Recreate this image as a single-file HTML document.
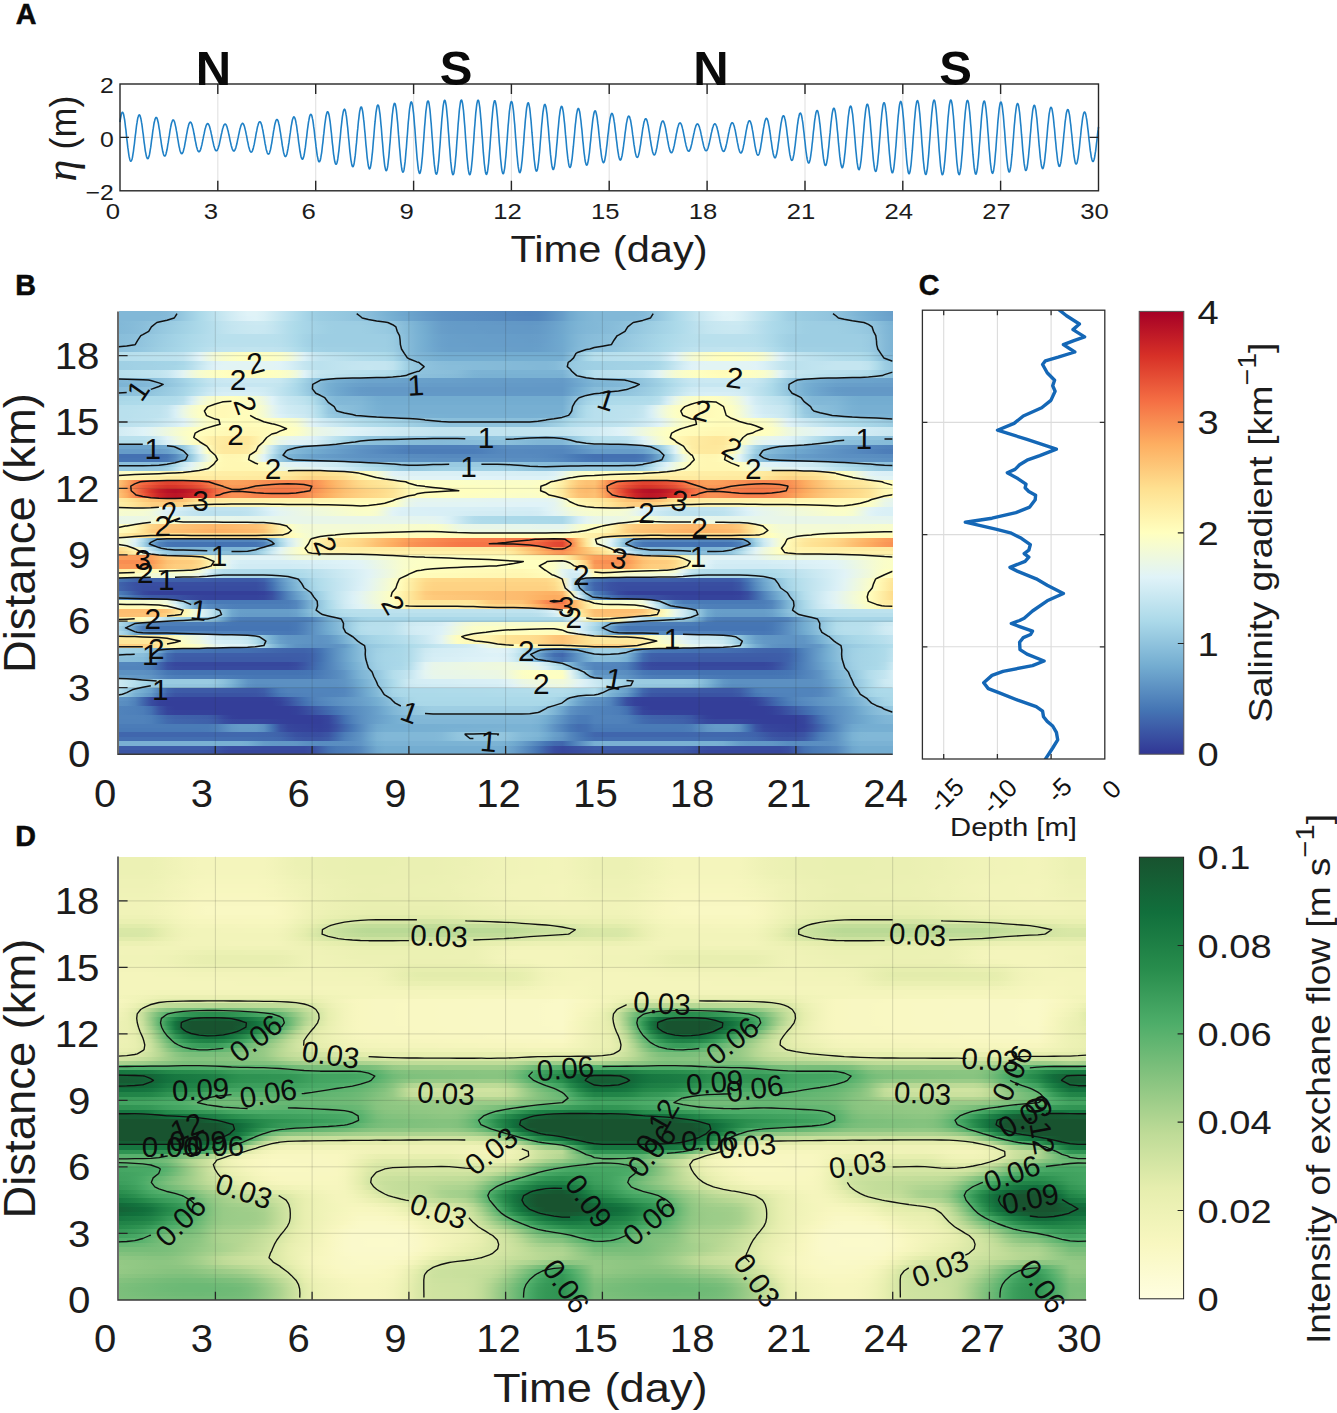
<!DOCTYPE html>
<html><head><meta charset="utf-8"><title>figure</title>
<style>
html,body{margin:0;padding:0;background:#fff}
#fig{position:relative;width:1337px;height:1413px;overflow:hidden;background:#fff;font-family:"Liberation Sans",sans-serif}
.hm{position:absolute;top:0;height:1413px;overflow:hidden}
.hm i{position:absolute;left:0;width:100%;display:block}
#ov{position:absolute;left:0;top:0}
svg text{font-family:"Liberation Sans",sans-serif}
svg .eta{font-family:"Liberation Serif",serif;font-style:italic;font-size:44px}
</style></head><body>
<div id="fig">
<div class="hm" style="left:118.6px;width:774px"><i style="top:749.57px;height:5.03px;background:linear-gradient(90deg,#3b56a5,#3b56a5,#3b56a5,#3b56a5,#3b56a5,#3b56a5,#3b56a5,#3b56a5,#3b56a5,#3b56a5,#3b56a5,#3b55a4,#3a52a3,#374a9f,#36469d,#36469d,#36469d,#36469d,#36469d,#36469d,#36469d,#36469d,#36469d,#36469d,#384ca0,#3e5ea8,#4370b1,#4878b6,#4b7cb8,#4e80ba,#5588be,#6298c6,#6fa7ce,#74add1,#74add1,#74add1,#74add1,#74add1,#74add1,#74add1,#74add1,#74add1,#74add1,#74add1,#74add1,#74add1,#74add1,#74add1,#71a9cf,#689fca,#5d91c3,#5183bb,#4473b3,#3e5ea9,#384ca0,#36469d,#37499f,#384da1,#3a51a2,#3b55a4,#3b56a5,#3b56a5,#3b56a5,#3b56a5,#3b56a5,#3b56a5,#3b56a5,#3b56a5,#3b56a5,#3b56a5,#3b55a4,#3a52a3,#374a9f,#36479d,#36469d,#36469d,#36469d,#36469d,#36469d,#36469d,#36469d,#36469d,#36469d,#384ca0,#3d5ca8,#436eb1,#4778b5,#4b7cb7,#4e80b9,#5487bd,#6197c5,#6ea6cd,#73acd1,#74add1,#74add1,#74add1,#74add1)"></i><i style="top:745.15px;height:5.03px;background:linear-gradient(90deg,#3d5da8,#3d5da8,#3d5da8,#3d5da8,#3d5da8,#3d5da8,#3d5da8,#3d5da8,#3d5da8,#3d5da8,#3d5da8,#3d5ca8,#3c59a6,#3a52a3,#394ea1,#394ea1,#394ea1,#384da0,#384ca0,#384ca0,#384ca0,#384ca0,#384ca0,#384ca0,#3a51a2,#3f61aa,#4472b3,#497ab6,#4c7db8,#4f81ba,#5689be,#6399c6,#70a8ce,#74add1,#74add1,#74add1,#74add1,#74add1,#74add1,#74add1,#74add1,#74add1,#74add1,#74add1,#74add1,#74add1,#74add1,#74add1,#71aacf,#699fca,#5d92c3,#5184bc,#4574b4,#3e5fa9,#394ea1,#37489e,#384da0,#3a52a3,#3c57a5,#3d5ca8,#3d5da8,#3d5da8,#3d5da8,#3d5da8,#3d5da8,#3d5da8,#3d5da8,#3d5da8,#3d5da8,#3d5da8,#3d5ca8,#3c59a6,#3a52a3,#394fa1,#394ea1,#394ea1,#384da0,#384ca0,#384ca0,#384ca0,#384ca0,#384ca0,#384ca0,#3951a2,#3e60aa,#4471b2,#4879b6,#4c7db8,#4f81ba,#5588be,#6297c6,#6fa7ce,#74add1,#74add1,#74add1,#74add1,#74add1)"></i><i style="top:740.72px;height:5.03px;background:linear-gradient(90deg,#7ab1d3,#7ab1d3,#7ab1d3,#7ab1d3,#7ab1d3,#7ab1d3,#7ab1d3,#7ab1d3,#7ab1d3,#7ab1d3,#7ab1d3,#7ab1d3,#79b1d3,#79b1d3,#79b1d3,#79b1d3,#75aed2,#6da5cd,#669cc8,#6399c7,#6398c6,#6298c6,#6196c5,#5d91c3,#598dc0,#588cc0,#598dc1,#5a8ec1,#5b8fc2,#5c90c2,#6095c5,#6ba2cb,#76afd2,#7ab2d4,#7bb2d4,#7bb2d4,#7bb2d4,#7bb2d4,#7bb2d4,#7bb2d4,#7bb3d4,#7bb3d4,#7bb3d4,#7cb3d4,#7cb3d4,#7cb3d4,#7cb3d4,#7bb3d4,#79b1d3,#71aacf,#689fca,#5d92c3,#5284bc,#4676b5,#426aaf,#4066ad,#4879b6,#588bc0,#689ec9,#78b0d3,#7ab1d3,#7ab1d3,#7ab1d3,#7ab1d3,#7ab1d3,#7ab1d3,#7ab1d3,#7ab1d3,#7ab1d3,#7ab1d3,#7ab1d3,#79b1d3,#79b1d3,#79b1d3,#79b1d3,#76aed2,#6ea6cd,#669dc9,#6399c7,#6398c6,#6298c6,#6196c5,#5d92c3,#598dc1,#598cc0,#598dc0,#5a8ec1,#5b8fc2,#5c90c2,#6095c4,#6aa1cb,#75aed1,#7ab2d4,#7bb2d4,#7bb2d4,#7bb2d4,#7bb2d4)"></i><i style="top:736.3px;height:5.03px;background:linear-gradient(90deg,#436eb1,#436eb1,#436eb1,#436eb1,#436eb1,#436eb1,#436eb1,#436eb1,#436eb1,#436eb1,#436eb1,#436eb1,#436eb1,#436eb1,#436eb1,#436eb1,#436eb0,#426db0,#426baf,#426baf,#4168ae,#3e60aa,#3c58a6,#3b55a4,#3b54a4,#3b55a4,#3d5ba7,#436db0,#4e80ba,#578bbf,#6095c5,#6ea6cd,#7cb3d4,#81b7d7,#81b7d7,#81b7d7,#81b7d7,#81b7d7,#81b7d7,#81b8d7,#84bad8,#8abfdb,#91c4de,#94c6df,#94c6df,#94c6df,#94c6df,#94c6df,#91c4de,#89beda,#82b8d7,#7eb5d5,#79b1d3,#70a8ce,#669cc8,#5f94c4,#5487bd,#4c7db8,#4575b4,#436eb1,#436eb1,#436eb1,#436eb1,#436eb1,#436eb1,#436eb1,#436eb1,#436eb1,#436eb1,#436eb1,#436eb1,#436eb1,#436eb1,#436eb1,#436eb1,#436eb0,#426db0,#426caf,#426baf,#4168ae,#3f61aa,#3c59a6,#3b55a4,#3b54a4,#3b55a4,#3d5ba7,#426cb0,#4d7fb9,#568abf,#5f94c4,#6da4cc,#7ab2d4,#80b7d6,#81b7d7,#81b7d7,#81b7d7,#81b7d7)"></i><i style="top:731.87px;height:5.03px;background:linear-gradient(90deg,#4066ad,#4066ad,#4066ad,#4066ad,#4066ad,#4066ad,#4066ad,#4066ad,#4066ad,#4066ad,#4066ad,#4066ad,#4067ad,#4167ad,#4168ad,#4168ae,#4168ae,#4168ae,#4167ad,#4066ac,#3f62aa,#3c59a6,#3951a2,#384ea1,#384da0,#394ea1,#3b55a4,#4169ae,#4c7db8,#5689be,#5f94c4,#6ea5cd,#7cb3d4,#81b7d7,#81b8d7,#81b8d7,#81b8d7,#81b8d7,#81b8d7,#82b8d7,#84bad8,#8bc0db,#92c5de,#95c7df,#95c8df,#95c8df,#95c8df,#95c7df,#92c5de,#8bc0db,#84bad8,#81b8d7,#7eb5d5,#73acd1,#69a0ca,#6297c6,#5487bd,#4a7bb7,#4370b2,#4167ad,#4066ad,#4066ad,#4066ad,#4066ad,#4066ad,#4066ad,#4066ad,#4066ad,#4066ad,#4066ad,#4066ad,#4067ad,#4167ad,#4168ad,#4168ae,#4168ae,#4168ae,#4167ad,#4066ad,#3f62ab,#3c5aa6,#3a51a2,#394ea1,#384da0,#394ea1,#3b54a4,#4167ad,#4b7cb8,#5588be,#5f94c4,#6ca4cc,#7ab2d4,#80b7d6,#81b8d7,#81b8d7,#81b8d7,#81b8d7)"></i><i style="top:727.44px;height:5.03px;background:linear-gradient(90deg,#497ab7,#497ab7,#497ab7,#497ab7,#497ab7,#497ab7,#497ab7,#497ab7,#497ab7,#497ab7,#497ab7,#4a7bb7,#4d7fb9,#578abf,#6196c5,#649ac7,#649ac7,#6399c7,#5b90c2,#4574b3,#3a54a4,#36479d,#36449c,#35439b,#35429b,#34419a,#36459c,#3b54a4,#4168ad,#497ab7,#578bbf,#669cc8,#71a9cf,#75aed1,#76aed2,#76afd2,#76afd2,#77afd2,#77afd2,#77b0d2,#78b0d3,#79b1d3,#7ab2d4,#7ab2d4,#7bb2d4,#7bb3d4,#7bb3d4,#7cb3d4,#7cb3d4,#7bb3d4,#7bb3d4,#7bb2d4,#77afd2,#6ca3cc,#5e93c4,#5285bc,#4677b5,#436eb1,#4370b1,#4979b6,#497ab7,#497ab7,#497ab7,#497ab7,#497ab7,#497ab7,#497ab7,#497ab7,#497ab7,#497ab7,#4a7bb7,#4d7eb9,#5689be,#6095c5,#6499c7,#649ac7,#6499c7,#5c90c2,#4676b5,#3b56a5,#37489e,#36459c,#35439b,#35429b,#34419a,#36459c,#3a53a3,#4066ad,#4879b6,#568abf,#659bc8,#70a8cf,#75aed1,#76aed2,#76afd2,#76afd2,#77afd2)"></i><i style="top:723.02px;height:5.03px;background:linear-gradient(90deg,#4b7cb8,#4b7cb8,#4b7cb8,#4b7cb8,#4b7cb8,#4b7cb7,#4a7bb7,#4a7bb7,#4a7bb7,#4a7bb7,#4a7bb7,#4a7bb7,#4e7fb9,#578bbf,#6197c6,#659bc8,#659bc8,#649ac7,#5c90c2,#4473b3,#3a52a3,#36459c,#35439b,#35429b,#34409a,#34409a,#35449c,#3a52a3,#4066ad,#4879b6,#578abf,#659bc8,#70a8ce,#74add1,#75aed1,#75aed2,#76aed2,#76afd2,#77afd2,#77afd2,#77b0d2,#78b0d3,#78b0d3,#78b0d3,#79b1d3,#79b1d3,#79b1d3,#7ab1d3,#7ab2d4,#7ab2d4,#7ab2d4,#7ab2d4,#76afd2,#6ba3cc,#5e92c3,#5184bc,#4676b4,#436db0,#4370b2,#4a7bb7,#4b7cb8,#4b7cb8,#4b7cb8,#4b7cb8,#4b7cb7,#4a7bb7,#4a7bb7,#4a7bb7,#4a7bb7,#4a7bb7,#4a7bb7,#4d7fb9,#578abf,#6196c5,#659bc8,#659bc8,#659bc7,#5d91c3,#4575b4,#3b54a4,#36469d,#35439b,#35429b,#34419a,#34409a,#35439c,#3a51a2,#4064ac,#4778b5,#5689be,#649ac7,#6fa7ce,#73acd1,#75add1,#75aed2,#76aed2,#76afd2)"></i><i style="top:718.59px;height:5.03px;background:linear-gradient(90deg,#5082bb,#5082bb,#5082bb,#5082bb,#4d7fb9,#4576b4,#426baf,#4066ad,#4065ac,#4064ab,#3f62ab,#3f61aa,#3d5ba7,#394fa1,#37489e,#36479d,#36479d,#36479d,#36469d,#35439b,#34409a,#343f99,#343e99,#343e99,#343e99,#343f99,#36459d,#3c59a6,#4471b2,#5082bb,#5b8fc1,#6298c6,#69a0ca,#6fa7ce,#74add1,#7ab2d4,#7fb6d6,#81b7d6,#81b7d7,#81b7d7,#81b7d7,#81b7d7,#81b7d7,#81b7d7,#81b7d7,#81b7d7,#81b7d7,#81b7d7,#81b7d7,#81b7d7,#81b7d7,#81b7d7,#7db4d5,#73acd0,#679ec9,#5b90c2,#5082bb,#4a7bb7,#4a7bb7,#5082bb,#5082bb,#5082bb,#5082bb,#4e7fb9,#4676b5,#426caf,#4067ad,#4065ac,#4064ac,#3f63ab,#3f61aa,#3d5ba7,#3950a2,#37499e,#36479d,#36479d,#36479d,#36469d,#35439b,#34409a,#343f99,#343e99,#343e99,#343e99,#343f99,#36459c,#3c58a6,#436fb1,#4f80ba,#5a8ec1,#6297c6,#689fca,#6ea6cd,#74add1,#7ab2d4,#7fb5d6,#80b7d6)"></i><i style="top:714.17px;height:5.03px;background:linear-gradient(90deg,#5183bb,#5183bb,#5183bb,#5082bb,#4d7fb9,#4574b3,#4168ad,#3f63ab,#3f61aa,#3e60aa,#3e5fa9,#3d5da8,#3b56a5,#37489e,#34409a,#343e99,#343e99,#343e99,#343e99,#343e99,#343e99,#343e99,#343e99,#343e99,#343f99,#34409a,#36479d,#3d5ba7,#4472b3,#5183bb,#5b8fc2,#6298c6,#689fca,#6ea6ce,#74add1,#7bb3d4,#80b7d6,#82b8d7,#83b9d7,#83b9d7,#83b9d7,#83b9d7,#83b9d7,#83b9d7,#83b9d7,#83b9d7,#83b9d7,#83b9d7,#83b9d7,#83b9d7,#83b9d7,#82b9d7,#7fb6d6,#75aed1,#69a0ca,#5d92c3,#5184bc,#4b7cb8,#4b7cb8,#5082bb,#5183bb,#5183bb,#5082bb,#4d7fb9,#4575b4,#4169ae,#3f63ab,#3f61aa,#3e60aa,#3e5fa9,#3d5da8,#3b57a5,#37499e,#34419a,#343e99,#343e99,#343e99,#343e99,#343e99,#343e99,#343e99,#343e99,#343e99,#343f99,#34409a,#36469d,#3c59a6,#4471b2,#5082bb,#5a8ec1,#6297c6,#689fc9,#6ea6cd,#74add1,#7bb2d4,#80b7d6,#82b8d7)"></i><i style="top:709.74px;height:5.03px;background:linear-gradient(90deg,#5083bb,#4f81ba,#4e80ba,#4c7db8,#4471b2,#3b56a5,#36459c,#35419b,#35419a,#34419a,#34419a,#34419a,#34409a,#343f99,#343e99,#343e99,#343e99,#343e99,#343e99,#343e99,#343e99,#343e99,#34419a,#37499e,#3a53a3,#3e5ea9,#416aae,#4676b5,#4f81ba,#5689bf,#5c91c2,#6298c6,#6aa1cb,#73acd1,#7fb6d6,#87bcd9,#8ec2dc,#94c7df,#99cbe1,#9bcce2,#9bcce2,#9bcce2,#9bcce2,#9bcce2,#9bcce2,#9bcce2,#9bcce2,#9bcce2,#9bcce2,#9bcce2,#9bcce2,#9bcce2,#97c9e0,#8dc1dc,#7eb5d5,#6da4cd,#5c90c2,#5588be,#5285bc,#5083bb,#4f81ba,#4e80ba,#4c7db8,#4472b3,#3c58a6,#36469d,#35429b,#35419a,#34419a,#34419a,#34419a,#34409a,#343f99,#343e99,#343e99,#343e99,#343e99,#343e99,#343e99,#343e99,#343e99,#34419a,#37489e,#3a53a3,#3e5da8,#4169ae,#4575b4,#4e80ba,#5589be,#5c90c2,#6298c6,#69a0ca,#73abd0,#7eb5d5,#87bcd9,#8ec1dc,#94c7df)"></i><i style="top:705.31px;height:5.03px;background:linear-gradient(90deg,#5183bb,#5082bb,#4e80b9,#4b7cb8,#436fb1,#3a52a3,#35429b,#343e99,#343e99,#343e99,#343e99,#343e99,#343e99,#343e99,#343e99,#343e99,#343e99,#343e99,#343e99,#343e99,#343e99,#343f99,#35429b,#384ca0,#3c57a5,#3f63ab,#436eb1,#4979b6,#5183bb,#578bbf,#5d92c3,#6399c6,#6aa1cb,#75add1,#80b7d6,#89beda,#90c4dd,#97c9e0,#9ccde2,#9ecee3,#9ecee3,#9ecee3,#9ecee3,#9ecee3,#9ecee3,#9ecee3,#9ecee3,#9ecee3,#9ecee3,#9ecee3,#9ecee3,#9dcee3,#9acbe2,#90c3dd,#81b8d7,#70a8ce,#5e93c4,#578abf,#5386bd,#5183bb,#5082bb,#4e80ba,#4b7cb8,#4370b1,#3b55a4,#35439b,#343e99,#343e99,#343e99,#343e99,#343e99,#343e99,#343e99,#343e99,#343e99,#343e99,#343e99,#343e99,#343e99,#343e99,#343f99,#35429b,#384b9f,#3b56a5,#3f62ab,#436db0,#4878b6,#5082bb,#578abf,#5c91c2,#6298c6,#6aa1cb,#74add1,#7fb6d6,#89bdda,#90c3dd,#96c9e0)"></i><i style="top:700.89px;height:5.03px;background:linear-gradient(90deg,#5b8fc1,#588cc0,#4f81ba,#4167ad,#384ca0,#34419a,#343e99,#343e99,#343e99,#343e99,#343e99,#343e99,#343e99,#343e99,#343e99,#343e99,#343e99,#343e99,#343e99,#343e99,#35439b,#3950a2,#3f61aa,#4471b2,#4c7db8,#5284bc,#568abf,#5b8fc1,#5f94c4,#6399c7,#689ec9,#6da5cd,#75aed1,#81b7d7,#8ec2dc,#9bcce2,#a5d4e6,#a9d7e8,#aad8e8,#aad8e8,#aad8e8,#aad8e8,#aad8e8,#aad8e8,#aad8e8,#aad8e8,#aad8e8,#aad8e8,#aad8e8,#aad8e8,#aad8e8,#aad8e8,#a9d8e8,#a8d7e8,#a4d3e6,#99cae1,#7fb6d6,#6ca4cc,#6196c5,#5b8fc2,#588cc0,#5082bb,#416aae,#394ea1,#35419b,#343e99,#343e99,#343e99,#343e99,#343e99,#343e99,#343e99,#343e99,#343e99,#343e99,#343e99,#343e99,#343e99,#343e99,#35429b,#394fa1,#3e60aa,#4370b1,#4b7cb8,#5184bc,#5689bf,#5a8ec1,#5f94c4,#6399c6,#679ec9,#6da4cd,#74add1,#80b6d6,#8dc1dc,#9acce2,#a4d4e6,#a9d7e8)"></i><i style="top:696.46px;height:5.03px;background:linear-gradient(90deg,#5f93c4,#5b8fc2,#5183bb,#4168ae,#384ca0,#35419b,#343f9a,#343f99,#343f99,#343f99,#343f99,#343f99,#343f99,#343f99,#343f99,#343f99,#343f99,#343f99,#343f99,#34409a,#36469d,#3a54a4,#4065ac,#4575b4,#4f80ba,#5487bd,#588cc0,#5c90c2,#6095c5,#649ac7,#69a0ca,#6fa6ce,#76afd2,#83b9d7,#90c4dd,#9dcee3,#a7d6e7,#abd9e9,#abd9e9,#abd9e9,#abd9e9,#abd9e9,#abd9e9,#abd9e9,#abd9e9,#abd9e9,#abd9e9,#abd9e9,#abd9e9,#abd9e9,#abd9e9,#abd9e9,#abd9e9,#abd9e9,#a8d6e7,#9ecee3,#84bad8,#70a9cf,#659bc8,#5f94c4,#5b90c2,#5284bc,#426baf,#394ea1,#35429b,#343f9a,#343f99,#343f99,#343f99,#343f99,#343f99,#343f99,#343f99,#343f99,#343f99,#343f99,#343f99,#343f99,#34409a,#36459c,#3a53a3,#4064ac,#4574b3,#4e80b9,#5487bd,#588cc0,#5c90c2,#6095c4,#649ac7,#689fca,#6ea6cd,#76aed2,#82b8d7,#8fc3dd,#9ccde3,#a7d5e7,#aad9e9)"></i><i style="top:692.04px;height:5.03px;background:linear-gradient(90deg,#a8d6e8,#91c4dd,#78b0d3,#6ca4cc,#6096c5,#4a7bb7,#3e5ea9,#3b54a4,#3a53a4,#3a53a3,#3a53a3,#3a53a3,#3a53a3,#3a53a3,#3a53a3,#3a53a3,#3a53a4,#3b54a4,#3c59a6,#4169ae,#4879b6,#4d7fb9,#4f80ba,#5082bb,#5183bb,#5183bb,#5184bc,#5285bc,#5588be,#5d92c3,#689fca,#74add1,#82b9d7,#94c7df,#a4d3e6,#aad8e8,#abd9e9,#acd9e9,#acdae9,#acdae9,#addae9,#addaea,#addaea,#addaea,#aedaea,#aedaea,#aedbea,#afdbea,#afdbea,#afdbea,#afdbea,#b0dbea,#b0dbea,#b0dcea,#b0dcea,#afdbea,#aad8e9,#a3d2e5,#a2d2e5,#a7d6e7,#92c5de,#7ab2d4,#6da5cd,#6197c5,#4b7db8,#3f61aa,#3b55a4,#3a54a4,#3a53a3,#3a53a3,#3a53a3,#3a53a3,#3a53a3,#3a53a3,#3a53a3,#3a53a4,#3a54a4,#3c59a6,#4168ae,#4778b5,#4d7eb9,#4f80ba,#5082bb,#5083bb,#5183bb,#5184bc,#5284bc,#5588be,#5d91c3,#679ec9,#73abd0,#81b8d7,#93c6de,#a2d2e5,#a9d8e8,#abd9e9,#acd9e9)"></i><i style="top:687.61px;height:5.03px;background:linear-gradient(90deg,#b0dcea,#98cae1,#7fb6d6,#73acd0,#689fca,#5183bb,#4066ad,#3d5ca8,#3d5ba7,#3d5ba7,#3d5ba7,#3d5ba7,#3d5ba7,#3d5aa7,#3c5aa7,#3c59a6,#3c58a6,#3c58a6,#3e5ea9,#436fb1,#4c7eb9,#5183bb,#5183bb,#5184bc,#5184bc,#5184bc,#5184bc,#5184bc,#5487be,#5d92c3,#69a0ca,#75aed1,#84bad8,#96c8e0,#a6d5e7,#acd9e9,#addaea,#addaea,#aedaea,#aedaea,#aedbea,#afdbea,#afdbea,#afdbea,#b0dbea,#b0dbea,#b0dcea,#b1dceb,#b1dceb,#b2dceb,#b2ddeb,#b3ddeb,#b3ddeb,#b3ddeb,#b4ddeb,#b4ddeb,#b0dbea,#aad8e9,#aad8e9,#b0dbea,#9acbe2,#81b7d7,#74add1,#69a0ca,#5285bc,#4169ae,#3d5da8,#3d5ba7,#3d5ba7,#3d5ba7,#3d5ba7,#3d5ba7,#3d5aa7,#3c5aa7,#3c59a6,#3c58a6,#3c58a6,#3e5ea8,#436db0,#4c7db8,#5083bb,#5183bb,#5184bc,#5184bc,#5184bc,#5184bc,#5184bc,#5487bd,#5d91c3,#689ec9,#74add1,#83b9d7,#95c7df,#a4d4e6,#abd9e9,#addaea,#addaea)"></i><i style="top:683.18px;height:5.03px;background:linear-gradient(90deg,#cce9f2,#c1e4ef,#b3ddeb,#a6d5e7,#9ccde2,#96c8e0,#93c6df,#93c6de,#93c5de,#93c5de,#93c5de,#92c5de,#8fc3dd,#86bbd9,#78b0d3,#69a0ca,#5d91c3,#598dc0,#598dc0,#5a8ec1,#5b8fc2,#5b90c2,#5b90c2,#5b90c2,#5b90c2,#5b90c2,#5b90c2,#5c90c2,#5f94c4,#689ec9,#73acd0,#81b7d6,#8ec2dd,#9dcee3,#acdae9,#bde2ee,#cbe8f2,#cfebf3,#d0ebf4,#d1ecf4,#d1ecf4,#d2ecf4,#d3ecf4,#d3edf4,#d4edf4,#d4edf5,#d5edf5,#d5eef5,#d9f0f6,#e1f3f6,#e6f5ec,#e9f6e8,#eaf7e6,#eaf7e5,#ebf7e4,#ecf8e2,#e7f6eb,#e1f3f6,#d7eff6,#cdeaf3,#c2e4f0,#b4deec,#a7d6e7,#9dcde3,#97c9e0,#94c6df,#93c6de,#93c5de,#93c5de,#93c5de,#92c5de,#8fc3dd,#86bcd9,#79b1d3,#6aa1cb,#5e93c3,#598dc0,#598dc0,#5a8ec1,#5b8fc2,#5b90c2,#5b90c2,#5b90c2,#5b90c2,#5b90c2,#5b90c2,#5c90c2,#5e93c4,#679dc9,#72abd0,#7fb6d6,#8dc1dc,#9ccde2,#abd9e9,#bce1ee,#c9e8f2,#cfebf3)"></i><i style="top:678.76px;height:5.03px;background:linear-gradient(90deg,#cbe9f2,#c1e4ef,#b5deec,#a8d7e8,#9ecfe3,#9acce2,#99cbe1,#99cbe1,#99cbe1,#99cbe1,#99cbe1,#99cbe1,#96c8e0,#8cc0db,#7db4d5,#6da4cc,#6095c5,#5c90c2,#5c90c2,#5c90c2,#5c90c2,#5c90c2,#5c90c2,#5c90c2,#5c90c2,#5c90c2,#5c90c2,#5d91c3,#6095c4,#69a0ca,#74add1,#82b8d7,#90c3dd,#9ecee3,#addaea,#bee3ee,#cdeaf3,#d3edf4,#d5edf5,#d5eef5,#d6eef5,#d6eef5,#d7eff5,#d8eff6,#d8eff6,#d9eff6,#d9f0f6,#daf0f6,#def2f7,#e4f5f0,#eaf7e5,#edf8e0,#eef8df,#eff9dd,#eff9dc,#f0f9db,#eaf7e6,#e3f4f2,#d9eff6,#cce9f2,#c2e4ef,#b6deec,#a9d7e8,#9fcfe4,#9bcce2,#9acbe1,#99cbe1,#99cbe1,#99cbe1,#99cbe1,#99cbe1,#96c8e0,#8cc1dc,#7eb5d5,#6ea6cd,#6197c5,#5c91c2,#5c90c2,#5c90c2,#5c90c2,#5c90c2,#5c90c2,#5c90c2,#5c90c2,#5c90c2,#5c90c2,#5c91c2,#5f94c4,#689fca,#73acd1,#81b7d7,#8fc2dd,#9dcde3,#acd9e9,#bde2ee,#cce9f2,#d2ecf4)"></i><i style="top:674.33px;height:5.03px;background:linear-gradient(90deg,#659cc8,#659bc7,#6499c7,#6298c6,#5f94c4,#578abf,#4f81ba,#4c7eb9,#4c7db8,#4c7db8,#4c7db8,#4c7db8,#4c7db8,#4b7cb8,#4a7bb7,#4979b6,#4778b6,#4777b5,#4777b5,#4777b5,#4777b5,#4777b5,#4777b5,#4778b5,#4879b6,#4d7eb9,#5284bc,#578bbf,#6095c4,#6ea5cd,#7db4d5,#88bdda,#93c6de,#a3d3e6,#b3ddeb,#bce1ee,#c5e6f0,#d6eef5,#e3f4f2,#e7f6ec,#e7f6eb,#e8f6ea,#e8f6e9,#e8f6e9,#e9f6e8,#e9f7e7,#eaf7e6,#eaf7e5,#edf8e0,#f4fbd4,#fbfdc7,#fdfec2,#fdfec2,#fefec2,#fefec2,#fefec1,#e6f5ec,#c0e3ef,#93c6df,#689fca,#659bc8,#649ac7,#6298c6,#5f94c4,#588bbf,#5082bb,#4d7eb9,#4c7db8,#4c7db8,#4c7db8,#4c7db8,#4c7db8,#4b7cb8,#4a7bb7,#4979b6,#4878b6,#4777b5,#4777b5,#4777b5,#4777b5,#4777b5,#4777b5,#4778b5,#4879b6,#4c7eb8,#5184bc,#578abf,#5f94c4,#6da4cc,#7cb3d4,#87bcd9,#92c5de,#a2d2e5,#b2dceb,#bbe1ee,#c4e5f0,#d4edf5)"></i><i style="top:669.91px;height:5.03px;background:linear-gradient(90deg,#5c91c2,#5c91c2,#5c91c2,#5c90c2,#598dc0,#5082bb,#4778b5,#4574b3,#4473b3,#4473b3,#4473b3,#4473b3,#4473b3,#4473b3,#4473b3,#4473b3,#4473b3,#4473b3,#4473b3,#4473b3,#4473b3,#4473b3,#4473b3,#4574b4,#4676b5,#4b7cb8,#5183bb,#578bbf,#6095c5,#6ea6ce,#7eb5d5,#89beda,#94c6df,#a4d3e6,#b3ddeb,#bbe1ee,#c4e5f0,#d6eef5,#e4f5f1,#e8f6ea,#e9f6e8,#e9f6e8,#e9f7e7,#eaf7e6,#eaf7e5,#ebf7e5,#ebf7e4,#ecf7e3,#eef8de,#f5fbd1,#fcfec5,#feffc1,#feffc1,#fdfec2,#fdfec3,#fcfec4,#e4f4f1,#b9e0ed,#8abfdb,#5f94c4,#5c91c2,#5c91c2,#5c90c2,#598dc0,#5183bb,#4878b6,#4574b4,#4573b3,#4473b3,#4473b3,#4473b3,#4473b3,#4473b3,#4473b3,#4473b3,#4473b3,#4473b3,#4473b3,#4473b3,#4473b3,#4473b3,#4473b3,#4574b4,#4676b5,#4a7bb7,#5082bb,#578abf,#5f94c4,#6da5cd,#7db4d5,#88bdda,#93c6de,#a3d2e5,#b2dceb,#bae1ed,#c3e5f0,#d4edf5)"></i><i style="top:665.48px;height:5.03px;background:linear-gradient(90deg,#5284bc,#5284bc,#5284bc,#5184bc,#4c7db8,#4168ae,#3a52a3,#384b9f,#374a9f,#374a9f,#374a9f,#374a9f,#374a9f,#374a9f,#374a9f,#374a9f,#374a9f,#374a9f,#374a9f,#374a9f,#374a9f,#374a9f,#394ea1,#3c59a6,#4067ad,#4676b4,#5183bb,#5c90c2,#689ec9,#74acd1,#82b8d7,#92c5de,#9fcfe4,#a5d4e7,#a9d7e8,#acd9e9,#b5deec,#cdeaf3,#e3f4f3,#e8f6e9,#e9f7e7,#eaf7e6,#ebf7e4,#ebf7e3,#ecf8e2,#edf8e0,#eef8df,#eef9de,#eff9dd,#eef8de,#edf8e0,#ebf7e3,#e6f5ec,#d8eff6,#c2e4ef,#aedbea,#89beda,#6da4cd,#5c91c2,#5285bc,#5284bc,#5284bc,#5184bc,#4c7db8,#416aae,#3a54a4,#384b9f,#374a9f,#374a9f,#374a9f,#374a9f,#374a9f,#374a9f,#374a9f,#374a9f,#374a9f,#374a9f,#374a9f,#374a9f,#374a9f,#374a9f,#384da1,#3c58a6,#4066ac,#4575b4,#5082bb,#5b8fc2,#679dc9,#73abd0,#81b7d7,#91c4dd,#9ecee3,#a5d4e6,#a8d7e8,#abd9e9,#b4deec,#cbe9f2)"></i><i style="top:661.05px;height:5.03px;background:linear-gradient(90deg,#5386bd,#5386bd,#5386bd,#5285bc,#4c7eb8,#4167ad,#3950a2,#37479e,#36479d,#36479d,#36479d,#36479d,#36479d,#36479d,#36479d,#36479d,#36479d,#36479d,#36479d,#36479d,#36479d,#36479d,#384b9f,#3b56a5,#4065ac,#4575b4,#5183bb,#5d91c3,#689fca,#74add1,#83b9d7,#93c6de,#a0d0e4,#a5d5e7,#a8d6e8,#aad8e9,#b3ddeb,#cce9f2,#e2f4f4,#e8f6ea,#e9f6e8,#e9f7e7,#eaf7e5,#ebf7e4,#ecf8e2,#edf8e1,#edf8df,#eef8de,#eef8de,#edf8e1,#eaf7e5,#e7f6eb,#e1f4f6,#cdeaf3,#b5deec,#a0d0e4,#7eb5d5,#669dc9,#598dc1,#5386bd,#5386bd,#5386bd,#5285bc,#4d7eb9,#4169ae,#3a51a3,#37489e,#36479d,#36479d,#36479d,#36479d,#36479d,#36479d,#36479d,#36479d,#36479d,#36479d,#36479d,#36479d,#36479d,#36479d,#384b9f,#3b55a4,#4064ac,#4574b3,#5082bb,#5c90c2,#679ec9,#73acd1,#82b8d7,#92c5de,#9fcfe4,#a5d4e6,#a7d6e7,#aad8e8,#b3ddeb,#cae8f2)"></i><i style="top:656.63px;height:5.03px;background:linear-gradient(90deg,#89beda,#88bdda,#86bcd9,#84bad8,#77afd2,#598dc1,#416aaf,#3d5da8,#3d5ba7,#3d5ba7,#3d5ba7,#3d5ba7,#3d5ba7,#3d5ba7,#3d5ba7,#3d5ba7,#3d5ba7,#3d5ba7,#3d5ba7,#3d5ba7,#3d5ba7,#3d5ba7,#3d5ca8,#3d5da8,#3f63ab,#4472b2,#5083bb,#5e93c3,#6ba2cb,#79b1d3,#88bdda,#96c8e0,#a1d1e5,#a6d5e7,#a8d6e8,#aad8e8,#b0dcea,#c0e3ef,#d0ebf3,#d6eef5,#d8eff6,#d9f0f6,#daf0f6,#dcf1f7,#ddf2f7,#def2f8,#e0f3f8,#e0f3f7,#ddf1f7,#cfebf3,#b8e0ed,#98cae1,#75aed1,#5c90c2,#497ab7,#4471b2,#5083bb,#6196c5,#73abd0,#87bdd9,#88bdda,#87bcd9,#84bad8,#78b0d3,#5c90c2,#426db0,#3e5ea8,#3d5ba7,#3d5ba7,#3d5ba7,#3d5ba7,#3d5ba7,#3d5ba7,#3d5ba7,#3d5ba7,#3d5ba7,#3d5ba7,#3d5ba7,#3d5ba7,#3d5ba7,#3d5ba7,#3d5ca8,#3d5da8,#3f63ab,#4471b2,#4f81ba,#5d91c3,#6aa1cb,#77b0d3,#86bcd9,#95c7df,#a0d0e4,#a5d4e6,#a7d6e7,#aad8e8,#b0dbea,#bfe3ef)"></i><i style="top:652.2px;height:5.03px;background:linear-gradient(90deg,#8fc3dd,#8ec2dc,#8cc0dc,#8abeda,#7cb4d5,#5d91c3,#426db0,#3e5fa9,#3e5ea9,#3e5ea9,#3e5ea9,#3e5ea9,#3e5ea9,#3e5ea9,#3e5ea9,#3e5ea9,#3e5ea9,#3e5ea9,#3e5ea9,#3e5ea8,#3e5ea8,#3e5da8,#3e5da8,#3e5ea9,#3f63ab,#4472b2,#5083bb,#5e93c3,#6ba2cc,#79b1d3,#88bdda,#96c8e0,#a1d1e5,#a6d5e7,#a8d6e7,#aad8e8,#b0dbea,#bfe3ef,#ceeaf3,#d4edf5,#d5eef5,#d7eef5,#d8eff6,#d9f0f6,#dbf0f7,#dcf1f7,#ddf2f7,#def2f8,#daf0f6,#cbe9f2,#b3ddeb,#90c3dd,#6ca4cc,#5285bc,#436fb1,#4167ad,#4d7eb9,#6196c5,#76aed2,#8dc1dc,#8ec2dc,#8cc1dc,#8abedb,#7db4d5,#5f94c4,#4370b2,#3e60aa,#3e5ea9,#3e5ea9,#3e5ea9,#3e5ea9,#3e5ea9,#3e5ea9,#3e5ea9,#3e5ea9,#3e5ea9,#3e5ea9,#3e5ea9,#3e5ea8,#3e5ea8,#3e5da8,#3e5da8,#3e5ea9,#3f62ab,#4470b2,#4f81ba,#5d91c3,#6aa1cb,#78b0d3,#87bcd9,#95c7df,#a0d0e4,#a5d4e6,#a7d6e7,#aad8e8,#afdbea,#bee2ee)"></i><i style="top:647.78px;height:5.03px;background:linear-gradient(90deg,#a2d2e5,#a1d1e5,#9fd0e4,#9dcee3,#90c3dd,#6fa6ce,#5184bc,#4778b5,#4676b5,#4676b5,#4575b4,#4573b3,#4472b2,#4471b2,#4471b2,#4471b2,#4370b1,#436db0,#426aaf,#4168ad,#4065ac,#3f64ab,#3f63ab,#3f63ab,#4167ad,#4574b4,#5184bc,#5e93c3,#6aa2cb,#79b1d3,#88bdda,#96c8e0,#a0d0e4,#a5d4e6,#a7d6e7,#a9d8e8,#b0dbea,#bee2ee,#cce9f2,#d2ecf4,#d4edf5,#d5eef5,#d7eef5,#d8eff6,#daf0f6,#ddf1f7,#e0f3f8,#e1f3f6,#dff2f8,#d2ecf4,#bce2ee,#9dcee3,#7bb3d4,#6398c6,#5285bc,#4d7fb9,#5f94c4,#72abd0,#89beda,#a0d0e4,#a1d1e5,#9fd0e4,#9dcee3,#91c4de,#71a9cf,#5487bd,#4879b6,#4676b5,#4676b5,#4575b4,#4574b3,#4472b2,#4471b2,#4471b2,#4471b2,#4370b1,#436db0,#426baf,#4168ae,#4065ac,#4064ab,#3f63ab,#3f63ab,#4067ad,#4473b3,#5083bb,#5d91c3,#69a0ca,#77b0d2,#87bcd9,#95c7df,#9fd0e4,#a4d4e6,#a7d6e7,#a9d8e8,#afdbea,#bde2ee)"></i><i style="top:643.35px;height:5.03px;background:linear-gradient(90deg,#fed081,#fed081,#fed081,#fed182,#fed888,#fee79b,#fff5af,#fffbb8,#fffdbc,#feffc0,#fafdc9,#f0f9db,#e6f5ed,#e2f4f4,#e1f3f6,#dff3f8,#d7eff5,#c1e4ef,#a6d5e7,#8bbfdb,#74add1,#669dc9,#5e93c3,#5b90c2,#5b8fc2,#5c90c2,#5c91c2,#5e92c3,#649ac7,#75aed2,#8abedb,#94c7df,#99cbe1,#9ecfe3,#a3d2e5,#a7d6e7,#acdae9,#b3ddeb,#bae0ed,#c0e4ef,#c6e6f1,#cae8f2,#cde9f2,#cfebf3,#d6eef5,#e3f4f2,#eef8de,#f5fbd1,#fbfec6,#fffebd,#fff9b6,#fff6b1,#fff4ae,#fff4ae,#fff4ae,#fff4ae,#feeda4,#fee698,#fedd8d,#fed182,#fed081,#fed081,#fed182,#fed788,#fee69a,#fff4ae,#fffab8,#fffdbc,#ffffc0,#fafdc8,#f1f9d9,#e7f6eb,#e3f4f3,#e1f3f6,#e0f3f8,#d8eff6,#c3e5f0,#a8d7e8,#8dc1dc,#76aed2,#689ec9,#5f94c4,#5c90c2,#5b8fc2,#5c90c2,#5c91c2,#5e92c3,#6499c7,#74add1,#88bdda,#93c6df,#99cbe1,#9ecee3,#a2d2e5,#a7d6e7,#acd9e9,#b2ddeb)"></i><i style="top:638.92px;height:5.03px;background:linear-gradient(90deg,#fee699,#fee699,#fee699,#fee699,#fee699,#fee89b,#feeca3,#fff7b3,#fbfec5,#f5fbd2,#eff9dc,#e5f5ee,#daf0f6,#d4edf5,#d2ecf4,#cfebf3,#c7e7f1,#b0dcea,#94c6df,#7ab2d4,#69a0ca,#6298c6,#6096c5,#5f94c4,#5e93c4,#5e92c3,#6096c5,#6aa1cb,#79b1d3,#8abeda,#98cae1,#a0d0e4,#a5d4e6,#aad8e8,#aedbea,#b3ddeb,#b9e0ed,#c1e4ef,#cae8f2,#d5edf5,#e2f4f4,#f0f9da,#fefec2,#fffbb9,#fffab7,#fff8b4,#fff4ae,#feeca3,#fee598,#fee293,#fee090,#fede8e,#feda8a,#fed182,#fec87a,#fdc577,#fecc7e,#fed586,#fedf8f,#fee598,#fee699,#fee699,#fee699,#fee699,#fee79b,#feeca2,#fff6b2,#fcfec4,#f5fbd1,#eff9dc,#e6f5ed,#dbf1f7,#d4edf5,#d2ecf4,#d0ebf3,#c7e7f1,#b2dceb,#96c8e0,#7cb4d5,#6aa2cb,#6399c6,#6196c5,#5f94c4,#5e93c4,#5e93c3,#6095c5,#6aa0cb,#77b0d2,#88bdda,#97c9e0,#a0d0e4,#a5d4e6,#a9d8e8,#aedaea,#b2ddeb,#b8dfed,#c0e3ef)"></i><i style="top:634.5px;height:5.03px;background:linear-gradient(90deg,#feeba1,#feeca2,#feeda3,#feeda4,#feeda4,#feeea5,#fff1aa,#fffcbb,#f6fbd0,#eff9dc,#e9f7e7,#e0f3f8,#d2ecf4,#cce9f2,#cae8f2,#c8e7f1,#bfe3ef,#aad8e8,#8ec2dc,#76afd2,#669dc9,#6196c5,#5f95c4,#5f94c4,#5e93c4,#5e93c4,#6297c6,#6ca4cc,#7cb3d4,#8dc1dc,#9bcce2,#a2d2e5,#a7d6e7,#abd9e9,#b0dbea,#b5deec,#bbe1ed,#c3e5f0,#cce9f2,#d7eef5,#e3f4f2,#f3fad6,#fffdbc,#fff8b4,#fff6b1,#fff5b0,#fff2ab,#feeba0,#fee496,#fee191,#fedf8f,#fedd8e,#fed98a,#fed081,#fec779,#fdc375,#fecd7e,#fed989,#fee394,#feeaa0,#feeca2,#feeda3,#feeda4,#feeda4,#feeea5,#fff1aa,#fffcba,#f7fcce,#f0f9db,#eaf7e6,#e1f3f6,#d3edf4,#cce9f2,#cae8f2,#c8e7f1,#c0e3ef,#abd9e9,#90c4dd,#78b0d3,#689ec9,#6197c5,#6095c4,#5f94c4,#5e93c4,#5e93c4,#6197c5,#6ba3cc,#7ab2d4,#8bc0db,#9acbe1,#a2d2e5,#a7d6e7,#abd9e9,#b0dbea,#b4deec,#bae0ed,#c2e4f0)"></i><i style="top:630.07px;height:5.03px;background:linear-gradient(90deg,#b1dceb,#9acce2,#75add1,#5f94c4,#598dc0,#588cc0,#588bc0,#568abf,#5588be,#5487bd,#5386bd,#5284bc,#5183bb,#5082bb,#5082bb,#5082bb,#4f81ba,#4d7fb9,#4b7cb8,#497ab7,#4879b6,#4878b6,#4a7bb7,#5285bc,#5d91c3,#679ec9,#72abd0,#80b6d6,#8fc3dd,#a2d2e5,#b1dceb,#b6deec,#b7dfec,#b7dfed,#bbe1ed,#c4e5f0,#ceeaf3,#d3ecf4,#d5eef5,#d8eff6,#def2f7,#e7f6eb,#f0f9da,#f7fcce,#fbfdc7,#fdfec4,#fdfec2,#feffc1,#ffffbf,#ffffbf,#fffebe,#fffebe,#fffebd,#fffdbc,#fffcbb,#fffcba,#f4fbd3,#e5f5ef,#ceeaf3,#b3ddeb,#9ccde2,#78b0d3,#6096c5,#598dc0,#588cc0,#588bc0,#568abf,#5588be,#5487bd,#5386bd,#5284bc,#5183bb,#5082bb,#5082bb,#5082bb,#4f81ba,#4d7fb9,#4b7db8,#4a7ab7,#4879b6,#4878b6,#4a7bb7,#5284bc,#5c90c2,#669dc9,#71aacf,#7fb6d6,#8ec2dc,#a0d0e4,#b0dbea,#b5deec,#b7dfec,#b7dfec,#bbe1ed,#c3e5f0,#cdeaf3,#d2ecf4)"></i><i style="top:625.65px;height:5.03px;background:linear-gradient(90deg,#a5d4e6,#8bbfdb,#659bc7,#4d7eb9,#4677b5,#4676b4,#4676b4,#4676b4,#4676b4,#4676b4,#4576b4,#4576b4,#4575b4,#4575b4,#4575b4,#4575b4,#4575b4,#4575b4,#4575b4,#4575b4,#4575b4,#4575b4,#4879b6,#5183bb,#5c91c2,#689fca,#74add1,#82b8d7,#91c4de,#a4d3e6,#b3ddeb,#b8dfed,#b8dfed,#b8e0ed,#bce1ee,#c5e6f0,#cfebf3,#d4edf5,#d6eef5,#d8eff6,#ddf2f7,#e6f5ed,#eef9de,#f5fbd1,#fafdc9,#fbfec6,#fcfec5,#fcfec5,#fcfec4,#fcfec4,#fdfec4,#fdfec3,#fdfec3,#fdfec2,#fefec2,#feffc1,#eff9dc,#def2f8,#c3e5f0,#a7d6e7,#8dc1dc,#679ec9,#4f81ba,#4777b5,#4676b4,#4676b4,#4676b4,#4676b4,#4676b4,#4576b4,#4576b4,#4575b4,#4575b4,#4575b4,#4575b4,#4575b4,#4575b4,#4575b4,#4575b4,#4575b4,#4575b4,#4879b6,#5083bb,#5c90c2,#679ec9,#73acd0,#81b7d7,#90c3dd,#a2d2e5,#b2dceb,#b7dfec,#b8dfed,#b8e0ed,#bce1ee,#c5e6f0,#cfeaf3,#d4edf5)"></i><i style="top:621.22px;height:5.03px;background:linear-gradient(90deg,#b0dcea,#99cae1,#73abd0,#5c90c2,#5486bd,#5082bb,#4e80b9,#4d7eb9,#4c7eb9,#4c7db8,#4c7db8,#4b7db8,#4a7bb7,#4879b6,#4677b5,#4676b4,#4676b4,#4676b4,#4676b4,#4676b4,#4676b4,#4676b4,#4879b6,#5183bb,#5b90c2,#689ec9,#74add1,#82b8d7,#91c4de,#a3d2e5,#b1dceb,#b6deec,#b7dfec,#b7dfec,#bae0ed,#c3e5f0,#cce9f2,#d0ebf3,#d2ecf4,#d4edf4,#d9eff6,#e2f4f4,#eaf7e5,#f0f9da,#f4fbd3,#f6fbd0,#f6fccf,#f6fccf,#f7fcce,#f7fcce,#f7fcce,#f7fccd,#f8fccd,#f8fccc,#f8fccc,#f8fccb,#ecf8e1,#dff2f8,#c9e7f1,#b2dceb,#9acce2,#76aed2,#5e93c3,#5487bd,#5183bb,#4e80ba,#4d7eb9,#4c7eb9,#4c7db8,#4c7db8,#4b7db8,#4a7cb7,#4879b6,#4677b5,#4676b4,#4676b4,#4676b4,#4676b4,#4676b4,#4676b4,#4676b4,#4879b6,#5082bb,#5b8fc1,#679dc9,#73acd0,#81b7d6,#90c3dd,#a1d1e5,#b0dcea,#b6deec,#b6dfec,#b7dfec,#bae0ed,#c2e4f0,#cbe9f2,#d0ebf3)"></i><i style="top:616.79px;height:5.03px;background:linear-gradient(90deg,#fff2ab,#fff4ae,#fff8b4,#ffffbf,#eef8df,#d4edf5,#b7dfec,#aad8e9,#a4d3e6,#9ecfe3,#99cae1,#92c5de,#85bbd9,#6ba2cb,#5487bd,#4c7eb9,#4c7db8,#4c7db8,#4c7db8,#4c7db8,#4c7db8,#4c7db8,#4c7db8,#4d7fb9,#5386bd,#6298c6,#73acd0,#82b8d7,#8ec2dc,#9acbe1,#a2d2e5,#a5d5e7,#a6d5e7,#a6d5e7,#a6d5e7,#a6d5e7,#a7d6e7,#a7d6e7,#a7d6e7,#a7d6e7,#a7d6e7,#a8d6e8,#a8d7e8,#a9d7e8,#a9d7e8,#a9d8e8,#a9d8e8,#a9d8e8,#a9d8e8,#a9d8e8,#a9d8e8,#a9d8e8,#a9d8e8,#aad8e8,#abd9e9,#abd9e9,#c9e8f2,#e6f5ee,#f8fccc,#fff3ad,#fff4ae,#fff7b3,#ffffbe,#eff9dc,#d7eef5,#b9e0ed,#abd9e9,#a4d3e6,#9ecfe4,#99cbe1,#93c6df,#86bcd9,#6da5cd,#5689bf,#4d7fb9,#4c7db8,#4c7db8,#4c7db8,#4c7db8,#4c7db8,#4c7db8,#4c7db8,#4d7fb9,#5385bc,#6196c5,#72aad0,#80b7d6,#8dc1dc,#99cae1,#a2d2e5,#a5d4e6,#a6d5e7,#a6d5e7,#a6d5e7,#a6d5e7,#a7d5e7,#a7d6e7)"></i><i style="top:612.37px;height:5.03px;background:linear-gradient(90deg,#fdc072,#fdc072,#fdc173,#fdc274,#fdc476,#fec879,#fed283,#fee598,#fff7b2,#f6fbd0,#e4f5f0,#cdeaf3,#b1dceb,#8dc1dc,#6fa7ce,#679dc9,#669cc8,#669cc8,#669cc8,#669cc8,#669cc8,#669cc8,#6aa1cb,#76afd2,#87bcd9,#94c7df,#a0d0e4,#aad8e9,#b2dceb,#b5deec,#b6dfec,#b7dfec,#b7dfec,#b7dfec,#b7dfec,#b7dfec,#b7dfec,#b7dfec,#b7dfec,#b7dfec,#b7dfec,#b7dfec,#b7dfec,#b7dfec,#b7dfec,#b7dfec,#b7dfec,#b7dfec,#b7dfec,#b7dfec,#b7dfec,#b7dfec,#bae0ed,#c3e5f0,#d2ecf4,#e4f5f1,#feffc1,#feeda4,#fedc8c,#fdc274,#fdc072,#fdc172,#fdc273,#fdc476,#fec879,#fed182,#fee496,#fff5b0,#f7fcce,#e6f5ed,#cfebf3,#b3ddeb,#90c3dd,#71aacf,#679ec9,#669cc8,#669cc8,#669cc8,#669cc8,#669cc8,#669cc8,#6aa1cb,#75aed2,#86bbd9,#93c6df,#9fcfe4,#a9d8e8,#b1dceb,#b5deec,#b6deec,#b6dfec,#b7dfec,#b7dfec,#b7dfec,#b7dfec,#b7dfec,#b7dfec)"></i><i style="top:607.94px;height:5.03px;background:linear-gradient(90deg,#fdbe70,#fdbe70,#fdbe70,#fdbe70,#fdbe70,#fdbf71,#fec779,#fedf8f,#fff3ac,#f8fccc,#e5f5ee,#cdeaf3,#b0dceb,#8dc1dc,#70a9cf,#689fc9,#679ec9,#679ec9,#679ec9,#679ec9,#679ec9,#679ec9,#6ca3cc,#7ab2d4,#8cc0db,#99cbe1,#a4d4e6,#afdbea,#b6dfec,#b9e0ed,#bae0ed,#bae1ed,#bbe1ed,#bbe1ee,#bce1ee,#bde2ee,#bde2ee,#bde2ee,#bde2ee,#bde2ee,#bde2ee,#bde2ee,#bde2ee,#bde2ee,#bee2ee,#bee2ee,#bfe3ef,#bfe3ef,#bfe3ef,#bfe3ef,#bfe3ef,#c0e3ef,#c4e5f0,#ceeaf3,#dff2f8,#ecf8e2,#fff9b6,#fee89d,#fed687,#fdc072,#fdbe70,#fdbe70,#fdbe70,#fdbe70,#fdbf71,#fdc678,#fedd8d,#fff1aa,#f9fdc9,#e7f6ec,#cfebf3,#b3ddeb,#90c3dd,#72abd0,#699fca,#679ec9,#679ec9,#679ec9,#679ec9,#679ec9,#679ec9,#6ca3cc,#79b1d3,#8bbfdb,#98cae1,#a3d3e6,#aedaea,#b6deec,#b9e0ed,#bae0ed,#bae1ed,#bbe1ed,#bbe1ee,#bce1ee,#bce2ee,#bde2ee,#bde2ee)"></i><i style="top:603.52px;height:5.03px;background:linear-gradient(90deg,#fffab8,#fffbb9,#fffbba,#fffcbb,#fffdbb,#fffebd,#f9fdcb,#e3f4f2,#b6dfec,#86bbd9,#6398c6,#568abf,#5386bd,#5183bb,#4e80ba,#4d7fb9,#4d7fb9,#4d7fb9,#4d7fb9,#4d7fb9,#4d7fb9,#4e80ba,#5487be,#679ec9,#80b7d6,#96c9e0,#aad9e9,#bde2ee,#ceeaf3,#d9f0f6,#e2f4f5,#e8f6ea,#eef8de,#f4fbd3,#fcfec5,#fff9b6,#fff1aa,#feefa6,#feeea6,#feeea6,#feeea6,#feeea6,#feeea6,#feeea6,#feeca1,#fee496,#feda8a,#fed586,#fed586,#fed585,#fed081,#fdc375,#fdb265,#fb9d59,#f88b51,#f7834d,#fca65d,#fec879,#fee598,#fff9b6,#fffbb9,#fffbba,#fffcbb,#fffdbb,#fffebd,#f9fdca,#e5f5ef,#bae0ed,#8abedb,#659bc8,#578bbf,#5386bd,#5183bb,#4e80ba,#4e7fb9,#4d7fb9,#4d7fb9,#4d7fb9,#4d7fb9,#4d7fb9,#4e80ba,#5487bd,#669cc8,#7eb5d5,#95c7df,#a9d7e8,#bce1ee,#cce9f2,#d8eff6,#e1f4f6,#e7f6eb,#edf8df,#f4fbd4,#fbfdc6,#fffab7,#fff2ab,#feefa7)"></i><i style="top:599.09px;height:5.03px;background:linear-gradient(90deg,#fafdc8,#fafdc9,#f9fdcb,#f8fccd,#f7fcce,#f6fbd0,#eef8de,#d4edf5,#a5d4e6,#75aed1,#5588be,#4a7bb7,#497ab7,#497ab7,#497ab7,#497ab7,#497ab7,#497ab7,#497ab7,#4a7ab7,#4a7bb7,#4c7db8,#5386bd,#679dc9,#80b6d6,#97c9e0,#abd9e9,#bfe3ef,#d0ebf3,#dcf1f7,#e4f5f1,#ebf7e4,#f1fad8,#f8fccb,#fffebd,#fff4ae,#feeba1,#fee89c,#fee79b,#fee79b,#fee79b,#fee79b,#fee79a,#fee79a,#fee496,#fed989,#fecc7d,#fec779,#fdc778,#fdc678,#fdc274,#fdb467,#fb9f5a,#f88850,#f57747,#f57145,#fb9f5a,#feca7b,#feeba0,#fcfec4,#fafdc9,#f9fdcb,#f8fccc,#f7fcce,#f6fbd0,#eff9dd,#d7eff5,#a9d7e8,#79b1d3,#578bbf,#4b7cb8,#497ab7,#497ab7,#497ab7,#497ab7,#497ab7,#497ab7,#497ab7,#4a7ab7,#4a7bb7,#4c7db8,#5285bc,#659bc8,#7db5d5,#95c7df,#aad8e8,#bde2ee,#cfeaf3,#dbf1f7,#e4f4f1,#eaf7e5,#f1fad9,#f8fccc,#fffebe,#fff4af,#feeca2,#fee89c)"></i><i style="top:594.66px;height:5.03px;background:linear-gradient(90deg,#5c90c2,#5082bb,#4471b2,#3f61aa,#3c5aa7,#3c58a6,#3b56a5,#3a53a3,#384ea1,#37499e,#36459c,#35439c,#35439c,#35439c,#35439c,#35439c,#35439c,#35439c,#36469d,#3a51a2,#426aaf,#5285bc,#659bc8,#78b0d3,#8ec2dc,#a3d2e5,#b5deec,#c3e5f0,#cfebf3,#dbf1f7,#e4f5f1,#ebf7e4,#f1fad8,#f8fccb,#fffebd,#fff3ad,#fee89c,#fedc8c,#fecf80,#feca7b,#fec87a,#fec779,#fdc678,#fdc577,#fdc476,#fdc274,#fdc072,#fdbe70,#fdbd70,#fdbc6f,#fdbb6d,#fdb769,#fdb365,#fdae61,#fdac60,#fdb063,#feefa6,#dff2f8,#97c9e0,#5f94c4,#5184bc,#4472b3,#3f63ab,#3d5aa7,#3c58a6,#3b56a5,#3a53a3,#394ea1,#37499e,#36459c,#35449c,#35439c,#35439c,#35439c,#35439c,#35439c,#35439c,#36459d,#3950a2,#4168ae,#5082bb,#6399c7,#76afd2,#8cc0dc,#a1d1e5,#b4ddeb,#c2e4f0,#cfeaf3,#daf0f6,#e3f4f2,#eaf7e5,#f1fad9,#f8fccc,#fffebe,#fff4af,#fee99e,#fedd8d)"></i><i style="top:590.24px;height:5.03px;background:linear-gradient(90deg,#4c7db8,#436eb0,#3c59a6,#37499e,#35419a,#343f9a,#343f99,#343f99,#343f99,#343f99,#343f99,#343f99,#343f99,#343f99,#343f99,#343f99,#343f99,#343f99,#35419b,#394ea1,#416aaf,#5486bd,#689ec9,#7bb3d4,#90c4dd,#a4d4e6,#b6deec,#c4e5f0,#cfebf3,#dbf0f6,#e4f4f1,#eaf7e5,#f1fad8,#f8fccc,#fffebd,#fff4ae,#fee89c,#fedb8b,#fecc7e,#fdc778,#fdc677,#fdc576,#fdc475,#fdc374,#fdc273,#fdc172,#fdbf71,#fdbe70,#fdbd70,#fdbc6f,#fdbb6d,#fdb86b,#fdb568,#fdb365,#fdb265,#fdb76a,#fff6b1,#cfebf3,#84bad8,#4f81ba,#436fb1,#3d5ba7,#374a9f,#35429b,#343f9a,#343f99,#343f99,#343f99,#343f99,#343f99,#343f99,#343f99,#343f99,#343f99,#343f99,#343f99,#343f99,#35419b,#384da0,#4168ad,#5284bc,#669cc8,#79b1d3,#8ec2dd,#a3d2e5,#b5deec,#c3e5f0,#ceeaf3,#daf0f6,#e3f4f2,#eaf7e6,#f1f9d9,#f7fccd,#ffffbe,#fff4af,#fee99e,#fedc8c)"></i><i style="top:585.81px;height:5.03px;background:linear-gradient(90deg,#4065ac,#3d5ba7,#3a52a3,#384da0,#384ca0,#384ca0,#384ca0,#384ca0,#384ca0,#384ca0,#384ca0,#384ca0,#384ca0,#384ca0,#384ca0,#384ca0,#384ca0,#384da0,#3b55a4,#436eb1,#578bbf,#6ba3cc,#7fb6d6,#94c6df,#a5d4e7,#b1dceb,#bae0ed,#c2e4f0,#cae8f2,#d3ecf4,#dcf1f7,#e4f4f1,#eaf7e5,#f1fad8,#f9fdca,#fffab8,#feefa6,#fee395,#fed788,#fed383,#fed283,#fed283,#fed283,#fed283,#fed283,#fed283,#fed282,#fed182,#fed182,#fed182,#fed182,#fed182,#fed182,#fed182,#fed889,#fee99e,#e0f3f8,#88bdda,#5284bc,#4066ad,#3d5ca8,#3a52a3,#394ea1,#384ca0,#384ca0,#384ca0,#384ca0,#384ca0,#384ca0,#384ca0,#384ca0,#384ca0,#384ca0,#384ca0,#384ca0,#384ca0,#384da0,#3b55a4,#426cb0,#5589be,#6aa1cb,#7db4d5,#92c5de,#a4d3e6,#b0dcea,#b9e0ed,#c2e4ef,#cae8f2,#d2ecf4,#dbf0f7,#e3f4f2,#eaf7e6,#f1f9d9,#f9fdcb,#fffbb9,#fff0a8,#fee497)"></i><i style="top:581.39px;height:5.03px;background:linear-gradient(90deg,#3f63ab,#3c5aa7,#3a51a2,#394ea1,#394ea1,#394ea1,#394ea1,#394ea1,#394ea1,#394ea1,#394ea1,#394ea1,#394ea1,#394ea1,#394ea1,#394ea1,#394ea1,#394ea1,#3c57a5,#4471b2,#5a8ec1,#6ea5cd,#81b8d7,#96c8e0,#a7d6e7,#b2ddeb,#bae1ed,#c2e4f0,#cae8f2,#d2ecf4,#dbf0f6,#e3f4f2,#eaf7e6,#f1f9d9,#f9fdcb,#fffbb9,#feefa7,#fee496,#fed989,#fed485,#fed384,#fed384,#fed384,#fed384,#fed384,#fed384,#fed384,#fed384,#fed384,#fed384,#fed384,#fed384,#fed384,#fed485,#fedc8c,#feeca2,#d9f0f6,#81b8d7,#4e7fb9,#4064ac,#3d5ba7,#3a52a3,#394ea1,#394ea1,#394ea1,#394ea1,#394ea1,#394ea1,#394ea1,#394ea1,#394ea1,#394ea1,#394ea1,#394ea1,#394ea1,#394ea1,#394ea1,#3b57a5,#436fb1,#588cc0,#6ca4cc,#80b6d6,#94c7df,#a6d5e7,#b1dceb,#bae0ed,#c2e4ef,#c9e8f2,#d1ecf4,#daf0f6,#e3f4f3,#e9f7e7,#f0f9da,#f8fccc,#fffcba,#fff0a9,#fee598)"></i><i style="top:576.96px;height:5.03px;background:linear-gradient(90deg,#4777b5,#436fb1,#4066ad,#3f63ab,#3f62ab,#3f61aa,#3f61aa,#3f61aa,#3f61aa,#3f61aa,#3e60aa,#3d5da8,#3d5ba7,#3c5aa7,#3c5aa7,#3c5aa7,#3c5aa6,#3d5aa7,#3f62ab,#497ab7,#5f94c4,#72aad0,#85bad8,#98cae1,#a9d7e8,#b3ddeb,#bbe1ee,#c3e5f0,#cae8f2,#d2ecf4,#daf0f6,#e3f4f3,#e9f7e7,#f0f9da,#f8fccc,#fffcba,#fff1a9,#fee699,#fedd8d,#fed889,#fed888,#fed888,#fed888,#fed788,#fed788,#fed788,#fed788,#fed788,#fed788,#fed788,#fed788,#fed788,#fed788,#fed889,#fee091,#fff0a8,#d8eff6,#86bcd9,#578bbf,#4777b5,#436fb1,#4067ad,#3f63ab,#3f62ab,#3f61aa,#3f61aa,#3f61aa,#3f61aa,#3f61aa,#3e60aa,#3e5ea8,#3d5ba7,#3c5aa7,#3c5aa7,#3c5aa7,#3c5aa7,#3c5aa7,#3f62ab,#4878b6,#5e92c3,#70a8cf,#83b9d8,#96c9e0,#a7d6e7,#b2ddeb,#bae1ed,#c2e4f0,#cae8f2,#d1ecf4,#daf0f6,#e2f4f4,#e9f6e8,#f0f9db,#f7fccd,#fffdbb,#fff2ab,#fee79a)"></i><i style="top:572.53px;height:5.03px;background:linear-gradient(90deg,#fff9b6,#fffcbb,#fdfec2,#f8fccb,#f4fbd3,#f2fad6,#f2fad8,#f1fad9,#f0f9da,#eff9dc,#e9f6e8,#d2ecf4,#b4ddec,#a9d8e8,#a8d6e8,#a7d6e7,#a6d5e7,#a6d5e7,#a6d5e7,#a6d5e7,#a7d6e7,#a8d7e8,#aad8e9,#afdbea,#b6deec,#bce1ee,#c2e4ef,#c8e7f1,#ceeaf3,#d4edf4,#daf0f6,#e1f3f6,#e6f5ed,#ebf7e4,#f1f9d9,#f8fccc,#feffc1,#fffdbc,#fffcba,#fffbb9,#fffbb8,#fffab8,#fffab7,#fff9b6,#fff9b5,#fff8b4,#fff7b4,#fff7b3,#fff6b2,#fff6b1,#fff6b1,#fff7b3,#fff9b6,#fffbba,#fbfdc7,#e6f5ed,#d2ecf4,#d0ebf4,#e6f5ed,#fffcba,#fffcbb,#feffc1,#f9fdca,#f5fbd2,#f3fad6,#f2fad7,#f1fad9,#f0f9da,#eff9dc,#e9f7e7,#d4edf5,#b6dfec,#aad8e9,#a8d6e8,#a7d6e7,#a6d5e7,#a6d5e7,#a6d5e7,#a6d5e7,#a7d6e7,#a8d7e8,#aad8e9,#afdbea,#b5deec,#bbe1ee,#c1e4ef,#c7e7f1,#cdeaf3,#d3edf4,#daf0f6,#e1f3f7,#e6f5ee,#ebf7e4,#f0f9da,#f7fccd,#fefec2,#fffdbc)"></i><i style="top:568.11px;height:5.03px;background:linear-gradient(90deg,#feeda3,#fff0a8,#fff4ae,#fff8b5,#fffdbc,#ffffc0,#fdfec2,#fcfec4,#fcfec5,#fafdc7,#f4fbd4,#e1f4f6,#c3e5f0,#b6deec,#b3ddeb,#b2dceb,#b1dceb,#b0dceb,#b0dbea,#afdbea,#afdbea,#aedbea,#afdbea,#b3ddeb,#b9e0ed,#bee2ee,#c4e5f0,#c9e8f2,#cfebf3,#d4edf5,#dbf0f6,#e1f3f6,#e6f5ed,#ebf7e4,#f0f9da,#f7fccd,#fdfec3,#ffffbf,#fffebe,#fffebd,#fffdbc,#fffdbb,#fffcba,#fffbba,#fffbb9,#fffab8,#fffab7,#fff9b6,#fff9b6,#fff8b5,#fff8b5,#fffab7,#fffbba,#fffebd,#f8fccb,#e4f5f1,#d5eef5,#dbf0f7,#eff9dc,#fff0a8,#feefa7,#fff3ad,#fff8b4,#fffdbb,#ffffbf,#fdfec2,#fcfec4,#fcfec5,#fafdc7,#f4fbd3,#e3f4f3,#c5e6f0,#b7dfec,#b3ddeb,#b2dceb,#b1dceb,#b1dceb,#b0dbea,#afdbea,#afdbea,#aedbea,#afdbea,#b3ddeb,#b8dfed,#bee2ee,#c3e5f0,#c9e8f1,#ceeaf3,#d4edf5,#daf0f6,#e1f3f6,#e6f5ee,#ebf7e5,#f0f9db,#f7fcce,#fcfec4,#ffffbf)"></i><i style="top:563.68px;height:5.03px;background:linear-gradient(90deg,#fa9656,#fa9656,#fa9756,#fa9857,#fba05b,#fdb567,#fdc678,#fecd7e,#fecf80,#fed282,#fedb8c,#feeda4,#fcfec4,#eaf7e6,#d9f0f6,#d1ecf4,#d1ebf4,#d1ebf4,#d0ebf4,#d0ebf4,#d0ebf4,#d0ebf4,#d1ecf4,#d2ecf4,#d4edf5,#d6eef5,#d8eff6,#daf0f6,#dcf1f7,#def2f7,#e1f3f7,#e4f5f0,#e9f6e8,#edf8df,#f2fad7,#f7fccf,#fafdc8,#fcfec5,#fcfec5,#fcfec4,#fcfec4,#fdfec4,#fdfec3,#fdfec3,#fdfec2,#fdfec2,#feffc1,#feffc1,#feffc0,#feffc0,#ffffc0,#ffffbf,#ffffbf,#ffffc0,#fbfdc7,#eff9dd,#f8fccc,#fff3ad,#fed585,#fa9c59,#fa9656,#fa9756,#fa9857,#fba05a,#fdb366,#fdc576,#fecd7e,#fecf80,#fed182,#fedb8b,#feeca2,#feffc1,#ebf7e3,#dbf1f7,#d2ecf4,#d1ebf4,#d1ebf4,#d0ebf4,#d0ebf4,#d0ebf4,#d0ebf4,#d1ecf4,#d2ecf4,#d4edf5,#d6eef5,#d8eff6,#daf0f6,#dcf1f7,#def2f7,#e1f3f7,#e4f5f0,#e8f6e8,#edf8e0,#f2fad8,#f6fccf,#fafdc8,#fbfec6)"></i><i style="top:559.26px;height:5.03px;background:linear-gradient(90deg,#f98f53,#f98e52,#f98e52,#f98f53,#fa9756,#fdae61,#fdc173,#fec87a,#fecb7c,#fecd7e,#fed788,#feeba1,#feffc0,#ecf8e2,#ddf1f7,#d5eef5,#d4edf5,#d4edf5,#d4edf5,#d4edf5,#d4edf5,#d5edf5,#d6eef5,#d7eff5,#d9eff6,#daf0f6,#dbf1f7,#ddf2f7,#def2f8,#e0f3f8,#e2f4f5,#e5f5ee,#eaf7e6,#eef8de,#f2fad6,#f7fcce,#fafdc8,#fbfec6,#fcfec5,#fcfec5,#fcfec4,#fcfec4,#fcfec4,#fdfec3,#fdfec3,#fdfec2,#fdfec2,#fefec2,#feffc1,#feffc1,#feffc0,#ffffc0,#ffffbf,#ffffbf,#fcfec5,#f1fad9,#fcfec5,#feeea5,#fecc7e,#f99455,#f98f52,#f98e52,#f98f53,#fa9656,#fdac60,#fdbf71,#fec879,#feca7c,#fecd7e,#fed787,#feea9f,#fffebe,#edf8e0,#dff2f8,#d6eef5,#d4edf5,#d4edf5,#d4edf5,#d4edf5,#d4edf5,#d5edf5,#d6eef5,#d7eff5,#d8eff6,#daf0f6,#dbf1f7,#ddf1f7,#def2f8,#e0f3f8,#e2f4f5,#e5f5ef,#e9f7e7,#eef8df,#f2fad7,#f6fccf,#fafdc9,#fbfec6)"></i><i style="top:554.83px;height:5.03px;background:linear-gradient(90deg,#fb9f5a,#fb9d59,#fa9b58,#fa9a58,#fba15b,#fdb669,#feca7b,#fed384,#fed889,#fedd8e,#fee79b,#fffcbb,#edf8df,#e5f5ee,#e3f4f2,#e2f4f4,#e1f3f6,#e1f3f7,#e0f3f7,#e0f3f7,#e2f4f4,#e7f6ea,#edf8e0,#eff9dd,#eff9dd,#eef9dd,#eef8de,#eef8df,#edf8e0,#edf8e0,#edf8df,#eff9dc,#f2fad8,#f4fbd3,#f7fcce,#f9fdca,#fbfec6,#fcfec4,#fcfec4,#fdfec3,#fdfec3,#fdfec2,#fdfec2,#feffc1,#feffc1,#feffc0,#ffffc0,#ffffbf,#ffffbf,#fffebe,#fffdbc,#fffbb9,#fff9b6,#fff7b3,#fff5b0,#fff3ad,#fee496,#feca7c,#fdb366,#fba05b,#fb9d59,#fa9b58,#fa9a58,#fba15b,#fdb568,#fec87a,#fed283,#fed888,#fedd8d,#fee79a,#fffab8,#eff9dc,#e6f5ed,#e3f4f2,#e2f4f4,#e1f3f6,#e1f3f7,#e0f3f7,#e0f3f7,#e2f4f4,#e7f6eb,#ecf8e1,#eff9dd,#eff9dd,#eef9dd,#eef8de,#eef8df,#edf8df,#edf8e0,#edf8e0,#eff9dc,#f1fad8,#f4fbd3,#f7fccf,#f9fdca,#fbfdc6,#fcfec4)"></i><i style="top:550.4px;height:5.03px;background:linear-gradient(90deg,#fed585,#fee192,#fff1aa,#f2fad7,#d0ebf3,#afdbea,#9acbe1,#93c5de,#92c5de,#91c4de,#90c3dd,#8dc1dc,#8abfdb,#89beda,#89beda,#89beda,#8bc0db,#96c8e0,#afdbea,#cdeaf3,#e4f5f0,#eff9dd,#f7fcce,#ffffbe,#fff8b4,#fff5b0,#fff4af,#fff4ae,#fff3ad,#fff3ac,#fff2ab,#fff2ab,#fff2ab,#fff1aa,#fff1aa,#fff1aa,#fff1aa,#fff1a9,#fff1a9,#fff1a9,#fff1a9,#fff1a9,#fff1a9,#fff1a9,#fff1a9,#fff1a9,#fff1a9,#fff0a9,#feeea5,#fee698,#fed989,#fec97b,#fdba6d,#fdab60,#fa9c59,#f99455,#fba25b,#fdb265,#fdc173,#fed384,#fee191,#fff0a8,#f4fbd3,#d4edf5,#b2dceb,#9bcde2,#93c6df,#92c5de,#91c4de,#90c3dd,#8dc1dc,#8bbfdb,#8abeda,#89beda,#89beda,#8bc0db,#95c8e0,#aedaea,#cbe9f2,#e3f4f2,#eef8de,#f6fccf,#ffffbf,#fff8b5,#fff5b0,#fff4af,#fff4ae,#fff3ad,#fff3ac,#fff2ab,#fff2ab,#fff2ab,#fff1aa,#fff1aa,#fff1aa,#fff1aa,#fff1a9)"></i><i style="top:545.98px;height:5.03px;background:linear-gradient(90deg,#fedd8e,#fee89c,#fff9b6,#e9f6e8,#bce1ee,#99cbe1,#84bad8,#7eb5d5,#7db4d5,#7db4d5,#7db4d5,#7db4d5,#7db4d5,#7db4d5,#7db4d5,#7db4d5,#7fb6d6,#8bbfdb,#a5d4e6,#c5e6f0,#e2f4f5,#eef8df,#f7fcce,#fffebd,#fff6b1,#fff3ac,#fff1aa,#fff0a9,#fff0a8,#feefa7,#feeea5,#feeea5,#feeda4,#feeda3,#feeca3,#feeca2,#feeca2,#feeba1,#feeba1,#feeba1,#feeba1,#feeba0,#feeba0,#feeba0,#feeba0,#feeaa0,#feeaa0,#feea9f,#fee79b,#fedf8f,#fece7f,#fdbf71,#fdb063,#fb9d59,#f88d52,#f7854e,#fa9958,#fdb164,#fdc576,#fedb8c,#fee79a,#fff7b3,#ebf7e4,#c0e3ef,#9ccde3,#86bcd9,#7eb5d6,#7db4d5,#7db4d5,#7db4d5,#7db4d5,#7db4d5,#7db4d5,#7db4d5,#7db4d5,#7fb6d6,#8abedb,#a3d2e5,#c3e5f0,#e1f3f7,#edf8e1,#f6fbd0,#ffffbe,#fff7b2,#fff3ad,#fff1aa,#fff1a9,#fff0a8,#feefa7,#feeea6,#feeea5,#feeda4,#feeda3,#feeca3,#feeca2,#feeca2,#feeba1)"></i><i style="top:541.55px;height:5.03px;background:linear-gradient(90deg,#f7fcce,#eef8df,#daf0f6,#a9d7e8,#72abd0,#5385bc,#4676b5,#4473b3,#4473b3,#4473b3,#4473b3,#4473b3,#4473b3,#4473b3,#4473b3,#4473b3,#4473b3,#4575b4,#4f81ba,#6fa7ce,#a5d4e6,#ceeaf3,#e8f6ea,#f8fccd,#fff9b5,#feeea6,#fee79a,#fee293,#fedf8f,#feda8a,#fed485,#feca7b,#fdbf71,#fdb668,#fdac60,#fba15b,#fa9756,#f99053,#f88b51,#f7864f,#f7814c,#f67c4a,#f67848,#f57647,#f57547,#f57446,#f57446,#f57346,#f57245,#f47044,#f46e43,#f36c42,#f06540,#ea5739,#e34933,#e14430,#f67c4a,#fdb96b,#fee79a,#f9fdca,#eef9de,#dcf1f7,#addaea,#77afd2,#5588be,#4777b5,#4473b3,#4473b3,#4473b3,#4473b3,#4473b3,#4473b3,#4473b3,#4473b3,#4473b3,#4473b3,#4575b4,#4e80ba,#6da4cc,#a0d1e4,#cbe9f2,#e6f5ed,#f6fccf,#fffab7,#feefa7,#fee79b,#fee294,#fedf8f,#feda8b,#fed485,#fecb7c,#fdc072,#fdb669,#fdad61,#fba25b,#fa9857,#f99154)"></i><i style="top:537.13px;height:5.03px;background:linear-gradient(90deg,#f6fccf,#eef9dd,#dff2f8,#b2dceb,#7fb6d6,#6096c5,#5588be,#5386bd,#5385bd,#5385bd,#5385bd,#5386bd,#5386bd,#5386bd,#5386bd,#5386bd,#5386bd,#5487bd,#5c90c2,#7ab2d4,#acdae9,#d2ecf4,#e9f6e8,#f7fcce,#fffab8,#fff0a8,#fee89d,#fee496,#fee191,#fedd8d,#fed687,#fecd7e,#fdc274,#fdb96b,#fdb063,#fca65d,#fb9c59,#fa9656,#f99053,#f88b51,#f8864f,#f7824c,#f67e4b,#f67c4a,#f67b49,#f67a49,#f67949,#f67948,#f67848,#f57748,#f57647,#f57547,#f47044,#ef633e,#e95638,#e75236,#f8874f,#fdbf71,#fee99e,#f9fdcb,#eff9dc,#e0f3f7,#b5deec,#84b9d8,#6399c6,#5689be,#5386bd,#5385bd,#5385bd,#5385bd,#5386bd,#5386bd,#5386bd,#5386bd,#5386bd,#5386bd,#5487bd,#5b90c2,#77b0d2,#a8d7e8,#cfebf3,#e7f6eb,#f6fbd0,#fffbb9,#fff1aa,#fee99e,#fee496,#fee192,#fedd8d,#fed788,#fece7f,#fdc375,#fdba6c,#fdb164,#fca75e,#fb9d59,#fa9656)"></i><i style="top:532.7px;height:5.03px;background:linear-gradient(90deg,#feefa6,#fee99d,#fee294,#fee091,#fee091,#fee191,#fee191,#fee191,#fee090,#fee090,#fedf8f,#fedf8f,#fede8e,#fede8e,#fede8e,#fede8e,#fedd8d,#fedd8e,#fee191,#fee99d,#fff2ab,#fff9b6,#fefec1,#f7fccd,#f3fbd4,#f5fbd2,#f8fccb,#fcfec5,#ffffbf,#fffebe,#fffebd,#fffebd,#fffdbd,#fffdbc,#fffdbc,#fffdbb,#fffcbb,#fffcbb,#fffcbb,#fffcba,#fffcba,#fffcbb,#fffcbb,#fffcbb,#fffcbb,#fffcbb,#fffcbb,#fffcbb,#fffcbb,#fffcbb,#fffcbb,#fffcbb,#fffcbb,#fffcba,#fffcba,#fffcba,#fff9b5,#fff5b0,#fff2ab,#feefa7,#fee99e,#fee394,#fee191,#fee091,#fee191,#fee191,#fee191,#fee090,#fee090,#fedf8f,#fedf8f,#fede8f,#fede8e,#fede8e,#fede8e,#fedd8d,#fedd8e,#fee191,#fee89c,#fff1aa,#fff9b6,#feffc0,#f8fccc,#f4fbd4,#f5fbd2,#f8fccc,#fcfec5,#ffffc0,#fffebe,#fffebd,#fffebd,#fffdbd,#fffdbc,#fffdbc,#fffdbb,#fffcbb,#fffcbb)"></i><i style="top:528.27px;height:5.03px;background:linear-gradient(90deg,#fffdbc,#fff9b6,#fff2ab,#fee395,#fecf80,#fdc678,#fdc274,#fdc071,#fdbd6f,#fdba6c,#fdb769,#fdb467,#fdb265,#fdb366,#fdb567,#fdb769,#fdb96b,#fdbb6d,#fdc476,#fedb8b,#feeea5,#fffcbb,#f8fccd,#f4fbd3,#f3fad4,#f3fbd4,#f4fbd4,#f4fbd3,#f4fbd3,#f4fbd3,#f4fbd3,#f5fbd2,#f6fbd0,#f6fccf,#f7fcce,#f8fccc,#f8fccb,#f9fdca,#fafdc8,#fafdc7,#f9fdca,#f4fbd3,#eff9dd,#edf8e0,#ecf8e1,#ecf8e2,#ecf8e2,#ecf7e3,#ebf7e3,#ebf7e4,#ebf7e4,#ebf7e5,#eaf7e5,#eaf7e5,#eaf7e6,#eaf7e6,#f0f9db,#f8fccc,#fefec1,#fffdbc,#fffab7,#fff2ac,#fee597,#fed182,#fdc778,#fdc374,#fdc072,#fdbd6f,#fdba6c,#fdb769,#fdb467,#fdb265,#fdb366,#fdb567,#fdb669,#fdb86b,#fdbb6d,#fdc375,#fed98a,#feeda3,#fffbb9,#f8fccb,#f4fbd3,#f3fad4,#f3fbd4,#f4fbd4,#f4fbd3,#f4fbd3,#f4fbd3,#f4fbd3,#f5fbd2,#f6fbd0,#f6fccf,#f7fcce,#f8fccc,#f8fccb,#f9fdca)"></i><i style="top:523.85px;height:5.03px;background:linear-gradient(90deg,#ffffc0,#fffcbb,#fff5b0,#fee79a,#fed585,#feca7c,#fdc678,#fdc476,#fdc274,#fdbf71,#fdbc6e,#fdb96c,#fdb86a,#fdb96b,#fdba6d,#fdbc6f,#fdbe70,#fdc173,#feca7b,#fee090,#fff0a9,#fffebe,#f6fccf,#f3fad5,#f3fad6,#f3fad6,#f3fad6,#f3fad6,#f3fad6,#f3fad6,#f3fad5,#f3fbd4,#f4fbd3,#f5fbd2,#f5fbd1,#f6fccf,#f7fcce,#f8fccd,#f8fccb,#f9fdca,#f7fccd,#f2fad7,#ecf8e2,#eaf7e7,#e9f6e8,#e8f6e9,#e8f6e9,#e8f6ea,#e7f6ea,#e7f6eb,#e7f6ec,#e7f6ec,#e6f5ed,#e6f5ed,#e6f5ee,#e6f5ee,#ecf8e1,#f5fbd2,#fbfdc6,#feffc0,#fffdbb,#fff6b1,#fee89c,#fed687,#fecb7c,#fdc778,#fdc476,#fdc274,#fdbf71,#fdbc6f,#fdba6c,#fdb86a,#fdb86b,#fdba6d,#fdbc6e,#fdbe70,#fdc173,#fec97a,#fede8e,#feefa7,#fffdbc,#f7fcce,#f3fad5,#f3fad6,#f3fad6,#f3fad6,#f3fad6,#f3fad6,#f3fad6,#f3fad5,#f3fad4,#f4fbd3,#f5fbd2,#f5fbd1,#f6fccf,#f7fcce,#f8fccd)"></i><i style="top:519.42px;height:5.03px;background:linear-gradient(90deg,#eaf7e6,#eaf7e5,#ecf8e2,#eef8df,#f2fad8,#f9fdcb,#fdfec2,#f9fdca,#f3fad6,#f0f9da,#f0f9db,#eff9dc,#eff9dd,#eef9de,#eef8df,#edf8e0,#edf8e0,#edf8e1,#ecf8e1,#ebf7e3,#eaf7e5,#e9f7e7,#e9f6e8,#e8f6e8,#e8f6e8,#e8f6e8,#e8f6e8,#e8f6e8,#e8f6e8,#e8f6e8,#e8f6e9,#e8f6e9,#e8f6ea,#e8f6ea,#e7f6eb,#e7f6eb,#e7f6ec,#e6f5ec,#e6f5ed,#e5f5ee,#e3f4f2,#dcf1f7,#ceeaf3,#bfe3ef,#b4ddeb,#afdbea,#aedbea,#aedaea,#addaea,#addaea,#acdae9,#acd9e9,#abd9e9,#abd9e9,#aad8e9,#aad8e9,#bde2ee,#d4edf5,#e4f4f1,#e9f7e7,#eaf7e5,#ecf8e3,#eef8df,#f1fad8,#f8fccc,#fdfec3,#f9fdca,#f3fad5,#f0f9da,#f0f9db,#eff9dc,#eff9dd,#eef9de,#eef8df,#edf8e0,#edf8e0,#edf8e1,#ecf8e1,#ebf7e3,#eaf7e5,#e9f7e7,#e9f6e8,#e9f6e8,#e8f6e8,#e8f6e8,#e8f6e8,#e8f6e8,#e8f6e8,#e8f6e8,#e8f6e9,#e8f6e9,#e8f6ea,#e8f6ea,#e7f6eb,#e7f6eb,#e7f6ec,#e6f5ec)"></i><i style="top:515px;height:5.03px;background:linear-gradient(90deg,#e9f6e8,#eaf7e6,#eaf7e5,#ebf7e3,#eef8de,#f4fbd3,#f8fccc,#f3fad5,#ecf8e1,#eaf7e7,#e9f6e8,#e8f6e9,#e8f6ea,#e7f6eb,#e7f6eb,#e6f5ec,#e6f5ed,#e6f5ec,#e7f6ec,#e7f6eb,#e7f6ea,#e8f6ea,#e8f6ea,#e8f6e9,#e8f6e9,#e8f6e9,#e8f6e9,#e9f6e8,#e9f6e8,#e9f6e8,#e9f6e8,#e9f6e8,#e8f6e9,#e7f6eb,#e6f5ed,#e5f5ee,#e5f5ef,#e4f5f0,#e4f5f0,#e4f4f1,#e1f4f5,#d9f0f6,#cce9f2,#bee2ee,#b2dceb,#aedaea,#addae9,#acdae9,#acd9e9,#abd9e9,#aad9e9,#aad8e9,#aad8e8,#a9d8e8,#aad8e8,#aad8e9,#bde2ee,#d4edf5,#e3f4f2,#e9f6e8,#eaf7e6,#eaf7e5,#ebf7e3,#eef8de,#f4fbd4,#f8fccd,#f3fbd4,#edf8e0,#eaf7e6,#e9f6e8,#e8f6e9,#e8f6ea,#e7f6eb,#e7f6eb,#e6f5ec,#e6f5ed,#e6f5ec,#e7f6ec,#e7f6eb,#e7f6ea,#e8f6ea,#e8f6ea,#e8f6e9,#e8f6e9,#e8f6e9,#e8f6e9,#e9f6e8,#e9f6e8,#e9f6e8,#e9f6e8,#e9f6e8,#e8f6e9,#e7f6eb,#e6f5ed,#e5f5ee,#e5f5ef,#e4f5f0)"></i><i style="top:510.57px;height:5.03px;background:linear-gradient(90deg,#f6fccf,#f5fbd1,#f5fbd2,#f4fbd4,#f0f9db,#e7f6ec,#dbf0f6,#d0ebf4,#c9e8f1,#c2e4f0,#bee2ee,#bce1ee,#bce1ee,#bce1ee,#bce1ee,#bce1ee,#bfe3ef,#c7e7f1,#d1ecf4,#dcf1f7,#e3f4f2,#e6f5ed,#e9f6e8,#ebf7e4,#edf8e0,#eff9dc,#f1fad8,#f3fbd4,#f6fbd0,#f8fccc,#f9fdc9,#fafdc9,#f6fbd0,#ebf7e3,#e1f3f7,#dbf0f6,#daf0f6,#d9f0f6,#d9f0f6,#d9eff6,#d8eff6,#d7eff5,#d6eef5,#d4edf5,#d3edf4,#d3ecf4,#d2ecf4,#d2ecf4,#d2ecf4,#d1ecf4,#d1ecf4,#d1ebf4,#d3ecf4,#daf0f6,#e2f4f5,#e7f6eb,#eef8de,#f3fad6,#f5fbd1,#f6fccf,#f5fbd0,#f5fbd2,#f4fbd4,#f0f9da,#e8f6ea,#dcf1f7,#d1ecf4,#c9e8f2,#c3e5f0,#bee2ee,#bce1ee,#bce1ee,#bce1ee,#bce1ee,#bce1ee,#bee3ef,#c6e6f1,#d1ebf4,#dbf1f7,#e3f4f3,#e6f5ed,#e8f6e9,#ebf7e5,#edf8e1,#eff9dd,#f1fad9,#f3fad5,#f5fbd1,#f8fccd,#f9fdca,#fafdc9,#f6fccf,#ecf8e2,#e2f4f5,#dbf1f7,#daf0f6,#d9f0f6)"></i><i style="top:506.14px;height:5.03px;background:linear-gradient(90deg,#f9fdcb,#f8fccb,#f8fccc,#f7fccd,#f4fbd4,#eaf7e5,#e0f3f8,#d6eef5,#cfebf3,#c8e7f1,#c2e4f0,#c0e3ef,#c0e3ef,#c0e3ef,#c0e3ef,#c0e3ef,#c2e4f0,#cae8f2,#d5eef5,#dff3f8,#e5f5ef,#e8f6e9,#eaf7e5,#edf8e1,#eff9dd,#f1fad9,#f3fad5,#f5fbd1,#f7fccd,#f9fdc9,#fbfdc6,#fbfec6,#f8fccd,#edf8e0,#e2f4f4,#dcf1f7,#daf0f6,#d9f0f6,#d9eff6,#d8eff6,#d8eff6,#d8eff6,#d7eff6,#d7eff5,#d7eef5,#d6eef5,#d6eef5,#d5eef5,#d5eef5,#d5edf5,#d4edf5,#d4edf5,#d6eef5,#ddf2f7,#e4f4f1,#eaf7e6,#f1fad8,#f6fbd0,#f8fccc,#f9fdcb,#f8fccb,#f8fccc,#f7fccd,#f4fbd3,#ebf7e4,#e1f3f6,#d7eef5,#d0ebf3,#c9e7f1,#c3e5f0,#c0e3ef,#c0e3ef,#c0e3ef,#c0e3ef,#c0e3ef,#c2e4f0,#cae8f2,#d4edf5,#dff2f8,#e5f5f0,#e8f6ea,#eaf7e5,#ecf8e1,#eef9dd,#f1f9d9,#f3fad5,#f5fbd1,#f7fcce,#f9fdca,#fbfdc7,#fbfec6,#f8fccc,#eef8de,#e3f4f2,#ddf1f7,#daf0f6,#d9f0f6)"></i><i style="top:501.72px;height:5.03px;background:linear-gradient(90deg,#feefa7,#feea9e,#fee294,#fed989,#fed081,#fece7f,#fecf80,#fed081,#fed686,#fee395,#feeda4,#fff1aa,#fff2ac,#fff3ad,#fff5af,#fff6b1,#fff7b2,#fff7b3,#fff8b4,#fff9b5,#fff9b6,#fffab7,#fffab7,#fffab7,#fffab8,#fffab8,#fffbb8,#fffbb9,#fffbb9,#fffbb9,#fffcba,#fffcba,#fffcba,#fffdbc,#fdfec3,#f2fad7,#e7f6eb,#e4f4f2,#e3f4f3,#e3f4f3,#e3f4f3,#e2f4f4,#e2f4f4,#e2f4f5,#e2f4f5,#e1f4f5,#e1f3f6,#e1f3f6,#e1f3f7,#e1f3f7,#e0f3f7,#e0f3f8,#e0f3f8,#e0f3f7,#e4f4f1,#edf8df,#fdfec3,#fff8b5,#fff3ad,#feefa7,#feea9f,#fee395,#feda8a,#fed182,#fece80,#fecf80,#fed081,#fed586,#fee294,#feeca2,#fff1a9,#fff2ac,#fff3ad,#fff4af,#fff6b1,#fff6b2,#fff7b3,#fff8b4,#fff9b5,#fff9b6,#fffab7,#fffab7,#fffab7,#fffab8,#fffab8,#fffbb8,#fffbb9,#fffbb9,#fffbb9,#fffbba,#fffcba,#fffcba,#fffdbc,#fdfec2,#f3fad5,#e8f6e9,#e4f4f1)"></i><i style="top:497.29px;height:5.03px;background:linear-gradient(90deg,#feeba1,#fee597,#fedb8b,#fecd7e,#fdc374,#fdbe70,#fdbd6f,#fdbd70,#fdc375,#fed283,#fee293,#fee79a,#fee99e,#feeba0,#feeca3,#feeda4,#feeea6,#feefa7,#fff0a8,#fff1aa,#fff2ab,#fff3ac,#fff3ad,#fff4ae,#fff4af,#fff5b0,#fff6b1,#fff7b2,#fff7b4,#fff8b5,#fff9b5,#fff9b6,#fff9b6,#fffab7,#fffebd,#f5fbd1,#eaf7e6,#e6f5ed,#e5f5ee,#e5f5ef,#e5f5ef,#e5f5ef,#e4f5f0,#e4f5f0,#e4f5f1,#e4f4f1,#e3f4f2,#e3f4f2,#e3f4f2,#e3f4f3,#e3f4f3,#e2f4f4,#e2f4f4,#e3f4f3,#e6f5ed,#f0f9da,#fffebd,#fff4af,#feefa7,#feeba1,#fee598,#fedc8c,#fece7f,#fdc375,#fdbf71,#fdbd6f,#fdbd70,#fdc274,#fed182,#fee191,#fee69a,#fee99d,#feeba0,#feeca2,#feeda4,#feeea5,#feefa7,#fff0a8,#fff1aa,#fff2ab,#fff3ac,#fff3ad,#fff4ae,#fff4af,#fff5b0,#fff6b1,#fff7b2,#fff7b3,#fff8b4,#fff9b5,#fff9b6,#fff9b6,#fffab7,#fffdbc,#f6fccf,#ebf7e4,#e6f5ed)"></i><i style="top:492.87px;height:5.03px;background:linear-gradient(90deg,#fdc274,#fdab5f,#f7844e,#ed5e3c,#dd3c2c,#cb2427,#bf1927,#bb1526,#c01a27,#cb2427,#d93429,#e75237,#f57145,#f7854e,#f99053,#f99053,#f88b51,#f7854e,#f7814c,#f7804c,#f7804c,#f7804c,#f7834d,#f88c51,#fa9857,#fca45c,#fdb063,#fdbb6d,#fdc476,#fecb7c,#fed182,#fed686,#feda8a,#fedf8f,#fee597,#feefa7,#fff9b7,#fffdbc,#fffebd,#fffebe,#ffffbf,#ffffc0,#feffc1,#fefec1,#fdfec2,#fdfec3,#fcfec4,#fcfec5,#fbfec6,#fbfdc7,#fafdc7,#fafdc8,#fbfdc6,#ffffbf,#fff7b3,#feea9f,#fed485,#fdc375,#fdbe70,#fdc173,#fdad60,#f8874f,#ee613e,#de3f2e,#cd2627,#c01a27,#bc1626,#c01927,#ca2327,#d83328,#e65036,#f46e44,#f7844d,#f98f53,#f99053,#f88b51,#f7864e,#f7814c,#f7804c,#f7804c,#f7804c,#f7834d,#f88b51,#fa9756,#fba35c,#fdb063,#fdba6c,#fdc375,#fecb7c,#fed081,#fed586,#feda8a,#fede8e,#fee496,#feeea6,#fff9b5,#fffdbc)"></i><i style="top:488.44px;height:5.03px;background:linear-gradient(90deg,#fdbe70,#fca55d,#f67d4a,#e95739,#d93429,#c41e27,#b81226,#b40e26,#b91326,#c31d27,#d22c27,#e34933,#f26941,#f67e4b,#f88950,#f88850,#f7834d,#f67d4a,#f67848,#f57647,#f57647,#f57647,#f67949,#f7824d,#f98e52,#fa9b58,#fcaa5f,#fdb668,#fdc072,#fec779,#fece7f,#fed384,#fed788,#fedd8d,#fee395,#feeea5,#fff8b4,#fffcba,#fffcbb,#fffdbc,#fffdbc,#fffebd,#fffebe,#ffffbf,#ffffbf,#feffc0,#feffc1,#fdfec2,#fdfec3,#fdfec4,#fcfec4,#fcfec5,#fdfec3,#fffdbc,#fff5af,#fee89c,#fed081,#fdbf71,#fdba6c,#fdbe70,#fca75e,#f7804c,#eb5a3a,#da372a,#c61f27,#b91326,#b40f26,#b81226,#c21c27,#d12a27,#e24731,#f16640,#f67c4a,#f8884f,#f88850,#f7834d,#f67d4a,#f67848,#f57647,#f57647,#f57647,#f67949,#f7824d,#f88d52,#fa9a58,#fca85e,#fdb567,#fdbf71,#fdc778,#fecd7e,#fed283,#fed788,#fedc8c,#fee394,#feeda4,#fff7b3,#fffbb9)"></i><i style="top:484.01px;height:5.03px;background:linear-gradient(90deg,#fdbd6f,#fb9e5a,#f57747,#ed5e3c,#e54d34,#dd3d2d,#d93429,#d93529,#dd3c2c,#e14430,#e75136,#f26841,#f7834d,#f99555,#fa9957,#fa9756,#f99455,#f98e52,#f88850,#f7834d,#f67f4b,#f67f4b,#f7814c,#f7844d,#f88a50,#fa9857,#fca95f,#fdb76a,#fdc375,#fece7f,#fed788,#fede8e,#fee192,#fee597,#feea9f,#fff3ad,#fffcba,#ffffbf,#ffffc0,#feffc0,#feffc1,#feffc1,#fefec1,#fdfec2,#fdfec2,#fdfec3,#fdfec3,#fcfec4,#fcfec4,#fcfec5,#fcfec5,#fbfec5,#fdfec3,#fffdbc,#fff6b1,#feeba0,#fed687,#fdc576,#fdbd6f,#fdbd6f,#fba15b,#f67a49,#ee603d,#e54e35,#de3f2e,#d93429,#d93529,#dc3b2c,#e04430,#e65036,#f16640,#f7804c,#f99355,#fa9957,#fa9757,#f99455,#f98f53,#f88950,#f7834d,#f77f4b,#f67f4b,#f7814c,#f7834d,#f88a50,#fa9756,#fca85e,#fdb669,#fdc274,#fecd7e,#fed787,#fedd8d,#fee192,#fee497,#fee99e,#fff2ac,#fffbb9,#ffffbe)"></i><i style="top:479.59px;height:5.03px;background:linear-gradient(90deg,#fdc274,#fca65d,#f7814c,#f36a42,#eb5b3b,#e54d34,#e04430,#e14531,#e44c34,#e85337,#ed5f3c,#f57446,#f88d52,#fb9e59,#fba15b,#fb9f5a,#fb9c59,#fa9756,#f99154,#f88c51,#f8884f,#f8874f,#f88850,#f88a50,#f98f53,#fb9c59,#fdad60,#fdba6c,#fdc577,#fed182,#fedb8b,#fee191,#fee496,#fee89c,#feeda4,#fff6b1,#fffebe,#fdfec3,#fdfec3,#fcfec4,#fcfec4,#fcfec5,#fcfec5,#fbfec6,#fbfec6,#fbfdc7,#fbfdc7,#fafdc7,#fafdc8,#fafdc8,#fafdc9,#fafdc9,#fbfdc7,#ffffbf,#fff8b4,#feeea5,#fedb8c,#feca7b,#fdc274,#fdc274,#fca95f,#f7844e,#f36c42,#ec5c3b,#e54e35,#e14430,#e14531,#e44b33,#e75237,#ed5e3c,#f57245,#f88b51,#fb9c59,#fba15b,#fb9f5a,#fb9c59,#fa9757,#f99254,#f88c51,#f88850,#f8874f,#f88850,#f88a50,#f98f53,#fa9b58,#fdab60,#fdb96b,#fdc476,#fed081,#feda8a,#fee091,#fee496,#fee79b,#feeda3,#fff5b0,#fffdbd,#fdfec2)"></i><i style="top:475.16px;height:5.03px;background:linear-gradient(90deg,#fffbb9,#fff9b6,#fff6b1,#fff3ad,#fff1aa,#feefa6,#feeda3,#feeba1,#feea9f,#fee99e,#fee99e,#feea9f,#feea9f,#feeaa0,#feea9f,#feea9f,#fee99e,#fee99e,#fee89d,#fee89c,#fee69a,#fee395,#fede8e,#fed787,#fed283,#fed384,#fed787,#fedb8b,#fee192,#feeaa0,#fff4ae,#fffbb9,#fbfec6,#f0f9da,#e7f6ec,#e3f4f3,#e2f4f5,#e1f4f6,#e1f3f6,#e1f3f6,#e1f3f7,#e1f3f7,#e0f3f7,#e0f3f8,#e0f3f8,#e0f3f8,#dff3f8,#dff2f8,#dff2f8,#def2f8,#def2f7,#def2f7,#ddf2f7,#def2f7,#e2f4f4,#ecf8e1,#f9fdc9,#ffffbf,#fffcbb,#fffbb9,#fff9b6,#fff6b2,#fff4ae,#fff1aa,#feefa7,#feeda3,#feeba1,#feea9f,#fee99e,#fee99e,#feea9f,#feea9f,#feeaa0,#feea9f,#feea9f,#fee99e,#fee99e,#fee99d,#fee89c,#fee79a,#fee395,#fede8e,#fed788,#fed383,#fed384,#fed787,#fedb8b,#fee192,#feea9f,#fff3ad,#fffbb8,#fcfec5,#f1fad8,#e7f6ea,#e3f4f2,#e2f4f5,#e1f4f5)"></i><i style="top:470.74px;height:5.03px;background:linear-gradient(90deg,#fbfdc7,#fcfec4,#feffc1,#fffebe,#fffcbb,#fffbb8,#fff8b5,#fff6b1,#fff3ad,#fff2ab,#fff1a9,#fff0a8,#feefa7,#feeea6,#feeea5,#feeea5,#feeea4,#feeda4,#feeda4,#feeda4,#feeda3,#feea9f,#fee598,#fee192,#fedd8d,#fede8e,#fee191,#fee394,#fee79b,#fff0a8,#fffab7,#fdfec2,#f6fbd0,#ebf7e4,#e1f3f6,#dcf1f7,#dbf0f6,#daf0f6,#daf0f6,#daf0f6,#daf0f6,#daf0f6,#d9f0f6,#d9f0f6,#d9eff6,#d9eff6,#d8eff6,#d8eff6,#d7eff6,#d7eff5,#d6eef5,#d6eef5,#d5eef5,#d5eef5,#dbf0f6,#e6f5ed,#f2fad6,#f7fccd,#fafdc9,#fbfdc7,#fcfec5,#feffc1,#fffebe,#fffdbb,#fffbb9,#fff9b5,#fff6b1,#fff4ae,#fff2ab,#fff1aa,#fff0a8,#feefa7,#feeea6,#feeea5,#feeea5,#feeea5,#feeda4,#feeda4,#feeda4,#feeda4,#feea9f,#fee699,#fee192,#fede8e,#fede8e,#fee091,#fee394,#fee79a,#feefa7,#fff9b6,#feffc1,#f6fccf,#ecf7e3,#e2f4f5,#dcf1f7,#dbf0f7,#daf0f6)"></i><i style="top:466.31px;height:5.03px;background:linear-gradient(90deg,#98cae1,#98cae1,#98cae1,#99cae1,#99cae1,#9acbe1,#a2d2e5,#bae0ed,#d5eef5,#e6f5ec,#f1fad8,#fcfec4,#fffab7,#fff7b3,#fff7b2,#fff7b2,#fff7b2,#fff7b3,#fffbb8,#f9fdca,#eef8de,#e9f7e7,#e7f6eb,#e6f5ed,#e4f5f1,#e1f4f5,#def2f7,#d9eff6,#d2ecf4,#c9e8f2,#c0e3ef,#b8dfed,#b1dceb,#a9d8e8,#a2d2e5,#9bcce2,#97c9e0,#98cae1,#9bcce2,#9ecfe3,#a0d1e4,#a1d1e5,#a1d1e5,#a1d1e5,#a1d1e5,#a1d1e5,#a1d1e5,#a1d1e5,#a0d0e4,#9ccde3,#97c9e0,#93c6de,#8fc3dd,#8fc2dd,#90c3dd,#92c5de,#95c7df,#96c9e0,#97c9e0,#98cae1,#98cae1,#98cae1,#99cae1,#99cae1,#9acbe1,#a1d1e5,#b8dfed,#d3edf4,#e5f5ee,#f1f9da,#fbfec6,#fffab8,#fff7b3,#fff7b2,#fff7b2,#fff7b2,#fff7b3,#fffab8,#fafdc9,#eff9dd,#eaf7e7,#e7f6ea,#e6f5ed,#e4f5f1,#e2f4f5,#def2f7,#d9f0f6,#d3edf4,#cae8f2,#c1e4ef,#b9e0ed,#b1dceb,#aad8e9,#a2d2e5,#9ccde2,#98c9e0,#98cae1)"></i><i style="top:461.88px;height:5.03px;background:linear-gradient(90deg,#8abfdb,#8abfdb,#8abfdb,#8abfdb,#8abfdb,#8bbfdb,#93c6df,#acdae9,#c9e8f2,#e1f3f6,#eef8df,#fafdc8,#fffbb8,#fff8b4,#fff7b3,#fff7b3,#fff8b4,#fff9b6,#fffebd,#f4fbd3,#e8f6ea,#e2f4f4,#e0f3f8,#dcf1f7,#d8eff6,#d4edf5,#cfebf3,#cae8f2,#c4e5f0,#bce1ee,#b3ddeb,#acdae9,#a6d5e7,#9fd0e4,#99cae1,#93c5de,#8fc2dd,#8fc3dd,#92c5de,#95c8e0,#98cae1,#99cae1,#99cae1,#99cae1,#99cae1,#99cae1,#99cae1,#98cae1,#97c9e0,#94c6df,#8fc3dd,#8abfdb,#87bcd9,#86bbd9,#87bcd9,#87bcd9,#88bdda,#89beda,#8abedb,#8abfdb,#8abfdb,#8abfdb,#8abfdb,#8abfdb,#8bbfdb,#93c5de,#aad8e9,#c7e7f1,#e0f3f8,#edf8e1,#f9fdca,#fffbba,#fff8b4,#fff7b3,#fff7b3,#fff8b4,#fff9b5,#fffdbd,#f5fbd1,#e9f6e8,#e3f4f3,#e0f3f8,#dcf1f7,#d9eff6,#d4edf5,#cfebf3,#cbe8f2,#c5e6f0,#bde2ee,#b4ddec,#addaea,#a6d5e7,#a0d0e4,#99cbe1,#93c6df,#8fc2dd,#8fc3dd)"></i><i style="top:457.46px;height:5.03px;background:linear-gradient(90deg,#4574b3,#4574b3,#4574b3,#4574b3,#4574b3,#4574b4,#4a7bb7,#5a8ec1,#73acd1,#9ccde2,#c9e8f1,#ecf8e2,#fffebe,#fff8b4,#fff7b3,#fff8b4,#fffcbb,#f4fbd3,#e0f3f8,#b8dfed,#94c6df,#83b9d7,#7bb3d4,#75aed1,#70a8ce,#6da4cd,#6ba2cb,#699fca,#669dc9,#649ac7,#6298c6,#6196c5,#6095c5,#5f94c4,#5e93c3,#5d92c3,#5c91c2,#5c90c2,#5b90c2,#5b8fc2,#5b8fc1,#5b8fc1,#5b8fc1,#5b8fc1,#5b8fc1,#5b8fc1,#5b8fc1,#5b8fc1,#5b8fc1,#5a8ec1,#5a8ec1,#5a8ec1,#598dc0,#578bbf,#5689be,#5386bd,#4e80ba,#4a7bb7,#4677b5,#4574b3,#4574b3,#4574b3,#4574b3,#4574b3,#4574b4,#497ab7,#598cc0,#71aacf,#99cae1,#c5e6f0,#eaf7e6,#feffc1,#fff8b5,#fff7b3,#fff8b4,#fffcba,#f5fbd1,#e2f4f5,#bbe1ed,#97c9e0,#84bad8,#7cb3d4,#75aed2,#70a8cf,#6da5cd,#6ba2cb,#69a0ca,#679dc9,#649ac7,#6298c6,#6196c5,#6095c5,#5f94c4,#5e93c3,#5d92c3,#5c91c2,#5c90c2)"></i><i style="top:453.03px;height:5.03px;background:linear-gradient(90deg,#4471b2,#4471b2,#4471b2,#4471b2,#4471b2,#4471b2,#4778b5,#578abf,#70a8ce,#99cbe1,#c8e7f1,#ecf8e1,#fffebd,#fff7b3,#fff6b2,#fff7b2,#fffbba,#f4fbd3,#def2f7,#b3ddeb,#8ec2dc,#7db4d5,#75aed1,#6fa7ce,#6aa1cb,#679ec9,#659bc8,#6399c6,#6196c5,#5f94c4,#5d92c3,#5c90c2,#5b8fc2,#5a8ec1,#5a8ec1,#598dc0,#588cc0,#588bbf,#578bbf,#578abf,#5689bf,#5689be,#5689be,#5689be,#5689be,#5689bf,#568abf,#578abf,#578abf,#578abf,#578abf,#578abf,#5689be,#5487be,#5285bc,#5082bb,#4b7db8,#4778b5,#4574b3,#4471b2,#4471b2,#4471b2,#4471b2,#4471b2,#4471b2,#4777b5,#5689be,#6ea6cd,#96c8e0,#c4e5f0,#eaf7e5,#ffffbf,#fff7b4,#fff6b2,#fff7b2,#fffbb9,#f5fbd1,#e1f3f7,#b7dfec,#91c4de,#7eb5d5,#76aed2,#70a8ce,#6ba2cb,#679ec9,#659bc8,#6399c7,#6196c5,#5f94c4,#5d92c3,#5c90c2,#5b8fc2,#5a8fc1,#5a8ec1,#598dc0,#588cc0,#588bc0)"></i><i style="top:448.61px;height:5.03px;background:linear-gradient(90deg,#669cc8,#669cc8,#669cc8,#669cc8,#669cc8,#669cc8,#6aa1cb,#76afd2,#8ec1dc,#b4deec,#e3f4f2,#ffffc0,#feeea6,#fee99e,#fee99d,#fee99d,#feeba1,#fff7b3,#edf8e0,#c3e5f0,#9bcce2,#89beda,#81b7d7,#7ab2d4,#74add1,#70a8ce,#6ca3cc,#689fca,#649ac7,#6096c5,#5d91c3,#5a8ec1,#578abf,#5487bd,#5184bc,#4f81ba,#4d7eb9,#4c7db8,#4c7db8,#4c7db8,#4c7db8,#4c7db8,#4c7db8,#4c7db8,#4c7eb9,#4e80ba,#5184bc,#5487bd,#5689be,#5689bf,#5689be,#5588be,#5588be,#5487bd,#5486bd,#5386bd,#578abf,#5b90c2,#6095c5,#659cc8,#669cc8,#669cc8,#669cc8,#669cc8,#669cc8,#6aa1cb,#75aed1,#8cc0db,#b1dceb,#e1f3f6,#fcfec4,#fff0a8,#feea9e,#fee99d,#fee99d,#feeba1,#fff6b2,#eff9dd,#c7e7f1,#9ecfe3,#8abfdb,#82b8d7,#7bb2d4,#74add1,#70a8cf,#6ca4cc,#689fca,#649ac7,#6196c5,#5d92c3,#5a8ec1,#578bbf,#5487be,#5284bc,#4f81ba,#4d7eb9,#4c7db8)"></i><i style="top:444.18px;height:5.03px;background:linear-gradient(90deg,#6da4cc,#6da4cc,#6da4cc,#6da4cc,#6da5cd,#6ea6cd,#73abd0,#80b7d6,#97c9e0,#bce1ee,#e6f5ec,#fffdbd,#feeda4,#fee89d,#fee89c,#fee89c,#feea9f,#fff6b1,#eff9dc,#c8e7f1,#a1d1e5,#90c3dd,#88bdda,#82b8d7,#7bb3d4,#76aed2,#71a9cf,#6da4cc,#689fca,#649ac7,#6095c5,#5d91c3,#5a8ec1,#578bbf,#5487bd,#5284bc,#4f81ba,#4f81ba,#4f80ba,#4f80ba,#4f80ba,#4f80ba,#4f80ba,#4f81ba,#4f81ba,#5284bc,#5487bd,#578bbf,#598dc0,#598dc0,#598cc0,#588cc0,#578bbf,#578abf,#578abf,#5689bf,#5b8fc2,#6096c5,#669dc8,#6ca4cc,#6da4cc,#6da4cc,#6da4cc,#6da5cd,#6ea6cd,#72abd0,#7fb6d6,#95c8e0,#b9e0ed,#e4f5f0,#feffc0,#feeea6,#fee99d,#fee89c,#fee89c,#feea9f,#fff5af,#f1fad9,#cce9f2,#a5d4e6,#91c4de,#89beda,#82b8d7,#7cb3d4,#76afd2,#71aacf,#6da5cd,#699fca,#649ac7,#6095c5,#5d92c3,#5a8ec1,#578bbf,#5587be,#5284bc,#5082bb,#4f81ba)"></i><i style="top:439.75px;height:5.03px;background:linear-gradient(90deg,#b3ddeb,#b3ddeb,#b3ddeb,#b4ddeb,#b8e0ed,#c6e6f1,#d9f0f6,#e7f6eb,#f2fad8,#fbfdc7,#fffbb9,#fff3ad,#feeda4,#feea9f,#fee89c,#fee699,#fee89c,#fff0a8,#fffcbb,#f4fbd4,#e8f6e9,#e3f4f3,#e0f3f7,#ddf1f7,#d7eff5,#cde9f2,#c0e3ef,#b3ddeb,#a6d5e7,#9acbe1,#90c3dd,#8cc0db,#8abfdb,#8abeda,#89beda,#88bdda,#87bcd9,#86bcd9,#86bbd9,#85bbd8,#85bad8,#85bbd9,#86bbd9,#87bcd9,#88bdda,#89beda,#8abeda,#8bbfdb,#8bbfdb,#88bdda,#85bbd8,#82b8d7,#80b6d6,#80b6d6,#80b7d6,#81b7d7,#8dc1dc,#9acbe2,#a7d5e7,#b2ddeb,#b3ddeb,#b3ddeb,#b4ddeb,#b8dfed,#c5e6f0,#d7eff6,#e6f5ed,#f1fad9,#fafdc9,#fffcba,#fff4ae,#feeda4,#feea9f,#fee89c,#fee69a,#fee89b,#feefa7,#fffbb9,#f5fbd2,#e9f6e8,#e3f4f2,#e0f3f7,#ddf2f7,#d7eff6,#cdeaf3,#c1e4ef,#b4deec,#a8d6e7,#9bcce2,#90c4dd,#8cc0db,#8bbfdb,#8abeda,#89beda,#88bdda,#87bcd9,#86bcd9)"></i><i style="top:435.33px;height:5.03px;background:linear-gradient(90deg,#bae0ed,#bae0ed,#bae1ed,#bbe1ee,#c0e3ef,#cfebf3,#e1f3f6,#ecf8e2,#f6fccf,#feffc1,#fffab7,#fff3ad,#feeea5,#feeba0,#fee99d,#fee79b,#fee99d,#fff0a8,#fffbb9,#f7fcce,#edf8e1,#e8f6ea,#e5f5ee,#e3f4f2,#dff2f8,#d4edf5,#c8e7f1,#bbe1ee,#afdbea,#a2d2e5,#98cae1,#94c7df,#93c6de,#92c5de,#91c4de,#90c4dd,#90c3dd,#8fc2dd,#8ec2dc,#8dc1dc,#8dc1dc,#8dc1dc,#8ec2dc,#8fc2dd,#90c3dd,#90c4dd,#91c4de,#92c5de,#92c5de,#90c3dd,#8cc1dc,#89beda,#87bcd9,#87bcd9,#88bdda,#88bdda,#95c7df,#a1d1e5,#aedaea,#b9e0ed,#bae0ed,#bae1ed,#bbe1ee,#c0e3ef,#ceeaf3,#e0f3f8,#ebf7e4,#f5fbd1,#fdfec2,#fffab7,#fff4ae,#feeea6,#feeba1,#fee99e,#fee79b,#fee89d,#feefa7,#fffab8,#f8fccc,#edf8df,#e8f6e9,#e6f5ee,#e3f4f2,#dff3f8,#d5eef5,#c9e8f1,#bce1ee,#b0dbea,#a3d3e6,#99cae1,#94c7df,#93c6df,#92c5de,#91c4de,#90c4dd,#90c3dd,#8fc2dd)"></i><i style="top:430.9px;height:5.03px;background:linear-gradient(90deg,#d2ecf4,#d6eef5,#daf0f6,#dff3f8,#e3f4f2,#e8f6e9,#eef8de,#f4fbd3,#fafdc8,#feffc1,#fffebd,#fffcba,#fffbb8,#fff9b7,#fff8b5,#fff7b3,#fff7b3,#fff8b4,#fffab7,#fffcba,#fffebd,#ffffbf,#fcfec5,#f5fbd1,#edf8e0,#e9f6e8,#e6f5ec,#e4f5f1,#e2f4f5,#dff2f8,#dbf1f7,#d8eff6,#d5edf5,#d2ecf4,#cfebf3,#cce9f2,#cae8f2,#c8e7f1,#c6e6f1,#c4e5f0,#c2e4f0,#c2e4ef,#c2e4ef,#c2e4ef,#c2e4ef,#c2e4f0,#c2e4f0,#c2e4f0,#c2e4f0,#c2e4ef,#c2e4ef,#c2e4ef,#c1e4ef,#c1e4ef,#c1e4ef,#c2e4ef,#c6e6f1,#cbe9f2,#d0ebf3,#d2ecf4,#d6eef5,#daf0f6,#dff2f8,#e3f4f3,#e8f6ea,#eef8df,#f4fbd4,#f9fdc9,#feffc1,#fffebd,#fffcbb,#fffbb9,#fffab7,#fff8b5,#fff7b3,#fff7b3,#fff8b4,#fffab7,#fffcba,#fffdbd,#ffffbf,#fcfec4,#f6fbd0,#eef8de,#e9f7e7,#e6f6ec,#e4f5f0,#e2f4f5,#dff3f8,#dcf1f7,#d8eff6,#d5eef5,#d2ecf4,#cfebf3,#cde9f2,#cae8f2,#c8e7f1)"></i><i style="top:426.48px;height:5.03px;background:linear-gradient(90deg,#d2ecf4,#d6eef5,#dbf0f6,#dff3f8,#e3f4f2,#e8f6e9,#edf8df,#f3fad5,#f8fccb,#fdfec3,#ffffbe,#fffdbc,#fffcba,#fffbb9,#fffab7,#fff9b5,#fff8b5,#fff9b6,#fffab7,#fffbb9,#fffcbb,#fffebd,#fdfec2,#f6fbd0,#edf8df,#e9f6e8,#e7f6ec,#e4f5f0,#e2f4f4,#e0f3f7,#ddf2f7,#daf0f6,#d6eef5,#d3edf4,#d0ebf3,#ceeaf3,#cbe9f2,#c9e8f1,#c7e7f1,#c4e5f0,#c3e5f0,#c2e4ef,#c2e4ef,#c2e4ef,#c2e4ef,#c2e4ef,#c2e4ef,#c2e4ef,#c2e4ef,#c2e4ef,#c2e4ef,#c2e4ef,#c2e4f0,#c2e4f0,#c3e5f0,#c3e5f0,#c8e7f1,#cce9f2,#d0ebf4,#d2ecf4,#d6eef5,#daf0f6,#dff3f8,#e3f4f3,#e8f6ea,#edf8e0,#f3fad6,#f8fccc,#fdfec4,#ffffbf,#fffdbc,#fffcba,#fffbb9,#fffab7,#fff9b5,#fff8b5,#fff9b5,#fffab7,#fffbb9,#fffcbb,#fffebd,#fdfec2,#f6fccf,#eef8de,#e9f7e7,#e7f6ec,#e5f5f0,#e3f4f3,#e0f3f7,#ddf2f7,#daf0f6,#d7eef5,#d3edf4,#d0ebf4,#ceeaf3,#cbe9f2,#c9e8f2)"></i><i style="top:422.05px;height:5.03px;background:linear-gradient(90deg,#bae1ed,#bce1ee,#bee2ee,#c0e3ef,#c3e5f0,#c8e7f1,#cfebf3,#d6eef5,#e0f3f7,#eaf7e5,#f5fbd2,#fbfdc6,#fefec2,#ffffbf,#fffebd,#fffcbb,#fffcba,#fffcbb,#fffdbd,#ffffbf,#feffc1,#fcfec4,#f8fccd,#ecf8e2,#e0f3f8,#d5eef5,#ceeaf3,#c8e7f1,#c1e4ef,#bbe1ee,#b5deec,#b1dceb,#aedaea,#abd9e9,#a7d6e7,#a4d3e6,#a0d0e4,#9ccde2,#98cae1,#93c6df,#90c4dd,#8fc3dd,#8fc3dd,#8fc3dd,#8fc3dd,#8fc3dd,#8fc3dd,#8fc3dd,#8fc3dd,#8fc3dd,#8fc3dd,#8fc3dd,#91c4de,#97c9e0,#9ecee3,#a5d4e6,#afdbea,#b4ddec,#b8dfed,#bae0ed,#bce1ee,#bde2ee,#bfe3ef,#c2e5f0,#c8e7f1,#ceeaf3,#d6eef5,#e0f3f8,#eaf7e6,#f4fbd3,#fafdc7,#fdfec2,#ffffbf,#fffebd,#fffcbb,#fffcba,#fffcbb,#fffdbd,#ffffbe,#feffc1,#fcfec4,#f8fccc,#edf8e0,#e1f3f6,#d6eef5,#cfebf3,#c8e7f1,#c2e4ef,#bbe1ee,#b6deec,#b2dceb,#aedbea,#abd9e9,#a7d6e7,#a4d3e6,#a0d1e4,#9ccde3)"></i><i style="top:417.62px;height:5.03px;background:linear-gradient(90deg,#b9e0ed,#bae0ed,#bce1ee,#bde2ee,#c0e3ef,#c5e6f0,#cce9f2,#d4edf4,#dff2f8,#eaf7e6,#f4fbd2,#fbfdc6,#fefec1,#ffffbf,#fffebd,#fffdbb,#fffcba,#fffdbc,#fffebe,#fefec2,#fcfec5,#fafdc8,#f5fbd1,#eaf7e5,#ddf2f7,#d1ecf4,#c9e8f2,#c2e4f0,#bce1ee,#b6deec,#b0dbea,#acd9e9,#a8d7e8,#a5d4e6,#a2d1e5,#9ecfe3,#9bcce2,#97c9e0,#93c6de,#8fc2dd,#8bc0db,#8abfdb,#8abfdb,#8abfdb,#8abfdb,#8abfdb,#8abfdb,#8abfdb,#8abfdb,#8abfdb,#8abfdb,#8abfdb,#8cc0dc,#92c5de,#99cbe1,#a0d1e4,#abd9e9,#b1dceb,#b6deec,#b9e0ed,#bae0ed,#bbe1ee,#bde2ee,#c0e3ef,#c5e6f0,#cbe9f2,#d3edf4,#def2f7,#e9f6e7,#f4fbd4,#fafdc7,#fdfec2,#ffffbf,#fffebd,#fffdbb,#fffcba,#fffdbc,#fffebe,#feffc1,#fcfec5,#fafdc8,#f6fbd0,#ebf7e4,#dff2f8,#d2ecf4,#cae8f2,#c3e5f0,#bce2ee,#b6deec,#b0dceb,#acdae9,#a8d7e8,#a5d4e6,#a2d2e5,#9fcfe4,#9bcce2,#97c9e0)"></i><i style="top:413.2px;height:5.03px;background:linear-gradient(90deg,#b9e0ed,#b9e0ed,#bbe1ed,#bce1ee,#bde2ee,#bfe3ef,#c6e6f1,#d9f0f6,#e9f7e7,#f5fbd2,#fcfec4,#fffdbc,#fffab7,#fff9b6,#fffbb8,#fffcba,#fffdbc,#fdfec3,#f4fbd3,#e8f6e9,#ddf1f7,#d5eef5,#d1ebf4,#cce9f2,#c2e4ef,#aedbea,#9acce2,#92c5de,#8ec2dc,#8bbfdb,#87bcd9,#81b8d7,#7cb4d5,#7bb2d4,#7ab2d4,#7ab2d4,#7ab2d3,#79b1d3,#79b1d3,#79b1d3,#78b1d3,#78b0d3,#78b0d3,#78b0d3,#78b0d3,#78b0d3,#78b0d3,#78b0d3,#78b0d3,#78b0d3,#78b0d3,#78b0d3,#78b1d3,#79b1d3,#7ab1d3,#7bb2d4,#8dc1dc,#a2d2e5,#b1dceb,#b8dfed,#b9e0ed,#bae1ed,#bce1ee,#bde2ee,#bfe3ef,#c6e6f1,#d7eff6,#e8f6e9,#f4fbd3,#fcfec5,#fffdbc,#fffab7,#fff9b6,#fffab8,#fffcba,#fffdbc,#fdfec2,#f5fbd2,#e9f7e7,#def2f7,#d5eef5,#d1ecf4,#cce9f2,#c2e4f0,#b0dbea,#9ccde2,#92c5de,#8ec2dd,#8bc0db,#87bcd9,#82b8d7,#7db4d5,#7bb2d4,#7ab2d4,#7ab2d4,#7ab2d3,#79b1d3)"></i><i style="top:408.77px;height:5.03px;background:linear-gradient(90deg,#b9e0ed,#b9e0ed,#bae1ed,#bce1ee,#bde2ee,#bee2ee,#c6e6f1,#d9f0f6,#eaf7e5,#f6fbd0,#fdfec3,#fffcbb,#fff9b6,#fff9b6,#fffab8,#fffcba,#fffdbd,#fdfec4,#f3fad5,#e6f5ec,#d8eff6,#d0ebf3,#cce9f2,#c8e7f1,#bfe3ef,#abd9e9,#96c8e0,#8dc1dc,#8abfdb,#87bcd9,#83b9d8,#7eb5d5,#79b1d3,#77afd2,#77afd2,#77afd2,#77afd2,#77afd2,#77afd2,#77afd2,#77afd2,#77afd2,#77afd2,#77afd2,#77afd2,#77afd2,#77afd2,#77afd2,#77afd2,#77afd2,#77afd2,#77afd2,#77afd2,#77afd2,#77afd2,#77b0d2,#8abfdb,#a1d1e4,#b0dceb,#b8dfed,#b9e0ed,#bae1ed,#bbe1ee,#bde2ee,#bee2ee,#c5e6f0,#d8eff6,#e9f7e7,#f5fbd2,#fcfec4,#fffdbb,#fff9b6,#fff9b6,#fffab8,#fffcba,#fffdbc,#fdfec3,#f4fbd4,#e7f6ea,#daf0f6,#d1ebf4,#cde9f2,#c9e8f1,#c0e3ef,#addae9,#98cae1,#8ec2dc,#8abfdb,#87bdd9,#84bad8,#7eb5d5,#79b1d3,#77afd2,#77afd2,#77afd2,#77afd2,#77afd2)"></i><i style="top:404.35px;height:5.03px;background:linear-gradient(90deg,#b8dfed,#b8e0ed,#b9e0ed,#bae1ed,#bce1ee,#bde2ee,#c4e5f0,#d6eef5,#e8f6e9,#f4fbd4,#fcfec5,#fffdbc,#fffab7,#fff9b6,#fffab8,#fffcba,#fffebd,#fcfec4,#f3fad6,#e6f5ed,#d8eff6,#cfebf3,#cbe9f2,#c7e7f1,#bee2ee,#aad8e9,#95c8e0,#8cc1dc,#89beda,#87bcd9,#83b9d8,#7db5d5,#78b1d3,#77afd2,#77afd2,#77afd2,#77afd2,#77afd2,#77afd2,#77afd2,#77afd2,#77afd2,#77afd2,#77afd2,#77afd2,#77afd2,#77afd2,#77afd2,#77afd2,#77afd2,#77afd2,#77afd2,#77afd2,#77afd2,#77afd2,#77afd2,#8abeda,#a0d0e4,#afdbea,#b7dfec,#b8e0ed,#b9e0ed,#bae1ed,#bbe1ee,#bde2ee,#c3e5f0,#d5eef5,#e7f6eb,#f3fad5,#fbfdc6,#fffdbd,#fffab7,#fff9b6,#fffab8,#fffcba,#fffebd,#fcfec4,#f3fad5,#e7f6eb,#d9f0f6,#d0ebf3,#cce9f2,#c8e7f1,#bfe3ef,#acd9e9,#97c9e0,#8dc1dc,#8abeda,#87bcd9,#83b9d8,#7eb5d5,#79b1d3,#77afd2,#77afd2,#77afd2,#77afd2,#77afd2)"></i><i style="top:399.92px;height:5.03px;background:linear-gradient(90deg,#acd9e9,#addae9,#addaea,#aedbea,#afdbea,#b0dbea,#b1dceb,#b4ddec,#bee2ee,#d9eff6,#edf8e1,#f8fccd,#fdfec3,#fffebe,#fffdbb,#fffebd,#fdfec3,#f7fcce,#edf8e0,#e1f3f6,#d1ecf4,#c8e7f1,#c3e5f0,#bde2ee,#b3ddeb,#9ecfe3,#8abfdb,#83b9d8,#82b8d7,#82b8d7,#80b7d6,#7bb3d4,#76afd2,#74add1,#74add1,#74add1,#74add1,#74add1,#74add1,#74add1,#74add1,#74add1,#74add1,#74add1,#74add1,#74add1,#74add1,#74add1,#74add1,#74add1,#74add1,#74add1,#74add1,#74add1,#74add1,#74add1,#84bad8,#96c8e0,#a4d3e6,#acd9e9,#addae9,#addaea,#aedbea,#afdbea,#b0dbea,#b1dceb,#b4ddeb,#bde2ee,#d6eef5,#ebf7e3,#f7fcce,#fcfec4,#fffebe,#fffdbc,#fffebd,#fdfec3,#f7fccd,#eef8df,#e2f4f4,#d2ecf4,#c9e8f1,#c3e5f0,#bee2ee,#b4ddec,#a0d0e4,#8cc0db,#84b9d8,#82b8d7,#82b8d7,#80b7d6,#7bb3d4,#76afd2,#74add1,#74add1,#74add1,#74add1,#74add1)"></i><i style="top:395.49px;height:5.03px;background:linear-gradient(90deg,#a9d7e8,#aad8e8,#abd9e9,#acd9e9,#addae9,#aedaea,#afdbea,#b1dceb,#bae0ed,#d4edf4,#eaf7e6,#f5fbd2,#fafdc8,#fdfec3,#ffffc0,#fdfec2,#fafdc7,#f5fbd2,#ebf7e4,#e0f3f8,#cfebf3,#c6e6f1,#c1e4ef,#bbe1ed,#b0dcea,#9ccde2,#88bdda,#81b8d7,#80b7d6,#80b6d6,#7eb5d5,#79b1d3,#74add1,#73acd0,#73acd0,#73acd0,#73acd0,#73acd0,#73acd0,#73acd0,#73acd0,#73acd0,#73acd0,#73acd0,#73acd0,#73acd0,#73acd0,#73acd0,#73acd0,#73acd0,#73acd0,#73acd0,#73acd0,#73acd0,#73acd0,#73acd0,#82b8d7,#94c6df,#a1d1e5,#a9d7e8,#aad8e8,#abd9e9,#acd9e9,#acdae9,#addaea,#afdbea,#b0dceb,#b9e0ed,#d2ecf4,#e8f6e9,#f4fbd4,#f9fdc9,#fdfec3,#ffffc0,#fefec2,#fbfdc7,#f5fbd1,#ecf8e2,#e1f3f7,#d1ebf4,#c7e7f1,#c1e4ef,#bbe1ee,#b1dceb,#9dcee3,#8abeda,#82b8d7,#80b7d6,#80b6d6,#7eb5d5,#7ab1d3,#75aed1,#73acd0,#73acd0,#73acd0,#73acd0,#73acd0)"></i><i style="top:391.07px;height:5.03px;background:linear-gradient(90deg,#8bc0db,#8cc1dc,#8ec2dc,#90c3dd,#92c5de,#96c9e0,#9bcce2,#a0d0e4,#a7d6e7,#b2ddeb,#bfe3ef,#cbe9f2,#d4edf4,#d7eef5,#d7eff5,#d7eff5,#d7eef5,#d6eef5,#d2ecf4,#cae8f2,#c0e3ef,#b6deec,#acd9e9,#9fd0e4,#92c5de,#84bad8,#78b0d3,#71a9cf,#6ca4cc,#689fca,#659bc8,#649ac7,#6499c7,#6399c7,#6399c7,#6399c7,#6399c7,#6399c7,#6399c7,#6399c7,#6399c7,#6399c7,#6399c7,#6399c7,#6399c7,#6399c7,#6399c7,#6399c7,#6399c7,#6399c7,#6399c7,#6399c7,#6399c7,#6399c7,#6399c7,#6399c7,#6ca3cc,#76aed2,#81b7d7,#8bbfdb,#8cc0dc,#8ec2dc,#90c3dd,#92c5de,#96c8e0,#9bcce2,#a0d0e4,#a7d6e7,#b2dceb,#bee2ee,#cae8f2,#d3edf4,#d6eef5,#d7eff5,#d7eff5,#d7eef5,#d6eef5,#d3ecf4,#cbe9f2,#c1e4ef,#b7dfec,#acdae9,#a0d0e4,#93c6de,#85bad8,#78b1d3,#71aacf,#6da4cd,#69a0ca,#659cc8,#649ac7,#6499c7,#6399c7,#6399c7,#6399c7,#6399c7,#6399c7)"></i><i style="top:386.64px;height:5.03px;background:linear-gradient(90deg,#88bdda,#8abeda,#8bc0db,#8dc1dc,#90c3dd,#94c7df,#99cbe1,#9fcfe4,#a6d5e7,#b0dbea,#bbe1ee,#c6e6f1,#cfebf3,#d2ecf4,#d2ecf4,#d2ecf4,#d2ecf4,#d2ecf4,#cfebf3,#c8e7f1,#bfe3ef,#b5deec,#aad8e9,#9dcee3,#90c3dd,#82b8d7,#76afd2,#70a8ce,#6ba3cc,#679ec9,#649ac7,#6399c6,#6398c6,#6398c6,#6398c6,#6398c6,#6398c6,#6398c6,#6398c6,#6398c6,#6398c6,#6398c6,#6398c6,#6398c6,#6398c6,#6398c6,#6398c6,#6398c6,#6398c6,#6398c6,#6298c6,#6298c6,#6298c6,#6298c6,#6298c6,#6298c6,#6aa2cb,#73acd1,#7eb5d5,#88bdda,#89beda,#8bbfdb,#8dc1dc,#8fc3dd,#94c6df,#99cae1,#9ecfe3,#a5d4e6,#afdbea,#bae0ed,#c5e6f0,#ceeaf3,#d1ecf4,#d2ecf4,#d2ecf4,#d2ecf4,#d2ecf4,#d0ebf3,#c9e8f1,#c0e3ef,#b6deec,#abd9e9,#9ecfe3,#91c4dd,#83b9d8,#77b0d2,#70a9cf,#6ca3cc,#689ec9,#649ac7,#6399c6,#6398c6,#6398c6,#6398c6,#6398c6,#6398c6,#6398c6)"></i><i style="top:382.22px;height:5.03px;background:linear-gradient(90deg,#7cb4d5,#7eb5d5,#7fb6d6,#81b7d7,#84bad8,#8abeda,#90c4dd,#97c9e0,#9fcfe4,#a8d7e8,#b2ddeb,#bce1ee,#c4e5f0,#c6e6f1,#c6e6f1,#c6e6f1,#c6e6f1,#c6e6f1,#c6e6f1,#c5e6f0,#c2e4ef,#b8dfed,#abd9e9,#9dcee3,#90c3dd,#82b8d7,#77afd2,#71aacf,#6ea6cd,#6ba2cb,#69a0ca,#689ec9,#689ec9,#679ec9,#679ec9,#679dc9,#679dc9,#679dc9,#669dc9,#669cc8,#669cc8,#669cc8,#669cc8,#659cc8,#659bc8,#659bc8,#659bc8,#659bc7,#649ac7,#649ac7,#649ac7,#649ac7,#6499c7,#6399c7,#6399c7,#6399c7,#689fca,#6ea6ce,#75aed2,#7cb3d4,#7db5d5,#7fb6d6,#81b7d7,#84bad8,#89beda,#90c3dd,#97c9e0,#9ecfe3,#a8d6e7,#b2dceb,#bbe1ee,#c3e5f0,#c6e6f1,#c6e6f1,#c6e6f1,#c6e6f1,#c6e6f1,#c6e6f1,#c6e6f1,#c2e4f0,#b9e0ed,#acdae9,#9ecfe4,#91c4de,#83b9d8,#78b0d3,#72aad0,#6ea6cd,#6ba3cc,#69a0ca,#689fca,#689ec9,#679ec9,#679ec9,#679dc9,#679dc9,#679dc9)"></i><i style="top:377.79px;height:5.03px;background:linear-gradient(90deg,#7fb6d6,#81b7d6,#82b8d7,#84bad8,#87bcd9,#8cc1dc,#93c6df,#9bcce2,#a3d3e6,#addaea,#b7dfec,#c1e4ef,#c8e7f1,#cae8f2,#cbe9f2,#cbe9f2,#cbe9f2,#cbe9f2,#cbe9f2,#cae8f2,#c7e7f1,#bde2ee,#b0dcea,#a2d2e5,#93c6df,#86bcd9,#7cb3d4,#76aed2,#72abd0,#70a8ce,#6da5cd,#6ca4cc,#6ca4cc,#6ca3cc,#6ba3cc,#6aa2cb,#69a0cb,#69a0ca,#69a0ca,#689fca,#689fca,#689fca,#689ec9,#679ec9,#679dc9,#669dc9,#669dc8,#669cc8,#669cc8,#669cc8,#659cc8,#659bc8,#659bc8,#659bc8,#659bc8,#649ac7,#6aa1cb,#71a9cf,#78b0d3,#7fb6d6,#80b7d6,#82b8d7,#84bad8,#87bcd9,#8cc0db,#93c6de,#9acbe2,#a2d2e5,#acdae9,#b6dfec,#c0e3ef,#c7e7f1,#cae8f2,#cbe9f2,#cbe9f2,#cbe9f2,#cbe9f2,#cbe9f2,#cae8f2,#c7e7f1,#bee2ee,#b1dceb,#a3d3e5,#95c7df,#87bcd9,#7cb4d5,#76afd2,#73abd0,#70a8ce,#6ea5cd,#6ca4cc,#6ca4cc,#6ca3cc,#6ba3cc,#6aa2cb,#6aa1cb,#69a0ca)"></i><i style="top:373.36px;height:5.03px;background:linear-gradient(90deg,#b5deec,#b7dfec,#b9e0ed,#bbe1ee,#bde2ee,#c0e3ef,#c6e6f1,#d4edf5,#e3f4f2,#edf8e0,#f5fbd1,#fafdc9,#fcfec5,#feffc1,#fffebe,#fffdbb,#fffcba,#fffdbc,#ffffbe,#fdfec2,#fbfec6,#f7fccd,#eef9de,#e0f3f8,#c9e8f2,#c0e3ef,#bde2ee,#bae0ed,#b8dfed,#b6deec,#b3ddeb,#b2dceb,#b0dcea,#aedbea,#a9d8e8,#9dcee3,#91c4de,#8cc0dc,#8bbfdb,#8abeda,#88bdda,#87bcd9,#85bad8,#80b6d6,#7bb3d4,#7ab1d3,#79b1d3,#79b1d3,#79b1d3,#79b1d3,#79b1d3,#79b1d3,#79b1d3,#79b1d3,#79b1d3,#79b1d3,#88bdda,#99cae1,#a8d6e8,#b4deec,#b7dfec,#b9e0ed,#bbe1ed,#bde2ee,#c0e3ef,#c6e6f1,#d3edf4,#e2f4f4,#ecf8e1,#f5fbd2,#f9fdc9,#fcfec5,#feffc1,#fffebe,#fffdbc,#fffcba,#fffdbb,#fffebe,#fefec2,#fbfec6,#f8fccd,#eff9dc,#e1f3f6,#cbe9f2,#c1e4ef,#bde2ee,#bae1ed,#b8dfed,#b6deec,#b4ddeb,#b2dceb,#b0dcea,#aedbea,#aad8e8,#9ecfe3,#92c5de,#8cc1dc)"></i><i style="top:368.94px;height:5.03px;background:linear-gradient(90deg,#b7dfec,#b9e0ed,#bbe1ed,#bde2ee,#bfe3ef,#c1e4ef,#c7e7f1,#d5edf5,#e3f4f2,#eef8df,#f6fccf,#fafdc7,#fdfec3,#ffffbf,#fffdbd,#fffcba,#fffbb9,#fffcba,#fffebd,#feffc0,#fcfec4,#f8fccb,#eff9dc,#e1f3f6,#cce9f2,#c3e5f0,#c1e4ef,#bfe3ef,#bde2ee,#bbe1ee,#b9e0ed,#b7dfed,#b6deec,#b4ddec,#afdbea,#a1d1e5,#94c7df,#8fc3dd,#8dc1dc,#8cc0db,#8bbfdb,#8abeda,#87bcd9,#82b8d7,#7db4d5,#7cb3d4,#7cb3d4,#7bb3d4,#7bb3d4,#7bb3d4,#7bb3d4,#7bb3d4,#7bb3d4,#7bb3d4,#7bb3d4,#7cb3d5,#8bbfdb,#9ccde2,#aad8e9,#b6dfec,#b9e0ed,#bbe1ed,#bde2ee,#bfe3ef,#c1e4ef,#c7e7f1,#d4edf5,#e3f4f3,#edf8e1,#f5fbd1,#fafdc8,#fdfec3,#ffffc0,#fffdbd,#fffcba,#fffbb9,#fffcba,#fffdbd,#ffffc0,#fcfec4,#f9fdcb,#f0f9da,#e2f4f4,#ceeaf3,#c4e5f0,#c1e4ef,#bfe3ef,#bde2ee,#bbe1ee,#b9e0ed,#b8dfed,#b6deec,#b4ddec,#afdbea,#a3d2e5,#95c8e0,#8fc3dd)"></i><i style="top:364.51px;height:5.03px;background:linear-gradient(90deg,#9fd0e4,#a0d0e4,#a1d1e5,#a2d2e5,#a3d2e5,#a4d3e6,#a5d4e6,#a7d6e7,#acdae9,#b8dfed,#c7e7f1,#d5eef5,#e0f3f8,#e2f4f5,#e2f4f4,#e2f4f4,#e2f4f4,#e2f4f4,#e2f4f4,#e2f4f4,#e0f3f7,#d9f0f6,#cfebf3,#c5e6f0,#bde2ee,#bbe1ee,#bde2ee,#bfe3ef,#c1e4ef,#c3e5f0,#c4e5f0,#c5e6f0,#c4e5f0,#c4e5f0,#bee2ee,#addaea,#9bcde2,#93c6df,#8fc3dd,#8cc0dc,#8abeda,#88bdda,#88bdda,#87bcd9,#86bbd9,#85bbd9,#85bbd8,#85bad8,#84bad8,#84b9d8,#83b9d8,#83b9d7,#82b8d7,#82b8d7,#84bad8,#8bbfdb,#95c8e0,#9bcce2,#9dcee3,#9fd0e4,#a0d0e4,#a1d1e5,#a2d2e5,#a3d2e5,#a4d3e6,#a5d4e6,#a7d6e7,#acd9e9,#b7dfec,#c6e6f1,#d4edf5,#dff2f8,#e2f4f5,#e2f4f4,#e2f4f4,#e2f4f4,#e2f4f4,#e2f4f4,#e2f4f4,#e1f3f7,#daf0f6,#d0ebf3,#c5e6f0,#bde2ee,#bbe1ee,#bde2ee,#bfe3ef,#c1e4ef,#c3e5f0,#c4e5f0,#c4e5f0,#c4e5f0,#c4e5f0,#bfe3ef,#afdbea,#9dcee3,#94c6df)"></i><i style="top:360.09px;height:5.03px;background:linear-gradient(90deg,#9fd0e4,#a0d0e4,#a1d1e5,#a2d1e5,#a2d2e5,#a3d3e6,#a4d4e6,#a5d4e7,#aad8e9,#b6deec,#c4e5f0,#d3edf4,#def2f8,#e1f4f5,#e2f4f5,#e2f4f4,#e2f4f4,#e2f4f4,#e2f4f4,#e2f4f5,#e0f3f8,#d9eff6,#cfeaf3,#c4e5f0,#bde2ee,#bbe1ee,#bde2ee,#bfe3ef,#c1e4ef,#c2e4f0,#c4e5f0,#c4e5f0,#c4e5f0,#c3e5f0,#bee2ee,#addaea,#9bcce2,#92c5de,#8ec2dc,#8bbfdb,#88bdda,#87bcd9,#86bcd9,#86bbd9,#85bbd9,#85bbd8,#85bad8,#84bad8,#84bad8,#83b9d8,#83b9d7,#82b8d7,#82b8d7,#82b8d7,#84bad8,#8bbfdb,#95c8df,#9acce2,#9dcee3,#9fd0e4,#a0d0e4,#a1d1e4,#a2d1e5,#a2d2e5,#a3d3e6,#a4d3e6,#a5d4e7,#aad8e8,#b5deec,#c3e5f0,#d2ecf4,#def2f7,#e1f3f6,#e2f4f5,#e2f4f4,#e2f4f4,#e2f4f4,#e2f4f4,#e2f4f5,#e0f3f7,#d9f0f6,#cfebf3,#c5e6f0,#bde2ee,#bbe1ee,#bde2ee,#bfe3ef,#c0e3ef,#c2e4f0,#c4e5f0,#c4e5f0,#c4e5f0,#c3e5f0,#bee2ee,#aedbea,#9ccde3,#93c6de)"></i><i style="top:355.66px;height:5.03px;background:linear-gradient(90deg,#b7dfec,#b7dfed,#b8dfed,#b9e0ed,#bae0ed,#bbe1ed,#bce1ee,#bde2ee,#c2e4ef,#d0ebf3,#e1f3f7,#ebf7e4,#f4fbd4,#f8fccb,#fbfec6,#feffc1,#fffebe,#ffffbf,#fefec2,#fcfec4,#fafdc9,#f4fbd3,#e9f7e7,#dbf1f7,#cae8f2,#c2e4f0,#bfe3ef,#bce1ee,#b9e0ed,#b6deec,#b3ddeb,#b1dceb,#b0dbea,#aedaea,#a7d6e7,#98cae1,#88bdda,#80b7d6,#7cb4d5,#79b1d3,#76afd2,#75aed2,#75aed2,#75aed2,#75aed2,#75aed1,#75aed1,#75aed1,#75aed1,#75aed1,#75aed1,#75aed1,#75aed1,#75aed1,#75aed1,#76aed2,#86bcd9,#99cae1,#a9d8e8,#b6deec,#b7dfec,#b8dfed,#b9e0ed,#bae0ed,#bbe1ed,#bbe1ee,#bde2ee,#c1e4ef,#cfeaf3,#e0f3f8,#eaf7e5,#f3fad5,#f8fccc,#fbfdc6,#fefec2,#ffffbe,#ffffbf,#feffc1,#fcfec4,#fafdc8,#f5fbd2,#eaf7e5,#ddf1f7,#cbe9f2,#c3e5f0,#bfe3ef,#bce1ee,#b9e0ed,#b6deec,#b3ddeb,#b1dceb,#b0dbea,#aedaea,#a8d7e8,#99cbe1,#89beda,#81b7d7)"></i><i style="top:351.23px;height:5.03px;background:linear-gradient(90deg,#b6deec,#b7dfec,#b8dfed,#b9e0ed,#bae0ed,#bbe1ed,#bce1ee,#bde2ee,#c2e4f0,#cfebf3,#e0f3f7,#eaf7e5,#f3fad6,#f7fccd,#fafdc8,#fdfec3,#ffffc0,#feffc1,#fdfec3,#fbfdc6,#f9fdca,#f3fad5,#e9f6e8,#daf0f6,#c8e7f1,#c1e4ef,#bde2ee,#bae0ed,#b7dfec,#b4ddeb,#b1dceb,#afdbea,#addaea,#abd9e9,#a5d4e6,#96c8e0,#86bcd9,#7fb5d6,#7bb2d4,#77afd2,#74add1,#73acd1,#73acd1,#73acd1,#73acd1,#73acd1,#73acd1,#73acd1,#73acd1,#73acd1,#73acd1,#73acd1,#73acd1,#73acd1,#74add1,#74add1,#85bad8,#97c9e0,#a8d7e8,#b5deec,#b7dfec,#b7dfed,#b8e0ed,#bae0ed,#bbe1ed,#bce1ee,#bde2ee,#c2e4ef,#ceeaf3,#dff3f8,#eaf7e6,#f2fad7,#f7fcce,#fafdc8,#fdfec3,#feffc0,#feffc1,#fdfec3,#fbfec6,#f9fdca,#f4fbd4,#e9f7e7,#dbf1f7,#cae8f2,#c1e4ef,#bde2ee,#bae0ed,#b7dfec,#b4ddec,#b1dceb,#afdbea,#aedaea,#acd9e9,#a6d5e7,#97c9e0,#88bdda,#7fb6d6)"></i><i style="top:346.81px;height:5.03px;background:linear-gradient(90deg,#8dc1dc,#8fc2dd,#91c5de,#95c8e0,#9acbe1,#9ecfe3,#a2d2e5,#a6d5e7,#aad8e9,#afdbea,#b4deec,#bae0ed,#bee2ee,#bfe3ef,#c0e3ef,#c0e3ef,#c1e4ef,#c1e4ef,#c0e3ef,#c0e3ef,#bee2ee,#b9e0ed,#b1dceb,#a9d8e8,#a3d3e6,#a1d1e5,#a0d0e4,#a0d0e4,#a0d0e4,#9fd0e4,#9fcfe4,#9fcfe4,#9fcfe4,#9ecfe3,#9bcce2,#90c3dd,#84bad8,#7bb3d4,#75add1,#6fa7ce,#6ba2cb,#69a0ca,#69a0ca,#69a0ca,#699fca,#689fca,#689fca,#689fca,#689fc9,#689ec9,#679ec9,#679ec9,#689fca,#6aa2cb,#6ea5cd,#71a9cf,#7ab2d4,#83b9d8,#89beda,#8dc1dc,#8fc2dd,#91c4de,#95c8df,#99cbe1,#9ecee3,#a2d1e5,#a6d5e7,#aad8e9,#afdbea,#b4ddec,#b9e0ed,#bde2ee,#bfe3ef,#c0e3ef,#c0e3ef,#c1e4ef,#c1e4ef,#c0e3ef,#c0e3ef,#bee2ee,#b9e0ed,#b2dceb,#aad8e9,#a4d3e6,#a1d1e5,#a0d0e4,#a0d0e4,#a0d0e4,#9fd0e4,#9fcfe4,#9fcfe4,#9fcfe4,#9ecfe3,#9bcce2,#91c4de,#85bad8,#7cb3d5)"></i><i style="top:342.38px;height:5.03px;background:linear-gradient(90deg,#8abfdb,#8cc0db,#8ec2dd,#93c5de,#97c9e0,#9ccde2,#a0d0e4,#a4d3e6,#a8d7e8,#addae9,#b1dceb,#b5deec,#b8e0ed,#bae0ed,#bae0ed,#bae0ed,#bae0ed,#bae0ed,#bae0ed,#bae0ed,#b8dfed,#b3ddeb,#acdae9,#a5d4e7,#a0d0e4,#9ecfe3,#9ecee3,#9ecee3,#9ecee3,#9ecee3,#9ecee3,#9ecee3,#9ecee3,#9dcee3,#9acbe1,#8fc3dd,#84bad8,#7bb3d4,#74add1,#6ea6ce,#6aa1cb,#689fca,#689fca,#689fca,#689ec9,#679ec9,#679ec9,#679ec9,#679dc9,#679dc9,#679dc9,#669dc9,#679ec9,#6aa1cb,#6da5cd,#71a9cf,#79b1d3,#81b8d7,#87bcd9,#8abfdb,#8bc0db,#8ec2dc,#92c5de,#97c9e0,#9bcce2,#9fd0e4,#a4d3e6,#a8d7e8,#acdae9,#b1dceb,#b5deec,#b8dfed,#bae0ed,#bae0ed,#bae0ed,#bae0ed,#bae0ed,#bae0ed,#bae0ed,#b8dfed,#b3ddeb,#addaea,#a6d5e7,#a0d0e4,#9ecfe3,#9ecee3,#9ecee3,#9ecee3,#9ecee3,#9ecee3,#9ecee3,#9ecee3,#9dcee3,#9acbe2,#90c4dd,#85bad8,#7cb3d4)"></i><i style="top:337.96px;height:5.03px;background:linear-gradient(90deg,#89beda,#8bbfdb,#8ec1dc,#92c5de,#96c9e0,#9bcce2,#9fd0e4,#a3d3e6,#a8d6e8,#acd9e9,#b0dbea,#b4ddec,#b7dfec,#b8e0ed,#b8e0ed,#b9e0ed,#b9e0ed,#b9e0ed,#b9e0ed,#b8e0ed,#b7dfec,#b2dceb,#abd9e9,#a4d4e6,#9fd0e4,#9dcee3,#9dcee3,#9dcee3,#9dcee3,#9dcee3,#9dcee3,#9dcee3,#9dcee3,#9dcee3,#99cbe1,#8fc3dd,#84b9d8,#7bb3d4,#74add1,#6ea6cd,#6aa1cb,#689fca,#689fc9,#689ec9,#679ec9,#679ec9,#679ec9,#679dc9,#679dc9,#669dc9,#669dc9,#669cc8,#679dc9,#69a0cb,#6da5cd,#70a9cf,#79b1d3,#81b7d7,#86bcd9,#89beda,#8bbfdb,#8dc1dc,#91c5de,#96c8e0,#9bcce2,#9fcfe4,#a3d3e6,#a7d6e7,#acd9e9,#b0dbea,#b4ddeb,#b7dfec,#b8dfed,#b8e0ed,#b9e0ed,#b9e0ed,#b9e0ed,#b9e0ed,#b8e0ed,#b7dfec,#b2dceb,#acd9e9,#a5d4e6,#a0d0e4,#9ecee3,#9dcee3,#9dcee3,#9dcee3,#9dcee3,#9dcee3,#9dcee3,#9dcee3,#9dcee3,#9acbe1,#90c3dd,#85bad8,#7cb3d4)"></i><i style="top:333.53px;height:5.03px;background:linear-gradient(90deg,#89beda,#8abfdb,#8dc1dc,#91c4de,#96c8e0,#9acce2,#9fcfe4,#a3d3e6,#a7d6e7,#acd9e9,#b0dbea,#b4ddec,#b7dfec,#b9e0ed,#b9e0ed,#b9e0ed,#bae0ed,#bae0ed,#bae0ed,#b9e0ed,#b7dfec,#b2dceb,#abd9e9,#a5d4e6,#a0d0e4,#9ecee3,#9dcee3,#9dcee3,#9dcee3,#9dcee3,#9dcee3,#9dcee3,#9dcee3,#9dcde3,#99cbe1,#8fc3dd,#84b9d8,#7bb3d4,#74add1,#6ea6cd,#6aa1cb,#689fca,#689ec9,#679ec9,#679ec9,#679ec9,#679dc9,#679dc9,#669dc9,#669dc9,#669cc8,#669cc8,#679dc9,#69a0ca,#6da4cd,#70a9cf,#79b1d3,#81b7d6,#86bbd9,#89bdda,#8abfdb,#8dc1dc,#91c4de,#96c8e0,#9acbe2,#9ecfe3,#a3d2e5,#a7d6e7,#abd9e9,#afdbea,#b4ddeb,#b7dfec,#b9e0ed,#b9e0ed,#b9e0ed,#bae0ed,#bae0ed,#bae0ed,#b9e0ed,#b7dfec,#b2dceb,#acd9e9,#a5d4e6,#a0d0e4,#9ecee3,#9dcee3,#9dcee3,#9dcee3,#9dcee3,#9dcee3,#9dcee3,#9dcee3,#9dcde3,#99cbe1,#90c3dd,#84bad8,#7cb3d4)"></i><i style="top:329.1px;height:5.03px;background:linear-gradient(90deg,#83b9d7,#85bad8,#87bcd9,#8bbfdb,#90c3dd,#95c7df,#99cbe1,#9ecfe3,#a2d2e5,#a7d6e7,#acd9e9,#b2dceb,#b8dfed,#bee2ee,#c3e5f0,#c6e6f1,#c8e7f1,#c9e8f2,#c8e7f1,#c3e5f0,#bbe1ee,#b3ddeb,#acdae9,#a7d6e7,#a4d3e6,#a1d1e4,#9ecfe3,#9dcee3,#9dcee3,#9dcee3,#9dcee3,#9ccde2,#9acbe2,#98cae1,#94c7df,#8cc0dc,#83b9d7,#7ab2d4,#73acd0,#6da4cc,#689ec9,#669cc8,#659cc8,#659bc8,#659bc8,#659bc8,#649ac7,#649ac7,#649ac7,#6399c7,#6399c7,#6399c7,#649ac7,#679ec9,#6ba3cc,#70a8ce,#77afd2,#7db4d5,#81b7d7,#83b9d7,#85bad8,#87bcd9,#8bbfdb,#8fc3dd,#94c7df,#99cbe1,#9ecee3,#a2d2e5,#a7d5e7,#acd9e9,#b1dceb,#b8dfed,#bee2ee,#c3e5f0,#c6e6f1,#c8e7f1,#c9e8f1,#c8e7f1,#c3e5f0,#bce1ee,#b4ddec,#addaea,#a8d6e8,#a4d3e6,#a1d1e5,#9ecfe3,#9dcee3,#9dcee3,#9dcee3,#9dcee3,#9ccde2,#9acce2,#98cae1,#95c7df,#8dc1dc,#83b9d8,#7bb3d4)"></i><i style="top:324.68px;height:5.03px;background:linear-gradient(90deg,#82b9d7,#84bad8,#87bcd9,#8abfdb,#8fc3dd,#94c7df,#99cbe1,#9dcee3,#a2d2e5,#a7d5e7,#acd9e9,#b2dceb,#b8e0ed,#bfe3ef,#c4e5f0,#c7e7f1,#c9e8f1,#cae8f2,#c9e8f2,#c4e5f0,#bce1ee,#b3ddeb,#acdae9,#a8d6e8,#a4d3e6,#a1d1e5,#9ecfe3,#9dcee3,#9dcee3,#9dcee3,#9dcee3,#9bcde2,#9acbe1,#98cae1,#94c7df,#8cc0db,#82b9d7,#7ab2d4,#73acd0,#6ca4cc,#689ec9,#669cc8,#659bc8,#659bc8,#659bc8,#649ac7,#649ac7,#649ac7,#6499c7,#6399c7,#6399c6,#6398c6,#649ac7,#679dc9,#6ba2cc,#70a8ce,#77afd2,#7db4d5,#80b7d6,#82b8d7,#84bad8,#87bcd9,#8abfdb,#8fc2dd,#94c6df,#99cae1,#9dcee3,#a2d2e5,#a6d5e7,#abd9e9,#b1dceb,#b8dfed,#bee2ee,#c4e5f0,#c7e7f1,#c9e8f1,#cae8f2,#c9e8f2,#c4e5f0,#bce1ee,#b4ddec,#addaea,#a8d7e8,#a4d4e6,#a1d1e5,#9ecfe3,#9dcee3,#9dcee3,#9dcee3,#9dcee3,#9ccde2,#9acbe2,#98cae1,#94c7df,#8dc1dc,#83b9d8,#7bb3d4)"></i><i style="top:320.25px;height:5.03px;background:linear-gradient(90deg,#82b8d7,#84bad8,#86bcd9,#8abeda,#8ec2dc,#93c6de,#97c9e0,#9ccde3,#a1d1e5,#a6d5e7,#acd9e9,#b2dceb,#b9e0ed,#c0e3ef,#c5e6f0,#c8e7f1,#cbe8f2,#cce9f2,#cbe9f2,#c5e6f0,#bce2ee,#b4ddec,#addae9,#a8d6e8,#a4d3e6,#a0d0e4,#9ecee3,#9dcee3,#9dcde3,#9ccde3,#9ccde2,#9acbe2,#98cae1,#96c8e0,#92c5de,#8abeda,#81b7d7,#79b1d3,#72aad0,#6ca3cc,#679dc9,#659bc8,#649bc7,#649ac7,#649ac7,#6399c7,#6399c7,#6398c6,#6298c6,#6298c6,#6297c6,#6197c6,#6298c6,#669cc8,#6aa1cb,#6fa7ce,#76afd2,#7cb4d5,#80b7d6,#82b8d7,#84bad8,#86bcd9,#89beda,#8ec2dc,#93c5de,#97c9e0,#9ccde2,#a1d1e5,#a6d5e7,#abd9e9,#b1dceb,#b8dfed,#bfe3ef,#c5e6f0,#c8e7f1,#cae8f2,#cce9f2,#cbe9f2,#c5e6f0,#bde2ee,#b5deec,#addaea,#a8d7e8,#a4d3e6,#a1d1e4,#9ecfe3,#9dcee3,#9dcde3,#9ccde3,#9ccde2,#9acce2,#98cae1,#96c8e0,#92c5de,#8abfdb,#81b8d7,#79b1d3)"></i><i style="top:315.83px;height:5.03px;background:linear-gradient(90deg,#82b8d7,#82b8d7,#82b8d7,#82b8d7,#83b9d7,#83b9d8,#86bbd9,#8dc1dc,#97c9e0,#a1d1e5,#abd9e9,#b5deec,#bee3ef,#c8e7f1,#d1ecf4,#d9eff6,#def2f8,#dff3f8,#d9f0f6,#cfebf3,#c5e6f0,#bbe1ee,#b1dceb,#a8d6e8,#a0d0e4,#9bcde2,#99cbe1,#97c9e0,#95c7df,#92c5de,#8fc3dd,#8abeda,#83b9d8,#7db4d5,#76afd2,#72aacf,#6da5cd,#69a0ca,#659bc8,#6197c5,#5e93c3,#5c91c2,#5b8fc2,#5a8ec1,#598dc1,#588cc0,#578bbf,#568abf,#5689be,#5588be,#5486bd,#5386bd,#5487bd,#598dc0,#6095c5,#679ec9,#72aacf,#79b1d3,#7eb5d5,#82b8d7,#82b8d7,#82b8d7,#82b8d7,#83b9d7,#83b9d8,#86bbd9,#8dc1dc,#96c8e0,#a0d0e4,#aad8e9,#b4ddec,#bee2ee,#c7e7f1,#d0ebf4,#d8eff6,#def2f7,#dff3f8,#d9f0f6,#d0ebf3,#c6e6f1,#bce1ee,#b2dceb,#a9d7e8,#a0d0e4,#9ccde2,#99cbe1,#97c9e0,#95c7df,#93c5de,#8fc3dd,#8abfdb,#84bad8,#7db4d5,#77afd2,#72aad0,#6ea5cd,#6aa1cb)"></i><i style="top:311.4px;height:5.03px;background:linear-gradient(90deg,#82b8d7,#82b8d7,#82b8d7,#82b8d7,#82b8d7,#82b8d7,#85bad8,#8cc0dc,#96c9e0,#a1d1e5,#abd9e9,#b5deec,#bfe3ef,#c9e8f1,#d2ecf4,#daf0f6,#e0f3f8,#e0f3f7,#daf0f6,#d0ebf3,#c6e6f1,#bce1ee,#b2dceb,#a8d6e8,#9fd0e4,#9bcce2,#99cae1,#96c9e0,#94c7df,#92c5de,#8ec2dc,#89bdda,#82b8d7,#7bb3d4,#75aed1,#70a8cf,#6ca4cc,#689fca,#649ac7,#6096c5,#5d92c3,#5c90c2,#5b8fc1,#5a8ec1,#598cc0,#588bbf,#578abf,#5689be,#5588be,#5487bd,#5385bc,#5284bc,#5386bd,#588cc0,#5f95c4,#679dc9,#71aacf,#79b1d3,#7eb5d5,#82b8d7,#82b8d7,#82b8d7,#82b8d7,#82b8d7,#82b8d7,#84bad8,#8cc0db,#96c8e0,#a0d0e4,#aad8e9,#b4ddec,#bee2ee,#c8e7f1,#d1ecf4,#d9f0f6,#dff3f8,#e0f3f7,#daf0f6,#d1ebf4,#c6e6f1,#bce2ee,#b2ddeb,#a9d7e8,#a0d0e4,#9bcde2,#99cae1,#97c9e0,#94c7df,#92c5de,#8fc2dd,#89beda,#82b8d7,#7bb3d4,#75aed2,#71a9cf,#6da4cc,#699fca)"></i></div>
<div class="hm" style="left:118.6px;width:967.6px"><i style="top:1295.37px;height:5.03px;background:linear-gradient(90deg,#7ec07c,#7cbf7b,#7bbf7b,#79be7a,#77bd79,#76bd79,#74bc78,#73bc78,#72bb77,#72bb77,#72bb77,#72bb77,#72bb77,#73bc78,#74bc78,#76bd79,#7bbf7b,#85c37f,#91c884,#9fce8a,#aed490,#bfdc98,#cee3a0,#dfebaa,#eaf0b2,#eef2b6,#f0f3b8,#f2f4ba,#f4f5bc,#f5f6bd,#f6f6be,#f6f6be,#f6f6be,#f5f5bd,#f2f4ba,#edf1b5,#e7eeaf,#dce9a8,#d3e5a3,#d0e3a1,#cfe3a1,#cee3a0,#cde2a0,#cce29f,#c8e09d,#c0dc98,#b0d591,#9ccc88,#87c480,#73bc78,#5eb36f,#48a966,#3b9e5c,#349856,#329554,#2f9352,#3d9f5d,#4cac68,#63b672,#7cbf7b,#7cbf7b,#7bbf7b,#79be7a,#77bd79,#76bd79,#74bc78,#73bc78,#72bb77,#72bb77,#72bb77,#72bb77,#72bb77,#73bc78,#74bc78,#76bd79,#7bbf7b,#84c27e,#90c783,#9ecd89,#acd38f,#bedb97,#cde2a0,#deeaa9,#e9f0b1,#edf2b5,#f0f3b8,#f2f4ba,#f3f5bb,#f5f6bd,#f6f6be,#f6f6be,#f6f6be,#f5f5bd,#f2f4ba,#edf2b5,#e7efaf,#ddeaa9,#d4e6a4,#d0e4a1,#cfe3a1,#cee3a0,#cde2a0,#cce29f,#c9e09d,#c1dc99,#b2d692,#9ecd89,#89c480,#75bc78,#5fb470,#4aaa66,#3c9f5c,#359857,#329554,#309353,#3c9e5c,#4bab67,#61b571,#7abe7a,#7dbf7b,#7bbf7b)"></i><i style="top:1290.94px;height:5.03px;background:linear-gradient(90deg,#7cbf7b,#7abf7b,#78be7a,#76bd79,#74bc78,#72bb77,#71bb77,#6fba76,#6eba76,#6eba76,#6db975,#6eba76,#6eba76,#6fba76,#71bb77,#73bc78,#79be7a,#83c27e,#8fc783,#9dcd89,#acd38f,#bedb97,#cee2a0,#dfebaa,#e9f0b1,#edf2b5,#f0f3b8,#f2f4ba,#f4f5bc,#f5f6bd,#f6f6be,#f6f6be,#f6f6be,#f5f5bd,#f2f4ba,#edf1b5,#e7eeaf,#dce9a8,#d3e5a3,#d0e3a1,#cfe3a1,#cee3a0,#cde2a0,#cce29f,#c8e09d,#c0dc98,#b0d591,#9ccc88,#87c480,#73bc78,#5eb36f,#48a966,#3b9e5b,#349856,#319554,#2f9352,#3c9e5c,#4bab68,#62b571,#7abe7a,#7bbf7b,#79be7a,#77bd79,#74bc78,#73bb77,#71bb77,#6fba76,#6eba76,#6eba76,#6db975,#6eba76,#6eba76,#6fba76,#71bb77,#73bc78,#78be7a,#82c17d,#8ec783,#9ccc88,#abd38f,#bddb97,#cde29f,#ddeaa9,#e9efb1,#edf2b5,#f0f3b8,#f2f4ba,#f3f5bb,#f5f6bd,#f6f6be,#f6f6be,#f6f6be,#f5f5bd,#f2f4ba,#edf2b5,#e7efaf,#ddeaa9,#d4e6a4,#d0e4a1,#cfe3a1,#cee3a0,#cde2a0,#cce29f,#c9e09d,#c1dc99,#b2d692,#9ecd89,#89c480,#75bc78,#5fb470,#4aaa66,#3c9f5c,#359857,#329554,#2f9352,#3b9d5b,#4aaa67,#60b470,#78be7a,#7bbf7b,#79be7a)"></i><i style="top:1286.5px;height:5.03px;background:linear-gradient(90deg,#7cbf7b,#7abe7a,#77bd79,#75bc78,#73bc78,#70bb77,#6eba76,#6db975,#6cb975,#6bb975,#6bb975,#6bb975,#6cb975,#6eba76,#6fba76,#72bb77,#78be7a,#82c17d,#8fc783,#9dcd89,#acd38f,#bedb97,#cee3a0,#dfebaa,#e9f0b1,#eef2b6,#f0f3b8,#f2f4ba,#f4f5bc,#f5f6bd,#f6f6be,#f6f6be,#f6f6be,#f5f5bd,#f2f4ba,#edf2b5,#e7eeaf,#dce9a8,#d3e5a3,#d0e3a1,#cee3a0,#cee2a0,#cde2a0,#cce29f,#c8e09d,#c0dc98,#b1d591,#9dcd89,#89c480,#74bc78,#5fb470,#49aa66,#3c9e5c,#359856,#319554,#2f9352,#3c9e5c,#4bab67,#61b571,#7abe7a,#7abe7a,#77bd79,#75bc78,#73bc78,#71bb77,#6fba76,#6db975,#6cb975,#6bb975,#6bb975,#6bb975,#6cb975,#6eba76,#6fba76,#72bb77,#77bd79,#81c17d,#8ec682,#9ccc88,#abd38f,#bddb97,#cde29f,#ddeaa9,#e9efb1,#edf2b5,#f0f3b8,#f2f4ba,#f4f5bc,#f5f6bd,#f6f6be,#f6f6be,#f6f6be,#f5f5bd,#f2f4ba,#eef2b6,#e7efaf,#ddeaa9,#d4e5a4,#d0e3a1,#cee3a0,#cee2a0,#cde2a0,#cce29f,#c9e09d,#c1dc99,#b2d692,#9fce8a,#8ac581,#76bd79,#61b571,#4bab67,#3d9f5d,#359857,#329554,#2f9352,#3b9d5b,#4aaa67,#60b470,#78be7a,#7abe7a,#78bd79)"></i><i style="top:1282.07px;height:5.03px;background:linear-gradient(90deg,#7ec07c,#7bbf7b,#79be7a,#76bd79,#74bc78,#71bb77,#6fba76,#6eba76,#6cb975,#6cb975,#6cb975,#6db975,#6fba76,#71bb77,#73bc78,#76bd79,#7cbf7b,#86c37f,#93c985,#a1ce8a,#b0d591,#c1dc99,#d0e3a1,#e1ebab,#eaf0b2,#eef2b6,#f1f3b9,#f3f4bb,#f4f5bc,#f6f6be,#f7f6bf,#f7f6bf,#f6f6be,#f5f6bd,#f3f4bb,#eef2b6,#e7efaf,#dce9a9,#d3e5a3,#cfe3a1,#cee2a0,#cde2a0,#cde29f,#cbe19f,#c8e09d,#c1dc99,#b3d692,#a1ce8a,#8dc682,#79be7a,#63b672,#4cac68,#3fa05e,#369958,#329654,#2f9352,#3d9f5c,#4cac68,#63b672,#7cbf7b,#7cbf7b,#79be7a,#77bd79,#74bc78,#72bb77,#6fba76,#6eba76,#6db975,#6cb975,#6cb975,#6db975,#6fba76,#70bb77,#73bc78,#76bd79,#7bbf7b,#85c37f,#92c884,#a0ce8a,#afd490,#c0dc98,#cfe3a1,#dfebaa,#eaf0b2,#eef2b6,#f1f3b9,#f3f4bb,#f4f5bc,#f6f6be,#f7f6bf,#f7f6bf,#f6f6be,#f5f6bd,#f3f4bb,#eef2b6,#e8efb0,#ddeaa9,#d4e5a4,#cfe3a1,#cee2a0,#cde2a0,#cde29f,#cce19f,#c8e09d,#c2dd99,#b4d793,#a2cf8b,#8fc783,#7abf7b,#65b672,#4ead69,#40a15f,#379a58,#329655,#2f9352,#3b9e5c,#4bab67,#61b571,#7abe7a,#7cbf7b,#79be7a)"></i><i style="top:1277.64px;height:5.03px;background:linear-gradient(90deg,#84c27e,#82c17d,#7fc07c,#7cbf7b,#7abe7a,#77bd79,#75bc78,#73bc78,#73bb77,#73bc78,#74bc78,#76bd79,#79be7a,#7bbf7b,#7ec07c,#82c17d,#88c480,#92c884,#9ecd89,#abd38f,#bad995,#c7df9c,#d5e6a4,#e5eead,#ecf1b4,#f0f3b8,#f2f4ba,#f4f5bc,#f6f6be,#f7f7bf,#f8f7c0,#f8f7c0,#f7f7bf,#f6f6be,#f4f5bc,#eff3b7,#e9efb1,#deeaa9,#d3e5a3,#cee2a0,#cce29f,#cce19f,#cbe19f,#cae19e,#c8e09d,#c2dd99,#b8d995,#a9d28e,#96ca86,#83c27e,#6db975,#55b06c,#44a562,#3a9d5b,#349756,#309453,#3fa15e,#50ae6a,#69b874,#82c17d,#82c17d,#7fc07c,#7dbf7b,#7abe7a,#78bd79,#75bd79,#74bc78,#73bc78,#73bc78,#74bc78,#76bd79,#78be7a,#7bbf7b,#7ec07c,#81c17d,#87c480,#91c884,#9dcd89,#aad38f,#b9d995,#c6df9c,#d4e5a4,#e4edad,#ecf1b4,#f0f3b8,#f2f4ba,#f4f5bc,#f6f6be,#f7f7bf,#f8f7c0,#f8f7c0,#f7f7bf,#f6f6be,#f4f5bc,#eff3b7,#e9f0b1,#dfebaa,#d3e5a3,#cee3a0,#cce29f,#cce29f,#cbe19f,#cae19e,#c8e09d,#c3dd9a,#b9d995,#aad28e,#98cb87,#84c27e,#6eba76,#57b16d,#45a663,#3b9d5b,#349856,#319453,#3d9f5d,#4ead69,#67b773,#80c17d,#82c17d,#7fc07c)"></i><i style="top:1273.21px;height:5.03px;background:linear-gradient(90deg,#8dc682,#8bc581,#89c480,#86c37f,#84c27e,#81c17d,#7fc07c,#7ec07c,#7dc07c,#7fc07c,#82c17d,#85c37f,#89c480,#8dc682,#90c783,#94c985,#9bcc88,#a4d08c,#b0d591,#bcda96,#c6df9c,#d0e4a2,#ddeaa9,#e9efb1,#eff2b7,#f3f4bb,#f5f6bd,#f7f6bf,#f8f7c1,#f8f7c2,#f8f7c2,#f8f7c2,#f8f7c1,#f8f7c0,#f6f6be,#f1f3b9,#eaf0b2,#dfebaa,#d2e5a3,#cce29f,#cae19e,#cae19e,#c9e09d,#c9e09d,#c7df9c,#c4de9b,#bfdc98,#b4d793,#a4d08c,#91c884,#7bbf7b,#64b672,#4ead69,#41a260,#389b59,#339755,#42a461,#57b16d,#71bb77,#8bc581,#8bc581,#89c480,#86c37f,#84c27e,#81c17d,#7fc07c,#7ec07c,#7dc07c,#7fc07c,#82c17d,#85c37f,#89c480,#8cc682,#90c783,#94c985,#9acc88,#a4d08c,#afd591,#bbda96,#c5de9b,#d0e3a1,#dce9a8,#e8efb0,#eef2b6,#f2f4ba,#f5f5bd,#f7f6bf,#f8f7c1,#f8f7c2,#f8f7c2,#f8f7c2,#f8f7c1,#f8f7c0,#f6f6be,#f1f4b9,#ebf0b3,#e1ecab,#d3e5a3,#cce29f,#cae19e,#cae19e,#c9e09d,#c9e09d,#c7df9c,#c5de9b,#c0dc98,#b5d793,#a5d08c,#92c884,#7dbf7b,#66b672,#4fae6a,#42a360,#389b59,#349756,#41a360,#55b06c,#6fba76,#89c480,#8cc581,#89c480)"></i><i style="top:1268.78px;height:5.03px;background:linear-gradient(90deg,#94c985,#92c884,#8fc783,#8dc682,#8bc581,#89c480,#87c37f,#86c37f,#87c37f,#89c480,#8dc682,#92c884,#97ca86,#9ccc88,#a0ce8a,#a5d08c,#abd38f,#b4d793,#bedb97,#c6df9b,#cee3a0,#d8e7a6,#e4edad,#ebf1b3,#f1f3b9,#f5f5bd,#f7f6bf,#f8f7c1,#f9f8c4,#f9f8c4,#f9f8c4,#f9f8c4,#f9f8c3,#f8f7c1,#f7f6bf,#f3f4bb,#ecf1b4,#e3edac,#d4e6a4,#cde2a0,#cae19e,#cae09e,#c9e09d,#c9e09d,#c8e09d,#c7df9c,#c3de9a,#bcda96,#aed490,#9ccd89,#88c480,#73bc78,#5db36f,#4bab67,#41a25f,#3c9e5c,#4aaa67,#61b571,#7abe7a,#92c884,#92c884,#90c783,#8dc682,#8bc581,#89c480,#87c37f,#86c37f,#87c37f,#89c480,#8dc682,#92c884,#97ca86,#9bcc88,#a0ce8a,#a4d08c,#aad38f,#b3d692,#bddb97,#c5de9b,#cde2a0,#d7e7a5,#e3ecac,#ebf0b3,#f0f3b8,#f4f5bc,#f7f6bf,#f8f7c1,#f9f8c3,#f9f8c4,#f9f8c4,#f9f8c4,#f9f8c3,#f8f7c2,#f7f7bf,#f3f5bb,#edf1b5,#e5edad,#d6e6a5,#cee2a0,#cbe19e,#cae19e,#c9e09d,#c9e09d,#c8e09d,#c7df9c,#c4de9a,#bddb97,#afd591,#9ecd89,#8ac581,#74bc78,#5fb470,#4cac68,#41a360,#3c9e5c,#49a966,#5fb470,#78bd79,#90c783,#92c884,#90c783)"></i><i style="top:1264.34px;height:5.03px;background:linear-gradient(90deg,#95ca86,#93c985,#91c884,#8fc783,#8ec682,#8cc581,#8bc581,#8cc581,#8ec682,#92c884,#98cb87,#9fce8a,#a6d18d,#acd38f,#b2d692,#b6d894,#bcda96,#c1dd99,#c7df9c,#cee2a0,#d5e6a4,#deeaaa,#e8efb0,#eef2b6,#f3f4bb,#f6f6be,#f8f7c0,#f9f8c3,#f9f8c5,#f9f8c6,#f9f8c6,#f9f8c5,#f9f8c5,#f9f8c4,#f8f7c1,#f5f6bd,#f0f3b8,#e9f0b1,#deeaa9,#d4e6a4,#cfe3a1,#cde2a0,#cce29f,#cce29f,#cbe19f,#cae19e,#c8e09d,#c2dd99,#b8d995,#aad38f,#9bcc88,#8cc581,#7cbf7b,#6cb975,#5fb470,#58b16d,#65b672,#75bc78,#85c27e,#94c985,#94c985,#92c884,#90c783,#8ec682,#8cc682,#8bc581,#8cc581,#8ec682,#92c884,#97ca86,#9ecd89,#a5d08c,#acd38f,#b1d692,#b6d894,#bbda96,#c1dc99,#c7df9c,#cde2a0,#d4e6a4,#ddeaa9,#e7efaf,#edf2b5,#f2f4ba,#f6f6be,#f8f7c0,#f9f8c2,#f9f8c5,#f9f8c5,#f9f8c6,#f9f8c5,#f9f8c5,#f9f8c4,#f8f7c1,#f6f6be,#f1f3b9,#eaf0b2,#dfebaa,#d5e6a4,#d0e3a1,#cde2a0,#cce29f,#cce29f,#cbe19f,#cae19e,#c8e09d,#c2dd9a,#b9d995,#abd38f,#9ccd89,#8dc682,#7dbf7b,#6db975,#60b470,#59b26e,#64b672,#73bc78,#83c27e,#93c985,#94c985,#92c884)"></i><i style="top:1259.91px;height:5.03px;background:linear-gradient(90deg,#94c985,#92c884,#91c884,#8fc783,#8dc682,#8cc682,#8dc682,#8fc783,#94c985,#9bcc88,#a2cf8b,#acd38f,#b5d793,#bedb97,#c3dd9a,#c7df9c,#cae19e,#cde2a0,#d1e4a2,#d6e6a5,#dce9a8,#e5eeae,#ebf0b3,#f0f3b8,#f5f5bd,#f7f7bf,#f8f7c2,#f9f8c4,#f9f8c6,#f9f8c7,#faf9c7,#faf9c7,#f9f8c7,#f9f8c6,#f9f8c5,#f8f7c2,#f6f6be,#f0f3b8,#e9f0b1,#e1ecab,#d9e8a6,#d5e6a4,#d3e5a3,#d2e5a3,#d1e4a2,#d0e4a1,#cee2a0,#c9e09d,#c3dd9a,#bcda96,#b4d793,#add490,#a4d08c,#9bcc88,#94c985,#8ec682,#8ec682,#8fc783,#92c884,#94c985,#92c884,#91c884,#8fc783,#8ec682,#8cc682,#8dc682,#8fc783,#94c985,#9acc88,#a2cf8b,#abd38f,#b5d793,#bddb97,#c3dd9a,#c6df9c,#c9e09e,#cde2a0,#d1e4a2,#d5e6a4,#dce9a8,#e5edad,#eaf0b2,#f0f3b8,#f4f5bc,#f7f7bf,#f8f7c1,#f9f8c4,#f9f8c5,#f9f8c7,#faf9c7,#faf9c7,#f9f8c7,#f9f8c6,#f9f8c5,#f8f7c2,#f6f6be,#f0f3b8,#eaf0b2,#e2ecac,#d9e8a7,#d5e6a4,#d3e5a3,#d2e5a3,#d1e4a2,#d0e4a1,#cee2a0,#c9e09d,#c3dd9a,#bddb97,#b5d793,#add490,#a5d08c,#9ccc88,#94c985,#8fc783,#8ec682,#8fc783,#91c884,#94c985,#93c884,#91c884)"></i><i style="top:1255.48px;height:5.03px;background:linear-gradient(90deg,#8ec682,#8dc682,#8bc581,#8ac581,#89c480,#88c480,#89c480,#8ec682,#94c985,#9bcc88,#a4d08c,#add490,#b7d894,#c0dc98,#c5de9b,#c9e09d,#cde29f,#d0e4a1,#d4e6a4,#d9e8a6,#e0ebaa,#e7efaf,#ecf1b4,#f1f4b9,#f5f5bd,#f7f7bf,#f8f7c2,#f9f8c5,#f9f8c7,#faf9c8,#faf9c9,#faf9c9,#faf9c9,#faf9c8,#faf9c8,#f9f8c7,#f9f8c3,#f5f6bd,#f0f3b8,#eaf0b2,#e6eeae,#e0ebab,#ddeaa9,#dbe9a8,#d8e8a6,#d6e7a5,#d3e5a3,#cfe3a1,#cae19e,#c5df9b,#c2dd99,#bedb97,#b9d995,#b4d793,#afd591,#abd38f,#a3cf8b,#9ccc88,#95c985,#8ec783,#8dc682,#8bc581,#8ac581,#89c480,#88c480,#89c480,#8dc682,#93c985,#9bcc88,#a3cf8b,#add490,#b7d894,#bfdc98,#c5de9b,#c9e09d,#cce29f,#d0e3a1,#d4e5a4,#d9e8a6,#dfebaa,#e7efaf,#ecf1b4,#f1f3b9,#f5f5bd,#f7f7bf,#f8f7c2,#f9f8c4,#f9f8c7,#faf9c8,#faf9c9,#faf9c9,#faf9c9,#faf9c8,#faf9c8,#f9f8c7,#f9f8c3,#f6f6be,#f0f3b8,#ebf0b3,#e6eeae,#e1ecab,#deeaa9,#dbe9a8,#d9e8a6,#d6e7a5,#d3e5a3,#cfe3a1,#cae19e,#c6df9b,#c2dd99,#bedb97,#b9d995,#b4d793,#b0d591,#acd38f,#a4d08c,#9ccd89,#95ca86,#8fc783,#8dc682,#8cc581)"></i><i style="top:1251.05px;height:5.03px;background:linear-gradient(90deg,#83c27e,#82c17d,#81c17d,#80c17d,#7fc07c,#7fc07c,#81c17d,#85c37f,#8cc682,#94c985,#9ccc88,#a4d08c,#acd38f,#b4d793,#bbda96,#c0dc98,#c5de9b,#cae19e,#d0e3a1,#d7e7a5,#e0ebaa,#e8efb0,#ecf1b4,#f0f3b8,#f4f5bc,#f6f6be,#f8f7c1,#f9f8c5,#faf9c8,#faf9ca,#faf9ca,#faf9ca,#faf9ca,#faf9ca,#faf9ca,#faf9c9,#faf9c7,#f8f7c2,#f5f6bd,#f1f4b9,#eef2b6,#ebf0b3,#e8efb0,#e5eeae,#e1ebab,#ddeaa9,#d9e8a6,#d4e5a4,#cfe3a1,#cae19e,#c4de9b,#bfdc98,#b9d995,#b5d793,#b2d692,#b0d591,#a5d08c,#99cb87,#8ec783,#83c27e,#82c17d,#81c17d,#80c17d,#7fc07c,#7fc07c,#80c17d,#85c37f,#8cc581,#93c985,#9bcc88,#a3cf8b,#abd38f,#b3d692,#bad995,#c0dc98,#c5de9b,#cae19e,#cfe3a1,#d6e7a5,#dfebaa,#e7efaf,#ecf1b4,#f0f3b8,#f3f5bb,#f6f6be,#f8f7c1,#f9f8c5,#faf9c8,#faf9ca,#faf9ca,#faf9ca,#faf9ca,#faf9ca,#faf9ca,#faf9c9,#faf9c7,#f8f7c2,#f5f6bd,#f1f4b9,#eef2b6,#ebf0b3,#e8efb0,#e6eeae,#e1ecab,#ddeaa9,#d9e8a7,#d4e6a4,#cfe3a1,#cae19e,#c5de9b,#c0dc98,#bad995,#b5d793,#b3d692,#b0d591,#a5d08c,#9acc88,#8fc783,#84c27e,#82c17d,#81c17d)"></i><i style="top:1246.62px;height:5.03px;background:linear-gradient(90deg,#77bd79,#77bd79,#77bd79,#77bd79,#78bd79,#79be7a,#7bbf7b,#80c17d,#87c37f,#8ec682,#95ca86,#9dcd89,#a4d08c,#aad38f,#b1d591,#b8d894,#bfdc98,#c5de9b,#cce29f,#d5e6a4,#dfeaaa,#e7efaf,#ecf1b4,#eff3b7,#f3f4bb,#f6f6be,#f8f7c1,#f9f8c6,#faf9c9,#faf9cb,#faf9cb,#faf9cb,#faf9cb,#faf9cb,#faf9cb,#faf9cb,#faf9c9,#f9f8c6,#f8f7c1,#f5f6bd,#f2f4ba,#eff3b7,#ecf1b4,#e9f0b1,#e6eeae,#e1ecab,#dce9a8,#d7e7a5,#d1e4a2,#cbe19e,#c4de9a,#bcda96,#b4d793,#afd591,#add490,#abd38f,#9fce8a,#91c884,#85c37f,#78be7a,#77bd79,#77bd79,#77bd79,#78bd79,#79be7a,#7bbf7b,#80c17d,#87c37f,#8ec682,#95c985,#9ccd89,#a3d08c,#aad28e,#b0d591,#b7d894,#bfdb97,#c5de9b,#cbe19f,#d4e5a4,#deeaa9,#e7eeaf,#ebf1b3,#eff3b7,#f2f4ba,#f5f6bd,#f8f7c0,#f9f8c5,#faf9c9,#faf9cb,#faf9cb,#faf9cb,#faf9cb,#faf9cb,#faf9cb,#faf9cb,#faf9c9,#f9f8c6,#f8f7c1,#f6f6be,#f3f4bb,#f0f3b8,#ecf1b4,#e9f0b1,#e6eeae,#e1ecab,#dce9a9,#d7e7a6,#d2e4a2,#cbe19f,#c4de9b,#bdda96,#b4d793,#afd591,#add490,#abd38f,#a0ce8a,#92c884,#86c37f,#79be7a,#77bd79,#77bd79)"></i><i style="top:1242.18px;height:5.03px;background:linear-gradient(90deg,#66b773,#67b773,#69b874,#6cb975,#71bb77,#76bd79,#7bbf7b,#80c17d,#86c37f,#8bc581,#92c884,#9bcc88,#a4d08c,#abd38f,#b0d591,#b6d793,#bdda96,#c3dd9a,#cae19e,#d3e5a3,#ddeaa9,#e6eeae,#ebf0b3,#eef2b6,#f2f4ba,#f5f5bd,#f8f7c0,#f9f8c5,#faf9c9,#faf9cb,#faf9cb,#fbfacb,#fbfacb,#fbfacb,#fbfacb,#faf9cb,#faf9ca,#f9f8c7,#f9f8c2,#f7f6bf,#f4f5bc,#f1f4b9,#eef2b6,#ebf1b3,#e8efb0,#e4edad,#ddeaa9,#d8e7a6,#d1e4a2,#c9e09d,#c0dc98,#b3d692,#a8d28e,#a2cf8b,#9fce8a,#9ccd89,#8ec783,#80c17d,#73bc78,#67b773,#67b773,#68b874,#6cb975,#70bb77,#75bd79,#7bbf7b,#80c17d,#85c37f,#8bc581,#92c884,#9bcc88,#a3d08c,#aad28e,#afd591,#b5d793,#bcda96,#c2dd9a,#cae19e,#d2e5a3,#dce9a8,#e6eeae,#eaf0b2,#eef2b6,#f2f4ba,#f5f5bd,#f8f7c0,#f9f8c5,#faf9c9,#faf9cb,#faf9cb,#fbfacb,#fbfacb,#fbfacb,#fbfacb,#faf9cb,#faf9ca,#faf9c7,#f9f8c3,#f7f6bf,#f4f5bc,#f1f4b9,#eef2b6,#ebf1b3,#e8efb0,#e4edad,#deeaa9,#d8e7a6,#d2e4a2,#cae19e,#c1dc98,#b4d793,#a9d28e,#a2cf8b,#9fce8a,#9ccd89,#8fc783,#81c17d,#74bc78,#68b773,#67b773,#68b874)"></i><i style="top:1237.75px;height:5.03px;background:linear-gradient(90deg,#4ead69,#50ae6a,#54b06c,#5cb36f,#67b773,#72bb77,#7cbf7b,#81c17d,#84c27e,#88c480,#8fc783,#9bcc88,#a7d18d,#aed490,#b2d692,#b5d793,#bad995,#c1dc99,#c8e09d,#d0e4a1,#d9e8a7,#e3ecac,#e9efb1,#edf2b5,#f1f3b9,#f4f5bc,#f8f7c0,#f9f8c5,#faf9c9,#faf9cb,#faf9cb,#fbfacb,#fbfacb,#fbfacb,#fbfacb,#faf9cb,#faf9ca,#f9f8c7,#f9f8c2,#f7f6bf,#f4f5bc,#f2f4ba,#f0f3b8,#edf2b5,#eaf0b2,#e6eeae,#deeaa9,#d7e7a5,#cfe3a1,#c5de9b,#b7d894,#a5d08c,#96ca86,#8dc682,#88c480,#84c27e,#74bc78,#66b672,#59b26e,#4fae6a,#50ae6a,#54b06c,#5cb36f,#66b773,#72bb77,#7bbf7b,#81c17d,#84c27e,#88c480,#8ec783,#9acb87,#a6d18d,#add490,#b1d692,#b5d793,#bad995,#c1dc99,#c8e09d,#d0e3a1,#d8e8a6,#e2ecac,#e9efb1,#edf1b5,#f0f3b8,#f4f5bc,#f7f7bf,#f9f8c4,#faf9c9,#faf9cb,#faf9cb,#fbfacb,#fbfacb,#fbfacb,#fbfacb,#faf9cb,#faf9ca,#faf9c7,#f9f8c3,#f7f7bf,#f5f5bd,#f2f4ba,#f0f3b8,#edf2b5,#eaf0b2,#e6eeae,#dfebaa,#d8e7a6,#d0e4a1,#c6df9c,#b8d995,#a6d18d,#97ca86,#8ec682,#89c480,#84c27e,#75bd79,#67b773,#5ab26e,#4fae6a,#4fae6a,#53af6b)"></i><i style="top:1233.32px;height:5.03px;background:linear-gradient(90deg,#41a260,#43a461,#47a764,#4ead69,#5db36f,#6cb975,#78be7a,#7ec07c,#80c17d,#83c27e,#8bc581,#99cb87,#a7d18d,#aed490,#b1d692,#b4d793,#b8d894,#bfdb97,#c5df9b,#cde2a0,#d6e6a5,#e0ebaa,#e8efb0,#ecf1b4,#f0f3b8,#f3f5bb,#f7f6bf,#f9f8c4,#faf9c8,#faf9cb,#faf9cb,#faf9cb,#faf9cb,#faf9cb,#faf9cb,#faf9cb,#faf9c9,#f9f8c6,#f8f7c1,#f6f6be,#f4f5bc,#f2f4ba,#f0f3b8,#eef2b6,#eaf0b2,#e6eeae,#dce9a8,#d3e5a3,#cae19e,#bedb97,#abd38f,#96ca86,#84c27e,#79be7a,#72bb77,#6cb975,#5cb36f,#4fae6a,#47a864,#41a360,#42a461,#46a764,#4dad69,#5bb36f,#6bb874,#77bd79,#7dc07c,#80c17d,#83c27e,#8ac581,#98cb87,#a6d18d,#aed490,#b1d591,#b3d692,#b7d894,#bedb97,#c5de9b,#cde29f,#d5e6a4,#dfebaa,#e7efaf,#ecf1b4,#f0f3b8,#f3f5bb,#f7f6bf,#f9f8c4,#faf9c8,#faf9ca,#faf9cb,#faf9cb,#faf9cb,#faf9cb,#faf9cb,#faf9cb,#faf9c9,#f9f8c6,#f8f7c2,#f6f6be,#f4f5bc,#f2f4ba,#f0f3b8,#eef2b6,#ebf0b3,#e6eeae,#dce9a8,#d4e5a4,#cbe19f,#bfdc98,#acd38f,#97ca86,#86c37f,#7abe7a,#73bc78,#6db975,#5db36f,#50ae6a,#47a865,#42a360,#42a461,#46a764)"></i><i style="top:1228.89px;height:5.03px;background:linear-gradient(90deg,#359857,#379a58,#3b9d5b,#42a360,#4bab67,#5ab26e,#67b773,#6eba76,#73bb77,#79be7a,#83c27e,#93c985,#a2cf8b,#a9d28e,#acd38f,#aed490,#b1d591,#b7d894,#bfdc98,#c7e09c,#d1e4a2,#dce9a8,#e6eeae,#ebf0b3,#eff2b7,#f2f4ba,#f6f6be,#f8f7c2,#f9f8c6,#faf9c9,#faf9ca,#faf9ca,#faf9ca,#faf9ca,#faf9ca,#faf9ca,#faf9c7,#f9f8c3,#f6f6be,#f4f5bc,#f2f4ba,#f0f3b8,#eef2b6,#ecf1b4,#e7efaf,#deeaa9,#d2e4a2,#c7df9c,#bbda96,#a8d18d,#92c884,#7cbf7b,#69b874,#5cb36f,#53af6b,#4cac68,#43a461,#3d9f5c,#389b59,#369957,#379a58,#3b9d5b,#41a360,#4aaa67,#58b16d,#66b773,#6eba76,#72bb77,#78be7a,#83c27e,#92c884,#a1ce8a,#a9d28e,#acd38f,#aed490,#b1d591,#b6d894,#bfdb97,#c7df9c,#d0e4a2,#dbe9a8,#e5eeae,#eaf0b2,#eef2b6,#f2f4ba,#f5f6bd,#f8f7c1,#f9f8c6,#faf9c9,#faf9ca,#faf9ca,#faf9ca,#faf9ca,#faf9ca,#faf9ca,#faf9c8,#f9f8c3,#f7f6bf,#f4f5bc,#f2f4ba,#f1f3b9,#eff2b7,#ecf1b4,#e8efb0,#dfeaaa,#d3e5a3,#c8e09d,#bcda96,#a9d28e,#94c985,#7ec07c,#6ab874,#5db36f,#53af6b,#4cac68,#44a562,#3d9f5d,#399b59,#369957,#379a58,#3b9d5b)"></i><i style="top:1224.46px;height:5.03px;background:linear-gradient(90deg,#278c4c,#298e4e,#2c9150,#319453,#389b59,#42a461,#4cac68,#55b06c,#5db36f,#68b874,#78be7a,#8ac581,#99cb87,#a0ce8a,#a2cf8b,#a4d08c,#a6d18d,#abd38f,#b2d692,#bfdb98,#cbe19e,#d7e7a5,#e2ecac,#e9f0b1,#edf2b5,#f1f3b9,#f4f5bc,#f7f6bf,#f9f8c3,#f9f8c6,#faf9c8,#faf9c9,#faf9c9,#faf9c9,#faf9c8,#faf9c7,#f9f8c4,#f7f6bf,#f3f4bb,#f0f3b8,#eff2b7,#eef2b6,#ecf1b4,#e8efb0,#deeaa9,#d0e4a1,#c1dd99,#afd591,#9bcc88,#85c27e,#6db975,#55b06c,#45a663,#3b9d5b,#339755,#2d9150,#278c4c,#268b4b,#268b4c,#278c4c,#298e4e,#2c9050,#309453,#379a59,#42a360,#4bac68,#54b06c,#5cb36f,#67b773,#77bd79,#89c480,#97ca86,#9fce8a,#a2cf8b,#a4d08c,#a6d18d,#aad38f,#b2d692,#bedb97,#cae19e,#d6e6a5,#e1ecab,#e9efb1,#edf2b5,#f1f3b9,#f4f5bc,#f7f6bf,#f8f7c2,#f9f8c6,#faf9c8,#faf9c9,#faf9c9,#faf9c9,#faf9c8,#faf9c8,#f9f8c4,#f7f6bf,#f3f4bb,#f0f3b8,#eff3b7,#eef2b6,#ecf1b4,#e8efb0,#dfebaa,#d1e4a2,#c3dd9a,#b1d591,#9ccd89,#86c37f,#6fba76,#57b16d,#46a764,#3c9e5c,#349756,#2d9251,#288d4d,#268b4b,#268b4b,#278c4c,#298e4d,#2c9050)"></i><i style="top:1220.02px;height:5.03px;background:linear-gradient(90deg,#208347,#218448,#238649,#25894a,#2a8e4e,#349756,#3fa05e,#46a763,#4dad69,#5cb36f,#6fba76,#83c27e,#92c884,#9acb87,#9ccd89,#9ecd89,#a0ce8a,#a3cf8b,#aad28e,#b8d894,#c6df9c,#d3e5a3,#e0ebaa,#e8efb0,#edf1b5,#f0f3b8,#f3f4bb,#f5f6bd,#f8f7c0,#f9f8c4,#faf9c7,#faf9c8,#faf9c8,#faf9c7,#f9f8c6,#f9f8c5,#f8f7c1,#f4f5bc,#f0f3b8,#edf2b5,#edf1b5,#ecf1b4,#e9f0b1,#e4edad,#d6e6a5,#c6df9b,#b1d692,#99cb87,#81c17d,#67b773,#4ead69,#3d9f5d,#2f9352,#25894b,#208347,#1c7d44,#1a7b43,#1b7c43,#1d7f45,#208247,#218448,#238649,#25894a,#298e4e,#339755,#3ea05d,#45a663,#4cac68,#5bb26e,#6eba76,#82c17d,#91c884,#99cb87,#9ccd89,#9ecd89,#a0ce8a,#a3cf8b,#a9d28e,#b7d894,#c5de9b,#d2e5a3,#dfeaaa,#e8efb0,#ecf1b4,#f0f3b8,#f2f4ba,#f5f6bd,#f8f7c0,#f9f8c4,#f9f8c7,#faf9c8,#faf9c8,#faf9c7,#f9f8c6,#f9f8c5,#f8f7c1,#f4f5bc,#f0f3b8,#eef2b6,#edf1b5,#ecf1b4,#eaf0b2,#e4edad,#d7e7a5,#c7df9c,#b3d692,#9bcc88,#83c27e,#69b874,#50ae6a,#3ea05e,#309453,#268a4b,#208347,#1c7e44,#1a7b43,#1b7c43,#1d7f45,#1f8246,#218448,#238649)"></i><i style="top:1215.59px;height:5.03px;background:linear-gradient(90deg,#177741,#197a42,#1b7c43,#1d7f45,#218448,#288d4d,#349756,#3c9e5c,#44a562,#51af6b,#68b874,#7fc07c,#90c783,#98cb87,#9bcc88,#9ccd89,#9ecd89,#a1ce8a,#a8d18d,#b6d793,#c5de9b,#d2e5a3,#dfebaa,#e8efb0,#ecf1b4,#eff3b7,#f2f4ba,#f5f5bd,#f7f6bf,#f8f7c2,#f9f8c5,#f9f8c5,#f9f8c5,#f9f8c4,#f8f7c2,#f7f7bf,#f4f5bc,#f0f3b8,#edf1b5,#ebf0b3,#eaf0b2,#eaf0b2,#e7efaf,#deeaaa,#cfe3a1,#bddb97,#a1cf8b,#84c27e,#65b672,#49aa66,#379a58,#268b4b,#1d7f45,#177740,#12713d,#126c3a,#126b3a,#116e3b,#13723e,#177740,#197a42,#1b7c43,#1d7f45,#218447,#278c4c,#339655,#3b9d5b,#43a461,#50ae6a,#66b773,#7dc07c,#8fc783,#97ca86,#9bcc88,#9ccd89,#9ecd89,#a1ce8a,#a7d18d,#b5d793,#c4de9b,#d1e4a2,#deeaa9,#e7efaf,#ecf1b4,#eff3b7,#f2f4ba,#f4f5bc,#f7f6bf,#f8f7c2,#f9f8c5,#f9f8c5,#f9f8c5,#f9f8c4,#f8f7c2,#f7f7bf,#f4f5bc,#f1f3b9,#edf1b5,#ebf1b3,#eaf0b2,#eaf0b2,#e7efaf,#dfebaa,#d0e4a2,#bfdb97,#a4d08c,#86c37f,#68b773,#4bab68,#389b59,#278c4c,#1e8046,#187841,#13713d,#126c3b,#126b3a,#116e3b,#13723e,#177740,#197942,#1b7c43)"></i><i style="top:1211.16px;height:5.03px;background:linear-gradient(90deg,#126a3a,#126d3b,#11703c,#14733e,#197942,#208347,#288d4d,#309453,#399c5a,#48a865,#60b470,#7abf7b,#8ec783,#98cb87,#9bcc88,#9dcd89,#9ecd89,#a1ce8a,#a8d18d,#b6d793,#c5de9b,#d2e5a3,#dfebaa,#e8efb0,#ecf1b4,#eff3b7,#f2f4ba,#f4f5bc,#f6f6be,#f8f7c0,#f8f7c2,#f8f7c2,#f8f7c1,#f7f7bf,#f5f6bd,#f2f4ba,#eef2b6,#ebf0b3,#e9efb1,#e8efb0,#e7efaf,#e7eeaf,#e2ecac,#d8e7a6,#c7e09c,#afd591,#8ec682,#69b874,#46a764,#2f9352,#1f8246,#15743f,#136939,#146136,#165c33,#175731,#175932,#155d34,#146337,#126939,#126c3b,#116f3c,#14733e,#187941,#1f8246,#278c4c,#309453,#399b5a,#47a764,#5eb36f,#78be7a,#8dc682,#97ca86,#9bcc88,#9ccd89,#9ecd89,#a1ce8a,#a7d18d,#b5d793,#c4de9b,#d1e4a2,#deeaa9,#e7efaf,#ecf1b4,#eff2b7,#f1f4b9,#f4f5bc,#f6f6be,#f8f7c0,#f8f7c2,#f8f7c2,#f8f7c1,#f7f7bf,#f6f6be,#f2f4ba,#eef2b6,#ebf1b3,#e9efb1,#e8efb0,#e7efaf,#e7eeaf,#e3edac,#d8e8a6,#c9e09d,#b1d692,#91c884,#6cb975,#49a966,#319453,#208347,#16753f,#126a3a,#146236,#165c33,#175831,#175832,#165d34,#146336,#136939,#126c3b,#116f3c)"></i><i style="top:1206.73px;height:5.03px;background:linear-gradient(90deg,#146337,#136638,#126a3a,#116e3b,#15743f,#1d7f45,#24884a,#2b904f,#359856,#44a562,#5db36f,#79be7a,#8ec783,#98cb87,#9ccc88,#9ecd89,#a0ce8a,#a3cf8b,#aad28e,#b7d894,#c6df9c,#d3e5a3,#dfebaa,#e8efb0,#ecf1b4,#eff3b7,#f1f4b9,#f3f5bb,#f5f6bd,#f7f6bf,#f7f7bf,#f7f6bf,#f6f6be,#f4f5bc,#f2f4ba,#edf2b5,#e9f0b1,#e7eeaf,#e5edad,#e3edac,#e2ecac,#e0ebab,#dbe9a8,#d1e4a2,#c0dc98,#a3cf8b,#7ec07c,#55b06c,#369958,#218448,#14733e,#146537,#165a32,#18532f,#18532f,#18532f,#18532f,#18542f,#165b33,#146336,#136638,#126a3a,#116e3b,#15743f,#1c7e44,#24884a,#2b8f4f,#349756,#43a461,#5ab26e,#77bd79,#8dc682,#98cb87,#9ccc88,#9ecd89,#a0ce8a,#a2cf8b,#a9d28e,#b6d894,#c5de9b,#d2e4a2,#deeaa9,#e7efaf,#ecf1b4,#eff2b7,#f1f4b9,#f3f5bb,#f5f5bd,#f7f6bf,#f7f7bf,#f7f7bf,#f6f6be,#f4f5bc,#f2f4ba,#eef2b6,#e9f0b1,#e7eeaf,#e5eead,#e3edac,#e2ecac,#e0ebab,#dce9a8,#d2e4a2,#c2dd99,#a5d08c,#81c17d,#58b16d,#399b59,#228648,#15743f,#136638,#165b33,#18532f,#18532f,#18532f,#18532f,#18532f,#165b32,#146236,#136638,#126939)"></i><i style="top:1202.3px;height:5.03px;background:linear-gradient(90deg,#126939,#126d3b,#13713d,#177640,#1c7d44,#228649,#2a8f4e,#329554,#3b9d5b,#4aaa66,#64b672,#7ec07c,#91c884,#9ccc88,#a1cf8b,#a4d08c,#a7d18d,#aad38f,#b1d692,#bddb97,#c9e09d,#d4e6a4,#e0ebaa,#e8efb0,#ecf1b4,#eff3b7,#f1f4b9,#f3f5bb,#f5f5bd,#f5f6bd,#f5f5bd,#f3f5bb,#f1f3b9,#eef2b6,#ebf1b3,#e7efaf,#e1ecab,#ddeaa9,#dae8a7,#d7e7a5,#d4e5a4,#d2e4a2,#cde2a0,#c5de9b,#b2d692,#92c884,#6db975,#47a864,#2c9050,#1b7c43,#126c3a,#155e34,#18542f,#18532f,#18532f,#18532f,#18532f,#185430,#155e34,#136939,#126d3b,#12713d,#167640,#1b7d44,#228548,#298e4e,#319554,#3a9c5a,#48a966,#62b571,#7cbf7b,#90c783,#9bcc88,#a1ce8a,#a4d08c,#a7d18d,#aad38f,#b1d591,#bdda96,#c8e09d,#d3e5a3,#dfebaa,#e8efb0,#ecf1b4,#eff2b7,#f1f4b9,#f3f5bb,#f5f5bd,#f5f6bd,#f5f5bd,#f3f5bb,#f1f3b9,#eff2b7,#ecf1b4,#e8efb0,#e2ecac,#ddeaa9,#dbe9a7,#d7e7a6,#d4e6a4,#d2e4a2,#cee2a0,#c5de9b,#b3d692,#95c985,#70ba76,#49aa66,#2e9251,#1c7e44,#126d3b,#155f35,#185530,#18532f,#18532f,#18532f,#18532f,#18532f,#155d34,#136839,#126c3b,#12713d)"></i><i style="top:1197.86px;height:5.03px;background:linear-gradient(90deg,#187941,#1b7d44,#1f8246,#24894a,#2c9050,#349756,#3b9d5b,#40a25f,#48a865,#5ab26e,#72bb77,#87c480,#97ca86,#a2cf8b,#a9d28e,#afd490,#b3d692,#b8d894,#bedb97,#c5de9b,#cee3a0,#d7e7a6,#e1ecab,#e8efb0,#ecf1b4,#eff3b7,#f2f4ba,#f4f5bc,#f5f5bd,#f3f5bb,#f1f3b9,#edf1b5,#e9f0b1,#e5edad,#ddeaa9,#d7e7a5,#d2e5a3,#cfe3a1,#cce19f,#c5de9b,#bfdb98,#bad995,#b6d894,#aed490,#9bcc88,#7bbf7b,#56b06c,#3a9c5a,#24884a,#177640,#136738,#165b33,#18532f,#18532f,#18532f,#18532f,#18532f,#165b33,#126939,#187841,#1b7c43,#1f8246,#24884a,#2b8f4f,#349756,#3a9d5b,#40a15f,#47a865,#58b16d,#70bb77,#86c37f,#96ca86,#a1cf8b,#a9d28e,#aed490,#b3d692,#b8d894,#bedb97,#c5de9b,#cde2a0,#d6e7a5,#e0ebab,#e8efb0,#ecf1b4,#eff3b7,#f2f4ba,#f4f5bc,#f5f5bd,#f4f5bc,#f1f3b9,#edf2b5,#e9f0b1,#e5eeae,#deeaa9,#d7e7a6,#d3e5a3,#d0e3a1,#cce29f,#c6df9b,#bfdc98,#bbda96,#b6d894,#aed490,#9ccd89,#7ec07c,#59b16d,#3c9e5c,#25894b,#187841,#136839,#165c33,#18532f,#18532f,#18532f,#18532f,#18532f,#165a32,#136839,#177640,#1b7c43,#1f8146)"></i><i style="top:1193.43px;height:5.03px;background:linear-gradient(90deg,#228548,#25894b,#2b8f4f,#349856,#3ea05d,#44a662,#49a966,#4cad69,#57b16d,#6ab874,#7fc07c,#91c884,#9ecd89,#a9d28e,#b2d692,#bad995,#bfdc98,#c3de9a,#c8e09d,#cee3a0,#d4e6a4,#dce9a8,#e5edad,#eaf0b2,#edf2b5,#f0f3b8,#f2f4ba,#f4f5bc,#f4f5bc,#f2f4ba,#edf2b5,#e8efb0,#e0ebab,#d7e7a5,#cfe3a1,#cbe19e,#c8e09d,#c6df9c,#c2dd99,#b8d894,#add490,#a7d18d,#a4d08c,#9ecd89,#8ec682,#6fba76,#4bac68,#359856,#228649,#167640,#136839,#165d33,#18542f,#18532f,#18532f,#18532f,#185530,#146437,#14743e,#218448,#25894a,#2a8f4e,#349756,#3d9f5d,#44a562,#48a965,#4cac68,#56b06c,#68b773,#7ec07c,#8fc783,#9dcd89,#a8d28e,#b2d692,#b9d995,#bfdb97,#c3dd9a,#c8e09d,#cde2a0,#d4e5a4,#dbe9a8,#e4edad,#e9f0b1,#edf1b5,#f0f3b8,#f2f4ba,#f4f5bc,#f4f5bc,#f2f4ba,#eef2b6,#e9efb1,#e1ecab,#d7e7a6,#d0e3a1,#cbe19e,#c8e09d,#c6df9c,#c2dd99,#b9d995,#aed490,#a7d18d,#a4d08c,#9fce8a,#8fc783,#71bb77,#4dad69,#369958,#238749,#177741,#126939,#155d34,#185430,#18532f,#18532f,#18532f,#18542f,#146236,#13723e,#208347,#24894a,#2a8e4e)"></i><i style="top:1189px;height:5.03px;background:linear-gradient(90deg,#2a8e4e,#2e9251,#359857,#3fa15e,#49a966,#52af6b,#59b26e,#60b571,#6bb975,#7cbf7b,#8fc783,#9ecd89,#abd38f,#b7d894,#c1dc99,#c8e09d,#cee2a0,#d3e5a3,#d8e7a6,#ddeaa9,#e3edac,#e7efaf,#eaf0b2,#edf2b5,#f0f3b8,#f2f4ba,#f4f5bc,#f5f5bd,#f4f5bc,#f0f3b8,#eaf0b2,#e3edac,#d8e7a6,#cfe3a1,#c9e09d,#c5df9b,#c4de9a,#c2dd99,#bedb97,#b5d793,#abd38f,#a6d18d,#a3d08c,#9fce8a,#91c884,#76bd79,#55b06c,#3ea05e,#2b8f4f,#1f8146,#15743f,#126939,#156135,#165b33,#175831,#175731,#146336,#12703c,#1d7e44,#288d4d,#2e9251,#359856,#3ea05e,#48a965,#51ae6a,#59b26e,#60b470,#6ab874,#7bbf7b,#8dc682,#9dcd89,#aad28e,#b6d894,#c0dc98,#c7df9c,#cde2a0,#d2e5a3,#d7e7a6,#ddeaa9,#e3ecac,#e7efaf,#eaf0b2,#edf1b5,#f0f3b8,#f2f4ba,#f4f5bc,#f5f5bd,#f4f5bc,#f0f3b8,#ebf0b3,#e4edad,#d9e8a7,#d0e3a1,#c9e09e,#c6df9b,#c4de9a,#c2dd99,#bfdb97,#b5d793,#acd38f,#a6d18d,#a4d08c,#a0ce8a,#93c884,#78be7a,#58b16d,#40a15f,#2c9150,#208247,#167540,#126a3a,#146236,#165c33,#175932,#175731,#146236,#116f3c,#1c7d44,#278c4c,#2d9251,#349756)"></i><i style="top:1184.57px;height:5.03px;background:linear-gradient(90deg,#349756,#389b59,#3ea05d,#47a865,#54b06c,#63b571,#6fba76,#7abe7a,#86c37f,#94c985,#a3cf8b,#b1d591,#bedb97,#c8e09d,#d1e4a2,#dbe9a7,#e3ecac,#e7efaf,#eaf0b2,#edf1b5,#eff2b7,#f0f3b8,#f2f4ba,#f3f5bb,#f4f5bc,#f5f6bd,#f6f6be,#f6f6be,#f4f5bc,#eef2b6,#e7eeaf,#dae8a7,#d0e4a1,#c9e09e,#c5de9b,#c3dd9a,#c1dd99,#c0dc98,#bddb97,#b8d894,#b2d692,#afd591,#add490,#a9d28e,#9fce8a,#89c480,#6fba76,#54b06c,#41a360,#329655,#258a4b,#1e8045,#177740,#13723e,#12703d,#116f3c,#177741,#1e8146,#268b4b,#339655,#389a59,#3d9f5d,#46a764,#53af6b,#62b571,#6eba76,#79be7a,#85c37f,#93c884,#a2cf8b,#b0d591,#bddb97,#c7df9c,#d1e4a2,#dae8a7,#e2ecac,#e7efaf,#eaf0b2,#edf1b5,#eff2b7,#f0f3b8,#f2f4ba,#f3f4bb,#f4f5bc,#f5f6bd,#f6f6be,#f6f6be,#f4f5bc,#eef2b6,#e7efaf,#dbe9a8,#d1e4a2,#cae19e,#c6df9b,#c3dd9a,#c2dd99,#c0dc98,#bddb97,#b8d894,#b3d692,#afd591,#add490,#aad28e,#a0ce8a,#8bc581,#71bb77,#56b16d,#43a461,#349756,#268b4b,#1e8046,#187841,#14733e,#12703d,#116f3c,#177640,#1e8045,#258a4b,#329654,#379a58,#3d9f5d)"></i><i style="top:1180.14px;height:5.03px;background:linear-gradient(90deg,#3b9e5c,#3ea05e,#43a562,#4cac68,#5bb26e,#6bb975,#7bbf7b,#88c480,#95c985,#a2cf8b,#b0d591,#bedb97,#c8e09d,#d3e5a3,#ddeaa9,#e7eeaf,#ebf1b3,#eef2b6,#f1f4b9,#f4f5bc,#f6f6be,#f7f6bf,#f7f6bf,#f7f7bf,#f7f7bf,#f7f7bf,#f7f7bf,#f7f6bf,#f4f5bc,#edf1b5,#e3edac,#d5e6a4,#cce29f,#c7df9c,#c5de9b,#c3dd9a,#c2dd99,#c0dc98,#bfdb97,#bcda96,#bad995,#b8d894,#b6d894,#b4d793,#acd38f,#9bcc88,#85c37f,#6fba76,#59b26e,#48a965,#3c9e5c,#2f9352,#25894b,#228548,#208347,#1f8246,#238749,#298d4d,#319554,#3b9d5b,#3ea05d,#43a461,#4bab68,#5ab26e,#6ab874,#79be7a,#87c37f,#94c985,#a1cf8b,#aed490,#bdda96,#c7df9c,#d2e4a2,#ddeaa9,#e6eeae,#ebf0b3,#eef2b6,#f1f4b9,#f4f5bc,#f6f6be,#f7f6bf,#f7f6bf,#f7f7bf,#f7f7bf,#f7f7bf,#f7f7bf,#f7f6bf,#f4f5bc,#edf2b5,#e5edad,#d6e7a5,#cde2a0,#c8e09d,#c5de9b,#c3dd9a,#c2dd99,#c0dc98,#bfdb97,#bcda96,#bad995,#b8d995,#b7d894,#b4d793,#acd38f,#9ccd89,#87c480,#70bb77,#5bb26e,#49aa66,#3d9f5d,#309353,#268a4b,#228548,#208347,#1f8247,#238749,#288d4d,#319453,#3a9c5a,#3ea05d,#42a461)"></i><i style="top:1175.7px;height:5.03px;background:linear-gradient(90deg,#3fa15e,#41a260,#44a663,#4bab67,#56b06c,#64b672,#73bc78,#84c27e,#93c985,#a3cf8b,#b3d692,#c2dd99,#cde2a0,#d9e8a7,#e5eead,#eaf0b2,#eef2b6,#f2f4ba,#f5f5bd,#f7f6bf,#f8f7c0,#f8f7c1,#f8f7c1,#f8f7c1,#f8f7c1,#f8f7c0,#f8f7c0,#f7f7bf,#f4f5bc,#edf1b5,#e4edad,#d6e7a5,#cee3a0,#cbe19e,#c9e09d,#c8e09d,#c7df9c,#c6df9b,#c5de9b,#c4de9a,#c3dd9a,#c2dd99,#c1dd99,#c0dc98,#bbda96,#afd591,#9fce8a,#8dc682,#7abe7a,#67b773,#54b06c,#44a562,#399b59,#319554,#2e9251,#2b904f,#2e9251,#339655,#389b59,#3ea05e,#41a25f,#44a562,#4aab67,#55b06c,#63b571,#72bb77,#82c27e,#92c884,#a2cf8b,#b2d692,#c1dc99,#cde29f,#d8e8a6,#e4edad,#eaf0b2,#eef2b6,#f2f4ba,#f4f5bc,#f7f6bf,#f8f7c0,#f8f7c1,#f8f7c1,#f8f7c1,#f8f7c1,#f8f7c0,#f8f7c0,#f7f7bf,#f4f5bc,#eef2b6,#e5eead,#d7e7a6,#cfe3a1,#cbe19e,#c9e09d,#c8e09d,#c7df9c,#c6df9b,#c5de9b,#c4de9a,#c3dd9a,#c2dd99,#c1dd99,#c0dc98,#bbda96,#b0d591,#a0ce8a,#8ec783,#7bbf7b,#69b874,#56b06c,#45a663,#3a9c5a,#329654,#2e9251,#2b904f,#2e9251,#329655,#389b59,#3ea05d,#40a25f,#44a562)"></i><i style="top:1171.27px;height:5.03px;background:linear-gradient(90deg,#41a260,#42a361,#44a562,#47a865,#4cac68,#54b06c,#63b571,#76bd79,#8bc581,#9fce8a,#b3d692,#c4de9b,#d2e5a3,#e0ebab,#e9f0b1,#eef2b6,#f1f4b9,#f5f5bd,#f7f7bf,#f8f7c1,#f8f7c2,#f8f7c2,#f8f7c2,#f8f7c2,#f8f7c2,#f8f7c1,#f8f7c1,#f8f7c0,#f5f5bd,#eef2b6,#e6eeae,#dae8a7,#d4e5a4,#d1e4a2,#d0e4a1,#d0e3a1,#cfe3a1,#cfe3a1,#cee3a0,#cee2a0,#cde2a0,#cde2a0,#cde29f,#cce29f,#cae19e,#c6df9c,#c0dc98,#b4d793,#a4d08c,#91c884,#7cbf7b,#67b773,#53af6b,#47a865,#41a360,#3d9f5d,#3b9e5b,#3c9e5c,#3ea05e,#41a25f,#42a360,#44a562,#47a864,#4bac68,#53af6b,#61b571,#74bc78,#89c480,#9dcd89,#b1d692,#c3dd9a,#d1e4a2,#dfebaa,#e9efb1,#edf2b5,#f1f4b9,#f4f5bc,#f7f6bf,#f8f7c1,#f8f7c2,#f8f7c2,#f8f7c2,#f8f7c2,#f8f7c2,#f8f7c1,#f8f7c1,#f8f7c0,#f5f5bd,#eef2b6,#e7eeaf,#dbe9a8,#d4e6a4,#d1e4a2,#d0e4a1,#d0e3a1,#cfe3a1,#cfe3a1,#cee3a0,#cee2a0,#cde2a0,#cde2a0,#cde29f,#cce29f,#cae19e,#c7df9c,#c0dc98,#b5d793,#a5d08c,#92c884,#7ec07c,#68b874,#55b06c,#48a965,#42a360,#3d9f5d,#3b9e5b,#3c9e5c,#3ea05d,#40a25f,#42a360,#44a562)"></i><i style="top:1166.84px;height:5.03px;background:linear-gradient(90deg,#45a663,#46a764,#47a864,#48a965,#4aaa67,#4fae6a,#5cb36f,#71bb77,#89c480,#a0ce8a,#b5d793,#c7df9c,#d7e7a5,#e6eeae,#ecf1b4,#f0f3b8,#f4f5bc,#f6f6be,#f8f7c1,#f9f8c3,#f9f8c3,#f9f8c3,#f9f8c3,#f9f8c2,#f8f7c2,#f8f7c2,#f8f7c2,#f8f7c0,#f5f6bd,#eff2b7,#e7efaf,#deeaa9,#d8e7a6,#d6e6a5,#d5e6a4,#d5e6a4,#d5e6a4,#d5e6a4,#d5e6a4,#d4e6a4,#d4e6a4,#d4e6a4,#d5e6a4,#d5e6a4,#d5e6a4,#d5e6a4,#d2e4a2,#cbe19f,#c1dd99,#b1d591,#9bcc88,#86c37f,#71bb77,#60b470,#54b06c,#4cac68,#47a865,#46a763,#45a663,#45a663,#46a764,#47a864,#48a965,#4aaa67,#4ead69,#5bb26e,#6fba76,#87c37f,#9ecd89,#b4d793,#c6df9c,#d5e6a5,#e5edad,#ecf1b4,#f0f3b8,#f3f5bb,#f6f6be,#f8f7c1,#f9f8c3,#f9f8c3,#f9f8c3,#f9f8c3,#f9f8c2,#f8f7c2,#f8f7c2,#f8f7c2,#f8f7c0,#f5f6bd,#eff3b7,#e8efb0,#dfebaa,#d8e8a6,#d6e6a5,#d5e6a4,#d5e6a4,#d5e6a4,#d5e6a4,#d5e6a4,#d4e6a4,#d4e6a4,#d4e6a4,#d4e6a4,#d5e6a4,#d5e6a4,#d5e6a4,#d2e4a2,#cce29f,#c2dd99,#b2d692,#9dcd89,#87c480,#73bb77,#61b571,#55b06c,#4dad69,#48a865,#46a763,#45a663,#45a663,#46a764,#47a864)"></i><i style="top:1162.41px;height:5.03px;background:linear-gradient(90deg,#54b06c,#55b06c,#56b06c,#57b16d,#58b16d,#5cb36f,#68b773,#7ec07c,#95ca86,#abd38f,#bedb97,#cce29f,#dce9a8,#e9efb1,#eff3b7,#f3f5bb,#f6f6be,#f8f7c0,#f8f7c2,#f9f8c3,#f9f8c3,#f9f8c3,#f9f8c3,#f9f8c2,#f8f7c2,#f8f7c2,#f8f7c2,#f8f7c0,#f5f6bd,#eff3b7,#e9efb1,#e1ecab,#dbe9a8,#d9e8a6,#d8e7a6,#d8e7a6,#d8e7a6,#d8e7a6,#d8e7a6,#d8e7a6,#d7e7a6,#d8e7a6,#d9e8a6,#dce9a8,#dfebaa,#e1ebab,#e0ebaa,#dce9a8,#d5e6a4,#c9e09d,#bad995,#a5d08c,#91c884,#81c17d,#74bc78,#6bb874,#60b470,#5ab26e,#57b16d,#55b06c,#55b06c,#56b06c,#56b16d,#58b16d,#5cb36f,#67b773,#7cbf7b,#93c985,#a9d28e,#bdda96,#cbe19f,#dbe9a7,#e8efb0,#eff2b7,#f3f4bb,#f5f6bd,#f7f7bf,#f8f7c2,#f9f8c3,#f9f8c3,#f9f8c3,#f9f8c3,#f9f8c2,#f8f7c2,#f8f7c2,#f8f7c2,#f8f7c1,#f6f6be,#f0f3b8,#e9f0b1,#e2ecac,#dce9a8,#d9e8a6,#d8e7a6,#d8e7a6,#d8e7a6,#d8e7a6,#d8e7a6,#d8e7a6,#d7e7a6,#d8e7a6,#d9e8a6,#dce9a8,#dfebaa,#e0ebab,#e0ebaa,#dce9a8,#d5e6a4,#cae19e,#bcda96,#a7d18d,#93c884,#82c17d,#75bd79,#6bb975,#61b571,#5bb26e,#57b16d,#55b06c,#55b06c,#56b06c)"></i><i style="top:1157.98px;height:5.03px;background:linear-gradient(90deg,#69b874,#69b874,#69b874,#6ab874,#6ab874,#6db975,#77bd79,#8bc581,#a0ce8a,#b2d692,#c0dc98,#cce29f,#dbe9a8,#e9f0b1,#f0f3b8,#f4f5bc,#f6f6be,#f8f7c0,#f8f7c2,#f9f8c2,#f9f8c3,#f9f8c2,#f8f7c2,#f8f7c2,#f8f7c2,#f8f7c2,#f8f7c1,#f8f7c0,#f6f6be,#f1f3b9,#ebf0b3,#e6eeae,#e1ebab,#deeaa9,#ddeaa9,#ddeaa9,#ddeaa9,#ddeaa9,#dce9a9,#dce9a8,#dce9a8,#dce9a8,#dfebaa,#e5eeae,#e9efb1,#eaf0b2,#eaf0b2,#eaf0b2,#e8efb0,#e2ecac,#d6e6a5,#c7df9c,#b8d894,#a9d28e,#9ecd89,#94c985,#84c27e,#78be7a,#70ba76,#69b874,#69b874,#69b874,#6ab874,#6ab874,#6db975,#76bd79,#89c480,#9fce8a,#b0d591,#bfdc98,#cbe19f,#dae8a7,#e9efb1,#f0f3b8,#f4f5bc,#f6f6be,#f8f7c0,#f8f7c1,#f9f8c2,#f9f8c3,#f9f8c2,#f8f7c2,#f8f7c2,#f8f7c2,#f8f7c2,#f8f7c1,#f8f7c1,#f6f6be,#f1f4b9,#ebf1b3,#e7eeaf,#e1ecab,#deeaaa,#ddeaa9,#ddeaa9,#ddeaa9,#ddeaa9,#dce9a9,#dce9a8,#dce9a8,#dce9a8,#dfebaa,#e5edad,#e8efb0,#eaf0b2,#eaf0b2,#eaf0b2,#e8efb0,#e3ecac,#d7e7a5,#c9e09d,#bad995,#aad38f,#9fce8a,#95c985,#85c37f,#79be7a,#71bb77,#6ab874,#69b874,#69b874)"></i><i style="top:1153.54px;height:5.03px;background:linear-gradient(90deg,#58b16d,#58b16d,#58b16d,#58b16d,#58b16d,#5ab26e,#60b470,#6fba76,#7fc07c,#8bc581,#97ca86,#a7d18d,#bddb97,#d2e4a2,#e5eeae,#ecf1b4,#f1f3b9,#f4f5bc,#f7f6bf,#f8f7c0,#f8f7c1,#f8f7c1,#f8f7c1,#f8f7c1,#f8f7c1,#f8f7c1,#f8f7c0,#f8f7c0,#f6f6be,#f3f4bb,#eff2b7,#ebf1b3,#e9efb1,#e8efb0,#e8efb0,#e8efb0,#e8efb0,#e7efaf,#e7efaf,#e7efaf,#e7efaf,#e7efaf,#e9efb1,#ebf1b3,#eef2b6,#f0f3b8,#f0f3b8,#f0f3b8,#eff2b7,#ebf1b3,#e6eeae,#d9e8a6,#cce29f,#c3dd9a,#bbda96,#b3d692,#98cb87,#7fc07c,#6ab874,#59b26e,#58b16d,#58b16d,#58b16d,#58b16d,#59b26e,#60b470,#6eba76,#7ec07c,#8ac581,#96ca86,#a5d08c,#bbda96,#d0e4a1,#e4edad,#ecf1b4,#f0f3b8,#f4f5bc,#f6f6be,#f8f7c0,#f8f7c1,#f8f7c1,#f8f7c1,#f8f7c1,#f8f7c1,#f8f7c1,#f8f7c0,#f8f7c0,#f6f6be,#f3f5bb,#eff2b7,#ebf1b3,#e9f0b1,#e8efb0,#e8efb0,#e8efb0,#e8efb0,#e7efaf,#e7efaf,#e7efaf,#e7efaf,#e7efaf,#e8efb0,#ebf0b3,#eef2b6,#eff3b7,#f0f3b8,#f0f3b8,#eff2b7,#ecf1b4,#e7eeaf,#dae8a7,#cde2a0,#c3de9a,#bcda96,#b3d692,#9acb87,#81c17d,#6bb975,#5ab26e,#58b16d,#58b16d)"></i><i style="top:1149.11px;height:5.03px;background:linear-gradient(90deg,#2f9352,#2f9352,#2f9352,#2f9352,#2f9352,#309453,#329554,#369957,#3b9d5b,#3fa15e,#44a562,#50ae6a,#69b874,#8ac581,#aed490,#cae19e,#dfebaa,#ebf0b3,#f1f3b9,#f4f5bc,#f6f6be,#f6f6be,#f6f6be,#f6f6be,#f6f6be,#f6f6be,#f6f6be,#f6f6be,#f5f6bd,#f4f5bc,#f2f4ba,#f1f3b9,#f0f3b8,#eff3b7,#eff3b7,#eff3b7,#eff3b7,#eff3b7,#eff2b7,#eff2b7,#eff2b7,#eff3b7,#f0f3b8,#f1f3b9,#f2f4ba,#f3f4bb,#f3f4bb,#f3f4bb,#f1f3b9,#edf2b5,#e8efb0,#dbe9a8,#cee3a0,#c6df9b,#c0dc98,#bbda96,#91c884,#67b773,#45a663,#319453,#2f9352,#2f9352,#2f9352,#2f9352,#309453,#329554,#369957,#3a9d5b,#3ea05e,#44a562,#4fae6a,#67b773,#88c480,#abd38f,#c8e09d,#deeaa9,#eaf0b2,#f0f3b8,#f4f5bc,#f6f6be,#f6f6be,#f6f6be,#f6f6be,#f6f6be,#f6f6be,#f6f6be,#f6f6be,#f5f6bd,#f4f5bc,#f2f4ba,#f1f3b9,#f0f3b8,#eff3b7,#eff3b7,#eff3b7,#eff3b7,#eff3b7,#eff3b7,#eff2b7,#eff2b7,#eff3b7,#f0f3b8,#f1f3b9,#f2f4ba,#f3f4bb,#f3f4bb,#f3f4bb,#f1f4b9,#edf2b5,#e8efb0,#dce9a8,#cfe3a1,#c6df9c,#c1dc99,#bbda96,#95c985,#6ab874,#47a864,#329655,#2f9352,#2f9352)"></i><i style="top:1144.68px;height:5.03px;background:linear-gradient(90deg,#177640,#177640,#177640,#177640,#177640,#177740,#177740,#177841,#187841,#197942,#1b7d44,#218448,#2c9150,#42a361,#63b672,#8dc682,#b5d793,#d1e4a2,#e4edad,#ebf1b3,#eef2b6,#f0f3b8,#f0f3b8,#f0f3b8,#f0f3b8,#f0f3b8,#f0f3b8,#f0f3b8,#f0f3b8,#f0f3b8,#eff3b7,#eff2b7,#eff2b7,#eff2b7,#eff2b7,#eff2b7,#eff2b7,#eff2b7,#eff2b7,#eff2b7,#eff2b7,#eff2b7,#eff3b7,#eff3b7,#f0f3b8,#eff3b7,#eff2b7,#edf2b5,#ebf0b3,#e5edad,#d5e6a4,#c3dd9a,#aed490,#9fce8a,#95ca86,#8cc682,#5fb470,#3b9e5b,#24884a,#187841,#177640,#177640,#177640,#177640,#177740,#177740,#177841,#187841,#197942,#1b7c43,#218447,#2b904f,#40a25f,#60b470,#8ac581,#b2d692,#cfe3a1,#e3edac,#ebf0b3,#eef2b6,#eff3b7,#f0f3b8,#f0f3b8,#f0f3b8,#f0f3b8,#f0f3b8,#f0f3b8,#f0f3b8,#f0f3b8,#eff3b7,#eff3b7,#eff2b7,#eff2b7,#eff2b7,#eff2b7,#eff2b7,#eff2b7,#eff2b7,#eff2b7,#eff2b7,#eff2b7,#eff3b7,#eff3b7,#f0f3b8,#eff3b7,#eff2b7,#edf2b5,#ebf0b3,#e6eeae,#d6e7a5,#c4de9b,#b0d591,#a1ce8a,#96ca86,#8dc682,#63b571,#3da05d,#25894a,#187941,#177640,#177640)"></i><i style="top:1140.25px;height:5.03px;background:linear-gradient(90deg,#155e34,#155e34,#155e34,#155e34,#155e34,#155e34,#155e34,#155e34,#155f34,#155f35,#146236,#136839,#13713d,#1d7f45,#2c9150,#49a966,#73bc78,#9dcd89,#bfdb98,#d1e4a2,#dce9a8,#e1ecab,#e2ecac,#e2ecac,#e3ecac,#e3edac,#e3edac,#e4edad,#e4edad,#e4edad,#e4edad,#e4edad,#e5edad,#e5edad,#e5eead,#e5eeae,#e5eeae,#e6eeae,#e6eeae,#e6eeae,#e6eeae,#e6eeae,#e6eeae,#e6eeae,#e6eeae,#e4edad,#e0ebaa,#d9e8a7,#cee3a0,#bedb97,#a1ce8a,#80c17d,#61b571,#4bac68,#40a25f,#369958,#228548,#167640,#126939,#155f35,#155e34,#155e34,#155e34,#155e34,#155e34,#155e34,#155e34,#155f34,#155f35,#146236,#136739,#12703d,#1c7e44,#2b8f4f,#46a764,#70ba76,#99cb87,#bcda96,#cfe3a1,#dbe9a8,#e0ebab,#e2ecac,#e2ecac,#e3ecac,#e3edac,#e3edac,#e4edad,#e4edad,#e4edad,#e4edad,#e4edad,#e5edad,#e5edad,#e5eead,#e5eeae,#e5eeae,#e6eeae,#e6eeae,#e6eeae,#e6eeae,#e6eeae,#e6eeae,#e6eeae,#e6eeae,#e4edad,#e0ebab,#dae8a7,#cfe3a1,#bfdc98,#a3cf8b,#82c27e,#63b672,#4dad69,#41a360,#379a58,#238749,#177740,#126a3a,#156035,#155e34,#155e34)"></i><i style="top:1135.82px;height:5.03px;background:linear-gradient(90deg,#18532f,#18532f,#18532f,#18532f,#18532f,#18532f,#18532f,#18532f,#18532f,#18532f,#18532f,#175530,#155d34,#136839,#177740,#268a4b,#41a360,#65b672,#8ac581,#a7d18d,#b9d995,#c1dc98,#c2dd9a,#c3de9a,#c4de9b,#c5de9b,#c6df9c,#c7df9c,#c8e09d,#c8e09d,#c9e09d,#cae19e,#cae19e,#cbe19e,#cbe19e,#cbe19f,#cce19f,#cce29f,#cce29f,#cde29f,#cde2a0,#cde2a0,#cde2a0,#cce29f,#cae19e,#c7df9c,#c0dc98,#b2d692,#9ccc88,#7ec07c,#5ab26e,#3d9f5c,#278c4c,#1e8045,#177740,#116f3c,#146136,#175731,#18532f,#18532f,#18532f,#18532f,#18532f,#18532f,#18532f,#18532f,#18532f,#18532f,#18532f,#18532f,#185530,#165d34,#136738,#167640,#25894a,#3fa15e,#62b571,#87c480,#a4d08c,#b8d894,#c0dc98,#c2dd99,#c3dd9a,#c4de9b,#c5de9b,#c6df9b,#c7df9c,#c8e09c,#c8e09d,#c9e09d,#cae19e,#cae19e,#cae19e,#cbe19e,#cbe19f,#cbe19f,#cce29f,#cce29f,#cce29f,#cde2a0,#cde2a0,#cde2a0,#cce29f,#cae19e,#c7df9c,#c1dc99,#b3d692,#9ecd89,#80c17d,#5db36f,#3fa15e,#288d4d,#1e8046,#177741,#116f3c,#146236,#175831,#18532f,#18532f,#18532f,#18532f)"></i><i style="top:1131.38px;height:5.03px;background:linear-gradient(90deg,#18532f,#18532f,#18532f,#18532f,#18532f,#18532f,#18532f,#18532f,#18532f,#18532f,#18532f,#18532f,#18532f,#165c33,#136839,#187841,#258a4b,#3c9f5c,#56b06c,#71bb77,#84c27e,#8cc682,#90c783,#93c884,#95c985,#97ca86,#9acb87,#9ccd89,#9fce8a,#a2cf8b,#a4d08c,#a6d18d,#a8d28e,#a9d28e,#aad28e,#aad38f,#abd38f,#acd38f,#acd38f,#add490,#aed490,#aed490,#add490,#a9d28e,#a3d08c,#9bcc88,#8ec682,#79be7a,#5bb36f,#3fa15e,#268a4b,#177841,#136839,#155f34,#175932,#18542f,#18532f,#18532f,#18532f,#18532f,#18532f,#18532f,#18532f,#18532f,#18532f,#18532f,#18532f,#18532f,#18532f,#18532f,#18532f,#18532f,#165b33,#136738,#177740,#24884a,#3b9d5b,#53af6b,#6fba76,#82c17d,#8cc581,#90c783,#92c884,#95c985,#97ca86,#9acb87,#9ccc88,#9fce8a,#a1cf8b,#a4d08c,#a6d18d,#a8d18d,#a9d28e,#a9d28e,#aad28e,#abd38f,#abd38f,#acd38f,#add490,#add490,#aed490,#add490,#a9d28e,#a4d08c,#9ccc88,#8fc783,#7abf7b,#5eb36f,#41a260,#278c4c,#197942,#126939,#155f35,#165932,#18542f,#18532f,#18532f,#18532f,#18532f,#18532f,#18532f)"></i><i style="top:1126.95px;height:5.03px;background:linear-gradient(90deg,#18532f,#18532f,#18532f,#18532f,#18532f,#18532f,#18532f,#18532f,#18532f,#18532f,#18532f,#18532f,#18532f,#175831,#146236,#116e3b,#1b7c43,#268b4b,#379a58,#46a764,#51af6b,#59b26e,#5eb36f,#61b571,#65b672,#68b773,#6cb975,#6fba76,#74bc78,#7abe7a,#81c17d,#86c37f,#8ac581,#8dc682,#8ec682,#8fc783,#90c783,#91c884,#91c884,#92c884,#93c985,#94c985,#91c884,#8ac581,#80c17d,#71bb77,#5eb470,#46a764,#319554,#1f8146,#116f3c,#155e34,#18532f,#18532f,#18532f,#18532f,#18532f,#18532f,#18532f,#18532f,#18532f,#18532f,#18532f,#18532f,#18532f,#18532f,#18532f,#18532f,#18532f,#18532f,#18532f,#18532f,#175731,#156135,#126d3b,#1a7b42,#25894b,#369957,#45a663,#50ae6a,#59b26e,#5db36f,#61b571,#64b672,#68b773,#6bb975,#6fba76,#73bc78,#79be7a,#80c17d,#86c37f,#8ac581,#8cc682,#8ec682,#8fc783,#90c783,#90c783,#91c884,#92c884,#93c985,#93c985,#91c884,#8bc581,#81c17d,#73bc78,#5fb470,#48a965,#339655,#208347,#12703d,#156035,#18532f,#18532f,#18532f,#18532f,#18532f,#18532f,#18532f,#18532f,#18532f,#18532f)"></i><i style="top:1122.52px;height:5.03px;background:linear-gradient(90deg,#18532f,#18532f,#18532f,#18532f,#18532f,#18532f,#18532f,#18532f,#18532f,#18532f,#18532f,#18532f,#18542f,#165b33,#146337,#126c3b,#177640,#1f8146,#268b4b,#2e9252,#359856,#399b59,#3b9e5c,#3ea05e,#41a260,#43a562,#46a764,#49a966,#4dad69,#57b16d,#63b672,#6fba76,#77bd79,#7cbf7b,#7ec07c,#7fc07c,#80c17d,#81c17d,#83c27e,#84c27e,#85c37f,#85c37f,#82c17d,#77bd79,#67b773,#51ae6a,#3ea05d,#2a8e4e,#1c7e44,#116f3c,#156035,#18532f,#18532f,#18532f,#18532f,#18532f,#18532f,#18532f,#18532f,#18532f,#18532f,#18532f,#18532f,#18532f,#18532f,#18532f,#18532f,#18532f,#18532f,#18532f,#18532f,#18532f,#165b33,#146336,#126c3a,#167640,#1e8045,#258a4b,#2e9251,#349756,#389b59,#3b9e5b,#3ea05d,#40a25f,#43a461,#46a763,#49a966,#4dad69,#56b16d,#62b571,#6eba76,#77bd79,#7cbf7b,#7ec07c,#7fc07c,#80c17d,#81c17d,#83c27e,#84c27e,#85c37f,#85c37f,#82c17d,#78be7a,#68b773,#52af6b,#3fa15e,#2b904f,#1d7f45,#12703c,#146136,#18532f,#18532f,#18532f,#18532f,#18532f,#18532f,#18532f,#18532f,#18532f,#18532f,#18532f)"></i><i style="top:1118.09px;height:5.03px;background:linear-gradient(90deg,#18532f,#18532f,#18532f,#18532f,#18532f,#18532f,#18532f,#18532f,#18532f,#18532f,#175731,#155e34,#146537,#126b3a,#13723e,#187941,#1d7f45,#228649,#278b4c,#2b904f,#2f9352,#319554,#349756,#369957,#389b59,#3a9d5b,#3d9f5d,#3fa15f,#43a562,#4aaa67,#56b06c,#65b672,#72bb77,#79be7a,#7bbf7b,#7dbf7b,#7ec07c,#80c17d,#81c17d,#83c27e,#84c27e,#84c27e,#81c17d,#75bc78,#63b571,#4bac68,#399c5a,#268b4b,#1b7c43,#116f3c,#146336,#175630,#18532f,#18532f,#18532f,#18532f,#18532f,#18532f,#18532f,#18532f,#18532f,#18532f,#18532f,#18532f,#18532f,#18532f,#18532f,#18532f,#18532f,#175631,#155d34,#146437,#126b3a,#13713d,#187841,#1d7f45,#228548,#268b4b,#2b8f4f,#2e9252,#319554,#339755,#369957,#389b59,#3a9d5b,#3d9f5c,#3fa15e,#43a461,#49aa66,#55b06c,#64b672,#71bb77,#78be7a,#7bbf7b,#7dbf7b,#7ec07c,#80c17d,#81c17d,#82c27e,#84c27e,#84c27e,#81c17d,#76bd79,#64b672,#4dad69,#3a9d5b,#278c4c,#1c7e44,#12703d,#146437,#175731,#18532f,#18532f,#18532f,#18532f,#18532f,#18532f,#18532f,#18532f,#18532f,#18532f)"></i><i style="top:1113.66px;height:5.03px;background:linear-gradient(90deg,#165c33,#165c33,#165b33,#165c33,#155f34,#146537,#126b3a,#116e3c,#12713d,#15743f,#187841,#1b7c43,#1e8046,#238649,#288d4c,#2d9251,#329554,#369957,#399c5a,#3b9d5b,#3c9f5c,#3ea05d,#3fa15e,#41a260,#42a461,#44a562,#45a663,#47a764,#49a966,#4dad69,#58b16d,#68b874,#78be7a,#80c17d,#83c27e,#85c27e,#86c37f,#88c480,#89c480,#8bc581,#8dc682,#8dc682,#8ac581,#80c17d,#71bb77,#5db36f,#49a966,#399c5a,#298e4e,#1f8246,#177640,#126b3a,#146236,#165c33,#175831,#175630,#175731,#175831,#165a32,#165c33,#165c33,#165b33,#165c33,#155e34,#146437,#126b3a,#116e3c,#12703d,#14733e,#177741,#1a7b43,#1e8045,#228649,#278c4c,#2d9150,#319554,#359857,#399b59,#3b9d5b,#3c9e5c,#3ea05d,#3fa15e,#41a25f,#42a361,#43a562,#45a663,#46a764,#49a966,#4dad69,#57b16d,#67b773,#77bd79,#7fc07c,#83c27e,#84c27e,#86c37f,#88c480,#89c480,#8bc581,#8cc682,#8dc682,#8ac581,#81c17d,#72bb77,#5fb470,#4aaa67,#3a9d5b,#2a8f4f,#208347,#177741,#126c3b,#146336,#165c33,#175831,#175630,#175731,#175831,#165932,#165b33,#165c33,#165b33)"></i><i style="top:1109.22px;height:5.03px;background:linear-gradient(90deg,#177741,#177741,#177841,#187841,#1b7c43,#208347,#258a4b,#298e4e,#2c9050,#2f9352,#339655,#369957,#3a9c5a,#40a25f,#46a763,#49aa66,#4bab67,#4cac68,#4dad69,#4cac68,#4cac68,#4cac69,#4dad69,#4eae6a,#50ae6a,#51af6b,#52af6b,#54b06c,#55b06c,#59b16d,#61b571,#70bb77,#7fc07c,#87c37f,#8ac581,#8bc581,#8dc682,#8ec783,#90c783,#91c884,#93c884,#93c985,#91c884,#8bc581,#80c17d,#73bc78,#65b672,#55b06c,#47a864,#3b9d5b,#2f9352,#25894a,#1f8247,#1c7e44,#1b7c43,#197a42,#187941,#187841,#177741,#177741,#177741,#177841,#187841,#1a7b43,#1f8246,#25894a,#298d4d,#2b904f,#2f9352,#329655,#369957,#399c5a,#3fa15f,#45a663,#49a966,#4bab67,#4cac68,#4cad69,#4cac68,#4cac68,#4cac68,#4dad69,#4eae6a,#50ae6a,#51af6b,#52af6b,#54b06c,#55b06c,#58b16d,#60b470,#6fba76,#7ec07c,#87c37f,#8ac581,#8bc581,#8dc682,#8ec783,#90c783,#91c884,#92c884,#93c985,#92c884,#8bc581,#81c17d,#74bc78,#66b773,#56b06c,#48a865,#3c9e5c,#309453,#258a4b,#208347,#1d7e44,#1b7c43,#1a7a42,#187941,#187841,#177741,#177741,#177741,#177841)"></i><i style="top:1104.79px;height:5.03px;background:linear-gradient(90deg,#309453,#319453,#319554,#329655,#359857,#3a9d5b,#3fa15f,#43a461,#46a763,#4bab67,#51af6b,#57b16d,#5bb26e,#5fb470,#64b672,#66b773,#67b773,#67b773,#66b672,#62b571,#5fb470,#5eb470,#5fb470,#60b470,#61b571,#62b571,#63b571,#64b672,#65b672,#67b773,#6db975,#79be7a,#86c37f,#8cc581,#8ec682,#8fc783,#90c783,#92c884,#93c884,#94c985,#95c985,#95ca86,#95c985,#92c884,#8ec682,#88c480,#82c27e,#7cbf7b,#74bc78,#6ab874,#5eb470,#53af6b,#4bab67,#46a764,#43a461,#40a25f,#3b9d5b,#379a58,#349756,#319453,#319453,#319554,#329654,#359856,#3a9c5a,#3fa15e,#42a461,#45a663,#4aab67,#51ae6a,#57b16d,#5bb26e,#5fb470,#63b672,#66b773,#67b773,#67b773,#66b773,#63b571,#5fb470,#5eb470,#5fb470,#60b470,#61b571,#62b571,#63b571,#64b672,#65b672,#67b773,#6db975,#78be7a,#85c27e,#8bc581,#8ec682,#8fc783,#90c783,#92c884,#93c884,#94c985,#95c985,#95ca86,#95c985,#92c884,#8ec682,#89c480,#83c27e,#7cbf7b,#74bc78,#6bb874,#5fb470,#54b06c,#4bab68,#47a764,#43a562,#41a260,#3b9e5c,#379a58,#349756,#319554,#319453,#319554)"></i><i style="top:1100.36px;height:5.03px;background:linear-gradient(90deg,#42a461,#43a461,#43a562,#44a562,#46a763,#48a965,#4bab67,#4dad69,#52af6b,#5bb26e,#65b672,#6cb975,#70ba76,#72bb77,#73bc78,#73bc78,#74bc78,#73bc78,#71bb77,#6db975,#68b773,#67b773,#67b773,#68b773,#69b874,#6ab874,#6bb975,#6db975,#6eba76,#70ba76,#75bc78,#7ec07c,#88c480,#8ec682,#91c884,#94c985,#97ca86,#98cb87,#99cb87,#9acc88,#9bcc88,#9bcc88,#9ccc88,#9ccc88,#9bcc88,#9acc88,#9acb87,#99cb87,#96ca86,#90c783,#88c480,#7fc07c,#78be7a,#71bb77,#6bb975,#66b773,#59b26e,#4ead69,#48a865,#43a461,#43a461,#43a562,#44a562,#45a663,#48a965,#4bab67,#4dad69,#51af6b,#5ab26e,#64b672,#6cb975,#6fba76,#72bb77,#73bc78,#73bc78,#74bc78,#73bc78,#72bb77,#6db975,#69b874,#67b773,#67b773,#68b773,#69b874,#6ab874,#6bb975,#6db975,#6eba76,#70ba76,#74bc78,#7ec07c,#87c480,#8dc682,#90c783,#93c985,#96ca86,#98cb87,#99cb87,#9acc88,#9bcc88,#9bcc88,#9ccc88,#9ccc88,#9bcc88,#9acc88,#9acb87,#99cb87,#96ca86,#90c783,#88c480,#80c17d,#78be7a,#72bb77,#6cb975,#66b773,#5ab26e,#4fae6a,#48a965,#43a461,#43a461,#43a461)"></i><i style="top:1095.93px;height:5.03px;background:linear-gradient(90deg,#379a58,#379a58,#389b59,#399b59,#3b9d5b,#3fa05e,#42a461,#45a663,#48a965,#4dad69,#57b16d,#61b571,#67b773,#6ab874,#6bb874,#6bb975,#6cb975,#6bb975,#6ab874,#66b773,#63b672,#62b571,#63b571,#64b672,#66b773,#68b773,#69b874,#6bb975,#6db975,#6fba76,#74bc78,#7dbf7b,#86c37f,#8dc682,#94c985,#9fce8a,#a8d28e,#add490,#afd490,#afd591,#b0d591,#b0d591,#b1d591,#b1d692,#b2d692,#b2d692,#b3d692,#b3d692,#b0d591,#a7d18d,#9bcc88,#90c783,#86c37f,#7dbf7b,#75bc78,#6eba76,#5ab26e,#4aaa66,#40a25f,#389a59,#379a58,#389b59,#399b59,#3b9d5b,#3ea05e,#42a461,#45a663,#48a865,#4dad69,#56b16d,#60b470,#67b773,#6ab874,#6bb874,#6bb975,#6bb975,#6bb975,#6ab874,#67b773,#63b672,#62b571,#63b571,#64b672,#66b773,#68b773,#69b874,#6bb975,#6db975,#6fba76,#74bc78,#7cbf7b,#85c37f,#8cc682,#93c985,#9ecd89,#a8d18d,#add490,#afd490,#afd591,#b0d591,#b0d591,#b1d591,#b1d692,#b2d692,#b2d692,#b3d692,#b3d692,#b0d591,#a8d28e,#9ccd89,#91c884,#86c37f,#7ec07c,#76bd79,#6eba76,#5bb26e,#4bab67,#41a260,#389b59,#379a58,#389b59)"></i><i style="top:1091.5px;height:5.03px;background:linear-gradient(90deg,#218347,#218447,#218448,#218548,#238749,#288d4d,#2f9352,#339755,#359957,#399b59,#3ea05e,#46a764,#4ead69,#53af6b,#56b06c,#57b16d,#57b16d,#58b16d,#58b16d,#57b16d,#56b06c,#56b06c,#57b16d,#59b26e,#5cb36f,#5fb470,#62b571,#64b672,#67b773,#6ab874,#6fba76,#77bd79,#80c17d,#8ac581,#97ca86,#add490,#c0dc98,#c7df9c,#c9e09d,#c9e09d,#c9e09e,#cae19e,#cae19e,#cae19e,#cbe19e,#cbe19f,#cbe19f,#cbe19e,#c7df9c,#bcda96,#a8d28e,#96ca86,#87c37f,#7bbf7b,#70bb77,#66b773,#4aaa67,#389b59,#298e4d,#218448,#218447,#218448,#218548,#238749,#278c4c,#2f9352,#339655,#359857,#389b59,#3ea05d,#46a763,#4dad69,#53af6b,#55b06c,#57b16d,#57b16d,#58b16d,#58b16d,#57b16d,#56b06c,#56b06c,#57b16d,#59b26e,#5cb36f,#5fb470,#61b571,#64b672,#67b773,#6ab874,#6fba76,#77bd79,#80c17d,#89c480,#96ca86,#abd38f,#bfdc98,#c6df9c,#c8e09d,#c9e09d,#c9e09e,#cae19e,#cae19e,#cae19e,#cbe19e,#cbe19e,#cbe19f,#cbe19f,#c7df9c,#bdda96,#aad28e,#98cb87,#88c480,#7cbf7b,#71bb77,#67b773,#4bac68,#399c5a,#2a8f4e,#228548,#218447,#218448)"></i><i style="top:1087.06px;height:5.03px;background:linear-gradient(90deg,#13723e,#13723e,#14733e,#15743f,#177741,#1d7e45,#228649,#25894b,#268b4b,#278c4c,#2b904f,#339655,#3b9d5b,#41a360,#45a663,#46a764,#47a865,#48a965,#48a965,#49a966,#49aa66,#4aaa67,#4bab68,#4dad69,#51af6b,#55b06c,#58b16d,#5bb36f,#5fb470,#62b571,#68b773,#70ba76,#79be7a,#84c27e,#95ca86,#afd490,#c4de9a,#cbe19f,#cde2a0,#cee2a0,#cee3a0,#cee3a0,#cfe3a1,#cfe3a1,#cfe3a1,#d0e3a1,#d0e4a1,#cfe3a1,#cae19e,#bedb97,#a7d18d,#91c884,#7ec07c,#6fba76,#62b571,#56b06c,#3b9d5b,#268b4b,#1c7d44,#14733e,#13723e,#14733e,#15743f,#177740,#1c7e44,#228548,#25894a,#268b4b,#278c4c,#2b904f,#329655,#3a9d5b,#41a25f,#44a662,#46a764,#47a865,#48a965,#48a965,#49a966,#49aa66,#4aaa67,#4bab67,#4dad69,#51af6b,#55b06c,#58b16d,#5bb26e,#5fb470,#62b571,#67b773,#6fba76,#78be7a,#83c27e,#94c985,#add490,#c2dd99,#cbe19e,#cde2a0,#cee2a0,#cee3a0,#cee3a0,#cfe3a1,#cfe3a1,#cfe3a1,#d0e3a1,#d0e4a1,#cfe3a1,#cbe19e,#bfdb97,#a9d28e,#93c884,#7fc07c,#70bb77,#63b571,#57b16d,#3d9f5d,#278c4c,#1d7e44,#14733e,#13723e,#14733e)"></i><i style="top:1082.63px;height:5.03px;background:linear-gradient(90deg,#146437,#146537,#136638,#136738,#126b3a,#14733e,#1a7b43,#1d7f45,#1e8046,#1f8146,#208347,#238749,#278c4c,#2f9352,#369957,#399c5a,#3b9d5b,#3b9e5c,#3c9e5c,#3d9f5d,#3da05d,#3ea05e,#40a25f,#44a562,#47a865,#4aaa67,#4cac68,#4fae6a,#52af6b,#55b06c,#5ab26e,#62b571,#6db975,#79be7a,#89c480,#9dcd89,#aed490,#b6d894,#b8d995,#b9d995,#bad995,#bbda96,#bbda96,#bcda96,#bdda96,#bddb97,#bedb97,#bddb97,#b6d894,#a6d18d,#91c884,#7abe7a,#66b773,#55b06c,#48a965,#3ea05e,#268b4c,#1a7b43,#116f3c,#146537,#146537,#136638,#136738,#126b3a,#14723e,#197a42,#1d7e45,#1e8045,#1f8146,#208347,#238749,#278c4c,#2e9252,#359957,#399c5a,#3b9d5b,#3b9e5c,#3c9e5c,#3d9f5d,#3d9f5d,#3ea05e,#40a25f,#43a562,#47a864,#4aaa67,#4cac68,#4eae6a,#51af6b,#55b06c,#5ab26e,#62b571,#6cb975,#78be7a,#88c480,#9ccc88,#add490,#b6d793,#b8d995,#b9d995,#bad995,#bbda96,#bbda96,#bcda96,#bdda96,#bddb97,#bedb97,#bddb97,#b7d894,#a8d18d,#92c884,#7cbf7b,#67b773,#56b06c,#49a966,#3fa15e,#288d4d,#1b7d43,#11703c,#136638,#146537,#136638)"></i><i style="top:1078.2px;height:5.03px;background:linear-gradient(90deg,#165b33,#165c33,#155d34,#155f35,#146336,#126b3a,#13723e,#177640,#187841,#197a42,#1a7b43,#1c7d44,#1f8146,#24884a,#2a8f4e,#2e9251,#309353,#309453,#319554,#329554,#339655,#349756,#369958,#3b9d5b,#40a25f,#43a461,#44a562,#45a663,#46a764,#48a865,#4bab67,#51af6b,#5cb36f,#6bb874,#79be7a,#86c37f,#8fc783,#93c985,#95c985,#96ca86,#97ca86,#97ca86,#98cb87,#99cb87,#9acc88,#9bcc88,#9bcc88,#9bcc88,#96ca86,#87c480,#73bc78,#5eb36f,#4aab67,#3ea05d,#329655,#288d4c,#1a7b43,#116e3b,#146437,#165c33,#165c33,#165d34,#155f34,#146336,#126a3a,#13723d,#167640,#187841,#197942,#1a7b43,#1c7d44,#1f8146,#248749,#298e4e,#2e9251,#2f9352,#309453,#319554,#329554,#339655,#349756,#369958,#3b9d5b,#3fa15f,#42a461,#44a562,#45a663,#46a764,#48a865,#4aab67,#50ae6a,#5cb36f,#69b874,#78be7a,#85c37f,#8ec783,#93c985,#95c985,#96ca86,#97ca86,#97ca86,#98cb87,#99cb87,#9acc88,#9bcc88,#9bcc88,#9bcc88,#96ca86,#89c480,#75bc78,#5fb470,#4bac68,#3fa15e,#339755,#288d4d,#1b7d44,#116f3c,#146437,#165c33,#165c33,#165d34)"></i><i style="top:1073.77px;height:5.03px;background:linear-gradient(90deg,#155e34,#155e34,#155f35,#146136,#146537,#126c3b,#14733e,#177740,#197941,#1a7a42,#1b7c43,#1c7d44,#1f8146,#238749,#288d4d,#2c9150,#2e9251,#2e9252,#2f9352,#309453,#319453,#329654,#359857,#3a9d5b,#3fa15f,#42a360,#42a461,#43a461,#43a461,#44a562,#46a763,#4aaa67,#54b06c,#63b672,#71bb77,#7abe7a,#7ec07c,#80c17d,#81c17d,#82c27e,#83c27e,#84c27e,#85c37f,#86c37f,#86c37f,#87c480,#88c480,#88c480,#83c27e,#76bd79,#63b672,#4eae6a,#40a25f,#349756,#298d4d,#228548,#177640,#126c3a,#146437,#155e34,#155e34,#155f35,#156135,#146537,#126b3a,#14723e,#177740,#187941,#197a42,#1b7c43,#1c7d44,#1e8146,#238749,#288d4d,#2c9050,#2d9251,#2e9252,#2f9352,#309453,#319453,#329654,#359857,#3a9d5b,#3fa15e,#42a360,#42a461,#43a461,#43a461,#44a562,#45a663,#4aaa66,#53af6b,#62b571,#70bb77,#79be7a,#7ec07c,#80c17d,#81c17d,#82c17d,#83c27e,#84c27e,#85c27e,#86c37f,#86c37f,#87c480,#88c480,#88c480,#83c27e,#77bd79,#65b672,#50ae6a,#41a360,#359857,#298e4e,#228649,#187841,#126c3b,#146537,#155e34,#155e34,#155f35)"></i><i style="top:1069.34px;height:5.03px;background:linear-gradient(90deg,#187841,#197941,#197a42,#1a7b42,#1c7d44,#208247,#238749,#258a4b,#268b4c,#278c4c,#298d4d,#2a8f4e,#2e9251,#339755,#399b59,#3b9e5b,#3c9e5c,#3d9f5d,#3d9f5d,#3ea05e,#3fa15f,#42a361,#46a763,#4aaa67,#4ead69,#4fae6a,#4fae6a,#4fae6a,#4ead69,#4ead69,#4fae6a,#54b06c,#5eb36f,#6db975,#7abf7b,#81c17d,#84c27e,#85c27e,#85c37f,#86c37f,#87c37f,#87c37f,#88c480,#88c480,#89c480,#8ac581,#8ac581,#8ac581,#86c37f,#7abf7b,#6ab874,#56b06c,#46a764,#3c9e5c,#339755,#2b8f4f,#228648,#1d7f45,#1a7b43,#187941,#187941,#197942,#1a7a42,#1c7d44,#1f8246,#238749,#258a4b,#268b4c,#278c4c,#288d4d,#2a8f4e,#2d9151,#339655,#389b59,#3b9d5b,#3c9e5c,#3d9f5d,#3d9f5d,#3ea05e,#3fa15f,#42a360,#45a663,#4aaa66,#4dad69,#4fae6a,#4fae6a,#4fae6a,#4ead69,#4ead69,#4fae6a,#53b06c,#5db36f,#6bb975,#79be7a,#81c17d,#83c27e,#84c27e,#85c37f,#86c37f,#86c37f,#87c37f,#88c480,#88c480,#89c480,#8ac581,#8ac581,#8ac581,#86c37f,#7bbf7b,#6bb975,#58b16d,#47a865,#3d9f5d,#349756,#2c904f,#238649,#1e8045,#1a7b43,#187941,#187941,#197942)"></i><i style="top:1064.9px;height:5.03px;background:linear-gradient(90deg,#51af6b,#50ae6a,#4fae6a,#4ead69,#4ead69,#50ae6a,#51af6b,#51ae6a,#50ae6a,#50ae6a,#51af6b,#52af6b,#54b06c,#58b16d,#5bb26e,#5db36f,#5eb36f,#5eb470,#5fb470,#60b470,#64b672,#6bb975,#72bb77,#77bd79,#79be7a,#79be7a,#78be7a,#77bd79,#76bd79,#76bd79,#76bd79,#79be7a,#80c17d,#8cc581,#96ca86,#9ccc88,#9dcd89,#9dcd89,#9ecd89,#9ecd89,#9ecd89,#9fce8a,#9fce8a,#9fce8a,#a0ce8a,#a0ce8a,#a0ce8a,#a0ce8a,#9dcd89,#94c985,#88c480,#78be7a,#6ab874,#60b470,#59b16d,#52af6b,#4ead69,#4dad69,#4ead69,#51af6b,#51ae6a,#4fae6a,#4eae6a,#4ead69,#50ae6a,#51af6b,#51af6b,#50ae6a,#50ae6a,#51ae6a,#52af6b,#54b06c,#57b16d,#5bb26e,#5db36f,#5eb36f,#5eb470,#5fb470,#60b470,#64b672,#6ab874,#72bb77,#76bd79,#78be7a,#79be7a,#78be7a,#77bd79,#77bd79,#76bd79,#76bd79,#79be7a,#7fc07c,#8bc581,#96ca86,#9bcc88,#9dcd89,#9dcd89,#9ecd89,#9ecd89,#9ecd89,#9fce8a,#9fce8a,#9fce8a,#a0ce8a,#a0ce8a,#a0ce8a,#a0ce8a,#9dcd89,#95c985,#89c480,#79be7a,#6bb975,#60b571,#59b26e,#53af6b,#4ead69,#4dad69,#4ead69,#51ae6a,#51ae6a,#50ae6a)"></i><i style="top:1060.47px;height:5.03px;background:linear-gradient(90deg,#aad28e,#a7d18d,#a2cf8b,#9dcd89,#96ca86,#8fc783,#88c480,#81c17d,#7bbf7b,#79be7a,#79be7a,#7abe7a,#7abf7b,#7bbf7b,#7cbf7b,#7dc07c,#7ec07c,#7ec07c,#80c17d,#85c37f,#8dc682,#96ca86,#9ecd89,#a3cf8b,#a5d08c,#a5d08c,#a6d18d,#a7d18d,#a8d18d,#a9d28e,#abd38f,#add490,#b1d591,#b7d894,#bdda96,#bfdb97,#bfdc98,#bfdc98,#bfdc98,#c0dc98,#c0dc98,#c0dc98,#c0dc98,#c0dc98,#c0dc98,#c0dc98,#c0dc98,#c0dc98,#bfdb98,#bbda96,#b4d793,#abd38f,#a4d08c,#9fce8a,#9ccd89,#9acc88,#9ccc88,#a0ce8a,#a4d08c,#a9d28e,#a7d18d,#a2cf8b,#9dcd89,#97ca86,#90c783,#89c480,#81c17d,#7cbf7b,#79be7a,#79be7a,#7abe7a,#7abf7b,#7bbf7b,#7cbf7b,#7dc07c,#7ec07c,#7ec07c,#80c17d,#85c37f,#8cc682,#95ca86,#9ecd89,#a2cf8b,#a4d08c,#a5d08c,#a6d18d,#a7d18d,#a8d18d,#a9d28e,#abd38f,#add490,#b1d591,#b7d894,#bcda96,#bfdb97,#bfdc98,#bfdc98,#bfdc98,#c0dc98,#c0dc98,#c0dc98,#c0dc98,#c0dc98,#c0dc98,#c0dc98,#c0dc98,#c0dc98,#bfdc98,#bbda96,#b4d793,#acd38f,#a4d08c,#9fce8a,#9dcd89,#9acc88,#9ccc88,#9fce8a,#a4d08c,#a9d28e,#a7d18d,#a3cf8b)"></i><i style="top:1056.04px;height:5.03px;background:linear-gradient(90deg,#d3e5a3,#d0e3a1,#cbe19f,#c4de9b,#bcda96,#aed490,#a1ce8a,#94c985,#8ac581,#86c37f,#85c37f,#86c37f,#86c37f,#87c37f,#88c480,#89c480,#8ac581,#8cc682,#91c884,#9ccc88,#a8d28e,#b3d692,#bbda96,#bfdb98,#c1dc99,#c3dd9a,#c4de9b,#c6df9c,#c8e09d,#cbe19f,#cee3a0,#d1e4a2,#d3e5a3,#d4e6a4,#d5e6a4,#d6e6a5,#d6e6a5,#d6e6a5,#d6e7a5,#d6e7a5,#d6e7a5,#d7e7a5,#d7e7a5,#d7e7a5,#d7e7a5,#d7e7a5,#d7e7a5,#d7e7a5,#d6e7a5,#d5e6a4,#d3e5a3,#d1e4a2,#d0e3a1,#cfe3a0,#cee3a0,#cde2a0,#cee3a0,#cfe3a1,#d1e4a2,#d2e5a3,#d0e4a1,#cbe19f,#c5de9b,#bdda96,#b0d591,#a2cf8b,#95c985,#8bc581,#86c37f,#85c37f,#86c37f,#86c37f,#87c37f,#88c480,#89c480,#8ac581,#8cc581,#91c884,#9bcc88,#a7d18d,#b2d692,#bad995,#bfdb97,#c1dc99,#c3dd9a,#c4de9b,#c6df9c,#c8e09d,#cbe19e,#cee3a0,#d0e4a2,#d2e5a3,#d4e6a4,#d5e6a4,#d6e6a5,#d6e6a5,#d6e6a5,#d6e7a5,#d6e7a5,#d6e7a5,#d7e7a5,#d7e7a5,#d7e7a5,#d7e7a5,#d7e7a5,#d7e7a5,#d7e7a5,#d7e7a5,#d5e6a4,#d4e5a3,#d2e4a2,#d0e3a1,#cfe3a1,#cee3a0,#cde2a0,#cee3a0,#cfe3a1,#d1e4a2,#d2e5a3,#d0e4a1,#cce29f)"></i><i style="top:1051.61px;height:5.03px;background:linear-gradient(90deg,#e4edad,#e1ecab,#dce9a8,#d4e5a3,#c8e09d,#b8d894,#a2cf8b,#8ec783,#81c17d,#7abe7a,#78be7a,#79be7a,#7bbf7b,#7ec07c,#82c17d,#86c37f,#8ac581,#8fc783,#97ca86,#a6d18d,#b6d793,#c1dc99,#c7df9c,#cbe19f,#cee3a0,#d1e4a2,#d4e6a4,#d7e7a6,#dbe9a7,#dfebaa,#e3ecac,#e6eeae,#e7eeaf,#e7efaf,#e7efaf,#e7efaf,#e7efaf,#e7efaf,#e7efaf,#e8efb0,#e8efb0,#e8efb0,#e8efb0,#e8efb0,#e8efb0,#e8efb0,#e8efb0,#e8efb0,#e8efb0,#e8efb0,#e8efb0,#e8efb0,#e8efb0,#e7efaf,#e7efaf,#e7efaf,#e7eeaf,#e6eeae,#e5eead,#e4edad,#e1ecab,#ddeaa9,#d4e6a4,#c9e09d,#b9d995,#a4d08c,#90c783,#82c17d,#7bbf7b,#79be7a,#79be7a,#7bbf7b,#7ec07c,#82c17d,#86c37f,#8ac581,#8ec783,#97ca86,#a4d08c,#b4d793,#c0dc98,#c7df9c,#cbe19e,#cee3a0,#d1e4a2,#d4e5a4,#d7e7a5,#dae8a7,#deeaaa,#e2ecac,#e5eeae,#e7eeaf,#e7eeaf,#e7efaf,#e7efaf,#e7efaf,#e7efaf,#e7efaf,#e8efb0,#e8efb0,#e8efb0,#e8efb0,#e8efb0,#e8efb0,#e8efb0,#e8efb0,#e8efb0,#e8efb0,#e8efb0,#e8efb0,#e8efb0,#e8efb0,#e7efaf,#e7efaf,#e7efaf,#e7eeaf,#e6eeae,#e5eead,#e4edad,#e2ecab,#ddeaa9)"></i><i style="top:1047.18px;height:5.03px;background:linear-gradient(90deg,#eaf0b2,#e9efb1,#e6eeae,#dce9a8,#cce29f,#b4d793,#94c985,#78be7a,#65b672,#5bb26e,#56b16d,#58b16d,#5cb36f,#64b672,#6db975,#77bd79,#81c17d,#8cc581,#97ca86,#a6d18d,#b6d894,#c4de9a,#cee2a0,#d4e6a4,#d9e8a7,#deeaa9,#e2ecac,#e6eeae,#e8efb0,#ebf0b3,#edf1b5,#eef2b6,#eef2b6,#eff2b7,#eff2b7,#eff2b7,#eff3b7,#eff3b7,#eff3b7,#eff3b7,#f0f3b8,#f0f3b8,#f0f3b8,#f0f3b8,#f0f3b8,#f0f3b8,#f0f3b8,#f1f3b9,#f1f3b9,#f1f3b9,#f1f3b9,#f1f4b9,#f1f4b9,#f1f4b9,#f1f3b9,#f1f3b9,#eff3b7,#edf2b5,#ecf1b4,#eaf0b2,#e9efb1,#e7eeaf,#ddeaa9,#cde2a0,#b7d894,#97ca86,#7abe7a,#66b773,#5bb36f,#57b16d,#57b16d,#5cb36f,#63b672,#6cb975,#76bd79,#81c17d,#8bc581,#96ca86,#a5d08c,#b5d793,#c3dd9a,#cde2a0,#d4e5a4,#d9e8a7,#deeaa9,#e2ecac,#e6eeae,#e8efb0,#ebf0b3,#ecf1b4,#eef2b6,#eef2b6,#eff2b7,#eff2b7,#eff2b7,#eff3b7,#eff3b7,#eff3b7,#eff3b7,#f0f3b8,#f0f3b8,#f0f3b8,#f0f3b8,#f0f3b8,#f0f3b8,#f0f3b8,#f1f3b9,#f1f3b9,#f1f3b9,#f1f3b9,#f1f4b9,#f1f4b9,#f1f4b9,#f1f3b9,#f1f3b9,#eff3b7,#eef2b6,#ecf1b4,#eaf0b2,#e9efb1,#e7eeaf)"></i><i style="top:1042.74px;height:5.03px;background:linear-gradient(90deg,#ecf1b4,#ebf1b3,#e8efb0,#dfeaaa,#cae19e,#aad38f,#83c27e,#60b470,#49aa66,#3fa15e,#399c5a,#389b59,#3c9e5c,#43a461,#4cac68,#5cb36f,#6db975,#7dc07c,#8ec682,#9ecd89,#b1d591,#c2dd9a,#cfe3a1,#d9e8a6,#e0ebaa,#e6eeae,#e9efb1,#ebf1b3,#eef2b6,#f0f3b8,#f2f4ba,#f3f4bb,#f3f5bb,#f3f5bb,#f4f5bc,#f4f5bc,#f4f5bc,#f4f5bc,#f4f5bc,#f4f5bc,#f5f5bd,#f5f5bd,#f5f6bd,#f5f6bd,#f5f6bd,#f6f6be,#f6f6be,#f6f6be,#f6f6be,#f6f6be,#f6f6be,#f7f6bf,#f7f6bf,#f7f6bf,#f7f6bf,#f7f6bf,#f4f5bc,#f2f4ba,#eff2b7,#ecf1b4,#ebf1b3,#e9efb1,#e0ebaa,#cce29f,#add490,#86c37f,#63b571,#4bab67,#40a15f,#399c5a,#389b59,#3c9e5c,#42a461,#4cac68,#5bb26e,#6cb975,#7cbf7b,#8cc682,#9dcd89,#afd591,#c1dd99,#cee3a0,#d8e7a6,#dfebaa,#e6eeae,#e8efb0,#ebf0b3,#edf2b5,#f0f3b8,#f2f4ba,#f3f4bb,#f3f5bb,#f3f5bb,#f4f5bc,#f4f5bc,#f4f5bc,#f4f5bc,#f4f5bc,#f4f5bc,#f5f5bd,#f5f5bd,#f5f5bd,#f5f6bd,#f5f6bd,#f6f6be,#f6f6be,#f6f6be,#f6f6be,#f6f6be,#f6f6be,#f7f6bf,#f7f6bf,#f7f6bf,#f7f6bf,#f7f6bf,#f4f5bc,#f2f4ba,#eff3b7,#edf1b5,#ebf1b3,#e9efb1)"></i><i style="top:1038.31px;height:5.03px;background:linear-gradient(90deg,#edf1b5,#ecf1b4,#e8efb0,#dce9a8,#c4de9b,#9ccd89,#70ba76,#4aaa66,#359857,#268b4b,#218447,#1f8146,#208347,#25894a,#2e9251,#3c9e5c,#4bac68,#62b571,#78be7a,#8ec783,#a5d08c,#bcda96,#cce29f,#d8e7a6,#e2ecac,#e8efb0,#ebf1b3,#eef2b6,#f0f3b8,#f3f4bb,#f4f5bc,#f5f6bd,#f5f6bd,#f6f6be,#f6f6be,#f6f6be,#f6f6be,#f6f6be,#f7f6bf,#f7f6bf,#f7f6bf,#f7f7bf,#f7f7bf,#f8f7c0,#f8f7c0,#f8f7c0,#f8f7c0,#f8f7c1,#f8f7c1,#f8f7c1,#f8f7c2,#f8f7c2,#f8f7c2,#f9f8c2,#f9f8c2,#f9f8c3,#f7f6bf,#f3f5bb,#f0f3b8,#edf1b5,#ecf1b4,#e9efb1,#ddeaa9,#c6df9c,#a0ce8a,#73bc78,#4cac68,#379a58,#278c4c,#218448,#1f8146,#208347,#24884a,#2d9151,#3b9d5b,#4aab67,#60b470,#76bd79,#8dc682,#a3cf8b,#bad995,#cbe19e,#d7e7a6,#e1ecab,#e8efb0,#ebf0b3,#eef2b6,#f0f3b8,#f2f4ba,#f4f5bc,#f5f6bd,#f5f6bd,#f6f6be,#f6f6be,#f6f6be,#f6f6be,#f6f6be,#f7f6bf,#f7f6bf,#f7f6bf,#f7f7bf,#f7f7bf,#f8f7c0,#f8f7c0,#f8f7c0,#f8f7c0,#f8f7c0,#f8f7c1,#f8f7c1,#f8f7c2,#f8f7c2,#f8f7c2,#f9f8c2,#f9f8c2,#f9f8c3,#f7f6bf,#f4f5bc,#f0f3b8,#edf2b5,#ecf1b4,#e9efb1)"></i><i style="top:1033.88px;height:5.03px;background:linear-gradient(90deg,#edf1b5,#ebf1b3,#e7efaf,#d8e7a6,#bcda96,#8dc682,#5bb26e,#359857,#208247,#15743f,#126c3b,#136939,#126a39,#116f3c,#187841,#218447,#2e9251,#40a25f,#56b06c,#71bb77,#8dc682,#aad28e,#c3dd9a,#d4e5a4,#e0ebab,#e8efb0,#ecf1b4,#eff3b7,#f2f4ba,#f4f5bc,#f6f6be,#f7f6bf,#f7f6bf,#f7f7bf,#f7f7bf,#f7f7bf,#f8f7c0,#f8f7c0,#f8f7c0,#f8f7c0,#f8f7c1,#f8f7c1,#f8f7c1,#f8f7c1,#f8f7c2,#f8f7c2,#f9f8c2,#f9f8c3,#f9f8c3,#f9f8c3,#f9f8c4,#f9f8c4,#f9f8c4,#f9f8c5,#f9f8c5,#f9f8c5,#f8f7c0,#f4f5bc,#f1f3b9,#edf1b5,#ebf1b3,#e8efb0,#d9e8a7,#bfdb97,#91c884,#5fb470,#389b59,#218448,#167540,#126d3b,#136939,#126939,#116e3c,#177740,#208347,#2d9150,#3fa15e,#54b06c,#6fba76,#8bc581,#a7d18d,#c2dd99,#d2e5a3,#dfebaa,#e8efb0,#ebf1b3,#eff2b7,#f2f4ba,#f4f5bc,#f6f6be,#f7f6bf,#f7f6bf,#f7f7bf,#f7f7bf,#f7f7bf,#f8f7c0,#f8f7c0,#f8f7c0,#f8f7c0,#f8f7c0,#f8f7c1,#f8f7c1,#f8f7c1,#f8f7c2,#f8f7c2,#f9f8c2,#f9f8c3,#f9f8c3,#f9f8c3,#f9f8c4,#f9f8c4,#f9f8c4,#f9f8c5,#f9f8c5,#f9f8c5,#f8f7c0,#f4f5bc,#f1f3b9,#edf2b5,#ebf1b3,#e8efb0)"></i><i style="top:1029.45px;height:5.03px;background:linear-gradient(90deg,#ecf1b4,#ebf0b3,#e6eeae,#d2e5a3,#b1d591,#7ec07c,#47a764,#218548,#126a3a,#165c33,#185530,#18532f,#18532f,#175630,#155e34,#126a3a,#187841,#24884a,#369957,#4aab67,#69b874,#8dc682,#b2d692,#cbe19f,#dce9a8,#e7eeaf,#ebf1b3,#eff3b7,#f3f4bb,#f5f6bd,#f7f7bf,#f8f7c0,#f8f7c0,#f8f7c0,#f8f7c1,#f8f7c1,#f8f7c1,#f8f7c2,#f8f7c2,#f8f7c2,#f9f8c2,#f9f8c3,#f9f8c3,#f9f8c3,#f9f8c3,#f9f8c4,#f9f8c4,#f9f8c4,#f9f8c5,#f9f8c5,#f9f8c5,#f9f8c5,#f9f8c6,#f9f8c6,#f9f8c6,#f9f8c7,#f8f7c1,#f5f5bd,#f1f3b9,#edf1b5,#ebf0b3,#e7eeaf,#d4e5a4,#b4d793,#82c17d,#4aaa67,#238749,#126c3b,#165d34,#175530,#18532f,#18532f,#175530,#155d34,#126939,#177740,#238649,#349756,#49a966,#67b773,#8bc581,#afd490,#c9e09e,#dae8a7,#e6eeae,#ebf0b3,#eff3b7,#f3f4bb,#f5f6bd,#f7f6bf,#f8f7c0,#f8f7c0,#f8f7c0,#f8f7c1,#f8f7c1,#f8f7c1,#f8f7c2,#f8f7c2,#f8f7c2,#f9f8c2,#f9f8c3,#f9f8c3,#f9f8c3,#f9f8c3,#f9f8c4,#f9f8c4,#f9f8c4,#f9f8c4,#f9f8c5,#f9f8c5,#f9f8c5,#f9f8c6,#f9f8c6,#f9f8c6,#f9f8c7,#f8f7c1,#f5f5bd,#f1f4b9,#edf1b5,#ebf0b3,#e7eeaf)"></i><i style="top:1025.02px;height:5.03px;background:linear-gradient(90deg,#ecf1b4,#eaf0b2,#e4edad,#cde2a0,#a4d08c,#6eba76,#399c5a,#177741,#165b33,#18532f,#18532f,#18532f,#18532f,#18532f,#18532f,#165a32,#136839,#177740,#238749,#359857,#4cac68,#74bc78,#9dcd89,#c0dc98,#d3e5a3,#e2ecac,#eaf0b2,#eff2b7,#f3f5bb,#f6f6be,#f8f7c0,#f8f7c1,#f8f7c1,#f8f7c2,#f8f7c2,#f8f7c2,#f9f8c2,#f9f8c3,#f9f8c3,#f9f8c3,#f9f8c3,#f9f8c4,#f9f8c4,#f9f8c4,#f9f8c4,#f9f8c5,#f9f8c5,#f9f8c5,#f9f8c5,#f9f8c6,#f9f8c6,#f9f8c6,#f9f8c6,#f9f8c7,#faf9c7,#faf9c7,#f8f7c1,#f5f5bd,#f1f3b9,#edf1b5,#eaf0b2,#e5edad,#cfe3a1,#a8d28e,#72bb77,#3c9f5c,#1a7a42,#155e34,#18532f,#18532f,#18532f,#18532f,#18532f,#18532f,#175932,#136738,#167640,#228648,#339755,#4aab67,#71bb77,#9acc88,#bedb97,#d2e4a2,#e1ecab,#e9f0b1,#eff2b7,#f3f4bb,#f6f6be,#f8f7c0,#f8f7c1,#f8f7c1,#f8f7c2,#f8f7c2,#f8f7c2,#f9f8c2,#f9f8c3,#f9f8c3,#f9f8c3,#f9f8c3,#f9f8c4,#f9f8c4,#f9f8c4,#f9f8c4,#f9f8c5,#f9f8c5,#f9f8c5,#f9f8c5,#f9f8c5,#f9f8c6,#f9f8c6,#f9f8c6,#f9f8c7,#faf9c7,#faf9c7,#f8f7c2,#f5f6bd,#f1f4b9,#edf1b5,#ebf0b3,#e6eeae)"></i><i style="top:1020.58px;height:5.03px;background:linear-gradient(90deg,#ecf1b4,#eaf0b2,#e2ecab,#c7df9c,#99cb87,#60b470,#319554,#15743f,#165b33,#18532f,#18532f,#18532f,#18532f,#18532f,#18532f,#175731,#146537,#14723e,#1e8146,#2b8f4f,#41a260,#62b571,#8cc581,#b0d591,#cae09e,#dbe9a8,#e8efb0,#eef2b6,#f3f4bb,#f6f6be,#f8f7c0,#f8f7c1,#f8f7c2,#f8f7c2,#f8f7c2,#f9f8c2,#f9f8c3,#f9f8c3,#f9f8c3,#f9f8c3,#f9f8c4,#f9f8c4,#f9f8c4,#f9f8c4,#f9f8c5,#f9f8c5,#f9f8c5,#f9f8c5,#f9f8c5,#f9f8c6,#f9f8c6,#f9f8c6,#f9f8c6,#faf9c7,#faf9c7,#faf9c8,#f8f7c2,#f5f6bd,#f1f4b9,#edf1b5,#eaf0b2,#e3ecac,#cae09e,#9dcd89,#64b672,#349856,#177740,#165d33,#18532f,#18532f,#18532f,#18532f,#18532f,#18532f,#175631,#146337,#13713d,#1e7f45,#298e4e,#3fa15e,#5fb470,#89c480,#add490,#c8e09d,#dae8a7,#e7efaf,#eef2b6,#f3f4bb,#f6f6be,#f8f7c0,#f8f7c1,#f8f7c2,#f8f7c2,#f8f7c2,#f9f8c2,#f9f8c3,#f9f8c3,#f9f8c3,#f9f8c3,#f9f8c4,#f9f8c4,#f9f8c4,#f9f8c4,#f9f8c4,#f9f8c5,#f9f8c5,#f9f8c5,#f9f8c5,#f9f8c6,#f9f8c6,#f9f8c6,#f9f8c6,#faf9c7,#faf9c7,#faf9c8,#f9f8c2,#f6f6be,#f1f4b9,#edf2b5,#eaf0b2,#e4edad)"></i><i style="top:1016.15px;height:5.03px;background:linear-gradient(90deg,#eef2b6,#eaf0b2,#dfebaa,#c3de9a,#94c985,#60b571,#399c5a,#208347,#11703c,#146437,#155e34,#165c33,#165c33,#155f34,#146437,#126c3b,#177640,#1f8146,#278c4c,#359856,#46a764,#64b672,#89c480,#aad38f,#c5de9b,#d8e7a6,#e7eeaf,#edf2b5,#f3f4bb,#f6f6be,#f8f7c0,#f8f7c1,#f8f7c2,#f8f7c2,#f8f7c2,#f9f8c2,#f9f8c3,#f9f8c3,#f9f8c3,#f9f8c3,#f9f8c4,#f9f8c4,#f9f8c4,#f9f8c4,#f9f8c5,#f9f8c5,#f9f8c5,#f9f8c5,#f9f8c5,#f9f8c6,#f9f8c6,#f9f8c6,#f9f8c7,#faf9c7,#faf9c8,#faf9c8,#f9f8c3,#f6f6be,#f2f4ba,#eef2b6,#eaf0b2,#e0ebab,#c6df9b,#98cb87,#65b672,#3c9e5c,#218548,#13713d,#136537,#155f34,#165c33,#165c33,#155e34,#146337,#126b3a,#167640,#1e8045,#268b4b,#339755,#44a663,#62b571,#86c37f,#a8d18d,#c3de9a,#d6e7a5,#e6eeae,#edf1b5,#f2f4ba,#f6f6be,#f8f7c0,#f8f7c1,#f8f7c2,#f8f7c2,#f8f7c2,#f9f8c2,#f9f8c3,#f9f8c3,#f9f8c3,#f9f8c3,#f9f8c4,#f9f8c4,#f9f8c4,#f9f8c4,#f9f8c5,#f9f8c5,#f9f8c5,#f9f8c5,#f9f8c5,#f9f8c6,#f9f8c6,#f9f8c6,#f9f8c7,#faf9c7,#faf9c8,#faf9c8,#f9f8c3,#f6f6be,#f2f4ba,#eef2b6,#ebf0b3,#e2ecab)"></i><i style="top:1011.72px;height:5.03px;background:linear-gradient(90deg,#f0f3b8,#ebf0b3,#deeaa9,#c3dd9a,#9acc88,#73bc78,#56b06c,#44a562,#389a59,#309453,#2b904f,#298e4e,#298e4e,#2b8f4f,#2f9352,#349856,#3b9e5c,#43a461,#4aaa66,#53af6b,#63b672,#7bbf7b,#96ca86,#b1d692,#c7df9c,#d8e8a6,#e7efaf,#edf2b5,#f3f4bb,#f6f6be,#f8f7c0,#f8f7c1,#f8f7c2,#f8f7c2,#f8f7c2,#f9f8c2,#f9f8c3,#f9f8c3,#f9f8c3,#f9f8c3,#f9f8c4,#f9f8c4,#f9f8c4,#f9f8c4,#f9f8c5,#f9f8c5,#f9f8c5,#f9f8c5,#f9f8c5,#f9f8c6,#f9f8c6,#f9f8c6,#f9f8c7,#faf9c7,#faf9c8,#faf9c8,#f9f8c4,#f7f6bf,#f4f5bc,#f0f3b8,#ebf1b3,#dfebaa,#c5de9b,#9dcd89,#76bd79,#58b16d,#45a663,#399b59,#309453,#2c9050,#298e4e,#298e4e,#2b8f4f,#2e9251,#349756,#3b9d5b,#42a361,#49aa66,#52af6b,#62b571,#79be7a,#94c985,#afd591,#c6df9b,#d7e7a5,#e6eeae,#edf1b5,#f2f4ba,#f6f6be,#f8f7c0,#f8f7c1,#f8f7c2,#f8f7c2,#f8f7c2,#f9f8c2,#f9f8c3,#f9f8c3,#f9f8c3,#f9f8c3,#f9f8c4,#f9f8c4,#f9f8c4,#f9f8c4,#f9f8c5,#f9f8c5,#f9f8c5,#f9f8c5,#f9f8c5,#f9f8c6,#f9f8c6,#f9f8c6,#f9f8c7,#faf9c7,#faf9c8,#faf9c8,#f9f8c4,#f7f7bf,#f4f5bc,#f0f3b8,#ebf1b3,#e1ecab)"></i><i style="top:1007.29px;height:5.03px;background:linear-gradient(90deg,#f2f4ba,#edf1b5,#e4edad,#cee3a0,#b3d692,#97ca86,#87c480,#7fc07c,#7abe7a,#76bd79,#73bc78,#71bb77,#71bb77,#72bb77,#74bc78,#77bd79,#7bbf7b,#7fc07c,#83c27e,#87c480,#8fc783,#9dcd89,#aed490,#c0dc98,#cee2a0,#dce9a9,#e8efb0,#eef2b6,#f3f4bb,#f6f6be,#f8f7c0,#f8f7c1,#f8f7c2,#f8f7c2,#f8f7c2,#f9f8c2,#f9f8c3,#f9f8c3,#f9f8c3,#f9f8c3,#f9f8c4,#f9f8c4,#f9f8c4,#f9f8c4,#f9f8c5,#f9f8c5,#f9f8c5,#f9f8c5,#f9f8c5,#f9f8c6,#f9f8c6,#f9f8c6,#f9f8c7,#faf9c7,#faf9c8,#faf9c8,#f9f8c4,#f8f7c0,#f5f6bd,#f2f4ba,#edf2b5,#e6eeae,#d0e4a1,#b5d793,#99cb87,#89c480,#80c17d,#7abe7a,#76bd79,#73bc78,#71bb77,#71bb77,#72bb77,#74bc78,#77bd79,#7bbf7b,#7fc07c,#83c27e,#87c37f,#8fc783,#9ccc88,#add490,#bfdb97,#cce29f,#dbe9a8,#e8efb0,#eef2b6,#f2f4ba,#f6f6be,#f8f7c0,#f8f7c1,#f8f7c2,#f8f7c2,#f8f7c2,#f9f8c2,#f9f8c3,#f9f8c3,#f9f8c3,#f9f8c3,#f9f8c4,#f9f8c4,#f9f8c4,#f9f8c4,#f9f8c5,#f9f8c5,#f9f8c5,#f9f8c5,#f9f8c5,#f9f8c6,#f9f8c6,#f9f8c6,#f9f8c7,#faf9c7,#faf9c8,#faf9c8,#f9f8c5,#f8f7c0,#f5f6bd,#f2f4ba,#eef2b6,#e7eeaf)"></i><i style="top:1002.86px;height:5.03px;background:linear-gradient(90deg,#f4f5bc,#f1f3b9,#ecf1b4,#e4edad,#d3e5a3,#c5df9b,#bfdb97,#bcda96,#bad995,#b9d995,#b7d894,#b7d894,#b7d894,#b7d894,#b8d894,#b9d995,#bad995,#bcda96,#bddb97,#bfdb97,#c1dc99,#c5de9b,#cae19e,#d0e4a1,#d8e8a6,#e4edad,#ebf0b3,#f0f3b8,#f3f5bb,#f6f6be,#f8f7c0,#f8f7c1,#f8f7c2,#f8f7c2,#f8f7c2,#f9f8c2,#f9f8c3,#f9f8c3,#f9f8c3,#f9f8c3,#f9f8c4,#f9f8c4,#f9f8c4,#f9f8c4,#f9f8c4,#f9f8c5,#f9f8c5,#f9f8c5,#f9f8c5,#f9f8c6,#f9f8c6,#f9f8c6,#f9f8c6,#faf9c7,#faf9c8,#faf9c8,#f9f8c5,#f8f7c1,#f7f6bf,#f4f5bc,#f1f3b9,#ecf1b4,#e5eeae,#d5e6a4,#c6df9c,#bfdc98,#bcda96,#bad995,#b9d995,#b8d894,#b7d894,#b7d894,#b7d894,#b7d894,#b9d995,#bad995,#bcda96,#bddb97,#bfdb97,#c1dc99,#c5de9b,#cae19e,#d0e3a1,#d8e7a6,#e3edac,#eaf0b2,#eff3b7,#f3f4bb,#f6f6be,#f8f7c0,#f8f7c1,#f8f7c2,#f8f7c2,#f8f7c2,#f9f8c2,#f9f8c3,#f9f8c3,#f9f8c3,#f9f8c3,#f9f8c4,#f9f8c4,#f9f8c4,#f9f8c4,#f9f8c4,#f9f8c5,#f9f8c5,#f9f8c5,#f9f8c5,#f9f8c6,#f9f8c6,#f9f8c6,#f9f8c6,#faf9c7,#faf9c8,#faf9c8,#f9f8c5,#f8f7c2,#f7f6bf,#f4f5bc,#f1f4b9,#ecf1b4)"></i><i style="top:998.42px;height:5.03px;background:linear-gradient(90deg,#f6f6be,#f4f5bc,#f1f4b9,#eef2b6,#e9f0b1,#e4edad,#e0ebab,#dfebaa,#deeaaa,#deeaa9,#deeaa9,#ddeaa9,#ddeaa9,#ddeaa9,#deeaa9,#deeaa9,#deeaaa,#dfebaa,#dfebaa,#e0ebaa,#e0ebab,#e1ecab,#e3ecac,#e4edad,#e7efaf,#ebf0b3,#eff2b7,#f2f4ba,#f5f5bd,#f7f6bf,#f8f7c0,#f8f7c1,#f8f7c2,#f8f7c2,#f8f7c2,#f8f7c2,#f9f8c2,#f9f8c3,#f9f8c3,#f9f8c3,#f9f8c3,#f9f8c3,#f9f8c4,#f9f8c4,#f9f8c4,#f9f8c4,#f9f8c4,#f9f8c5,#f9f8c5,#f9f8c5,#f9f8c5,#f9f8c6,#f9f8c6,#f9f8c6,#faf9c7,#faf9c8,#f9f8c6,#f9f8c3,#f8f7c0,#f6f6be,#f4f5bc,#f2f4ba,#eef2b6,#eaf0b2,#e5edad,#e0ebab,#dfebaa,#deeaaa,#deeaa9,#deeaa9,#ddeaa9,#ddeaa9,#ddeaa9,#deeaa9,#deeaa9,#deeaaa,#dfebaa,#dfebaa,#e0ebaa,#e0ebab,#e1ecab,#e2ecac,#e4edad,#e7efaf,#ebf0b3,#eff2b7,#f2f4ba,#f4f5bc,#f6f6be,#f8f7c0,#f8f7c1,#f8f7c2,#f8f7c2,#f8f7c2,#f8f7c2,#f9f8c2,#f9f8c3,#f9f8c3,#f9f8c3,#f9f8c3,#f9f8c3,#f9f8c4,#f9f8c4,#f9f8c4,#f9f8c4,#f9f8c4,#f9f8c5,#f9f8c5,#f9f8c5,#f9f8c5,#f9f8c6,#f9f8c6,#f9f8c6,#faf9c7,#faf9c8,#f9f8c6,#f9f8c3,#f8f7c0,#f6f6be,#f4f5bc,#f2f4ba)"></i><i style="top:993.99px;height:5.03px;background:linear-gradient(90deg,#f3f5bb,#f2f4ba,#f1f4b9,#f0f3b8,#eef2b6,#ecf1b4,#ebf1b3,#ebf0b3,#ebf0b3,#ebf0b3,#ebf0b3,#ebf0b3,#ebf0b3,#ebf0b3,#ebf0b3,#ebf0b3,#ebf0b3,#ebf0b3,#ebf1b3,#ebf1b3,#ebf1b3,#ebf1b3,#ebf1b3,#ecf1b4,#ecf1b4,#eef2b6,#f0f3b8,#f1f4b9,#f2f4ba,#f3f5bb,#f4f5bc,#f4f5bc,#f5f5bd,#f5f5bd,#f5f5bd,#f5f5bd,#f5f5bd,#f5f5bd,#f5f5bd,#f5f6bd,#f5f6bd,#f5f6bd,#f5f6bd,#f5f6bd,#f6f6be,#f6f6be,#f6f6be,#f6f6be,#f6f6be,#f6f6be,#f6f6be,#f6f6be,#f6f6be,#f7f6bf,#f7f7bf,#f8f7c0,#f7f7bf,#f6f6be,#f5f5bd,#f3f5bb,#f2f4ba,#f1f4b9,#f0f3b8,#eef2b6,#ecf1b4,#ebf1b3,#ebf1b3,#ebf0b3,#ebf0b3,#ebf0b3,#ebf0b3,#ebf0b3,#ebf0b3,#ebf0b3,#ebf0b3,#ebf0b3,#ebf0b3,#ebf1b3,#ebf1b3,#ebf1b3,#ebf1b3,#ebf1b3,#ecf1b4,#ecf1b4,#eef2b6,#f0f3b8,#f1f4b9,#f2f4ba,#f3f5bb,#f4f5bc,#f4f5bc,#f5f5bd,#f5f5bd,#f5f5bd,#f5f5bd,#f5f5bd,#f5f5bd,#f5f5bd,#f5f6bd,#f5f6bd,#f5f6bd,#f5f6bd,#f5f6bd,#f6f6be,#f6f6be,#f6f6be,#f6f6be,#f6f6be,#f6f6be,#f6f6be,#f6f6be,#f6f6be,#f7f6bf,#f7f7bf,#f8f7c0,#f7f7bf,#f6f6be,#f5f5bd,#f3f5bb,#f2f4ba,#f1f4b9)"></i><i style="top:989.56px;height:5.03px;background:linear-gradient(90deg,#f4f5bc,#f4f5bc,#f4f5bc,#f3f5bb,#f3f4bb,#f2f4ba,#f2f4ba,#f2f4ba,#f2f4ba,#f2f4ba,#f2f4ba,#f2f4ba,#f2f4ba,#f2f4ba,#f2f4ba,#f2f4ba,#f2f4ba,#f2f4ba,#f2f4ba,#f2f4ba,#f2f4ba,#f2f4ba,#f2f4ba,#f2f4ba,#f2f4ba,#f3f4bb,#f3f5bb,#f3f5bb,#f4f5bc,#f4f5bc,#f4f5bc,#f4f5bc,#f4f5bc,#f4f5bc,#f4f5bc,#f4f5bc,#f4f5bc,#f4f5bc,#f4f5bc,#f4f5bc,#f4f5bc,#f4f5bc,#f4f5bc,#f4f5bc,#f4f5bc,#f4f5bc,#f4f5bc,#f4f5bc,#f4f5bc,#f5f5bd,#f5f5bd,#f5f6bd,#f6f6be,#f6f6be,#f7f6bf,#f7f7bf,#f7f6bf,#f6f6be,#f5f6bd,#f4f5bc,#f4f5bc,#f4f5bc,#f3f5bb,#f3f4bb,#f2f4ba,#f2f4ba,#f2f4ba,#f2f4ba,#f2f4ba,#f2f4ba,#f2f4ba,#f2f4ba,#f2f4ba,#f2f4ba,#f2f4ba,#f2f4ba,#f2f4ba,#f2f4ba,#f2f4ba,#f2f4ba,#f2f4ba,#f2f4ba,#f2f4ba,#f2f4ba,#f3f4bb,#f3f5bb,#f3f5bb,#f4f5bc,#f4f5bc,#f4f5bc,#f4f5bc,#f4f5bc,#f4f5bc,#f4f5bc,#f4f5bc,#f4f5bc,#f4f5bc,#f4f5bc,#f4f5bc,#f4f5bc,#f4f5bc,#f4f5bc,#f4f5bc,#f4f5bc,#f4f5bc,#f4f5bc,#f4f5bc,#f4f5bc,#f5f5bd,#f5f5bd,#f5f6bd,#f5f6bd,#f6f6be,#f7f6bf,#f7f7bf,#f7f6bf,#f6f6be,#f5f6bd,#f4f5bc,#f4f5bc,#f4f5bc)"></i><i style="top:985.13px;height:5.03px;background:linear-gradient(90deg,#f4f5bc,#f4f5bc,#f4f5bc,#f4f5bc,#f4f5bc,#f4f5bc,#f4f5bc,#f4f5bc,#f4f5bc,#f4f5bc,#f4f5bc,#f4f5bc,#f4f5bc,#f4f5bc,#f4f5bc,#f4f5bc,#f4f5bc,#f4f5bc,#f4f5bc,#f4f5bc,#f4f5bc,#f4f5bc,#f4f5bc,#f4f5bc,#f4f5bc,#f4f5bc,#f4f5bc,#f4f5bc,#f4f5bc,#f4f5bc,#f4f5bc,#f4f5bc,#f3f5bb,#f3f4bb,#f2f4ba,#f1f3b9,#f0f3b8,#f0f3b8,#f0f3b8,#f0f3b8,#f0f3b8,#f0f3b8,#f0f3b8,#f0f3b8,#f0f3b8,#f0f3b8,#f0f3b8,#f0f3b8,#f0f3b8,#f0f3b8,#f1f3b9,#f2f4ba,#f3f5bb,#f5f5bd,#f6f6be,#f6f6be,#f6f6be,#f6f6be,#f5f6bd,#f4f5bc,#f4f5bc,#f4f5bc,#f4f5bc,#f4f5bc,#f4f5bc,#f4f5bc,#f4f5bc,#f4f5bc,#f4f5bc,#f4f5bc,#f4f5bc,#f4f5bc,#f4f5bc,#f4f5bc,#f4f5bc,#f4f5bc,#f4f5bc,#f4f5bc,#f4f5bc,#f4f5bc,#f4f5bc,#f4f5bc,#f4f5bc,#f4f5bc,#f4f5bc,#f4f5bc,#f4f5bc,#f4f5bc,#f4f5bc,#f4f5bc,#f4f5bc,#f3f5bb,#f3f4bb,#f2f4ba,#f1f3b9,#f0f3b8,#f0f3b8,#f0f3b8,#f0f3b8,#f0f3b8,#f0f3b8,#f0f3b8,#f0f3b8,#f0f3b8,#f0f3b8,#f0f3b8,#f0f3b8,#f0f3b8,#f0f3b8,#f1f3b9,#f2f4ba,#f3f5bb,#f5f5bd,#f5f6bd,#f6f6be,#f6f6be,#f6f6be,#f5f6bd,#f5f5bd,#f4f5bc,#f4f5bc)"></i><i style="top:980.7px;height:5.03px;background:linear-gradient(90deg,#f4f5bc,#f4f5bc,#f4f5bc,#f4f5bc,#f4f5bc,#f4f5bc,#f4f5bc,#f4f5bc,#f4f5bc,#f4f5bc,#f4f5bc,#f4f5bc,#f4f5bc,#f4f5bc,#f4f5bc,#f3f5bb,#f3f5bb,#f3f5bb,#f3f5bb,#f3f5bb,#f3f5bb,#f3f5bb,#f3f5bb,#f3f5bb,#f3f4bb,#f3f4bb,#f3f4bb,#f3f4bb,#f3f4bb,#f3f4bb,#f3f4bb,#f2f4ba,#f2f4ba,#f0f3b8,#eef2b6,#ecf1b4,#eaf0b2,#eaf0b2,#e9f0b1,#eaf0b2,#eaf0b2,#eaf0b2,#eaf0b2,#eaf0b2,#eaf0b2,#eaf0b2,#eaf0b2,#eaf0b2,#eaf0b2,#eaf0b2,#ebf0b3,#edf2b5,#f0f3b8,#f2f4ba,#f4f5bc,#f4f5bc,#f5f5bd,#f5f6bd,#f5f5bd,#f4f5bc,#f4f5bc,#f4f5bc,#f4f5bc,#f4f5bc,#f4f5bc,#f4f5bc,#f4f5bc,#f4f5bc,#f4f5bc,#f4f5bc,#f4f5bc,#f4f5bc,#f4f5bc,#f4f5bc,#f3f5bb,#f3f5bb,#f3f5bb,#f3f5bb,#f3f5bb,#f3f5bb,#f3f5bb,#f3f5bb,#f3f5bb,#f3f4bb,#f3f4bb,#f3f4bb,#f3f4bb,#f3f4bb,#f3f4bb,#f3f4bb,#f2f4ba,#f2f4ba,#f0f3b8,#eef2b6,#ecf1b4,#eaf0b2,#eaf0b2,#eaf0b2,#eaf0b2,#eaf0b2,#eaf0b2,#eaf0b2,#eaf0b2,#eaf0b2,#eaf0b2,#eaf0b2,#eaf0b2,#eaf0b2,#eaf0b2,#ebf0b3,#edf2b5,#f0f3b8,#f2f4ba,#f4f5bc,#f4f5bc,#f5f5bd,#f5f6bd,#f5f5bd,#f4f5bc,#f4f5bc,#f4f5bc)"></i><i style="top:976.26px;height:5.03px;background:linear-gradient(90deg,#f4f5bc,#f4f5bc,#f4f5bc,#f4f5bc,#f4f5bc,#f4f5bc,#f4f5bc,#f4f5bc,#f4f5bc,#f3f5bb,#f3f5bb,#f3f5bb,#f3f5bb,#f3f5bb,#f3f4bb,#f3f4bb,#f3f4bb,#f3f4bb,#f3f4bb,#f3f4bb,#f3f4bb,#f3f4bb,#f2f4ba,#f2f4ba,#f2f4ba,#f2f4ba,#f2f4ba,#f2f4ba,#f2f4ba,#f2f4ba,#f2f4ba,#f2f4ba,#f1f3b9,#eef2b6,#ecf1b4,#e9efb1,#e7eeaf,#e5eead,#e5edad,#e5edad,#e5edad,#e5edad,#e5edad,#e5edad,#e5edad,#e5edad,#e5eead,#e5eeae,#e5eeae,#e6eeae,#e7efaf,#eaf0b2,#eef2b6,#f1f4b9,#f3f4bb,#f3f5bb,#f4f5bc,#f4f5bc,#f5f5bd,#f4f5bc,#f4f5bc,#f4f5bc,#f4f5bc,#f4f5bc,#f4f5bc,#f4f5bc,#f4f5bc,#f4f5bc,#f3f5bb,#f3f5bb,#f3f5bb,#f3f5bb,#f3f5bb,#f3f4bb,#f3f4bb,#f3f4bb,#f3f4bb,#f3f4bb,#f3f4bb,#f3f4bb,#f3f4bb,#f2f4ba,#f2f4ba,#f2f4ba,#f2f4ba,#f2f4ba,#f2f4ba,#f2f4ba,#f2f4ba,#f2f4ba,#f2f4ba,#f1f3b9,#eff2b7,#ecf1b4,#e9efb1,#e7eeaf,#e5eeae,#e5edad,#e5edad,#e5edad,#e5edad,#e5edad,#e5edad,#e5edad,#e5edad,#e5eead,#e5eeae,#e5eeae,#e6eeae,#e7efaf,#eaf0b2,#eef2b6,#f1f3b9,#f3f4bb,#f3f5bb,#f4f5bc,#f4f5bc,#f5f5bd,#f4f5bc,#f4f5bc,#f4f5bc)"></i><i style="top:971.83px;height:5.03px;background:linear-gradient(90deg,#f4f5bc,#f4f5bc,#f4f5bc,#f4f5bc,#f4f5bc,#f3f5bb,#f3f5bb,#f3f5bb,#f3f4bb,#f2f4ba,#f2f4ba,#f2f4ba,#f2f4ba,#f2f4ba,#f2f4ba,#f2f4ba,#f2f4ba,#f2f4ba,#f1f4b9,#f1f4b9,#f1f4b9,#f2f4ba,#f2f4ba,#f2f4ba,#f2f4ba,#f2f4ba,#f2f4ba,#f2f4ba,#f1f4b9,#f1f4b9,#f1f4b9,#f1f3b9,#f0f3b8,#eef2b6,#ebf0b3,#e8efb0,#e5eeae,#e3edac,#e3ecac,#e3ecac,#e3ecac,#e3ecac,#e3ecac,#e3ecac,#e3edac,#e3edac,#e4edad,#e4edad,#e5edad,#e5eeae,#e7efaf,#eaf0b2,#eef2b6,#f1f3b9,#f2f4ba,#f3f5bb,#f4f5bc,#f4f5bc,#f4f5bc,#f4f5bc,#f4f5bc,#f4f5bc,#f4f5bc,#f4f5bc,#f3f5bb,#f3f5bb,#f3f5bb,#f3f4bb,#f2f4ba,#f2f4ba,#f2f4ba,#f2f4ba,#f2f4ba,#f2f4ba,#f2f4ba,#f2f4ba,#f2f4ba,#f1f4b9,#f1f4b9,#f1f4b9,#f2f4ba,#f2f4ba,#f2f4ba,#f2f4ba,#f2f4ba,#f2f4ba,#f2f4ba,#f1f4b9,#f1f4b9,#f1f4b9,#f1f3b9,#f0f3b8,#eef2b6,#ebf0b3,#e8efb0,#e6eeae,#e3edac,#e3ecac,#e3ecac,#e3ecac,#e3ecac,#e3ecac,#e3ecac,#e3edac,#e3edac,#e4edad,#e4edad,#e5edad,#e5eeae,#e7eeaf,#eaf0b2,#eef2b6,#f1f3b9,#f2f4ba,#f3f5bb,#f4f5bc,#f4f5bc,#f4f5bc,#f4f5bc,#f4f5bc,#f4f5bc)"></i><i style="top:967.4px;height:5.03px;background:linear-gradient(90deg,#f3f4bb,#f3f4bb,#f3f4bb,#f3f4bb,#f2f4ba,#f2f4ba,#f2f4ba,#f1f4b9,#f1f3b9,#f0f3b8,#eff3b7,#eff3b7,#eff2b7,#eff2b7,#eff2b7,#eff2b7,#eff2b7,#eff2b7,#eff2b7,#eff2b7,#eff2b7,#eff3b7,#f0f3b8,#f1f3b9,#f1f4b9,#f1f4b9,#f1f3b9,#f1f3b9,#f0f3b8,#f0f3b8,#f0f3b8,#f0f3b8,#eff2b7,#edf2b5,#ebf0b3,#e9efb1,#e7eeaf,#e6eeae,#e6eeae,#e6eeae,#e6eeae,#e6eeae,#e6eeae,#e6eeae,#e6eeae,#e7eeaf,#e7efaf,#e8efb0,#e9efb1,#e9f0b1,#eaf0b2,#ecf1b4,#eff3b7,#f2f4ba,#f3f4bb,#f3f5bb,#f4f5bc,#f4f5bc,#f3f5bb,#f3f4bb,#f3f4bb,#f3f4bb,#f3f4bb,#f2f4ba,#f2f4ba,#f2f4ba,#f1f4b9,#f1f3b9,#f0f3b8,#eff3b7,#eff3b7,#eff2b7,#eff2b7,#eff2b7,#eff2b7,#eff2b7,#eff2b7,#eff2b7,#eff2b7,#eff2b7,#eff3b7,#f0f3b8,#f1f3b9,#f1f4b9,#f1f4b9,#f1f3b9,#f1f3b9,#f0f3b8,#f0f3b8,#f0f3b8,#f0f3b8,#eff2b7,#edf2b5,#ebf1b3,#e9efb1,#e7efaf,#e6eeae,#e6eeae,#e6eeae,#e6eeae,#e6eeae,#e6eeae,#e6eeae,#e6eeae,#e7eeaf,#e7efaf,#e8efb0,#e9efb1,#e9f0b1,#eaf0b2,#ecf1b4,#eff3b7,#f1f4b9,#f3f4bb,#f3f5bb,#f4f5bc,#f4f5bc,#f3f5bb,#f3f5bb,#f3f4bb,#f3f4bb)"></i><i style="top:962.97px;height:5.03px;background:linear-gradient(90deg,#f1f4b9,#f1f4b9,#f1f4b9,#f1f3b9,#f1f3b9,#f0f3b8,#f0f3b8,#eff2b7,#edf2b5,#ecf1b4,#ebf1b3,#ebf0b3,#eaf0b2,#eaf0b2,#eaf0b2,#eaf0b2,#eaf0b2,#eaf0b2,#eaf0b2,#eaf0b2,#ebf0b3,#ecf1b4,#edf2b5,#eff3b7,#f0f3b8,#f0f3b8,#f0f3b8,#eff3b7,#eff2b7,#eef2b6,#eef2b6,#eef2b6,#edf2b5,#ecf1b4,#ebf1b3,#eaf0b2,#e9f0b1,#e9efb1,#e9efb1,#e9efb1,#e9efb1,#e9efb1,#e9efb1,#e9f0b1,#e9f0b1,#eaf0b2,#ecf1b4,#edf2b5,#eef2b6,#eff2b7,#eff3b7,#f0f3b8,#f2f4ba,#f3f5bb,#f4f5bc,#f4f5bc,#f3f5bb,#f3f4bb,#f2f4ba,#f2f4ba,#f1f4b9,#f1f4b9,#f1f3b9,#f1f3b9,#f1f3b9,#f0f3b8,#eff2b7,#eef2b6,#ecf1b4,#ebf1b3,#ebf0b3,#eaf0b2,#eaf0b2,#eaf0b2,#eaf0b2,#eaf0b2,#eaf0b2,#eaf0b2,#eaf0b2,#ebf0b3,#ecf1b4,#edf2b5,#eff2b7,#f0f3b8,#f0f3b8,#f0f3b8,#eff3b7,#eff2b7,#eef2b6,#eef2b6,#eef2b6,#edf2b5,#ecf1b4,#ebf1b3,#eaf0b2,#e9f0b1,#e9f0b1,#e9efb1,#e9efb1,#e9efb1,#e9efb1,#e9efb1,#e9f0b1,#e9f0b1,#eaf0b2,#ecf1b4,#edf2b5,#eef2b6,#eff2b7,#eff3b7,#f0f3b8,#f2f4ba,#f3f4bb,#f4f5bc,#f4f5bc,#f4f5bc,#f3f4bb,#f2f4ba,#f2f4ba,#f1f4b9,#f1f4b9)"></i><i style="top:958.54px;height:5.03px;background:linear-gradient(90deg,#f1f3b9,#f0f3b8,#f0f3b8,#f0f3b8,#f0f3b8,#eff3b7,#eff2b7,#edf2b5,#ecf1b4,#eaf0b2,#e9efb1,#e8efb0,#e8efb0,#e8efb0,#e8efb0,#e8efb0,#e8efb0,#e8efb0,#e8efb0,#e8efb0,#e9efb1,#eaf0b2,#ecf1b4,#eef2b6,#eff3b7,#eff3b7,#eff2b7,#eef2b6,#eef2b6,#edf2b5,#edf1b5,#ecf1b4,#ecf1b4,#ecf1b4,#ecf1b4,#ebf1b3,#ebf0b3,#ebf0b3,#ebf0b3,#ebf0b3,#ebf0b3,#ebf0b3,#ebf0b3,#ebf0b3,#ecf1b4,#edf1b5,#eff2b7,#f1f3b9,#f2f4ba,#f2f4ba,#f3f4bb,#f3f5bb,#f4f5bc,#f4f5bc,#f4f5bc,#f4f5bc,#f3f5bb,#f3f4bb,#f2f4ba,#f1f3b9,#f0f3b8,#f0f3b8,#f0f3b8,#f0f3b8,#eff3b7,#eff2b7,#edf2b5,#ecf1b4,#eaf0b2,#e9efb1,#e8efb0,#e8efb0,#e8efb0,#e8efb0,#e8efb0,#e8efb0,#e8efb0,#e8efb0,#e8efb0,#e8efb0,#eaf0b2,#ecf1b4,#eef2b6,#eff3b7,#eff3b7,#eff2b7,#eef2b6,#eef2b6,#edf2b5,#edf1b5,#ecf1b4,#ecf1b4,#ecf1b4,#ecf1b4,#ebf1b3,#ebf0b3,#ebf0b3,#ebf0b3,#ebf0b3,#ebf0b3,#ebf0b3,#ebf0b3,#ebf0b3,#ecf1b4,#edf1b5,#eff2b7,#f0f3b8,#f2f4ba,#f2f4ba,#f3f4bb,#f3f5bb,#f4f5bc,#f4f5bc,#f4f5bc,#f4f5bc,#f3f5bb,#f3f4bb,#f2f4ba,#f1f3b9,#f0f3b8,#f0f3b8)"></i><i style="top:954.1px;height:5.03px;background:linear-gradient(90deg,#f0f3b8,#f0f3b8,#f0f3b8,#f0f3b8,#f0f3b8,#eff3b7,#eff2b7,#edf2b5,#ecf1b4,#eaf0b2,#e9efb1,#e8efb0,#e8efb0,#e8efb0,#e8efb0,#e8efb0,#e8efb0,#e8efb0,#e8efb0,#e8efb0,#e9efb1,#eaf0b2,#ecf1b4,#eef2b6,#eff2b7,#eff3b7,#eff2b7,#eef2b6,#edf2b5,#ecf1b4,#ecf1b4,#ecf1b4,#ecf1b4,#ecf1b4,#ecf1b4,#ecf1b4,#ebf1b3,#ebf1b3,#ebf1b3,#ebf1b3,#ebf1b3,#ecf1b4,#ecf1b4,#ecf1b4,#ecf1b4,#eef2b6,#f0f3b8,#f2f4ba,#f3f5bb,#f4f5bc,#f4f5bc,#f4f5bc,#f4f5bc,#f4f5bc,#f4f5bc,#f4f5bc,#f3f5bb,#f2f4ba,#f2f4ba,#f1f3b9,#f0f3b8,#f0f3b8,#f0f3b8,#f0f3b8,#f0f3b8,#eff2b7,#eef2b6,#ecf1b4,#eaf0b2,#e9efb1,#e8efb0,#e8efb0,#e8efb0,#e8efb0,#e8efb0,#e8efb0,#e8efb0,#e8efb0,#e8efb0,#e9efb1,#eaf0b2,#ecf1b4,#eef2b6,#eff2b7,#eff3b7,#eff2b7,#eef2b6,#edf2b5,#edf1b5,#ecf1b4,#ecf1b4,#ecf1b4,#ecf1b4,#ecf1b4,#ecf1b4,#ebf1b3,#ebf1b3,#ebf1b3,#ebf1b3,#ebf1b3,#ecf1b4,#ecf1b4,#ecf1b4,#ecf1b4,#eef2b6,#f0f3b8,#f1f4b9,#f3f4bb,#f4f5bc,#f4f5bc,#f4f5bc,#f4f5bc,#f4f5bc,#f4f5bc,#f4f5bc,#f4f5bc,#f3f4bb,#f2f4ba,#f1f3b9,#f0f3b8,#f0f3b8)"></i><i style="top:949.67px;height:5.03px;background:linear-gradient(90deg,#f1f4b9,#f1f3b9,#f1f3b9,#f1f3b9,#f1f3b9,#f0f3b8,#f0f3b8,#eff3b7,#eef2b6,#edf1b5,#ecf1b4,#ebf1b3,#ebf1b3,#ebf1b3,#ebf1b3,#ebf1b3,#ecf1b4,#ecf1b4,#ecf1b4,#ecf1b4,#ecf1b4,#edf1b5,#eef2b6,#eef2b6,#eff2b7,#eff2b7,#eef2b6,#edf2b5,#edf1b5,#ecf1b4,#ebf1b3,#ebf1b3,#ebf1b3,#ebf1b3,#ebf1b3,#ebf1b3,#ebf1b3,#ebf1b3,#ebf1b3,#ebf1b3,#ebf1b3,#ebf1b3,#ecf1b4,#ecf1b4,#ecf1b4,#eef2b6,#f0f3b8,#f1f4b9,#f3f4bb,#f4f5bc,#f4f5bc,#f4f5bc,#f4f5bc,#f4f5bc,#f4f5bc,#f4f5bc,#f3f5bb,#f3f4bb,#f2f4ba,#f1f4b9,#f1f3b9,#f1f3b9,#f1f3b9,#f1f3b9,#f0f3b8,#f0f3b8,#eff3b7,#eef2b6,#edf1b5,#ecf1b4,#ebf1b3,#ebf1b3,#ebf1b3,#ebf1b3,#ebf1b3,#ecf1b4,#ecf1b4,#ecf1b4,#ecf1b4,#ecf1b4,#edf1b5,#edf2b5,#eef2b6,#eff2b7,#eff2b7,#eef2b6,#edf2b5,#edf1b5,#ecf1b4,#ebf1b3,#ebf1b3,#ebf1b3,#ebf1b3,#ebf1b3,#ebf1b3,#ebf1b3,#ebf1b3,#ebf1b3,#ebf1b3,#ebf1b3,#ebf1b3,#ecf1b4,#ecf1b4,#ecf1b4,#eef2b6,#eff3b7,#f1f4b9,#f3f4bb,#f3f5bb,#f4f5bc,#f4f5bc,#f4f5bc,#f4f5bc,#f4f5bc,#f4f5bc,#f3f5bb,#f3f4bb,#f2f4ba,#f1f4b9,#f1f3b9,#f1f3b9)"></i><i style="top:945.24px;height:5.03px;background:linear-gradient(90deg,#f1f3b9,#f1f3b9,#f1f3b9,#f1f3b9,#f1f3b9,#f1f4b9,#f1f4b9,#f1f4b9,#f1f3b9,#f1f3b9,#f0f3b8,#f0f3b8,#f0f3b8,#f0f3b8,#f0f3b8,#f0f3b8,#f0f3b8,#f0f3b8,#f0f3b8,#f0f3b8,#f0f3b8,#f0f3b8,#eff3b7,#eff2b7,#eef2b6,#edf2b5,#ecf1b4,#ecf1b4,#ebf0b3,#eaf0b2,#eaf0b2,#e9f0b1,#e9f0b1,#e9f0b1,#e9f0b1,#eaf0b2,#eaf0b2,#eaf0b2,#eaf0b2,#eaf0b2,#eaf0b2,#eaf0b2,#eaf0b2,#eaf0b2,#ebf0b3,#ecf1b4,#eef2b6,#eff3b7,#f1f3b9,#f1f4b9,#f2f4ba,#f2f4ba,#f2f4ba,#f2f4ba,#f2f4ba,#f2f4ba,#f2f4ba,#f2f4ba,#f1f4b9,#f1f3b9,#f1f3b9,#f1f3b9,#f1f3b9,#f1f3b9,#f1f4b9,#f1f4b9,#f1f4b9,#f1f3b9,#f1f3b9,#f0f3b8,#f0f3b8,#f0f3b8,#f0f3b8,#f0f3b8,#f0f3b8,#f0f3b8,#f0f3b8,#f0f3b8,#f0f3b8,#f0f3b8,#f0f3b8,#eff3b7,#eff2b7,#eef2b6,#edf2b5,#ecf1b4,#ecf1b4,#ebf0b3,#eaf0b2,#eaf0b2,#e9f0b1,#e9f0b1,#e9f0b1,#e9f0b1,#eaf0b2,#eaf0b2,#eaf0b2,#eaf0b2,#eaf0b2,#eaf0b2,#eaf0b2,#eaf0b2,#eaf0b2,#ebf0b3,#ecf1b4,#eef2b6,#eff3b7,#f1f3b9,#f1f4b9,#f2f4ba,#f2f4ba,#f2f4ba,#f2f4ba,#f2f4ba,#f2f4ba,#f2f4ba,#f2f4ba,#f1f4b9,#f1f3b9,#f1f3b9,#f1f3b9)"></i><i style="top:940.81px;height:5.03px;background:linear-gradient(90deg,#ecf1b4,#ecf1b4,#ecf1b4,#ecf1b4,#edf1b5,#eef2b6,#eff3b7,#f1f3b9,#f2f4ba,#f2f4ba,#f2f4ba,#f2f4ba,#f2f4ba,#f2f4ba,#f3f4bb,#f3f4bb,#f3f4bb,#f3f4bb,#f3f4bb,#f3f4bb,#f2f4ba,#f0f3b8,#eef2b6,#ecf1b4,#eaf0b2,#e9efb1,#e7efaf,#e6eeae,#e4edad,#e2ecac,#e1ecab,#e1ebab,#e1ebab,#e1ecab,#e1ecab,#e1ecab,#e1ecab,#e2ecab,#e2ecac,#e2ecac,#e2ecac,#e2ecac,#e3ecac,#e3edac,#e4edad,#e6eeae,#e7efaf,#e8efb0,#eaf0b2,#eaf0b2,#ebf0b3,#ebf1b3,#ecf1b4,#ecf1b4,#ecf1b4,#ecf1b4,#edf1b5,#edf1b5,#ecf1b4,#ecf1b4,#ecf1b4,#ecf1b4,#ecf1b4,#edf1b5,#eef2b6,#eff3b7,#f1f3b9,#f2f4ba,#f2f4ba,#f2f4ba,#f2f4ba,#f2f4ba,#f2f4ba,#f3f4bb,#f3f4bb,#f3f4bb,#f3f4bb,#f3f4bb,#f3f4bb,#f2f4ba,#f0f3b8,#eef2b6,#ecf1b4,#eaf0b2,#e9efb1,#e7efaf,#e6eeae,#e5edad,#e3ecac,#e1ecab,#e1ebab,#e1ebab,#e1ecab,#e1ecab,#e1ecab,#e1ecab,#e2ecab,#e2ecac,#e2ecac,#e2ecac,#e2ecac,#e3ecac,#e3edac,#e4edad,#e6eeae,#e7efaf,#e8efb0,#e9f0b1,#eaf0b2,#ebf0b3,#ebf1b3,#ecf1b4,#ecf1b4,#ecf1b4,#ecf1b4,#edf1b5,#edf1b5,#ecf1b4,#ecf1b4,#ecf1b4,#ecf1b4)"></i><i style="top:936.38px;height:5.03px;background:linear-gradient(90deg,#e2ecac,#e2ecac,#e2ecac,#e2ecac,#e5edad,#e8efb0,#ebf1b3,#eef2b6,#f1f3b9,#f2f4ba,#f2f4ba,#f2f4ba,#f2f4ba,#f2f4ba,#f2f4ba,#f2f4ba,#f2f4ba,#f2f4ba,#f2f4ba,#f2f4ba,#f1f4b9,#eef2b6,#ebf0b3,#e7eeaf,#e1ecab,#dce9a8,#d8e7a6,#d5e6a4,#d1e4a2,#cfe3a1,#cde29f,#cce29f,#cce29f,#cce29f,#cce29f,#cde29f,#cde29f,#cde2a0,#cde2a0,#cde2a0,#cde2a0,#cee2a0,#cee2a0,#cee3a0,#cfe3a1,#d0e3a1,#d1e4a2,#d2e5a3,#d4e5a4,#d6e6a5,#d8e7a6,#dae8a7,#dce9a8,#ddeaa9,#deeaa9,#dfebaa,#e0ebab,#e1ecab,#e2ecab,#e2ecac,#e2ecac,#e2ecac,#e2ecac,#e5edad,#e8efb0,#ebf0b3,#eef2b6,#f1f3b9,#f2f4ba,#f2f4ba,#f2f4ba,#f2f4ba,#f2f4ba,#f2f4ba,#f2f4ba,#f2f4ba,#f2f4ba,#f2f4ba,#f2f4ba,#f1f4b9,#eff2b7,#ebf1b3,#e7efaf,#e2ecac,#dce9a8,#d8e8a6,#d5e6a4,#d2e4a2,#cfe3a1,#cde2a0,#cce29f,#cce29f,#cce29f,#cce29f,#cce29f,#cde29f,#cde2a0,#cde2a0,#cde2a0,#cde2a0,#cee2a0,#cee2a0,#cee3a0,#cfe3a0,#cfe3a1,#d1e4a2,#d2e5a3,#d4e5a3,#d6e6a5,#d8e7a6,#dae8a7,#dce9a8,#ddeaa9,#deeaa9,#dfebaa,#e0ebab,#e1ecab,#e2ecab,#e2ecac,#e2ecac,#e2ecac)"></i><i style="top:931.94px;height:5.03px;background:linear-gradient(90deg,#d8e7a6,#d8e7a6,#d8e7a6,#d8e8a6,#dce9a8,#e3ecac,#e9efb1,#edf1b5,#f0f3b8,#f1f4b9,#f2f4ba,#f2f4ba,#f2f4ba,#f2f4ba,#f2f4ba,#f2f4ba,#f2f4ba,#f2f4ba,#f2f4ba,#f2f4ba,#f1f3b9,#eef2b6,#e9f0b1,#e4edad,#dbe9a8,#d4e5a4,#cfe3a1,#cae19e,#c5df9b,#c2dd99,#bfdc98,#bedb97,#bedb97,#bedb97,#bfdb97,#bfdb97,#bfdb97,#bfdb98,#bfdb98,#bfdc98,#bfdc98,#bfdc98,#c0dc98,#c0dc98,#c0dc98,#c0dc98,#c1dc98,#c1dc99,#c2dd99,#c5de9b,#c7df9c,#cae19e,#cde29f,#cee3a0,#d0e3a1,#d1e4a2,#d3e5a3,#d5e6a4,#d7e7a5,#d8e7a6,#d8e7a6,#d8e7a6,#d8e8a6,#dbe9a8,#e2ecac,#e8efb0,#edf1b5,#f0f3b8,#f1f4b9,#f2f4ba,#f2f4ba,#f2f4ba,#f2f4ba,#f2f4ba,#f2f4ba,#f2f4ba,#f2f4ba,#f2f4ba,#f2f4ba,#f1f3b9,#eef2b6,#eaf0b2,#e4edad,#dce9a8,#d5e6a4,#cfe3a1,#cae19e,#c6df9b,#c2dd99,#c0dc98,#bedb97,#bedb97,#bedb97,#bfdb97,#bfdb97,#bfdb97,#bfdb98,#bfdb98,#bfdc98,#bfdc98,#bfdc98,#c0dc98,#c0dc98,#c0dc98,#c0dc98,#c1dc98,#c1dc99,#c2dd99,#c4de9b,#c7df9c,#cae19e,#cce29f,#cee3a0,#cfe3a1,#d1e4a2,#d3e5a3,#d5e6a4,#d7e7a5,#d8e7a6,#d8e7a6,#d8e7a6)"></i><i style="top:927.51px;height:5.03px;background:linear-gradient(90deg,#d9e8a6,#d9e8a6,#d9e8a6,#d9e8a7,#dce9a8,#e3edac,#e9efb1,#edf2b5,#f0f3b8,#f2f4ba,#f2f4ba,#f2f4ba,#f2f4ba,#f3f4bb,#f3f4bb,#f3f4bb,#f3f5bb,#f3f5bb,#f3f5bb,#f3f5bb,#f2f4ba,#eff2b7,#ebf0b3,#e6eeae,#deeaa9,#d6e6a5,#cfe3a0,#c8e09d,#c3dd9a,#bfdb98,#bbda96,#b9d995,#b9d995,#b9d995,#b9d995,#b9d995,#b9d995,#b9d995,#bad995,#bad995,#bad995,#bad995,#bad995,#bad995,#bad995,#bbda96,#bbda96,#bbda96,#bdda96,#bfdc98,#c2dd99,#c5de9b,#c8e09d,#cae19e,#cce19f,#cde2a0,#d1e4a2,#d4e6a4,#d7e7a5,#d9e8a6,#d9e8a6,#d9e8a6,#d9e8a7,#dce9a8,#e3ecac,#e9efb1,#edf1b5,#f0f3b8,#f2f4ba,#f2f4ba,#f2f4ba,#f2f4ba,#f3f4bb,#f3f4bb,#f3f4bb,#f3f5bb,#f3f5bb,#f3f5bb,#f3f5bb,#f2f4ba,#eff3b7,#ebf1b3,#e7eeaf,#deeaaa,#d6e7a5,#cfe3a1,#c9e09d,#c4de9a,#bfdc98,#bbda96,#b9d995,#b9d995,#b9d995,#b9d995,#b9d995,#b9d995,#b9d995,#bad995,#bad995,#bad995,#bad995,#bad995,#bad995,#bad995,#bbda96,#bbda96,#bbda96,#bdda96,#bfdc98,#c2dd99,#c5de9b,#c8e09d,#cae19e,#cbe19f,#cde2a0,#d1e4a2,#d4e5a4,#d7e7a5,#d9e8a6,#d9e8a6,#d9e8a6)"></i><i style="top:923.08px;height:5.03px;background:linear-gradient(90deg,#e1ecab,#e1ecab,#e1ecab,#e1ecab,#e4edad,#e8efb0,#ebf1b3,#eff2b7,#f2f4ba,#f3f4bb,#f4f5bc,#f4f5bc,#f4f5bc,#f4f5bc,#f4f5bc,#f5f5bd,#f5f5bd,#f5f5bd,#f5f6bd,#f5f5bd,#f4f5bc,#f1f4b9,#edf2b5,#e9f0b1,#e5edad,#ddeaa9,#d6e6a5,#d0e3a1,#cbe19e,#c6df9c,#c4de9a,#c2dd99,#c2dd99,#c2dd99,#c2dd99,#c2dd99,#c2dd99,#c2dd99,#c2dd99,#c2dd99,#c2dd99,#c3dd9a,#c3dd9a,#c3de9a,#c4de9a,#c4de9b,#c5de9b,#c5de9b,#c6df9c,#c8e09d,#cbe19e,#cee2a0,#d0e4a1,#d2e4a2,#d4e5a3,#d5e6a4,#d9e8a7,#ddeaa9,#dfebaa,#e1ebab,#e1ecab,#e1ecab,#e1ecab,#e4edad,#e7efaf,#ebf0b3,#eef2b6,#f1f4b9,#f3f4bb,#f4f5bc,#f4f5bc,#f4f5bc,#f4f5bc,#f4f5bc,#f5f5bd,#f5f5bd,#f5f5bd,#f5f6bd,#f5f5bd,#f4f5bc,#f1f4b9,#eef2b6,#eaf0b2,#e5eeae,#deeaa9,#d6e7a5,#d0e4a1,#cbe19f,#c7df9c,#c4de9a,#c2dd99,#c2dd99,#c2dd99,#c2dd99,#c2dd99,#c2dd99,#c2dd99,#c2dd99,#c2dd99,#c2dd99,#c3dd9a,#c3dd9a,#c3de9a,#c4de9a,#c4de9b,#c5de9b,#c5de9b,#c6df9c,#c8e09d,#cbe19e,#cde2a0,#d0e3a1,#d2e4a2,#d4e5a3,#d5e6a4,#d9e8a6,#dce9a8,#dfebaa,#e1ebab,#e1ecab,#e1ecab)"></i><i style="top:918.65px;height:5.03px;background:linear-gradient(90deg,#eaf0b2,#eaf0b2,#eaf0b2,#eaf0b2,#ebf0b3,#edf1b5,#eff3b7,#f2f4ba,#f4f5bc,#f5f6bd,#f6f6be,#f6f6be,#f7f6bf,#f7f6bf,#f7f6bf,#f7f6bf,#f7f7bf,#f7f7bf,#f7f7bf,#f7f7bf,#f6f6be,#f4f5bc,#f0f3b8,#edf1b5,#eaf0b2,#e7efaf,#e3edac,#deeaaa,#dbe9a7,#d7e7a6,#d5e6a4,#d4e5a4,#d4e5a3,#d4e5a3,#d4e5a3,#d4e5a3,#d4e5a3,#d4e5a3,#d4e5a3,#d4e5a3,#d4e5a4,#d5e6a4,#d6e6a5,#d7e7a5,#d8e7a6,#d9e8a7,#dae8a7,#dbe9a8,#ddeaa9,#deeaaa,#e0ebab,#e2ecac,#e4edad,#e5eeae,#e6eeae,#e7eeaf,#e8efb0,#e9efb1,#e9f0b1,#eaf0b2,#eaf0b2,#eaf0b2,#eaf0b2,#ebf0b3,#ecf1b4,#eff2b7,#f2f4ba,#f4f5bc,#f5f6bd,#f6f6be,#f6f6be,#f7f6bf,#f7f6bf,#f7f6bf,#f7f6bf,#f7f7bf,#f7f7bf,#f7f7bf,#f7f7bf,#f6f6be,#f4f5bc,#f1f3b9,#edf2b5,#eaf0b2,#e7efaf,#e3edad,#dfebaa,#dbe9a8,#d8e7a6,#d5e6a4,#d4e5a4,#d4e5a3,#d4e5a3,#d4e5a3,#d4e5a3,#d4e5a3,#d4e5a3,#d4e5a3,#d4e5a3,#d4e5a4,#d5e6a4,#d6e6a5,#d7e7a5,#d8e7a6,#d9e8a7,#dae8a7,#dbe9a8,#ddeaa9,#deeaa9,#e0ebab,#e2ecac,#e4edad,#e5eead,#e6eeae,#e7eeaf,#e8efb0,#e9efb1,#e9f0b1,#eaf0b2,#eaf0b2,#eaf0b2)"></i><i style="top:914.22px;height:5.03px;background:linear-gradient(90deg,#eef2b6,#eef2b6,#eef2b6,#eef2b6,#eff2b7,#f0f3b8,#f2f4ba,#f4f5bc,#f6f6be,#f7f7bf,#f8f7c0,#f8f7c1,#f8f7c1,#f8f7c1,#f8f7c1,#f8f7c1,#f8f7c1,#f8f7c1,#f8f7c2,#f8f7c1,#f8f7c0,#f6f6be,#f3f4bb,#f0f3b8,#edf1b5,#ebf0b3,#e9f0b1,#e8efb0,#e6eeae,#e4edad,#e2ecac,#e2ecab,#e1ecab,#e1ecab,#e1ecab,#e1ecab,#e1ecab,#e1ecab,#e1ecab,#e2ecab,#e2ecac,#e3edac,#e5edad,#e6eeae,#e7eeaf,#e8efb0,#e8efb0,#e9efb1,#eaf0b2,#eaf0b2,#ebf0b3,#ebf1b3,#ecf1b4,#ecf1b4,#edf1b5,#edf2b5,#eef2b6,#eef2b6,#eef2b6,#eef2b6,#eef2b6,#eef2b6,#eef2b6,#eff2b7,#f0f3b8,#f2f4ba,#f4f5bc,#f6f6be,#f7f7bf,#f8f7c0,#f8f7c1,#f8f7c1,#f8f7c1,#f8f7c1,#f8f7c1,#f8f7c1,#f8f7c1,#f8f7c2,#f8f7c1,#f8f7c0,#f6f6be,#f3f4bb,#f0f3b8,#edf2b5,#ebf0b3,#e9f0b1,#e8efb0,#e6eeae,#e4edad,#e3ecac,#e2ecab,#e1ecab,#e1ecab,#e1ecab,#e1ecab,#e1ecab,#e1ecab,#e1ecab,#e2ecab,#e2ecac,#e3edac,#e4edad,#e6eeae,#e7eeaf,#e7efaf,#e8efb0,#e9efb1,#eaf0b2,#eaf0b2,#ebf0b3,#ebf1b3,#ecf1b4,#ecf1b4,#edf1b5,#edf2b5,#eef2b6,#eef2b6,#eef2b6,#eef2b6,#eef2b6,#eef2b6)"></i><i style="top:909.78px;height:5.03px;background:linear-gradient(90deg,#f0f3b8,#f0f3b8,#f0f3b8,#f0f3b8,#f1f3b9,#f2f4ba,#f3f5bb,#f5f6bd,#f7f6bf,#f8f7c0,#f8f7c2,#f9f8c3,#f9f8c3,#f9f8c3,#f9f8c3,#f9f8c3,#f9f8c3,#f9f8c3,#f9f8c3,#f9f8c3,#f8f7c1,#f6f6be,#f4f5bc,#f1f3b9,#eef2b6,#edf1b5,#ebf1b3,#eaf0b2,#e9f0b1,#e8efb0,#e8efb0,#e7efaf,#e7efaf,#e7efaf,#e7efaf,#e7efaf,#e7efaf,#e7efaf,#e7efaf,#e7efaf,#e7efaf,#e8efb0,#e9efb1,#eaf0b2,#ebf0b3,#ebf1b3,#ecf1b4,#edf1b5,#eef2b6,#eef2b6,#eff2b7,#eff3b7,#f0f3b8,#f0f3b8,#f0f3b8,#f1f3b9,#f1f3b9,#f1f3b9,#f1f3b9,#f0f3b8,#f0f3b8,#f0f3b8,#f0f3b8,#f1f3b9,#f2f4ba,#f3f5bb,#f5f5bd,#f7f6bf,#f8f7c0,#f8f7c2,#f9f8c2,#f9f8c3,#f9f8c3,#f9f8c3,#f9f8c3,#f9f8c3,#f9f8c3,#f9f8c3,#f9f8c3,#f8f7c1,#f7f6bf,#f4f5bc,#f1f4b9,#eff2b7,#edf1b5,#ecf1b4,#eaf0b2,#e9f0b1,#e8efb0,#e8efb0,#e7efaf,#e7efaf,#e7efaf,#e7efaf,#e7efaf,#e7efaf,#e7efaf,#e7efaf,#e7efaf,#e7efaf,#e8efb0,#e9efb1,#eaf0b2,#eaf0b2,#ebf1b3,#ecf1b4,#edf1b5,#eef2b6,#eef2b6,#eff2b7,#eff3b7,#f0f3b8,#f0f3b8,#f0f3b8,#f1f3b9,#f1f3b9,#f1f3b9,#f1f3b9,#f0f3b8,#f0f3b8,#f0f3b8)"></i><i style="top:905.35px;height:5.03px;background:linear-gradient(90deg,#f1f3b9,#f1f3b9,#f1f3b9,#f1f4b9,#f1f4b9,#f3f4bb,#f4f5bc,#f5f6bd,#f7f6bf,#f8f7c0,#f8f7c2,#f9f8c3,#f9f8c3,#f9f8c3,#f9f8c3,#f9f8c3,#f9f8c3,#f9f8c3,#f9f8c3,#f9f8c3,#f8f7c1,#f7f6bf,#f4f5bc,#f1f4b9,#eff3b7,#eef2b6,#edf1b5,#ecf1b4,#ebf0b3,#eaf0b2,#e9f0b1,#e9efb1,#e9efb1,#e9efb1,#e9efb1,#e9efb1,#e9efb1,#e9efb1,#e9efb1,#e9efb1,#e9f0b1,#eaf0b2,#ebf0b3,#ebf1b3,#ecf1b4,#edf2b5,#eef2b6,#eff2b7,#f0f3b8,#f0f3b8,#f0f3b8,#f1f3b9,#f1f4b9,#f2f4ba,#f2f4ba,#f2f4ba,#f2f4ba,#f2f4ba,#f2f4ba,#f1f3b9,#f1f3b9,#f1f3b9,#f1f4b9,#f1f4b9,#f2f4ba,#f4f5bc,#f5f6bd,#f7f6bf,#f8f7c0,#f8f7c2,#f9f8c3,#f9f8c3,#f9f8c3,#f9f8c3,#f9f8c3,#f9f8c3,#f9f8c3,#f9f8c3,#f9f8c3,#f8f7c1,#f7f6bf,#f4f5bc,#f2f4ba,#eff3b7,#eef2b6,#edf1b5,#ecf1b4,#ebf0b3,#eaf0b2,#e9f0b1,#e9efb1,#e9efb1,#e9efb1,#e9efb1,#e9efb1,#e9efb1,#e9efb1,#e9efb1,#e9efb1,#e9f0b1,#eaf0b2,#eaf0b2,#ebf1b3,#ecf1b4,#edf2b5,#eef2b6,#eff2b7,#eff3b7,#f0f3b8,#f0f3b8,#f1f3b9,#f1f4b9,#f2f4ba,#f2f4ba,#f2f4ba,#f2f4ba,#f2f4ba,#f2f4ba,#f1f4b9,#f1f3b9,#f1f3b9)"></i><i style="top:900.92px;height:5.03px;background:linear-gradient(90deg,#f1f3b9,#f1f3b9,#f1f3b9,#f1f3b9,#f1f4b9,#f2f4ba,#f3f5bb,#f5f5bd,#f6f6be,#f8f7c0,#f8f7c1,#f8f7c2,#f8f7c2,#f8f7c2,#f8f7c2,#f8f7c2,#f8f7c2,#f8f7c2,#f8f7c2,#f8f7c1,#f8f7c0,#f6f6be,#f3f5bb,#f1f4b9,#eff3b7,#eef2b6,#edf1b5,#ecf1b4,#ebf1b3,#eaf0b2,#eaf0b2,#e9f0b1,#e9f0b1,#e9f0b1,#e9f0b1,#eaf0b2,#eaf0b2,#eaf0b2,#eaf0b2,#eaf0b2,#eaf0b2,#ebf0b3,#ebf1b3,#ecf1b4,#edf2b5,#eef2b6,#eff2b7,#f0f3b8,#f0f3b8,#f1f3b9,#f1f4b9,#f1f4b9,#f2f4ba,#f2f4ba,#f2f4ba,#f3f4bb,#f2f4ba,#f2f4ba,#f1f4b9,#f1f3b9,#f1f3b9,#f1f3b9,#f1f3b9,#f1f4b9,#f2f4ba,#f3f5bb,#f5f5bd,#f6f6be,#f8f7c0,#f8f7c1,#f8f7c2,#f8f7c2,#f8f7c2,#f8f7c2,#f8f7c2,#f8f7c2,#f8f7c2,#f8f7c2,#f8f7c1,#f8f7c0,#f6f6be,#f4f5bc,#f1f4b9,#eff3b7,#eef2b6,#edf1b5,#ecf1b4,#ebf1b3,#eaf0b2,#eaf0b2,#e9f0b1,#e9f0b1,#e9f0b1,#e9f0b1,#eaf0b2,#eaf0b2,#eaf0b2,#eaf0b2,#eaf0b2,#eaf0b2,#ebf0b3,#ebf1b3,#ecf1b4,#edf2b5,#eef2b6,#eff2b7,#f0f3b8,#f0f3b8,#f1f3b9,#f1f4b9,#f1f4b9,#f2f4ba,#f2f4ba,#f2f4ba,#f3f4bb,#f3f4bb,#f2f4ba,#f1f4b9,#f1f3b9,#f1f3b9,#f1f3b9)"></i><i style="top:896.49px;height:5.03px;background:linear-gradient(90deg,#f0f3b8,#f0f3b8,#f0f3b8,#f0f3b8,#f0f3b8,#f1f4b9,#f3f4bb,#f4f5bc,#f5f6bd,#f7f6bf,#f8f7c0,#f8f7c0,#f8f7c0,#f8f7c1,#f8f7c1,#f8f7c1,#f8f7c1,#f8f7c0,#f8f7c0,#f7f7bf,#f6f6be,#f4f5bc,#f3f4bb,#f1f3b9,#eff3b7,#eef2b6,#edf2b5,#ecf1b4,#ebf1b3,#ebf0b3,#eaf0b2,#eaf0b2,#eaf0b2,#eaf0b2,#eaf0b2,#eaf0b2,#eaf0b2,#eaf0b2,#ebf0b3,#ebf0b3,#ebf1b3,#ecf1b4,#ecf1b4,#edf2b5,#eef2b6,#eff2b7,#eff3b7,#f0f3b8,#f1f3b9,#f1f4b9,#f2f4ba,#f2f4ba,#f2f4ba,#f2f4ba,#f3f4bb,#f3f4bb,#f2f4ba,#f2f4ba,#f1f3b9,#f0f3b8,#f0f3b8,#f0f3b8,#f0f3b8,#f0f3b8,#f1f4b9,#f2f4ba,#f4f5bc,#f5f6bd,#f7f6bf,#f8f7c0,#f8f7c0,#f8f7c0,#f8f7c1,#f8f7c1,#f8f7c1,#f8f7c1,#f8f7c0,#f8f7c0,#f7f7bf,#f6f6be,#f5f5bd,#f3f4bb,#f1f3b9,#eff3b7,#eef2b6,#edf2b5,#ecf1b4,#ebf1b3,#ebf0b3,#eaf0b2,#eaf0b2,#eaf0b2,#eaf0b2,#eaf0b2,#eaf0b2,#eaf0b2,#eaf0b2,#ebf0b3,#ebf0b3,#ebf0b3,#ecf1b4,#ecf1b4,#edf2b5,#eef2b6,#eff2b7,#eff3b7,#f0f3b8,#f1f3b9,#f1f4b9,#f2f4ba,#f2f4ba,#f2f4ba,#f2f4ba,#f3f4bb,#f3f4bb,#f2f4ba,#f2f4ba,#f1f3b9,#f0f3b8,#f0f3b8,#f0f3b8)"></i><i style="top:892.06px;height:5.03px;background:linear-gradient(90deg,#eff3b7,#eff3b7,#eff3b7,#eff3b7,#f0f3b8,#f1f3b9,#f2f4ba,#f3f5bb,#f5f5bd,#f6f6be,#f7f7bf,#f8f7c0,#f8f7c0,#f8f7c0,#f8f7c0,#f8f7c0,#f8f7c0,#f8f7c0,#f7f7bf,#f6f6be,#f5f5bd,#f3f5bb,#f2f4ba,#f0f3b8,#eff2b7,#eef2b6,#edf2b5,#ecf1b4,#ecf1b4,#ebf0b3,#eaf0b2,#eaf0b2,#eaf0b2,#ebf0b3,#ebf0b3,#ebf0b3,#ebf0b3,#ebf1b3,#ebf1b3,#ebf1b3,#ecf1b4,#ecf1b4,#edf1b5,#eef2b6,#eef2b6,#eff3b7,#f0f3b8,#f1f3b9,#f1f4b9,#f2f4ba,#f2f4ba,#f2f4ba,#f2f4ba,#f3f4bb,#f3f4bb,#f3f5bb,#f2f4ba,#f1f4b9,#f0f3b8,#eff3b7,#eff3b7,#eff3b7,#eff3b7,#eff3b7,#f0f3b8,#f2f4ba,#f3f5bb,#f5f5bd,#f6f6be,#f7f7bf,#f8f7c0,#f8f7c0,#f8f7c0,#f8f7c0,#f8f7c0,#f8f7c0,#f8f7c0,#f7f7bf,#f6f6be,#f5f6bd,#f4f5bc,#f2f4ba,#f0f3b8,#eff3b7,#eef2b6,#edf2b5,#ecf1b4,#ecf1b4,#ebf0b3,#eaf0b2,#eaf0b2,#eaf0b2,#eaf0b2,#ebf0b3,#ebf0b3,#ebf0b3,#ebf0b3,#ebf1b3,#ebf1b3,#ecf1b4,#ecf1b4,#edf1b5,#eef2b6,#eef2b6,#eff3b7,#f0f3b8,#f0f3b8,#f1f4b9,#f2f4ba,#f2f4ba,#f2f4ba,#f2f4ba,#f3f4bb,#f3f4bb,#f3f5bb,#f2f4ba,#f1f4b9,#f0f3b8,#eff3b7,#eff3b7,#eff3b7)"></i><i style="top:887.62px;height:5.03px;background:linear-gradient(90deg,#eff2b7,#eff2b7,#eff2b7,#eff2b7,#eff3b7,#f0f3b8,#f2f4ba,#f3f4bb,#f4f5bc,#f6f6be,#f7f6bf,#f7f7bf,#f7f7bf,#f7f7bf,#f7f7bf,#f7f7bf,#f7f7bf,#f7f7bf,#f7f6bf,#f6f6be,#f4f5bc,#f3f4bb,#f1f4b9,#f0f3b8,#eff2b7,#eef2b6,#edf2b5,#ecf1b4,#ecf1b4,#ebf0b3,#ebf0b3,#eaf0b2,#ebf0b3,#ebf0b3,#ebf0b3,#ebf0b3,#ebf1b3,#ebf1b3,#ebf1b3,#ecf1b4,#ecf1b4,#ecf1b4,#edf2b5,#eef2b6,#eff2b7,#eff3b7,#f0f3b8,#f1f3b9,#f1f4b9,#f2f4ba,#f2f4ba,#f2f4ba,#f2f4ba,#f3f4bb,#f3f4bb,#f3f5bb,#f2f4ba,#f1f4b9,#f0f3b8,#eff2b7,#eff2b7,#eff2b7,#eff2b7,#eff3b7,#f0f3b8,#f1f4b9,#f3f4bb,#f4f5bc,#f6f6be,#f7f6bf,#f7f7bf,#f7f7bf,#f7f7bf,#f7f7bf,#f7f7bf,#f7f7bf,#f7f7bf,#f7f6bf,#f6f6be,#f5f5bd,#f3f5bb,#f2f4ba,#f0f3b8,#eff2b7,#eef2b6,#edf2b5,#ecf1b4,#ecf1b4,#ebf1b3,#ebf0b3,#eaf0b2,#eaf0b2,#ebf0b3,#ebf0b3,#ebf0b3,#ebf1b3,#ebf1b3,#ebf1b3,#ebf1b3,#ecf1b4,#ecf1b4,#edf2b5,#eef2b6,#eef2b6,#eff3b7,#f0f3b8,#f1f3b9,#f1f4b9,#f2f4ba,#f2f4ba,#f2f4ba,#f2f4ba,#f3f4bb,#f3f4bb,#f3f5bb,#f2f4ba,#f1f4b9,#f0f3b8,#eff2b7,#eff2b7,#eff2b7)"></i><i style="top:883.19px;height:5.03px;background:linear-gradient(90deg,#eef2b6,#eef2b6,#eef2b6,#eef2b6,#eff2b7,#f0f3b8,#f1f4b9,#f3f4bb,#f4f5bc,#f5f6bd,#f6f6be,#f7f6bf,#f7f6bf,#f7f6bf,#f7f6bf,#f7f6bf,#f7f6bf,#f7f6bf,#f6f6be,#f5f6bd,#f4f5bc,#f2f4ba,#f1f3b9,#f0f3b8,#eef2b6,#eef2b6,#edf1b5,#ecf1b4,#ebf1b3,#ebf0b3,#eaf0b2,#eaf0b2,#eaf0b2,#ebf0b3,#ebf0b3,#ebf0b3,#ebf0b3,#ebf1b3,#ebf1b3,#ebf1b3,#ecf1b4,#ecf1b4,#edf2b5,#eef2b6,#eef2b6,#eff3b7,#f0f3b8,#f1f3b9,#f1f4b9,#f2f4ba,#f2f4ba,#f2f4ba,#f2f4ba,#f3f4bb,#f3f4bb,#f3f5bb,#f2f4ba,#f1f4b9,#f0f3b8,#eef2b6,#eef2b6,#eef2b6,#eef2b6,#eff2b7,#f0f3b8,#f1f4b9,#f3f4bb,#f4f5bc,#f5f6bd,#f6f6be,#f7f6bf,#f7f6bf,#f7f6bf,#f7f6bf,#f7f6bf,#f7f6bf,#f7f6bf,#f6f6be,#f5f6bd,#f4f5bc,#f2f4ba,#f1f4b9,#f0f3b8,#eff2b7,#eef2b6,#edf1b5,#ecf1b4,#ecf1b4,#ebf0b3,#eaf0b2,#eaf0b2,#eaf0b2,#ebf0b3,#ebf0b3,#ebf0b3,#ebf0b3,#ebf1b3,#ebf1b3,#ebf1b3,#ecf1b4,#ecf1b4,#edf1b5,#eef2b6,#eef2b6,#eff3b7,#f0f3b8,#f1f3b9,#f1f4b9,#f2f4ba,#f2f4ba,#f2f4ba,#f2f4ba,#f3f4bb,#f3f4bb,#f3f4bb,#f2f4ba,#f1f4b9,#f0f3b8,#eff2b7,#eef2b6,#eef2b6)"></i><i style="top:878.76px;height:5.03px;background:linear-gradient(90deg,#eef2b6,#eef2b6,#eef2b6,#eef2b6,#eef2b6,#eff3b7,#f1f3b9,#f2f4ba,#f3f5bb,#f5f5bd,#f6f6be,#f6f6be,#f6f6be,#f6f6be,#f6f6be,#f6f6be,#f6f6be,#f6f6be,#f6f6be,#f5f5bd,#f3f4bb,#f1f4b9,#f0f3b8,#eff2b7,#eef2b6,#edf1b5,#ecf1b4,#ecf1b4,#ebf1b3,#eaf0b2,#eaf0b2,#eaf0b2,#eaf0b2,#eaf0b2,#eaf0b2,#ebf0b3,#ebf0b3,#ebf0b3,#ebf0b3,#ebf1b3,#ebf1b3,#ecf1b4,#edf1b5,#edf2b5,#eef2b6,#eff2b7,#f0f3b8,#f0f3b8,#f1f3b9,#f1f4b9,#f2f4ba,#f2f4ba,#f2f4ba,#f2f4ba,#f2f4ba,#f3f4bb,#f2f4ba,#f1f3b9,#eff3b7,#eef2b6,#eef2b6,#eef2b6,#eef2b6,#eef2b6,#eff3b7,#f0f3b8,#f2f4ba,#f3f5bb,#f5f5bd,#f6f6be,#f6f6be,#f6f6be,#f6f6be,#f6f6be,#f6f6be,#f6f6be,#f6f6be,#f6f6be,#f5f5bd,#f3f5bb,#f1f4b9,#f0f3b8,#eff2b7,#eef2b6,#edf1b5,#ecf1b4,#ecf1b4,#ebf1b3,#ebf0b3,#eaf0b2,#eaf0b2,#eaf0b2,#eaf0b2,#eaf0b2,#ebf0b3,#ebf0b3,#ebf0b3,#ebf0b3,#ebf1b3,#ebf1b3,#ecf1b4,#edf1b5,#edf2b5,#eef2b6,#eff2b7,#f0f3b8,#f0f3b8,#f1f3b9,#f1f4b9,#f1f4b9,#f2f4ba,#f2f4ba,#f2f4ba,#f2f4ba,#f3f4bb,#f2f4ba,#f1f3b9,#eff3b7,#eef2b6,#eef2b6,#eef2b6)"></i><i style="top:874.33px;height:5.03px;background:linear-gradient(90deg,#edf1b5,#edf1b5,#edf1b5,#edf1b5,#edf2b5,#eef2b6,#f0f3b8,#f1f4b9,#f2f4ba,#f4f5bc,#f5f5bd,#f5f6bd,#f5f6bd,#f5f6bd,#f5f6bd,#f5f6bd,#f5f6bd,#f5f6bd,#f5f5bd,#f3f5bb,#f2f4ba,#f0f3b8,#eef2b6,#edf2b5,#ecf1b4,#ecf1b4,#ebf1b3,#ebf0b3,#eaf0b2,#eaf0b2,#eaf0b2,#eaf0b2,#eaf0b2,#eaf0b2,#eaf0b2,#eaf0b2,#eaf0b2,#eaf0b2,#ebf0b3,#ebf0b3,#ebf1b3,#ecf1b4,#ecf1b4,#edf1b5,#eef2b6,#eef2b6,#eff3b7,#f0f3b8,#f0f3b8,#f1f3b9,#f1f4b9,#f1f4b9,#f2f4ba,#f2f4ba,#f2f4ba,#f2f4ba,#f1f4b9,#f0f3b8,#eef2b6,#edf1b5,#edf1b5,#edf1b5,#edf1b5,#edf2b5,#eef2b6,#f0f3b8,#f1f3b9,#f2f4ba,#f4f5bc,#f5f5bd,#f5f6bd,#f5f6bd,#f5f6bd,#f5f6bd,#f5f6bd,#f5f6bd,#f5f6bd,#f5f5bd,#f3f5bb,#f2f4ba,#f0f3b8,#eef2b6,#edf2b5,#ecf1b4,#ecf1b4,#ebf1b3,#ebf0b3,#eaf0b2,#eaf0b2,#eaf0b2,#eaf0b2,#eaf0b2,#eaf0b2,#eaf0b2,#eaf0b2,#eaf0b2,#eaf0b2,#ebf0b3,#ebf0b3,#ebf0b3,#ecf1b4,#ecf1b4,#edf1b5,#eef2b6,#eef2b6,#eff3b7,#f0f3b8,#f0f3b8,#f1f3b9,#f1f4b9,#f1f4b9,#f2f4ba,#f2f4ba,#f2f4ba,#f2f4ba,#f1f4b9,#f0f3b8,#eff2b7,#edf1b5,#edf1b5,#edf1b5)"></i><i style="top:869.9px;height:5.03px;background:linear-gradient(90deg,#ecf1b4,#ecf1b4,#ecf1b4,#ecf1b4,#edf1b5,#eef2b6,#eff3b7,#f0f3b8,#f2f4ba,#f3f5bb,#f4f5bc,#f5f5bd,#f5f5bd,#f5f5bd,#f5f5bd,#f5f5bd,#f5f5bd,#f5f5bd,#f4f5bc,#f3f4bb,#f1f3b9,#eff2b7,#edf2b5,#ecf1b4,#ecf1b4,#ebf1b3,#ebf0b3,#eaf0b2,#eaf0b2,#e9f0b1,#e9f0b1,#e9f0b1,#e9f0b1,#e9f0b1,#eaf0b2,#eaf0b2,#eaf0b2,#eaf0b2,#eaf0b2,#eaf0b2,#ebf0b3,#ebf1b3,#ecf1b4,#edf1b5,#edf2b5,#eef2b6,#eff2b7,#f0f3b8,#f0f3b8,#f0f3b8,#f1f3b9,#f1f3b9,#f1f4b9,#f1f4b9,#f2f4ba,#f2f4ba,#f1f3b9,#eff3b7,#eef2b6,#ecf1b4,#ecf1b4,#ecf1b4,#ecf1b4,#edf1b5,#eef2b6,#eff2b7,#f0f3b8,#f2f4ba,#f3f5bb,#f4f5bc,#f5f5bd,#f5f5bd,#f5f5bd,#f5f5bd,#f5f5bd,#f5f5bd,#f5f5bd,#f4f5bc,#f3f4bb,#f1f3b9,#eff2b7,#edf2b5,#ecf1b4,#ecf1b4,#ebf1b3,#ebf0b3,#eaf0b2,#eaf0b2,#eaf0b2,#e9f0b1,#e9f0b1,#e9f0b1,#e9f0b1,#eaf0b2,#eaf0b2,#eaf0b2,#eaf0b2,#eaf0b2,#eaf0b2,#ebf0b3,#ebf1b3,#ecf1b4,#edf1b5,#edf2b5,#eef2b6,#eff2b7,#eff3b7,#f0f3b8,#f0f3b8,#f1f3b9,#f1f3b9,#f1f4b9,#f1f4b9,#f2f4ba,#f2f4ba,#f1f3b9,#f0f3b8,#eef2b6,#ecf1b4,#ecf1b4,#ecf1b4)"></i><i style="top:865.46px;height:5.03px;background:linear-gradient(90deg,#ecf1b4,#ecf1b4,#ecf1b4,#ecf1b4,#ecf1b4,#edf2b5,#eff2b7,#f0f3b8,#f2f4ba,#f3f4bb,#f4f5bc,#f4f5bc,#f4f5bc,#f4f5bc,#f4f5bc,#f4f5bc,#f4f5bc,#f4f5bc,#f4f5bc,#f2f4ba,#f0f3b8,#eef2b6,#edf1b5,#ecf1b4,#ebf1b3,#ebf0b3,#eaf0b2,#eaf0b2,#eaf0b2,#e9f0b1,#e9f0b1,#e9f0b1,#e9f0b1,#e9f0b1,#eaf0b2,#eaf0b2,#eaf0b2,#eaf0b2,#eaf0b2,#eaf0b2,#ebf0b3,#ebf1b3,#ecf1b4,#edf1b5,#edf2b5,#eef2b6,#eff2b7,#eff3b7,#f0f3b8,#f0f3b8,#f1f3b9,#f1f3b9,#f1f4b9,#f1f4b9,#f2f4ba,#f2f4ba,#f1f3b9,#eff3b7,#eef2b6,#ecf1b4,#ecf1b4,#ecf1b4,#ecf1b4,#ecf1b4,#edf2b5,#eff2b7,#f0f3b8,#f1f4b9,#f3f4bb,#f4f5bc,#f4f5bc,#f4f5bc,#f4f5bc,#f4f5bc,#f4f5bc,#f4f5bc,#f4f5bc,#f4f5bc,#f2f4ba,#f0f3b8,#eef2b6,#edf1b5,#ecf1b4,#ebf1b3,#ebf0b3,#eaf0b2,#eaf0b2,#eaf0b2,#e9f0b1,#e9f0b1,#e9f0b1,#e9f0b1,#e9f0b1,#e9f0b1,#eaf0b2,#eaf0b2,#eaf0b2,#eaf0b2,#eaf0b2,#ebf0b3,#ebf1b3,#ecf1b4,#ecf1b4,#edf2b5,#eef2b6,#eff2b7,#eff3b7,#f0f3b8,#f0f3b8,#f1f3b9,#f1f3b9,#f1f4b9,#f1f4b9,#f2f4ba,#f2f4ba,#f1f3b9,#eff3b7,#eef2b6,#ecf1b4,#ecf1b4,#ecf1b4)"></i><i style="top:861.03px;height:5.03px;background:linear-gradient(90deg,#ecf1b4,#ecf1b4,#ecf1b4,#ecf1b4,#ecf1b4,#edf2b5,#eff2b7,#f0f3b8,#f2f4ba,#f3f4bb,#f4f5bc,#f4f5bc,#f4f5bc,#f4f5bc,#f4f5bc,#f4f5bc,#f4f5bc,#f4f5bc,#f4f5bc,#f2f4ba,#f0f3b8,#eef2b6,#ecf1b4,#ecf1b4,#ebf1b3,#ebf0b3,#eaf0b2,#eaf0b2,#eaf0b2,#e9f0b1,#e9f0b1,#e9f0b1,#e9f0b1,#e9f0b1,#e9f0b1,#eaf0b2,#eaf0b2,#eaf0b2,#eaf0b2,#eaf0b2,#ebf0b3,#ebf1b3,#ecf1b4,#ecf1b4,#edf2b5,#eef2b6,#eff2b7,#eff3b7,#f0f3b8,#f0f3b8,#f1f3b9,#f1f3b9,#f1f4b9,#f1f4b9,#f2f4ba,#f2f4ba,#f1f3b9,#eff3b7,#eef2b6,#ecf1b4,#ecf1b4,#ecf1b4,#ecf1b4,#ecf1b4,#edf2b5,#eff2b7,#f0f3b8,#f1f4b9,#f3f4bb,#f4f5bc,#f4f5bc,#f4f5bc,#f4f5bc,#f4f5bc,#f4f5bc,#f4f5bc,#f4f5bc,#f4f5bc,#f2f4ba,#f0f3b8,#eef2b6,#edf1b5,#ecf1b4,#ebf1b3,#ebf0b3,#eaf0b2,#eaf0b2,#eaf0b2,#e9f0b1,#e9f0b1,#e9f0b1,#e9f0b1,#e9f0b1,#e9f0b1,#eaf0b2,#eaf0b2,#eaf0b2,#eaf0b2,#eaf0b2,#ebf0b3,#ebf1b3,#ecf1b4,#ecf1b4,#edf2b5,#eef2b6,#eff2b7,#eff3b7,#f0f3b8,#f0f3b8,#f1f3b9,#f1f3b9,#f1f4b9,#f1f4b9,#f2f4ba,#f2f4ba,#f1f3b9,#eff3b7,#eef2b6,#ecf1b4,#ecf1b4,#ecf1b4)"></i><i style="top:856.6px;height:5.03px;background:linear-gradient(90deg,#ecf1b4,#ecf1b4,#ecf1b4,#ecf1b4,#ecf1b4,#edf2b5,#eff2b7,#f0f3b8,#f2f4ba,#f3f4bb,#f4f5bc,#f4f5bc,#f4f5bc,#f4f5bc,#f4f5bc,#f4f5bc,#f4f5bc,#f4f5bc,#f4f5bc,#f2f4ba,#f0f3b8,#eef2b6,#ecf1b4,#ecf1b4,#ebf1b3,#ebf0b3,#eaf0b2,#eaf0b2,#eaf0b2,#e9f0b1,#e9f0b1,#e9f0b1,#e9f0b1,#e9f0b1,#e9f0b1,#eaf0b2,#eaf0b2,#eaf0b2,#eaf0b2,#eaf0b2,#ebf0b3,#ebf1b3,#ecf1b4,#ecf1b4,#edf2b5,#eef2b6,#eff2b7,#eff3b7,#f0f3b8,#f0f3b8,#f1f3b9,#f1f3b9,#f1f4b9,#f1f4b9,#f2f4ba,#f2f4ba,#f1f3b9,#eff3b7,#eef2b6,#ecf1b4,#ecf1b4,#ecf1b4,#ecf1b4,#ecf1b4,#edf2b5,#eff2b7,#f0f3b8,#f1f4b9,#f3f4bb,#f4f5bc,#f4f5bc,#f4f5bc,#f4f5bc,#f4f5bc,#f4f5bc,#f4f5bc,#f4f5bc,#f4f5bc,#f2f4ba,#f0f3b8,#eef2b6,#edf1b5,#ecf1b4,#ebf1b3,#ebf0b3,#eaf0b2,#eaf0b2,#eaf0b2,#e9f0b1,#e9f0b1,#e9f0b1,#e9f0b1,#e9f0b1,#e9f0b1,#eaf0b2,#eaf0b2,#eaf0b2,#eaf0b2,#eaf0b2,#ebf0b3,#ebf1b3,#ecf1b4,#ecf1b4,#edf2b5,#eef2b6,#eff2b7,#eff3b7,#f0f3b8,#f0f3b8,#f1f3b9,#f1f3b9,#f1f4b9,#f1f4b9,#f2f4ba,#f2f4ba,#f1f3b9,#eff3b7,#eef2b6,#ecf1b4,#ecf1b4,#ecf1b4)"></i></div>
<svg id="ov" width="1337" height="1413" viewBox="0 0 1337 1413">
<defs>
<clipPath id="clipB"><rect x="118.6" y="311.4" width="774.0" height="442.6"/></clipPath>
<clipPath id="clipD"><rect x="118.6" y="856.6" width="967.6" height="443.2"/></clipPath>
<clipPath id="clipC"><rect x="922.4" y="310.2" width="182.4" height="448.8"/></clipPath>
</defs>
<text x="15.7" y="24.3" font-size="28.7" font-weight="bold" fill="#0a0a0a" stroke="#0a0a0a" stroke-width="0.5">A</text>
<text x="15.2" y="295.1" font-size="28.7" font-weight="bold" fill="#0a0a0a" stroke="#0a0a0a" stroke-width="0.5">B</text>
<text x="918.7" y="295.2" font-size="28.7" font-weight="bold" fill="#0a0a0a" stroke="#0a0a0a" stroke-width="0.5">C</text>
<text x="15.2" y="846.4" font-size="28.7" font-weight="bold" fill="#0a0a0a" stroke="#0a0a0a" stroke-width="0.5">D</text>
<path d="M217.8 84.0V190.8M315.7 84.0V190.8M413.6 84.0V190.8M511.4 84.0V190.8M609.2 84.0V190.8M707.1 84.0V190.8M805.0 84.0V190.8M902.8 84.0V190.8M1000.6 84.0V190.8" stroke="#e4e4e4" stroke-width="1.2" fill="none"/>
<path d="M120.0 137.4H1098.5" stroke="#e6e0dc" stroke-width="1" fill="none"/>
<polyline points="120.0,122.1 120.3,119.8 120.7,117.7 121.0,116.0 121.3,114.5 121.6,113.4 122.0,112.7 122.3,112.3 122.6,112.3 122.9,112.7 123.3,113.4 123.6,114.5 123.9,115.9 124.2,117.6 124.6,119.7 124.9,121.9 125.2,124.4 125.5,127.1 125.9,129.9 126.2,132.8 126.5,135.8 126.8,138.8 127.2,141.8 127.5,144.6 127.8,147.4 128.2,150.0 128.5,152.4 128.8,154.5 129.1,156.4 129.5,158.1 129.8,159.4 130.1,160.3 130.4,161.0 130.8,161.2 131.1,161.2 131.4,160.7 131.7,160.0 132.1,158.9 132.4,157.5 132.7,155.8 133.0,153.8 133.4,151.6 133.7,149.2 134.0,146.7 134.4,144.0 134.7,141.2 135.0,138.4 135.3,135.6 135.7,132.8 136.0,130.1 136.3,127.5 136.6,125.1 137.0,122.9 137.3,120.9 137.6,119.1 137.9,117.6 138.3,116.5 138.6,115.6 138.9,115.1 139.2,114.9 139.6,115.0 139.9,115.4 140.2,116.2 140.5,117.3 140.9,118.7 141.2,120.3 141.5,122.2 141.9,124.3 142.2,126.6 142.5,129.0 142.8,131.6 143.2,134.2 143.5,136.8 143.8,139.5 144.1,142.1 144.5,144.6 144.8,147.0 145.1,149.3 145.4,151.3 145.8,153.2 146.1,154.8 146.4,156.2 146.7,157.2 147.1,158.0 147.4,158.5 147.7,158.6 148.1,158.5 148.4,158.0 148.7,157.3 149.0,156.2 149.4,154.9 149.7,153.3 150.0,151.5 150.3,149.5 150.7,147.4 151.0,145.1 151.3,142.7 151.6,140.2 152.0,137.8 152.3,135.3 152.6,132.8 152.9,130.5 153.3,128.2 153.6,126.1 153.9,124.2 154.2,122.5 154.6,121.0 154.9,119.7 155.2,118.8 155.6,118.0 155.9,117.6 156.2,117.5 156.5,117.6 156.9,118.1 157.2,118.8 157.5,119.8 157.8,121.0 158.2,122.5 158.5,124.2 158.8,126.1 159.1,128.1 159.5,130.2 159.8,132.5 160.1,134.8 160.4,137.1 160.8,139.4 161.1,141.7 161.4,143.9 161.7,146.0 162.1,147.9 162.4,149.7 162.7,151.3 163.1,152.7 163.4,153.9 163.7,154.8 164.0,155.5 164.4,155.9 164.7,156.0 165.0,155.9 165.3,155.5 165.7,154.8 166.0,153.9 166.3,152.8 166.6,151.4 167.0,149.8 167.3,148.1 167.6,146.2 167.9,144.2 168.3,142.2 168.6,140.0 168.9,137.9 169.3,135.7 169.6,133.6 169.9,131.5 170.2,129.6 170.6,127.7 170.9,126.0 171.2,124.5 171.5,123.2 171.9,122.1 172.2,121.2 172.5,120.5 172.8,120.1 173.2,120.0 173.5,120.1 173.8,120.4 174.1,121.0 174.5,121.8 174.8,122.9 175.1,124.1 175.4,125.6 175.8,127.1 176.1,128.9 176.4,130.7 176.8,132.6 177.1,134.6 177.4,136.6 177.7,138.6 178.1,140.6 178.4,142.6 178.7,144.4 179.0,146.1 179.4,147.7 179.7,149.2 180.0,150.5 180.3,151.5 180.7,152.4 181.0,153.1 181.3,153.5 181.6,153.7 182.0,153.6 182.3,153.4 182.6,152.9 183.0,152.2 183.3,151.2 183.6,150.1 183.9,148.8 184.3,147.4 184.6,145.8 184.9,144.1 185.2,142.4 185.6,140.5 185.9,138.6 186.2,136.8 186.5,134.9 186.9,133.1 187.2,131.3 187.5,129.7 187.8,128.2 188.2,126.8 188.5,125.5 188.8,124.5 189.1,123.6 189.5,122.9 189.8,122.4 190.1,122.2 190.5,122.1 190.8,122.3 191.1,122.7 191.4,123.3 191.8,124.1 192.1,125.0 192.4,126.2 192.7,127.5 193.1,128.9 193.4,130.5 193.7,132.1 194.0,133.8 194.4,135.5 194.7,137.3 195.0,139.0 195.3,140.8 195.7,142.4 196.0,144.0 196.3,145.5 196.6,146.9 197.0,148.1 197.3,149.2 197.6,150.1 198.0,150.8 198.3,151.4 198.6,151.7 198.9,151.8 199.3,151.8 199.6,151.5 199.9,151.0 200.2,150.4 200.6,149.6 200.9,148.6 201.2,147.4 201.5,146.1 201.9,144.7 202.2,143.2 202.5,141.7 202.8,140.0 203.2,138.4 203.5,136.7 203.8,135.1 204.2,133.5 204.5,131.9 204.8,130.4 205.1,129.1 205.5,127.8 205.8,126.7 206.1,125.7 206.4,125.0 206.8,124.3 207.1,123.9 207.4,123.7 207.7,123.6 208.1,123.7 208.4,124.1 208.7,124.6 209.0,125.2 209.4,126.1 209.7,127.1 210.0,128.2 210.3,129.5 210.7,130.9 211.0,132.4 211.3,133.9 211.7,135.5 212.0,137.1 212.3,138.7 212.6,140.2 213.0,141.8 213.3,143.2 213.6,144.6 213.9,145.9 214.3,147.1 214.6,148.1 214.9,149.0 215.2,149.7 215.6,150.3 215.9,150.6 216.2,150.8 216.5,150.8 216.9,150.6 217.2,150.3 217.5,149.7 217.8,149.0 218.2,148.1 218.5,147.1 218.8,146.0 219.2,144.7 219.5,143.3 219.8,141.9 220.1,140.4 220.5,138.8 220.8,137.3 221.1,135.7 221.4,134.2 221.8,132.7 222.1,131.2 222.4,129.9 222.7,128.6 223.1,127.5 223.4,126.5 223.7,125.7 224.0,125.0 224.4,124.5 224.7,124.2 225.0,124.1 225.4,124.1 225.7,124.3 226.0,124.7 226.3,125.3 226.7,126.0 227.0,126.9 227.3,128.0 227.6,129.2 228.0,130.5 228.3,131.9 228.6,133.3 228.9,134.8 229.3,136.4 229.6,138.0 229.9,139.6 230.2,141.1 230.6,142.6 230.9,144.0 231.2,145.4 231.5,146.6 231.9,147.7 232.2,148.7 232.5,149.5 232.9,150.1 233.2,150.6 233.5,150.9 233.8,151.0 234.2,150.9 234.5,150.6 234.8,150.2 235.1,149.5 235.5,148.7 235.8,147.8 236.1,146.6 236.4,145.4 236.8,144.1 237.1,142.6 237.4,141.1 237.7,139.5 238.1,137.9 238.4,136.3 238.7,134.7 239.1,133.1 239.4,131.5 239.7,130.1 240.0,128.8 240.4,127.5 240.7,126.4 241.0,125.5 241.3,124.7 241.7,124.1 242.0,123.6 242.3,123.4 242.6,123.4 243.0,123.5 243.3,123.9 243.6,124.4 243.9,125.1 244.3,126.0 244.6,127.1 244.9,128.3 245.2,129.6 245.6,131.1 245.9,132.6 246.2,134.2 246.6,135.9 246.9,137.6 247.2,139.3 247.5,141.0 247.9,142.6 248.2,144.2 248.5,145.7 248.8,147.0 249.2,148.3 249.5,149.4 249.8,150.3 250.1,151.1 250.5,151.6 250.8,152.0 251.1,152.2 251.4,152.1 251.8,151.9 252.1,151.4 252.4,150.8 252.7,149.9 253.1,148.9 253.4,147.7 253.7,146.3 254.1,144.9 254.4,143.3 254.7,141.6 255.0,139.8 255.4,138.0 255.7,136.2 256.0,134.4 256.3,132.7 256.7,131.0 257.0,129.3 257.3,127.8 257.6,126.4 258.0,125.2 258.3,124.1 258.6,123.2 258.9,122.5 259.3,122.0 259.6,121.8 259.9,121.7 260.3,121.9 260.6,122.3 260.9,122.9 261.2,123.7 261.6,124.7 261.9,126.0 262.2,127.3 262.5,128.9 262.9,130.5 263.2,132.3 263.5,134.1 263.8,136.0 264.2,138.0 264.5,139.9 264.8,141.8 265.1,143.7 265.5,145.4 265.8,147.1 266.1,148.7 266.4,150.0 266.8,151.3 267.1,152.3 267.4,153.1 267.8,153.7 268.1,154.0 268.4,154.2 268.7,154.0 269.1,153.7 269.4,153.1 269.7,152.3 270.0,151.2 270.4,150.0 270.7,148.6 271.0,147.0 271.3,145.2 271.7,143.3 272.0,141.4 272.3,139.3 272.6,137.3 273.0,135.2 273.3,133.1 273.6,131.1 274.0,129.2 274.3,127.4 274.6,125.7 274.9,124.2 275.3,122.8 275.6,121.7 275.9,120.8 276.2,120.1 276.6,119.7 276.9,119.5 277.2,119.5 277.5,119.9 277.9,120.5 278.2,121.3 278.5,122.4 278.8,123.7 279.2,125.2 279.5,126.9 279.8,128.8 280.1,130.8 280.5,132.9 280.8,135.0 281.1,137.2 281.5,139.5 281.8,141.7 282.1,143.9 282.4,145.9 282.8,147.9 283.1,149.7 283.4,151.4 283.7,152.9 284.1,154.1 284.4,155.1 284.7,155.9 285.0,156.4 285.4,156.6 285.7,156.5 286.0,156.2 286.3,155.5 286.7,154.7 287.0,153.5 287.3,152.1 287.6,150.5 288.0,148.7 288.3,146.7 288.6,144.6 289.0,142.4 289.3,140.0 289.6,137.7 289.9,135.3 290.3,132.9 290.6,130.6 290.9,128.3 291.2,126.2 291.6,124.3 291.9,122.5 292.2,120.9 292.5,119.6 292.9,118.5 293.2,117.7 293.5,117.2 293.8,116.9 294.2,117.0 294.5,117.4 294.8,118.0 295.2,119.0 295.5,120.2 295.8,121.7 296.1,123.4 296.5,125.4 296.8,127.5 297.1,129.8 297.4,132.2 297.8,134.7 298.1,137.2 298.4,139.8 298.7,142.3 299.1,144.8 299.4,147.2 299.7,149.4 300.0,151.5 300.4,153.4 300.7,155.1 301.0,156.5 301.3,157.6 301.7,158.4 302.0,159.0 302.3,159.2 302.7,159.1 303.0,158.7 303.3,157.9 303.6,156.9 304.0,155.5 304.3,153.9 304.6,152.1 304.9,150.0 305.3,147.7 305.6,145.3 305.9,142.7 306.2,140.0 306.6,137.3 306.9,134.6 307.2,131.9 307.5,129.3 307.9,126.7 308.2,124.4 308.5,122.2 308.9,120.2 309.2,118.5 309.5,117.0 309.8,115.8 310.2,115.0 310.5,114.5 310.8,114.3 311.1,114.4 311.5,114.9 311.8,115.8 312.1,116.9 312.4,118.4 312.8,120.1 313.1,122.2 313.4,124.4 313.7,126.9 314.1,129.5 314.4,132.2 314.7,135.1 315.0,137.9 315.4,140.8 315.7,143.7 316.0,146.4 316.4,149.1 316.7,151.6 317.0,153.9 317.3,155.9 317.7,157.7 318.0,159.2 318.3,160.4 318.6,161.2 319.0,161.7 319.3,161.8 319.6,161.6 319.9,161.0 320.3,160.1 320.6,158.8 320.9,157.2 321.2,155.2 321.6,153.1 321.9,150.6 322.2,148.0 322.5,145.2 322.9,142.3 323.2,139.3 323.5,136.2 323.9,133.2 324.2,130.2 324.5,127.3 324.8,124.5 325.2,121.9 325.5,119.6 325.8,117.5 326.1,115.7 326.5,114.2 326.8,113.0 327.1,112.2 327.4,111.8 327.8,111.7 328.1,112.0 328.4,112.8 328.7,113.8 329.1,115.3 329.4,117.0 329.7,119.1 330.1,121.5 330.4,124.1 330.7,126.9 331.0,129.9 331.4,133.0 331.7,136.2 332.0,139.4 332.3,142.6 332.7,145.7 333.0,148.7 333.3,151.6 333.6,154.3 334.0,156.7 334.3,158.8 334.6,160.6 334.9,162.1 335.3,163.2 335.6,164.0 335.9,164.3 336.2,164.3 336.6,163.8 336.9,163.0 337.2,161.7 337.6,160.1 337.9,158.2 338.2,155.9 338.5,153.4 338.9,150.6 339.2,147.6 339.5,144.4 339.8,141.1 340.2,137.8 340.5,134.4 340.8,131.1 341.1,127.8 341.5,124.7 341.8,121.8 342.1,119.1 342.4,116.6 342.8,114.5 343.1,112.6 343.4,111.2 343.8,110.1 344.1,109.5 344.4,109.2 344.7,109.4 345.1,110.0 345.4,111.0 345.7,112.4 346.0,114.2 346.4,116.3 346.7,118.8 347.0,121.5 347.3,124.5 347.7,127.7 348.0,131.1 348.3,134.5 348.6,138.0 349.0,141.5 349.3,145.0 349.6,148.4 349.9,151.6 350.3,154.6 350.6,157.3 350.9,159.8 351.3,161.9 351.6,163.7 351.9,165.1 352.2,166.0 352.6,166.6 352.9,166.7 353.2,166.4 353.5,165.6 353.9,164.5 354.2,162.9 354.5,160.9 354.8,158.6 355.2,155.9 355.5,153.0 355.8,149.8 356.1,146.4 356.5,142.9 356.8,139.3 357.1,135.6 357.4,132.0 357.8,128.4 358.1,125.0 358.4,121.7 358.8,118.6 359.1,115.9 359.4,113.4 359.7,111.3 360.1,109.6 360.4,108.3 360.7,107.4 361.0,107.0 361.4,107.0 361.7,107.5 362.0,108.5 362.3,109.8 362.7,111.6 363.0,113.8 363.3,116.3 363.6,119.2 364.0,122.3 364.3,125.7 364.6,129.3 365.0,133.0 365.3,136.7 365.6,140.5 365.9,144.3 366.3,147.9 366.6,151.4 366.9,154.7 367.2,157.8 367.6,160.6 367.9,163.0 368.2,165.0 368.5,166.6 368.9,167.8 369.2,168.6 369.5,168.9 369.8,168.7 370.2,168.0 370.5,166.9 370.8,165.3 371.1,163.3 371.5,160.9 371.8,158.2 372.1,155.1 372.5,151.8 372.8,148.2 373.1,144.5 373.4,140.6 373.8,136.7 374.1,132.8 374.4,129.0 374.7,125.2 375.1,121.7 375.4,118.4 375.7,115.3 376.0,112.6 376.4,110.2 376.7,108.3 377.0,106.8 377.3,105.7 377.7,105.1 378.0,105.0 378.3,105.4 378.7,106.2 379.0,107.6 379.3,109.3 379.6,111.6 380.0,114.2 380.3,117.1 380.6,120.4 380.9,123.9 381.3,127.6 381.6,131.5 381.9,135.5 382.2,139.5 382.6,143.6 382.9,147.5 383.2,151.2 383.5,154.8 383.9,158.1 384.2,161.2 384.5,163.8 384.8,166.1 385.2,167.9 385.5,169.3 385.8,170.3 386.2,170.7 386.5,170.6 386.8,170.0 387.1,169.0 387.5,167.4 387.8,165.4 388.1,163.0 388.4,160.2 388.8,157.0 389.1,153.6 389.4,149.9 389.7,145.9 390.1,141.9 390.4,137.8 390.7,133.7 391.0,129.6 391.4,125.6 391.7,121.8 392.0,118.2 392.3,114.9 392.7,112.0 393.0,109.4 393.3,107.2 393.7,105.5 394.0,104.3 394.3,103.5 394.6,103.3 395.0,103.6 395.3,104.3 395.6,105.6 395.9,107.4 396.3,109.6 396.6,112.3 396.9,115.3 397.2,118.6 397.6,122.3 397.9,126.2 398.2,130.2 398.5,134.4 398.9,138.6 399.2,142.8 399.5,147.0 399.9,151.0 400.2,154.8 400.5,158.3 400.8,161.6 401.2,164.4 401.5,166.9 401.8,169.0 402.1,170.5 402.5,171.6 402.8,172.2 403.1,172.2 403.4,171.7 403.8,170.7 404.1,169.2 404.4,167.2 404.7,164.8 405.1,161.9 405.4,158.7 405.7,155.1 406.0,151.3 406.4,147.3 406.7,143.1 407.0,138.8 407.4,134.5 407.7,130.2 408.0,126.0 408.3,122.0 408.7,118.3 409.0,114.8 409.3,111.6 409.6,108.8 410.0,106.5 410.3,104.6 410.6,103.2 410.9,102.3 411.3,101.9 411.6,102.1 411.9,102.8 412.2,104.0 412.6,105.8 412.9,108.0 413.2,110.6 413.6,113.7 413.9,117.1 414.2,120.9 414.5,124.8 414.9,129.0 415.2,133.3 415.5,137.7 415.8,142.1 416.2,146.4 416.5,150.6 416.8,154.6 417.1,158.3 417.5,161.7 417.8,164.8 418.1,167.4 418.4,169.7 418.8,171.4 419.1,172.6 419.4,173.3 419.7,173.4 420.1,173.0 420.4,172.1 420.7,170.6 421.1,168.7 421.4,166.2 421.7,163.4 422.0,160.1 422.4,156.5 422.7,152.6 423.0,148.5 423.3,144.2 423.7,139.7 424.0,135.3 424.3,130.9 424.6,126.6 425.0,122.4 425.3,118.4 425.6,114.8 425.9,111.4 426.3,108.5 426.6,106.0 426.9,104.0 427.2,102.4 427.6,101.4 427.9,101.0 428.2,101.0 428.6,101.7 428.9,102.8 429.2,104.5 429.5,106.7 429.9,109.3 430.2,112.4 430.5,115.9 430.8,119.7 431.2,123.7 431.5,128.0 431.8,132.4 432.1,136.8 432.5,141.3 432.8,145.8 433.1,150.1 433.4,154.2 433.8,158.1 434.1,161.7 434.4,164.9 434.8,167.7 435.1,170.0 435.4,171.9 435.7,173.2 436.1,174.0 436.4,174.2 436.7,173.9 437.0,173.1 437.4,171.7 437.7,169.8 438.0,167.4 438.3,164.5 438.7,161.2 439.0,157.6 439.3,153.7 439.6,149.5 440.0,145.1 440.3,140.6 440.6,136.1 440.9,131.6 441.3,127.1 441.6,122.9 441.9,118.8 442.3,115.0 442.6,111.6 442.9,108.5 443.2,105.9 443.6,103.7 443.9,102.0 444.2,100.9 444.5,100.4 444.9,100.3 445.2,100.9 445.5,102.0 445.8,103.6 446.2,105.7 446.5,108.4 446.8,111.4 447.1,114.9 447.5,118.7 447.8,122.7 448.1,127.0 448.4,131.5 448.8,136.0 449.1,140.6 449.4,145.1 449.8,149.5 450.1,153.7 450.4,157.7 450.7,161.4 451.1,164.7 451.4,167.6 451.7,170.1 452.0,172.0 452.4,173.5 452.7,174.4 453.0,174.7 453.3,174.5 453.7,173.7 454.0,172.4 454.3,170.5 454.6,168.2 455.0,165.3 455.3,162.1 455.6,158.5 456.0,154.6 456.3,150.4 456.6,146.0 456.9,141.5 457.3,136.9 457.6,132.3 457.9,127.8 458.2,123.5 458.6,119.3 458.9,115.5 459.2,111.9 459.5,108.8 459.9,106.0 460.2,103.8 460.5,102.0 460.8,100.8 461.2,100.2 461.5,100.1 461.8,100.5 462.1,101.5 462.5,103.1 462.8,105.1 463.1,107.7 463.5,110.7 463.8,114.1 464.1,117.9 464.4,121.9 464.8,126.2 465.1,130.7 465.4,135.2 465.7,139.8 466.1,144.3 466.4,148.8 466.7,153.1 467.0,157.1 467.4,160.8 467.7,164.2 468.0,167.2 468.3,169.7 468.7,171.8 469.0,173.3 469.3,174.3 469.7,174.7 470.0,174.6 470.3,173.9 470.6,172.7 471.0,170.9 471.3,168.6 471.6,165.9 471.9,162.7 472.3,159.1 472.6,155.3 472.9,151.1 473.2,146.8 473.6,142.3 473.9,137.7 474.2,133.1 474.5,128.6 474.9,124.2 475.2,120.1 475.5,116.2 475.8,112.6 476.2,109.4 476.5,106.6 476.8,104.2 477.2,102.4 477.5,101.1 477.8,100.4 478.1,100.2 478.5,100.5 478.8,101.4 479.1,102.9 479.4,104.9 479.8,107.4 480.1,110.3 480.4,113.6 480.7,117.3 481.1,121.3 481.4,125.5 481.7,129.9 482.0,134.4 482.4,139.0 482.7,143.5 483.0,148.0 483.3,152.2 483.7,156.3 484.0,160.0 484.3,163.5 484.7,166.5 485.0,169.1 485.3,171.2 485.6,172.8 486.0,173.9 486.3,174.4 486.6,174.3 486.9,173.7 487.3,172.6 487.6,170.9 487.9,168.8 488.2,166.1 488.6,163.0 488.9,159.6 489.2,155.8 489.5,151.7 489.9,147.4 490.2,143.0 490.5,138.5 490.9,134.0 491.2,129.5 491.5,125.2 491.8,121.0 492.2,117.1 492.5,113.5 492.8,110.2 493.1,107.4 493.5,105.0 493.8,103.2 494.1,101.8 494.4,101.0 494.8,100.7 495.1,100.9 495.4,101.8 495.7,103.1 496.1,105.0 496.4,107.3 496.7,110.1 497.0,113.3 497.4,116.9 497.7,120.8 498.0,124.9 498.4,129.2 498.7,133.7 499.0,138.1 499.3,142.6 499.7,147.0 500.0,151.2 500.3,155.2 500.6,159.0 501.0,162.4 501.3,165.5 501.6,168.1 501.9,170.2 502.3,171.9 502.6,173.0 502.9,173.6 503.2,173.7 503.6,173.2 503.9,172.2 504.2,170.6 504.6,168.6 504.9,166.1 505.2,163.1 505.5,159.8 505.9,156.1 506.2,152.2 506.5,148.0 506.8,143.7 507.2,139.3 507.5,134.9 507.8,130.5 508.1,126.2 508.5,122.1 508.8,118.3 509.1,114.7 509.4,111.4 509.8,108.6 510.1,106.2 510.4,104.3 510.7,102.8 511.1,101.9 511.4,101.6 511.7,101.7 512.1,102.4 512.4,103.7 512.7,105.4 513.0,107.6 513.4,110.3 513.7,113.3 514.0,116.7 514.3,120.5 514.7,124.4 515.0,128.6 515.3,132.9 515.6,137.3 516.0,141.6 516.3,145.9 516.6,150.0 516.9,154.0 517.3,157.7 517.6,161.1 517.9,164.1 518.2,166.7 518.6,168.9 518.9,170.6 519.2,171.8 519.6,172.5 519.9,172.6 520.2,172.3 520.5,171.4 520.9,170.0 521.2,168.1 521.5,165.7 521.8,162.9 522.2,159.8 522.5,156.3 522.8,152.5 523.1,148.5 523.5,144.4 523.8,140.1 524.1,135.9 524.4,131.6 524.8,127.4 525.1,123.4 525.4,119.6 525.8,116.1 526.1,112.9 526.4,110.1 526.7,107.7 527.1,105.8 527.4,104.3 527.7,103.3 528.0,102.8 528.4,102.9 528.7,103.5 529.0,104.6 529.3,106.1 529.7,108.2 530.0,110.7 530.3,113.5 530.6,116.8 531.0,120.3 531.3,124.1 531.6,128.0 531.9,132.2 532.3,136.3 532.6,140.5 532.9,144.7 533.3,148.7 533.6,152.5 533.9,156.1 534.2,159.5 534.6,162.4 534.9,165.1 535.2,167.2 535.5,169.0 535.9,170.2 536.2,171.0 536.5,171.2 536.8,171.0 537.2,170.2 537.5,169.0 537.8,167.3 538.1,165.1 538.5,162.5 538.8,159.6 539.1,156.3 539.5,152.7 539.8,149.0 540.1,145.0 540.4,141.0 540.8,136.9 541.1,132.8 541.4,128.8 541.7,124.9 542.1,121.3 542.4,117.8 542.7,114.7 543.0,112.0 543.4,109.6 543.7,107.6 544.0,106.1 544.3,105.0 544.7,104.5 545.0,104.4 545.3,104.9 545.6,105.8 546.0,107.2 546.3,109.0 546.6,111.3 547.0,113.9 547.3,116.9 547.6,120.2 547.9,123.8 548.3,127.5 548.6,131.4 548.9,135.4 549.2,139.4 549.6,143.3 549.9,147.2 550.2,150.9 550.5,154.4 550.9,157.6 551.2,160.5 551.5,163.1 551.8,165.2 552.2,167.0 552.5,168.3 552.8,169.1 553.1,169.5 553.5,169.4 553.8,168.8 554.1,167.7 554.5,166.2 554.8,164.2 555.1,161.9 555.4,159.2 555.8,156.2 556.1,152.9 556.4,149.3 556.7,145.6 557.1,141.8 557.4,138.0 557.7,134.1 558.0,130.3 558.4,126.6 558.7,123.1 559.0,119.8 559.3,116.8 559.7,114.1 560.0,111.7 560.3,109.8 560.7,108.2 561.0,107.1 561.3,106.5 561.6,106.3 562.0,106.6 562.3,107.3 562.6,108.5 562.9,110.1 563.3,112.2 563.6,114.6 563.9,117.3 564.2,120.3 564.6,123.6 564.9,127.1 565.2,130.7 565.5,134.4 565.9,138.1 566.2,141.8 566.5,145.5 566.8,149.0 567.2,152.3 567.5,155.4 567.8,158.2 568.2,160.7 568.5,162.9 568.8,164.6 569.1,166.0 569.5,166.9 569.8,167.4 570.1,167.4 570.4,167.0 570.8,166.1 571.1,164.8 571.4,163.1 571.7,161.0 572.1,158.6 572.4,155.9 572.7,152.9 573.0,149.6 573.4,146.2 573.7,142.7 574.0,139.1 574.4,135.5 574.7,132.0 575.0,128.5 575.3,125.2 575.7,122.0 576.0,119.1 576.3,116.5 576.6,114.2 577.0,112.3 577.3,110.7 577.6,109.5 577.9,108.8 578.3,108.5 578.6,108.6 578.9,109.2 579.2,110.1 579.6,111.5 579.9,113.2 580.2,115.4 580.5,117.8 580.9,120.5 581.2,123.5 581.5,126.6 581.9,129.9 582.2,133.3 582.5,136.8 582.8,140.3 583.2,143.7 583.5,147.0 583.8,150.1 584.1,153.0 584.5,155.7 584.8,158.2 585.1,160.3 585.4,162.0 585.8,163.4 586.1,164.4 586.4,165.0 586.7,165.2 587.1,164.9 587.4,164.3 587.7,163.2 588.0,161.8 588.4,160.0 588.7,157.9 589.0,155.5 589.4,152.8 589.7,149.9 590.0,146.8 590.3,143.6 590.7,140.4 591.0,137.0 591.3,133.7 591.6,130.5 592.0,127.4 592.3,124.4 592.6,121.7 592.9,119.2 593.3,116.9 593.6,115.0 593.9,113.5 594.2,112.2 594.6,111.4 594.9,110.9 595.2,110.9 595.6,111.2 595.9,112.0 596.2,113.1 596.5,114.5 596.9,116.3 597.2,118.4 597.5,120.8 597.8,123.4 598.2,126.2 598.5,129.2 598.8,132.3 599.1,135.4 599.5,138.6 599.8,141.7 600.1,144.7 600.4,147.7 600.8,150.4 601.1,153.0 601.4,155.3 601.7,157.4 602.1,159.1 602.4,160.5 602.7,161.6 603.1,162.3 603.4,162.6 603.7,162.6 604.0,162.2 604.4,161.4 604.7,160.3 605.0,158.8 605.3,157.0 605.7,155.0 606.0,152.6 606.3,150.1 606.6,147.4 607.0,144.6 607.3,141.6 607.6,138.6 607.9,135.6 608.3,132.7 608.6,129.8 608.9,127.1 609.2,124.5 609.6,122.1 609.9,119.9 610.2,118.1 610.6,116.5 610.9,115.2 611.2,114.3 611.5,113.7 611.9,113.4 612.2,113.6 612.5,114.0 612.8,114.8 613.2,116.0 613.5,117.4 613.8,119.2 614.1,121.2 614.5,123.4 614.8,125.8 615.1,128.4 615.4,131.1 615.8,133.9 616.1,136.8 616.4,139.6 616.8,142.4 617.1,145.1 617.4,147.6 617.7,150.0 618.1,152.3 618.4,154.2 618.7,156.0 619.0,157.4 619.4,158.6 619.7,159.4 620.0,159.9 620.3,160.1 620.7,159.9 621.0,159.4 621.3,158.6 621.6,157.4 622.0,156.0 622.3,154.3 622.6,152.4 622.9,150.3 623.3,148.0 623.6,145.5 623.9,142.9 624.3,140.3 624.6,137.6 624.9,135.0 625.2,132.4 625.6,129.8 625.9,127.4 626.2,125.2 626.5,123.2 626.9,121.3 627.2,119.7 627.5,118.4 627.8,117.4 628.2,116.6 628.5,116.2 628.8,116.1 629.1,116.3 629.5,116.8 629.8,117.6 630.1,118.7 630.5,120.0 630.8,121.6 631.1,123.4 631.4,125.5 631.8,127.7 632.1,130.0 632.4,132.4 632.7,134.9 633.1,137.4 633.4,139.9 633.7,142.3 634.0,144.7 634.4,146.9 634.7,149.0 635.0,150.9 635.3,152.6 635.7,154.1 636.0,155.3 636.3,156.3 636.6,156.9 637.0,157.3 637.3,157.4 637.6,157.2 638.0,156.7 638.3,156.0 638.6,154.9 638.9,153.7 639.3,152.1 639.6,150.4 639.9,148.5 640.2,146.5 640.6,144.3 640.9,142.0 641.2,139.7 641.5,137.4 641.9,135.1 642.2,132.8 642.5,130.6 642.8,128.5 643.2,126.5 643.5,124.8 643.8,123.2 644.1,121.8 644.5,120.7 644.8,119.8 645.1,119.1 645.5,118.8 645.8,118.7 646.1,118.8 646.4,119.3 646.8,120.0 647.1,120.9 647.4,122.1 647.7,123.5 648.1,125.1 648.4,126.9 648.7,128.8 649.0,130.8 649.4,132.9 649.7,135.1 650.0,137.3 650.3,139.4 650.7,141.6 651.0,143.6 651.3,145.6 651.7,147.4 652.0,149.1 652.3,150.6 652.6,151.9 653.0,153.0 653.3,153.8 653.6,154.4 653.9,154.8 654.3,154.9 654.6,154.8 654.9,154.4 655.2,153.8 655.6,152.9 655.9,151.8 656.2,150.5 656.5,149.1 656.9,147.5 657.2,145.7 657.5,143.8 657.8,141.9 658.2,139.9 658.5,137.9 658.8,135.8 659.2,133.9 659.5,131.9 659.8,130.1 660.1,128.4 660.5,126.8 660.8,125.3 661.1,124.1 661.4,123.0 661.8,122.2 662.1,121.6 662.4,121.2 662.7,121.0 663.1,121.1 663.4,121.4 663.7,121.9 664.0,122.7 664.4,123.7 664.7,124.8 665.0,126.1 665.4,127.6 665.7,129.2 666.0,130.9 666.3,132.7 666.7,134.6 667.0,136.5 667.3,138.3 667.6,140.2 668.0,142.0 668.3,143.8 668.6,145.4 668.9,146.9 669.3,148.3 669.6,149.5 669.9,150.6 670.2,151.4 670.6,152.1 670.9,152.5 671.2,152.7 671.5,152.7 671.9,152.5 672.2,152.1 672.5,151.5 672.9,150.6 673.2,149.6 673.5,148.5 673.8,147.1 674.2,145.7 674.5,144.1 674.8,142.5 675.1,140.7 675.5,139.0 675.8,137.2 676.1,135.5 676.4,133.7 676.8,132.1 677.1,130.5 677.4,129.0 677.7,127.6 678.1,126.4 678.4,125.4 678.7,124.5 679.0,123.8 679.4,123.3 679.7,123.0 680.0,122.9 680.4,123.0 680.7,123.3 681.0,123.8 681.3,124.5 681.7,125.4 682.0,126.4 682.3,127.6 682.6,128.9 683.0,130.3 683.3,131.8 683.6,133.4 683.9,135.1 684.3,136.7 684.6,138.4 684.9,140.0 685.2,141.6 685.6,143.2 685.9,144.7 686.2,146.0 686.6,147.2 686.9,148.3 687.2,149.3 687.5,150.0 687.9,150.6 688.2,151.0 688.5,151.2 688.8,151.2 689.2,151.1 689.5,150.7 689.8,150.2 690.1,149.4 690.5,148.6 690.8,147.5 691.1,146.3 691.4,145.1 691.8,143.7 692.1,142.2 692.4,140.6 692.7,139.0 693.1,137.4 693.4,135.8 693.7,134.3 694.1,132.7 694.4,131.3 694.7,129.9 695.0,128.6 695.4,127.5 695.7,126.5 696.0,125.6 696.3,125.0 696.7,124.4 697.0,124.1 697.3,123.9 697.6,124.0 698.0,124.2 698.3,124.6 698.6,125.2 698.9,125.9 699.3,126.8 699.6,127.9 699.9,129.0 700.3,130.3 700.6,131.7 700.9,133.2 701.2,134.7 701.6,136.3 701.9,137.8 702.2,139.4 702.5,140.9 702.9,142.4 703.2,143.8 703.5,145.2 703.8,146.4 704.2,147.5 704.5,148.4 704.8,149.2 705.1,149.9 705.5,150.4 705.8,150.6 706.1,150.8 706.4,150.7 706.8,150.4 707.1,150.0 707.4,149.4 707.8,148.6 708.1,147.7 708.4,146.6 708.7,145.4 709.1,144.1 709.4,142.7 709.7,141.2 710.0,139.7 710.4,138.1 710.7,136.5 711.0,134.9 711.3,133.4 711.7,131.9 712.0,130.5 712.3,129.2 712.6,128.0 713.0,126.9 713.3,126.0 713.6,125.2 713.9,124.6 714.3,124.2 714.6,123.9 714.9,123.9 715.3,124.0 715.6,124.3 715.9,124.8 716.2,125.5 716.6,126.3 716.9,127.3 717.2,128.4 717.5,129.7 717.9,131.0 718.2,132.5 718.5,134.0 718.8,135.6 719.2,137.2 719.5,138.8 719.8,140.4 720.1,142.0 720.5,143.5 720.8,144.9 721.1,146.3 721.5,147.5 721.8,148.5 722.1,149.5 722.4,150.2 722.8,150.8 723.1,151.2 723.4,151.4 723.7,151.4 724.1,151.2 724.4,150.8 724.7,150.2 725.0,149.5 725.4,148.6 725.7,147.5 726.0,146.3 726.3,144.9 726.7,143.4 727.0,141.9 727.3,140.3 727.6,138.6 728.0,136.9 728.3,135.2 728.6,133.5 729.0,131.9 729.3,130.4 729.6,128.9 729.9,127.6 730.3,126.4 730.6,125.3 730.9,124.4 731.2,123.7 731.6,123.1 731.9,122.8 732.2,122.7 732.5,122.8 732.9,123.1 733.2,123.6 733.5,124.2 733.8,125.1 734.2,126.2 734.5,127.4 734.8,128.7 735.2,130.2 735.5,131.8 735.8,133.5 736.1,135.3 736.5,137.1 736.8,138.9 737.1,140.6 737.4,142.4 737.8,144.1 738.1,145.7 738.4,147.2 738.7,148.5 739.1,149.7 739.4,150.8 739.7,151.6 740.0,152.3 740.4,152.7 740.7,153.0 741.0,153.0 741.3,152.8 741.7,152.3 742.0,151.7 742.3,150.9 742.7,149.8 743.0,148.6 743.3,147.2 743.6,145.6 744.0,144.0 744.3,142.2 744.6,140.4 744.9,138.5 745.3,136.5 745.6,134.6 745.9,132.7 746.2,130.9 746.6,129.1 746.9,127.5 747.2,126.0 747.5,124.6 747.9,123.5 748.2,122.5 748.5,121.7 748.8,121.1 749.2,120.8 749.5,120.7 749.8,120.9 750.2,121.3 750.5,121.9 750.8,122.8 751.1,123.8 751.5,125.1 751.8,126.5 752.1,128.2 752.4,129.9 752.8,131.8 753.1,133.7 753.4,135.8 753.7,137.8 754.1,139.9 754.4,141.9 754.7,143.9 755.0,145.8 755.4,147.6 755.7,149.3 756.0,150.8 756.4,152.1 756.7,153.2 757.0,154.1 757.3,154.7 757.7,155.1 758.0,155.2 758.3,155.1 758.6,154.7 759.0,154.1 759.3,153.2 759.6,152.1 759.9,150.8 760.3,149.3 760.6,147.6 760.9,145.7 761.2,143.7 761.6,141.6 761.9,139.4 762.2,137.2 762.5,135.0 762.9,132.8 763.2,130.7 763.5,128.6 763.9,126.7 764.2,124.9 764.5,123.3 764.8,121.8 765.2,120.6 765.5,119.7 765.8,118.9 766.1,118.5 766.5,118.3 766.8,118.4 767.1,118.8 767.4,119.5 767.8,120.4 768.1,121.5 768.4,123.0 768.7,124.6 769.1,126.4 769.4,128.4 769.7,130.5 770.1,132.8 770.4,135.1 770.7,137.5 771.0,139.9 771.4,142.2 771.7,144.5 772.0,146.7 772.3,148.8 772.7,150.7 773.0,152.5 773.3,154.0 773.6,155.3 774.0,156.3 774.3,157.1 774.6,157.6 774.9,157.8 775.3,157.7 775.6,157.3 775.9,156.6 776.2,155.6 776.6,154.3 776.9,152.8 777.2,151.1 777.6,149.1 777.9,147.0 778.2,144.7 778.5,142.3 778.9,139.8 779.2,137.2 779.5,134.7 779.8,132.2 780.2,129.7 780.5,127.4 780.8,125.2 781.1,123.1 781.5,121.3 781.8,119.6 782.1,118.3 782.4,117.2 782.8,116.4 783.1,115.9 783.4,115.7 783.7,115.9 784.1,116.3 784.4,117.1 784.7,118.2 785.1,119.5 785.4,121.2 785.7,123.0 786.0,125.1 786.4,127.4 786.7,129.9 787.0,132.5 787.3,135.1 787.7,137.8 788.0,140.5 788.3,143.2 788.6,145.8 789.0,148.3 789.3,150.7 789.6,152.8 789.9,154.7 790.3,156.4 790.6,157.9 790.9,159.0 791.3,159.8 791.6,160.3 791.9,160.4 792.2,160.2 792.6,159.7 792.9,158.8 793.2,157.6 793.5,156.1 793.9,154.4 794.2,152.3 794.5,150.1 794.8,147.6 795.2,145.0 795.5,142.2 795.8,139.4 796.1,136.5 796.5,133.6 796.8,130.8 797.1,128.1 797.4,125.4 797.8,123.0 798.1,120.7 798.4,118.7 798.8,117.0 799.1,115.5 799.4,114.4 799.7,113.6 800.1,113.2 800.4,113.1 800.7,113.4 801.0,114.0 801.4,115.0 801.7,116.3 802.0,117.9 802.3,119.9 802.7,122.1 803.0,124.5 803.3,127.2 803.6,130.0 804.0,132.9 804.3,135.9 804.6,138.9 805.0,142.0 805.3,144.9 805.6,147.8 805.9,150.5 806.3,153.1 806.6,155.4 806.9,157.5 807.2,159.2 807.6,160.7 807.9,161.8 808.2,162.6 808.5,163.0 808.9,163.0 809.2,162.6 809.5,161.8 809.8,160.7 810.2,159.2 810.5,157.4 810.8,155.3 811.1,153.0 811.5,150.3 811.8,147.5 812.1,144.5 812.5,141.4 812.8,138.2 813.1,135.0 813.4,131.9 813.8,128.8 814.1,125.8 814.4,122.9 814.7,120.3 815.1,117.9 815.4,115.8 815.7,114.1 816.0,112.6 816.4,111.5 816.7,110.9 817.0,110.6 817.3,110.6 817.7,111.1 818.0,112.0 818.3,113.3 818.6,114.9 819.0,116.9 819.3,119.2 819.6,121.8 820.0,124.6 820.3,127.6 820.6,130.8 820.9,134.1 821.3,137.4 821.6,140.8 821.9,144.1 822.2,147.3 822.6,150.4 822.9,153.3 823.2,156.0 823.5,158.4 823.9,160.5 824.2,162.3 824.5,163.7 824.8,164.7 825.2,165.3 825.5,165.5 825.8,165.3 826.2,164.6 826.5,163.6 826.8,162.1 827.1,160.3 827.5,158.1 827.8,155.7 828.1,152.9 828.4,149.9 828.8,146.7 829.1,143.3 829.4,139.9 829.7,136.4 830.1,132.9 830.4,129.5 830.7,126.1 831.0,123.0 831.4,120.0 831.7,117.3 832.0,114.9 832.3,112.8 832.7,111.0 833.0,109.7 833.3,108.8 833.7,108.3 834.0,108.2 834.3,108.6 834.6,109.4 835.0,110.6 835.3,112.2 835.6,114.2 835.9,116.6 836.3,119.3 836.6,122.2 836.9,125.4 837.2,128.8 837.6,132.3 837.9,135.9 838.2,139.6 838.5,143.2 838.9,146.8 839.2,150.2 839.5,153.4 839.8,156.4 840.2,159.1 840.5,161.5 840.8,163.6 841.2,165.3 841.5,166.5 841.8,167.3 842.1,167.7 842.5,167.6 842.8,167.1 843.1,166.1 843.4,164.7 843.8,162.9 844.1,160.7 844.4,158.1 844.7,155.2 845.1,152.1 845.4,148.7 845.7,145.1 846.0,141.4 846.4,137.7 846.7,133.9 847.0,130.1 847.4,126.5 847.7,123.0 848.0,119.8 848.3,116.7 848.7,114.0 849.0,111.7 849.3,109.7 849.6,108.1 850.0,106.9 850.3,106.3 850.6,106.0 850.9,106.3 851.3,107.0 851.6,108.2 851.9,109.8 852.2,111.8 852.6,114.2 852.9,117.0 853.2,120.1 853.5,123.4 853.9,127.0 854.2,130.7 854.5,134.6 854.9,138.5 855.2,142.4 855.5,146.2 855.8,149.9 856.2,153.4 856.5,156.7 856.8,159.7 857.1,162.4 857.5,164.7 857.8,166.6 858.1,168.1 858.4,169.1 858.8,169.6 859.1,169.7 859.4,169.3 859.7,168.4 860.1,167.0 860.4,165.2 860.7,162.9 861.1,160.3 861.4,157.3 861.7,154.0 862.0,150.5 862.4,146.7 862.7,142.8 863.0,138.9 863.3,134.8 863.7,130.8 864.0,126.9 864.3,123.2 864.6,119.7 865.0,116.4 865.3,113.4 865.6,110.8 865.9,108.6 866.3,106.8 866.6,105.4 866.9,104.6 867.2,104.2 867.6,104.3 867.9,104.9 868.2,106.0 868.6,107.6 868.9,109.7 869.2,112.1 869.5,115.0 869.9,118.2 870.2,121.6 870.5,125.4 870.8,129.3 871.2,133.3 871.5,137.4 871.8,141.6 872.1,145.6 872.5,149.6 872.8,153.3 873.1,156.9 873.4,160.1 873.8,163.1 874.1,165.6 874.4,167.7 874.7,169.4 875.1,170.6 875.4,171.3 875.7,171.4 876.1,171.1 876.4,170.3 876.7,168.9 877.0,167.1 877.4,164.9 877.7,162.2 878.0,159.2 878.3,155.8 878.7,152.1 879.0,148.2 879.3,144.1 879.6,140.0 880.0,135.8 880.3,131.6 880.6,127.4 880.9,123.5 881.3,119.7 881.6,116.2 881.9,113.0 882.3,110.1 882.6,107.7 882.9,105.7 883.2,104.2 883.6,103.2 883.9,102.7 884.2,102.7 884.5,103.2 884.9,104.3 885.2,105.8 885.5,107.9 885.8,110.4 886.2,113.2 886.5,116.5 886.8,120.1 887.1,123.9 887.5,128.0 887.8,132.2 888.1,136.4 888.4,140.8 888.8,145.0 889.1,149.2 889.4,153.1 889.8,156.9 890.1,160.4 890.4,163.5 890.7,166.2 891.1,168.5 891.4,170.3 891.7,171.7 892.0,172.5 892.4,172.8 892.7,172.6 893.0,171.8 893.3,170.6 893.7,168.8 894.0,166.5 894.3,163.8 894.6,160.7 895.0,157.3 895.3,153.5 895.6,149.5 896.0,145.3 896.3,141.0 896.6,136.6 896.9,132.3 897.3,128.0 897.6,123.8 897.9,119.9 898.2,116.2 898.6,112.8 898.9,109.7 899.2,107.1 899.5,105.0 899.9,103.3 900.2,102.2 900.5,101.5 900.8,101.4 901.2,101.9 901.5,102.9 901.8,104.4 902.1,106.4 902.5,108.9 902.8,111.8 903.1,115.1 903.5,118.7 903.8,122.6 904.1,126.8 904.4,131.1 904.8,135.5 905.1,140.0 905.4,144.4 905.7,148.7 906.1,152.8 906.4,156.7 906.7,160.4 907.0,163.6 907.4,166.5 907.7,169.0 908.0,171.0 908.3,172.5 908.7,173.4 909.0,173.8 909.3,173.7 909.6,173.0 910.0,171.8 910.3,170.1 910.6,167.8 911.0,165.1 911.3,162.0 911.6,158.5 911.9,154.7 912.3,150.7 912.6,146.4 912.9,142.0 913.2,137.5 913.6,133.0 913.9,128.6 914.2,124.3 914.5,120.2 914.9,116.3 915.2,112.8 915.5,109.6 915.8,106.9 916.2,104.6 916.5,102.8 916.8,101.5 917.2,100.8 917.5,100.6 917.8,101.0 918.1,101.9 918.5,103.3 918.8,105.3 919.1,107.7 919.4,110.6 919.8,113.9 920.1,117.6 920.4,121.6 920.7,125.8 921.1,130.1 921.4,134.6 921.7,139.2 922.0,143.7 922.4,148.1 922.7,152.4 923.0,156.4 923.3,160.1 923.7,163.6 924.0,166.6 924.3,169.2 924.7,171.3 925.0,172.9 925.3,173.9 925.6,174.5 926.0,174.4 926.3,173.8 926.6,172.7 926.9,171.0 927.3,168.8 927.6,166.1 927.9,163.0 928.2,159.6 928.6,155.7 928.9,151.6 929.2,147.3 929.5,142.9 929.9,138.3 930.2,133.8 930.5,129.2 930.9,124.9 931.2,120.7 931.5,116.7 931.8,113.1 932.2,109.8 932.5,106.9 932.8,104.5 933.1,102.6 933.5,101.2 933.8,100.4 934.1,100.1 934.4,100.4 934.8,101.2 935.1,102.6 935.4,104.5 935.7,106.9 936.1,109.8 936.4,113.1 936.7,116.7 937.0,120.7 937.4,124.9 937.7,129.3 938.0,133.8 938.4,138.4 938.7,142.9 939.0,147.4 939.3,151.7 939.7,155.9 940.0,159.7 940.3,163.2 940.6,166.3 941.0,169.0 941.3,171.2 941.6,172.9 941.9,174.1 942.3,174.7 942.6,174.7 942.9,174.2 943.2,173.1 943.6,171.5 943.9,169.4 944.2,166.8 944.5,163.8 944.9,160.3 945.2,156.5 945.5,152.5 945.9,148.2 946.2,143.7 946.5,139.1 946.8,134.5 947.2,130.0 947.5,125.6 947.8,121.3 948.1,117.3 948.5,113.6 948.8,110.2 949.1,107.3 949.4,104.8 949.8,102.8 950.1,101.4 950.4,100.4 950.7,100.0 951.1,100.2 951.4,101.0 951.7,102.3 952.1,104.1 952.4,106.4 952.7,109.2 953.0,112.4 953.4,116.0 953.7,119.9 954.0,124.1 954.3,128.5 954.7,133.0 955.0,137.6 955.3,142.1 955.6,146.6 956.0,151.0 956.3,155.1 956.6,159.0 956.9,162.6 957.3,165.8 957.6,168.5 957.9,170.8 958.2,172.6 958.6,173.8 958.9,174.5 959.2,174.6 959.6,174.2 959.9,173.2 960.2,171.7 960.5,169.7 960.9,167.2 961.2,164.2 961.5,160.8 961.8,157.1 962.2,153.1 962.5,148.9 962.8,144.4 963.1,139.9 963.5,135.4 963.8,130.8 964.1,126.4 964.4,122.1 964.8,118.1 965.1,114.4 965.4,111.0 965.8,108.0 966.1,105.5 966.4,103.4 966.7,101.8 967.1,100.8 967.4,100.4 967.7,100.5 968.0,101.1 968.4,102.3 968.7,104.0 969.0,106.3 969.3,109.0 969.7,112.1 970.0,115.6 970.3,119.4 970.6,123.5 971.0,127.8 971.3,132.2 971.6,136.8 971.9,141.3 972.3,145.7 972.6,150.1 972.9,154.2 973.3,158.1 973.6,161.7 973.9,164.9 974.2,167.7 974.6,170.0 974.9,171.8 975.2,173.2 975.5,173.9 975.9,174.2 976.2,173.8 976.5,173.0 976.8,171.6 977.2,169.6 977.5,167.2 977.8,164.4 978.1,161.1 978.5,157.5 978.8,153.6 979.1,149.5 979.4,145.1 979.8,140.7 980.1,136.2 980.4,131.7 980.8,127.4 981.1,123.1 981.4,119.1 981.7,115.4 982.1,112.0 982.4,109.0 982.7,106.4 983.0,104.3 983.4,102.7 983.7,101.6 984.0,101.1 984.3,101.1 984.7,101.6 985.0,102.7 985.3,104.3 985.6,106.4 986.0,109.0 986.3,112.0 986.6,115.4 987.0,119.0 987.3,123.0 987.6,127.2 987.9,131.5 988.3,135.9 988.6,140.4 988.9,144.8 989.2,149.0 989.6,153.1 989.9,157.0 990.2,160.5 990.5,163.7 990.9,166.5 991.2,168.9 991.5,170.7 991.8,172.1 992.2,173.0 992.5,173.3 992.8,173.1 993.1,172.3 993.5,171.0 993.8,169.2 994.1,167.0 994.5,164.3 994.8,161.2 995.1,157.7 995.4,154.0 995.8,149.9 996.1,145.8 996.4,141.5 996.7,137.1 997.1,132.7 997.4,128.5 997.7,124.3 998.0,120.4 998.4,116.7 998.7,113.4 999.0,110.4 999.3,107.8 999.7,105.6 1000.0,104.0 1000.3,102.8 1000.6,102.2 1001.0,102.1 1001.3,102.5 1001.6,103.5 1002.0,105.0 1002.3,106.9 1002.6,109.3 1002.9,112.1 1003.3,115.3 1003.6,118.9 1003.9,122.7 1004.2,126.7 1004.6,130.8 1004.9,135.1 1005.2,139.4 1005.5,143.6 1005.9,147.8 1006.2,151.8 1006.5,155.6 1006.8,159.0 1007.2,162.2 1007.5,165.0 1007.8,167.4 1008.2,169.3 1008.5,170.7 1008.8,171.6 1009.1,172.0 1009.5,171.9 1009.8,171.3 1010.1,170.2 1010.4,168.5 1010.8,166.4 1011.1,163.9 1011.4,161.0 1011.7,157.7 1012.1,154.2 1012.4,150.3 1012.7,146.3 1013.0,142.2 1013.4,138.0 1013.7,133.8 1014.0,129.7 1014.3,125.7 1014.7,121.9 1015.0,118.3 1015.3,115.0 1015.7,112.0 1016.0,109.4 1016.3,107.3 1016.6,105.6 1017.0,104.4 1017.3,103.7 1017.6,103.5 1017.9,103.8 1018.3,104.6 1018.6,105.9 1018.9,107.7 1019.2,109.9 1019.6,112.5 1019.9,115.5 1020.2,118.8 1020.5,122.4 1020.9,126.2 1021.2,130.2 1021.5,134.2 1021.9,138.3 1022.2,142.4 1022.5,146.4 1022.8,150.3 1023.2,153.9 1023.5,157.3 1023.8,160.4 1024.1,163.2 1024.5,165.5 1024.8,167.4 1025.1,168.9 1025.4,169.9 1025.8,170.4 1026.1,170.4 1026.4,169.9 1026.7,169.0 1027.1,167.5 1027.4,165.6 1027.7,163.3 1028.0,160.6 1028.4,157.6 1028.7,154.2 1029.0,150.7 1029.4,146.9 1029.7,143.0 1030.0,139.0 1030.3,135.0 1030.7,131.1 1031.0,127.2 1031.3,123.5 1031.6,120.1 1032.0,116.9 1032.3,114.0 1032.6,111.4 1032.9,109.3 1033.3,107.6 1033.6,106.3 1033.9,105.5 1034.2,105.2 1034.6,105.4 1034.9,106.1 1035.2,107.2 1035.5,108.7 1035.9,110.7 1036.2,113.1 1036.5,115.9 1036.9,118.9 1037.2,122.3 1037.5,125.8 1037.8,129.5 1038.2,133.4 1038.5,137.2 1038.8,141.1 1039.1,144.9 1039.5,148.6 1039.8,152.1 1040.1,155.4 1040.4,158.4 1040.8,161.0 1041.1,163.4 1041.4,165.3 1041.7,166.8 1042.1,167.8 1042.4,168.4 1042.7,168.6 1043.1,168.2 1043.4,167.4 1043.7,166.2 1044.0,164.5 1044.4,162.5 1044.7,160.0 1045.0,157.3 1045.3,154.2 1045.7,150.9 1046.0,147.4 1046.3,143.7 1046.6,140.0 1047.0,136.3 1047.3,132.5 1047.6,128.9 1047.9,125.4 1048.3,122.1 1048.6,119.0 1048.9,116.2 1049.2,113.7 1049.6,111.6 1049.9,109.9 1050.2,108.6 1050.6,107.7 1050.9,107.3 1051.2,107.3 1051.5,107.8 1051.9,108.7 1052.2,110.1 1052.5,111.8 1052.8,113.9 1053.2,116.4 1053.5,119.2 1053.8,122.2 1054.1,125.5 1054.5,128.9 1054.8,132.4 1055.1,136.1 1055.4,139.7 1055.8,143.2 1056.1,146.7 1056.4,150.0 1056.8,153.2 1057.1,156.0 1057.4,158.6 1057.7,160.9 1058.1,162.8 1058.4,164.3 1058.7,165.5 1059.0,166.2 1059.4,166.4 1059.7,166.3 1060.0,165.7 1060.3,164.6 1060.7,163.2 1061.0,161.4 1061.3,159.3 1061.6,156.8 1062.0,154.0 1062.3,151.0 1062.6,147.9 1062.9,144.5 1063.3,141.1 1063.6,137.6 1063.9,134.2 1064.3,130.8 1064.6,127.5 1064.9,124.3 1065.2,121.4 1065.6,118.7 1065.9,116.3 1066.2,114.2 1066.5,112.5 1066.9,111.2 1067.2,110.2 1067.5,109.7 1067.8,109.6 1068.2,109.8 1068.5,110.5 1068.8,111.6 1069.1,113.1 1069.5,114.9 1069.8,117.1 1070.1,119.6 1070.4,122.3 1070.8,125.2 1071.1,128.3 1071.4,131.5 1071.8,134.8 1072.1,138.1 1072.4,141.4 1072.7,144.7 1073.1,147.8 1073.4,150.7 1073.7,153.5 1074.0,156.0 1074.4,158.2 1074.7,160.1 1075.0,161.6 1075.3,162.8 1075.7,163.6 1076.0,164.0 1076.3,164.0 1076.6,163.6 1077.0,162.8 1077.3,161.7 1077.6,160.2 1078.0,158.3 1078.3,156.2 1078.6,153.8 1078.9,151.1 1079.3,148.3 1079.6,145.3 1079.9,142.2 1080.2,139.0 1080.6,135.9 1080.9,132.7 1081.2,129.7 1081.5,126.8 1081.9,124.0 1082.2,121.5 1082.5,119.1 1082.8,117.1 1083.2,115.4 1083.5,114.0 1083.8,113.0 1084.1,112.3 1084.5,112.0 1084.8,112.1 1085.1,112.6 1085.5,113.4 1085.8,114.6 1086.1,116.1 1086.4,117.9 1086.8,120.0 1087.1,122.4 1087.4,124.9 1087.7,127.7 1088.1,130.6 1088.4,133.5 1088.7,136.5 1089.0,139.5 1089.4,142.5 1089.7,145.4 1090.0,148.1 1090.3,150.7 1090.7,153.0 1091.0,155.2 1091.3,157.0 1091.7,158.6 1092.0,159.8 1092.3,160.7 1092.6,161.3 1093.0,161.5 1093.3,161.3 1093.6,160.8 1093.9,160.0 1094.3,158.8 1094.6,157.3 1094.9,155.5 1095.2,153.4 1095.6,151.2 1095.9,148.7 1096.2,146.1 1096.5,143.4 1096.9,140.5 1097.2,137.7 1097.5,134.9 1097.8,132.1 1098.2,129.4 1098.5,126.8" fill="none" stroke="#1f80c6" stroke-width="1.6" stroke-linejoin="round"/>
<rect x="120.0" y="84.0" width="978.5" height="106.8" fill="none" stroke="#262626" stroke-width="1.4"/>
<path d="M217.8 84.0v10M217.8 190.8v-10M315.7 84.0v10M315.7 190.8v-10M413.6 84.0v10M413.6 190.8v-10M511.4 84.0v10M511.4 190.8v-10M609.2 84.0v10M609.2 190.8v-10M707.1 84.0v10M707.1 190.8v-10M805.0 84.0v10M805.0 190.8v-10M902.8 84.0v10M902.8 190.8v-10M1000.6 84.0v10M1000.6 190.8v-10M120.0 137.4h9M1098.5 137.4h-9" stroke="#262626" stroke-width="1.4" fill="none"/>
<text x="113.0" y="219" font-size="22.5" text-anchor="middle" textLength="14.3" lengthAdjust="spacingAndGlyphs" fill="#1c1c1c">0</text>
<text x="210.8" y="219" font-size="22.5" text-anchor="middle" textLength="14.3" lengthAdjust="spacingAndGlyphs" fill="#1c1c1c">3</text>
<text x="308.7" y="219" font-size="22.5" text-anchor="middle" textLength="14.3" lengthAdjust="spacingAndGlyphs" fill="#1c1c1c">6</text>
<text x="406.6" y="219" font-size="22.5" text-anchor="middle" textLength="14.3" lengthAdjust="spacingAndGlyphs" fill="#1c1c1c">9</text>
<text x="507.4" y="219" font-size="22.5" text-anchor="middle" textLength="28.5" lengthAdjust="spacingAndGlyphs" fill="#1c1c1c">12</text>
<text x="605.2" y="219" font-size="22.5" text-anchor="middle" textLength="28.5" lengthAdjust="spacingAndGlyphs" fill="#1c1c1c">15</text>
<text x="703.1" y="219" font-size="22.5" text-anchor="middle" textLength="28.5" lengthAdjust="spacingAndGlyphs" fill="#1c1c1c">18</text>
<text x="801.0" y="219" font-size="22.5" text-anchor="middle" textLength="28.5" lengthAdjust="spacingAndGlyphs" fill="#1c1c1c">21</text>
<text x="898.8" y="219" font-size="22.5" text-anchor="middle" textLength="28.5" lengthAdjust="spacingAndGlyphs" fill="#1c1c1c">24</text>
<text x="996.6" y="219" font-size="22.5" text-anchor="middle" textLength="28.5" lengthAdjust="spacingAndGlyphs" fill="#1c1c1c">27</text>
<text x="1094.5" y="219" font-size="22.5" text-anchor="middle" textLength="28.5" lengthAdjust="spacingAndGlyphs" fill="#1c1c1c">30</text>
<text x="113.8" y="93.2" font-size="22.5" text-anchor="end" textLength="13.8" lengthAdjust="spacingAndGlyphs" fill="#1c1c1c">2</text>
<text x="113.8" y="146.6" font-size="22.5" text-anchor="end" textLength="13.8" lengthAdjust="spacingAndGlyphs" fill="#1c1c1c">0</text>
<text x="113.8" y="200.0" font-size="22.5" text-anchor="end" textLength="28.2" lengthAdjust="spacingAndGlyphs" fill="#1c1c1c">−2</text>
<text x="609" y="262.2" font-size="37" text-anchor="middle" textLength="197" lengthAdjust="spacingAndGlyphs" fill="#1c1c1c">Time (day)</text>
<g transform="translate(75.5,138.5) rotate(-90)"><text x="0" y="0" font-size="36" text-anchor="middle" fill="#1c1c1c"><tspan class="eta">η</tspan> (m)</text></g>
<text x="213.5" y="85.2" font-size="49" font-weight="bold" text-anchor="middle" fill="#0a0a0a">N</text>
<text x="456" y="85.2" font-size="49" font-weight="bold" text-anchor="middle" fill="#0a0a0a">S</text>
<text x="711" y="85.2" font-size="49" font-weight="bold" text-anchor="middle" fill="#0a0a0a">N</text>
<text x="955.5" y="85.2" font-size="49" font-weight="bold" text-anchor="middle" fill="#0a0a0a">S</text>
<path d="M215.3 311.4V754.0M312.1 311.4V754.0M408.9 311.4V754.0M505.6 311.4V754.0M602.4 311.4V754.0M699.1 311.4V754.0M795.9 311.4V754.0M118.6 687.6H892.6M118.6 621.2H892.6M118.6 554.8H892.6M118.6 488.4H892.6M118.6 422.0H892.6M118.6 355.7H892.6" stroke="#262626" stroke-opacity="0.16" stroke-width="1" fill="none"/>
<path d="M215.4 856.6V1299.8M312.1 856.6V1299.8M408.9 856.6V1299.8M505.6 856.6V1299.8M602.4 856.6V1299.8M699.2 856.6V1299.8M795.9 856.6V1299.8M892.7 856.6V1299.8M989.4 856.6V1299.8M118.6 1233.3H1086.2M118.6 1166.8H1086.2M118.6 1100.4H1086.2M118.6 1033.9H1086.2M118.6 967.4H1086.2M118.6 900.9H1086.2" stroke="#262626" stroke-opacity="0.16" stroke-width="1" fill="none"/>
<g clip-path="url(#clipB)"><path d="M497.5 734.0L489.5 733.8L481.4 733.8L473.4 733.9L465.3 734.1L465.1 734.1L465.3 734.7L470.0 738.5L473.4 738.6M497.5 735.5L498.4 734.1L497.5 734.0M118.6 577.9L126.7 577.7L134.7 577.5L142.8 577.4L150.8 577.3M175.0 577.2L183.1 577.1L191.2 577.1L199.2 576.8L207.3 576.3L215.3 575.6L223.4 575.1L231.5 575.0L239.5 574.9L247.6 574.9L255.7 574.9L263.7 575.0L271.8 575.3L279.9 575.8L287.9 576.6L296.0 578.4L298.4 579.2L301.8 583.6L304.0 587.6L304.3 588.0L310.8 592.5L312.1 594.4L313.7 596.9L317.2 601.3L317.6 605.7L316.1 610.2L320.2 613.1L322.5 614.6L328.2 615.9L336.3 617.8L341.3 619.0L343.5 623.4L343.3 627.9L344.4 629.9L345.6 632.3L352.4 636.5L352.9 636.7L357.7 641.1L360.5 643.1L364.6 645.6L365.4 650.0L365.2 654.4L365.7 658.8L367.0 663.3L368.4 667.7L368.5 667.9L372.1 672.1L373.8 676.5L376.1 681.0L376.6 682.1L377.9 685.4L381.3 689.8L383.9 694.2L384.7 694.8L390.8 698.7L392.7 700.7L395.2 703.1L400.8 706.0M425.0 713.6L433.0 713.9L441.1 714.0L449.2 714.0L457.2 714.0L465.3 714.0L473.4 714.0L481.4 714.0L489.5 714.0L497.5 714.0L505.6 714.0L513.7 714.0L521.7 714.0L529.8 713.7L537.9 712.5L539.5 712.0L545.9 708.6L547.5 707.5L554.0 705.6L561.9 703.1L562.0 703.0L567.8 698.7L570.1 697.8L578.2 696.0L586.2 695.3L594.3 694.9L598.2 694.2L602.4 692.8L608.5 689.8L610.4 689.2L618.5 687.3L626.5 685.9L630.9 685.4L633.1 681.0L626.5 680.5M602.4 678.6L594.3 677.7L590.1 676.5L586.2 673.9L584.2 672.1L578.2 669.5L572.5 667.7L570.1 666.4L562.2 663.3L562.0 663.2L554.0 662.0L545.9 660.8L537.9 659.4L535.5 658.8L530.7 654.4L537.9 651.0L540.9 650.0L545.9 649.6L554.0 649.2L562.0 649.2L570.1 649.5L577.0 650.0L578.2 650.3L586.2 652.2L594.3 653.9L602.4 654.4L610.4 654.3L618.5 653.8L626.5 652.4L634.6 650.0L634.8 650.0L642.7 649.2L650.7 648.8L658.8 648.6L666.9 648.5L674.9 648.4L683.0 648.1L691.0 647.9L699.1 647.7L707.2 647.6L715.2 647.5L723.3 647.3L731.4 646.7L739.4 645.7L740.2 645.6L742.3 641.1L739.4 639.1L735.5 636.7L731.4 636.0L723.3 635.2L715.2 634.9L707.2 634.8L699.1 634.7L691.0 634.5L683.0 634.2M658.8 633.5L650.7 633.3L642.7 633.1L634.6 633.0L626.5 632.9L618.5 632.7L613.6 632.3L610.4 631.4L602.4 627.9L602.3 627.9L602.4 627.8L610.4 623.8L611.5 623.4L618.5 622.8L626.5 622.2L634.6 621.7L642.7 621.2L650.7 620.8L658.8 620.4L666.9 620.0L674.9 619.6L682.3 619.0L683.0 618.9L691.0 617.3L697.9 614.6L696.2 610.2L691.0 609.0L683.0 607.8L674.9 606.6L670.6 605.7L666.9 604.3L659.8 601.3L658.8 601.1L650.7 599.8L642.7 599.2L634.6 598.9L626.5 598.8L618.5 598.7L610.4 598.5L602.4 598.1L594.3 597.3L592.3 596.9L586.2 593.4L585.0 592.5L579.7 588.0L578.2 584.4L577.9 583.6L578.2 582.8L580.6 579.2L586.2 578.0L594.3 577.8L602.4 577.7L610.4 577.5L618.5 577.4L626.5 577.3L634.6 577.2L642.7 577.2L650.7 577.2L658.8 577.1L666.9 577.1L674.9 576.9L683.0 576.4L691.0 575.7L699.1 575.2L707.2 575.0L715.2 574.9L723.3 574.9L731.4 574.9L739.4 575.0L747.5 575.2L755.5 575.7L763.6 576.6L771.7 578.2L774.8 579.2L778.2 583.6L779.7 586.4L780.7 588.0L787.1 592.5L787.8 593.4L790.0 596.9L793.5 601.3L794.0 605.7L792.5 610.2L795.9 612.7L798.9 614.6L803.9 615.7L812.0 617.6L817.6 619.0L819.8 623.4L819.6 627.9L820.0 628.7L821.9 632.3L828.1 636.1L829.3 636.7L834.1 641.1L836.2 642.6L841.0 645.6L841.8 650.0L841.6 654.4L842.0 658.8L843.4 663.3L844.2 666.1L844.8 667.7L848.4 672.1L850.2 676.5L852.3 680.7L852.4 681.0L854.2 685.4L857.6 689.8L860.2 694.2L860.4 694.4L867.2 698.7L868.4 700.0L871.5 703.1L876.5 705.7L881.7 707.5L884.5 709.3L892.0 712.0L892.6 712.1M118.6 694.9L122.4 694.2L126.7 692.6L132.2 689.8L134.7 689.0L142.8 687.2L150.8 685.8M156.7 681.0L150.8 680.6L142.8 679.9L134.7 679.2L126.7 678.7L118.6 678.4M118.6 654.9L126.7 654.6L130.2 654.4L134.7 654.3M158.4 650.0L158.9 649.9L167.0 649.2L175.0 648.8L183.1 648.6L191.2 648.5L199.2 648.4L207.3 648.1L215.3 647.9L223.4 647.7L231.5 647.6L239.5 647.5L247.6 647.3L255.7 646.7L263.7 645.6L263.9 645.6L265.9 641.1L263.7 639.6L259.2 636.7L255.7 636.1L247.6 635.2L239.5 634.9L231.5 634.8L223.4 634.7L215.3 634.5L207.3 634.2L199.2 633.9L191.2 633.7L183.1 633.5L175.0 633.3L167.0 633.1L158.9 633.0L150.8 632.9L142.8 632.7L137.2 632.3L134.7 631.6L126.7 628.3L125.5 627.9L126.7 627.4L134.7 623.6L135.1 623.4L142.8 622.7L150.8 622.2L158.9 621.7L167.0 621.2L175.0 620.8L183.1 620.4L191.2 620.0L199.2 619.5L205.9 619.0L207.3 618.9L215.3 617.2L221.5 614.6L219.8 610.2L215.3 609.1M191.2 604.6L183.4 601.3L183.1 601.2L175.0 599.9L167.0 599.2L158.9 599.0L150.8 598.8L142.8 598.7L134.7 598.5L126.7 598.2L118.6 597.9M267.2 539.3L271.8 541.7L274.1 543.8L271.8 544.8L263.7 547.3L259.8 548.2L255.7 549.7L247.6 551.2L239.5 551.6L231.5 551.6M207.3 550.7L199.2 550.4L191.2 550.2L183.1 550.1L175.0 549.9L167.0 549.3L161.3 548.2L158.9 547.6L150.8 544.5L149.3 543.8L150.8 542.4L156.9 539.3L158.9 539.2L167.0 538.8L175.0 538.7L183.1 538.7L191.2 538.7L199.2 538.7L207.3 538.7L215.3 538.7L223.4 538.7L231.5 538.7L239.5 538.7L247.6 538.7L255.7 538.8L263.7 539.0L267.2 539.3M743.4 539.3L747.5 541.3L750.3 543.8L747.5 545.0L739.4 547.5L736.0 548.2L731.4 549.9L723.3 551.2L715.2 551.6L707.2 551.6M691.0 551.2L683.0 550.7L674.9 550.4L666.9 550.2L658.8 550.1L650.7 549.9L642.7 549.1L637.9 548.2L634.6 547.4L626.5 544.2L625.7 543.8L626.5 543.0L633.3 539.3L634.6 539.2L642.7 538.8L650.7 538.7L658.8 538.7L666.9 538.7L674.9 538.7L683.0 538.7L691.0 538.7L699.1 538.7L707.2 538.7L715.2 538.7L723.3 538.7L731.4 538.8L739.4 539.0L743.4 539.3M118.6 444.2L126.7 444.2L134.7 444.2L142.8 444.3M167.0 445.7L172.9 446.4L175.0 447.0L183.1 450.7L183.2 450.8L187.7 455.2L185.6 459.7L183.1 460.6L175.0 462.7L167.9 464.1L167.0 464.3L158.9 465.3L150.8 465.6L142.8 465.7L134.7 465.7L126.7 465.7L118.6 465.8M577.0 442.0L578.2 442.1L586.2 443.2L594.3 443.9L602.4 444.1L610.4 444.2L618.5 444.3L626.5 444.5L634.6 445.0L642.7 445.6L649.2 446.4L650.7 446.8L658.8 450.4L659.4 450.8L664.0 455.2L661.9 459.7L658.8 460.7L650.7 462.8L643.9 464.1L642.7 464.4L634.6 465.4L626.5 465.6L618.5 465.7L610.4 465.7L602.4 465.7L594.3 465.8L586.2 465.8L578.2 465.9L570.1 466.0L562.0 466.3L554.0 466.6L545.9 466.8L537.9 466.6L529.8 466.2L521.7 465.6L513.7 464.9L505.6 464.5L497.5 464.2L489.5 464.2L481.4 464.2M449.2 464.2L441.1 464.4L433.0 464.6L425.0 465.0L416.9 465.3L408.9 465.3L400.8 464.8L393.8 464.1L392.7 464.0L384.7 463.5L376.6 463.1L368.5 462.7L360.5 462.3L352.4 461.9L344.4 461.5L336.3 461.2L328.2 461.0L320.2 460.8L312.1 460.6L304.0 460.3L296.0 459.9L293.0 459.7L287.9 458.2L283.0 455.2L286.4 450.8L287.9 450.0L296.0 447.8L304.0 446.5L304.6 446.4L312.1 446.0L320.2 445.5L328.2 444.9L336.3 444.2L344.4 443.3L352.4 442.3L355.2 442.0L360.5 441.0L368.5 440.2L376.6 439.8L384.7 439.6L392.7 439.4L400.8 439.2L408.9 439.0L416.9 438.8L425.0 438.7L433.0 438.6L441.1 438.5L449.2 438.5L457.2 438.6L465.3 438.7M505.6 439.3L513.7 439.0L521.7 438.5L529.8 438.0L537.9 437.7L545.9 437.6L554.0 437.7L562.0 438.4L570.1 440.0L577.0 442.0M892.6 465.4L884.5 465.3L876.5 464.7L870.2 464.1L868.4 464.0L860.4 463.5L852.3 463.0L844.2 462.6L836.2 462.2L828.1 461.8L820.0 461.5L812.0 461.2L803.9 461.0L795.9 460.8L787.8 460.5L779.7 460.2L771.7 459.8L769.5 459.7L763.6 457.9L759.6 455.2L762.8 450.8L763.6 450.3L771.7 448.0L779.7 446.6L781.0 446.4L787.8 446.0L795.9 445.5L803.9 445.0L812.0 444.3L820.0 443.4L828.1 442.4L831.7 442.0L836.2 441.1L844.2 440.3M884.5 439.0L892.6 438.9M653.2 313.6L650.7 317.7L650.4 318.0L642.7 320.4L634.6 322.2L633.2 322.5L627.7 326.9L626.5 328.8L625.0 331.3L618.5 335.1L617.1 335.7L614.0 340.2L611.4 344.6L610.4 344.8L602.4 346.2L594.3 347.5L589.8 349.0L586.2 349.5L578.2 352.2L576.0 353.4L573.6 357.9L570.1 361.2L568.2 362.3L567.3 366.7L570.1 369.0L571.8 371.2L576.7 375.6L578.2 376.0L586.2 377.8L594.3 378.8L602.4 379.2L610.4 379.5L618.5 379.7L624.7 380.0L626.5 380.4L634.6 382.7L639.3 384.4L634.6 386.8L628.4 388.9L626.5 389.4L618.5 390.9L610.4 391.8L602.4 392.7L599.9 393.3L594.3 393.8L586.2 395.4L579.1 397.7L578.2 398.5L575.0 402.1L572.5 406.6L571.7 411.0L570.1 413.6L568.5 415.4L562.0 417.4L554.0 418.8L546.5 419.8L545.9 420.0L537.9 421.2L529.8 421.9L521.7 422.0L513.7 422.0L505.6 422.0L497.5 422.0L489.5 422.0L481.4 422.0L473.4 422.0L465.3 422.0L457.2 422.0L449.2 421.9L441.1 421.6L433.0 420.8L425.0 419.9L424.6 419.8L416.9 419.1L408.9 418.6L400.8 418.2L392.7 417.8L384.7 417.5L376.6 417.1L368.5 416.5L360.5 415.8L355.9 415.4L352.4 414.6L344.4 412.9L336.9 411.0L336.3 410.5L334.2 406.6L328.2 402.3L328.1 402.1L324.8 397.7L320.2 395.3L315.8 393.3L312.4 388.9L312.7 384.4L320.2 380.3L320.9 380.0L328.2 379.2L336.3 378.6L344.4 378.3L352.4 378.1L360.5 377.9L368.5 377.7L376.6 377.6L384.7 377.4L392.7 377.1L400.8 376.3L405.9 375.6L408.9 374.3L416.9 371.6L419.1 371.2L424.1 366.7L418.8 362.3L416.9 361.9L408.9 358.7L407.4 357.9L404.3 353.4L401.5 349.0L400.8 346.1L400.4 344.6L400.1 340.2L399.5 335.7L397.2 331.3L395.9 326.9L392.7 324.7L387.8 322.5L384.7 322.0L376.6 320.9L368.5 319.4L362.2 318.0L360.5 316.5L356.7 313.6M892.6 418.9L884.5 418.5L876.5 418.1L868.4 417.8L860.4 417.5L852.3 417.1L844.2 416.4L836.2 415.7L832.2 415.4L828.1 414.4L820.0 412.7L813.8 411.0L812.0 409.2L810.6 406.6L804.8 402.1L803.9 401.4L801.2 397.7L795.9 395.0L792.1 393.3L788.8 388.9L789.1 384.4L795.9 380.7L797.4 380.0L803.9 379.2L812.0 378.7L820.0 378.3L828.1 378.1L836.2 377.9L844.2 377.7L852.3 377.6L860.4 377.5L868.4 377.1L876.5 376.3L882.3 375.6L884.5 374.6L892.6 372.1M118.6 379.1L126.7 379.3L134.7 379.5L142.8 379.7L148.4 380.0L150.8 380.5L158.9 382.9L163.1 384.4L158.9 386.5L152.3 388.9L150.8 389.3M126.7 392.5L118.6 393.0M892.6 361.2L884.5 358.3L883.8 357.9L880.7 353.4L877.8 349.0L876.7 344.6L876.5 340.6L876.4 340.2L875.8 335.7L873.5 331.3L872.1 326.9L868.4 324.4L864.0 322.5L860.4 321.9L852.3 320.8L844.2 319.3L838.4 318.0L836.2 316.0L833.0 313.6M177.0 313.6L175.0 316.9L174.1 318.0L167.0 320.3L158.9 322.0L156.8 322.5L151.4 326.9L150.8 327.8L148.7 331.3L142.8 334.7L140.8 335.7L137.8 340.2L135.2 344.6L134.7 344.7L126.7 346.1L118.6 346.8M118.6 646.8L126.7 646.8L134.7 646.8L142.8 646.7M167.0 644.0L175.0 642.4L180.3 641.1L175.0 640.0L167.0 638.3L158.9 637.5L150.8 637.2L142.8 636.9L138.7 636.7L134.7 636.6L126.7 636.4L118.6 636.2M562.0 629.9L554.0 628.7L545.9 628.8L537.9 629.0L529.8 629.2L521.7 629.4L513.7 629.7L505.6 630.0L497.5 630.7L489.5 631.8L486.1 632.3L481.4 632.7L473.4 633.7L465.3 635.4L461.8 636.7L465.3 638.6L473.4 640.6L475.4 641.1L481.4 641.6L489.5 642.6L497.5 643.9L505.6 644.8L513.7 645.3M537.9 645.3L545.9 645.2L554.0 645.2L562.0 645.3L567.3 645.6L570.1 645.6L578.2 646.0L586.2 646.3L594.3 646.7L602.4 646.8L610.4 646.8L618.5 646.7L626.5 646.3L634.6 645.8L637.4 645.6L642.7 644.2L650.7 642.5L656.7 641.1L650.7 639.8L642.7 638.2L634.6 637.4L626.5 637.1L618.5 636.9L615.1 636.7L610.4 636.6L602.4 636.3L594.3 635.9L586.2 635.1L578.2 634.0L570.1 632.7L567.4 632.3L562.0 629.9M118.6 619.5L126.7 619.2L130.6 619.0L134.7 618.7M167.0 616.0L175.0 615.3L181.0 614.6L183.1 610.2L175.0 608.1L167.0 606.1L163.9 605.7L158.9 605.1L150.8 604.7L142.8 604.6L134.7 604.5L126.7 604.4L118.6 604.2M650.7 521.2L642.7 520.8L634.6 521.6L634.5 521.6L626.5 522.4L618.5 523.3L610.4 524.6L602.4 526.0L602.1 526.1L594.3 528.3L586.3 530.5L586.2 530.5L578.2 531.7L570.1 532.4L562.0 532.7L554.0 532.8L545.9 532.9L537.9 532.9L529.8 533.0L521.7 533.0L513.7 532.9L505.6 532.9L497.5 532.9L489.5 532.9L481.4 532.9L473.4 532.9L465.3 532.8L457.2 532.6L449.2 532.2L441.1 531.7L433.0 531.4L425.0 531.5L416.9 531.6L408.9 531.8L400.8 532.0L392.7 532.2L384.7 532.4L376.6 532.7L368.5 533.0L360.5 533.3L352.4 533.5L344.4 533.9L336.3 534.7L335.1 534.9L328.2 535.5L320.2 536.5L312.1 538.5L310.6 539.3L308.5 543.8L305.1 548.2L308.3 552.6L312.1 553.2L320.2 553.8L328.2 553.9L336.3 554.0L344.4 554.1L352.4 554.2L360.5 554.3L368.5 554.5L376.6 554.8L384.7 555.2L392.7 555.6L400.8 556.1L408.9 556.6L416.9 556.9L423.3 557.0L425.0 557.2L433.0 557.5L441.1 557.8L449.2 558.1L457.2 558.4L465.3 558.7L473.4 559.0L481.4 559.3L489.5 559.6L497.5 560.0L505.6 560.5L513.7 561.0L521.7 561.4L523.3 561.5L521.7 562.0L513.7 563.6L505.6 564.7L497.5 565.8L496.7 565.9L489.5 566.1L481.4 566.4L473.4 566.7L465.3 567.1L457.2 567.4L449.2 567.8L441.1 568.3L433.0 568.8L425.0 569.6L421.1 570.3L416.9 570.8L408.9 574.1L408.1 574.7L400.8 578.1L399.2 579.2L397.3 583.6L395.9 588.0L392.7 591.8L392.1 592.5L390.9 596.9M405.4 605.7L408.9 606.0L416.9 606.3L425.0 606.3L433.0 606.3L441.1 606.3L449.2 606.3L457.2 606.3L465.3 606.4L473.4 606.6L481.4 607.0L489.5 607.3L497.5 607.5L505.6 607.5L513.7 607.6L521.7 607.7L529.8 608.0L537.9 608.4L545.9 608.8L554.0 609.3L562.0 610.0L562.9 610.2M586.2 618.1L592.3 619.0L594.3 619.2L602.4 619.2L606.4 619.0L610.4 618.8L618.5 618.1L626.5 617.4L634.6 616.7L642.7 616.1L650.7 615.4L657.3 614.6L658.8 611.7L659.4 610.2L658.8 610.0L650.7 607.9L642.7 606.1L640.0 605.7L634.6 605.0L626.5 604.7L618.5 604.6L610.4 604.5L602.4 604.2L594.3 603.3L588.9 601.3L586.2 600.8L578.2 598.5L574.5 596.9L570.5 592.5L570.1 592.1L565.2 588.0L563.6 583.6L562.3 579.2L562.0 578.9L554.0 575.2L551.9 574.7L545.9 570.5L545.3 570.3L539.3 565.9L545.9 562.5L547.0 561.5L554.0 560.9L562.0 560.7L566.2 561.5L570.1 563.0L574.2 565.9L578.2 567.0M594.3 572.1L602.4 572.7L610.4 572.4L618.5 572.0L626.5 571.6L634.6 571.2L642.7 570.9L650.7 570.7L658.8 570.6L664.4 570.3L666.9 570.2L674.9 569.2L683.0 567.3L687.5 565.9L690.3 561.5L683.0 558.4L678.8 557.0L674.9 556.6L666.9 556.2L658.8 556.0L650.7 555.8L642.7 555.4L634.6 554.8L626.5 553.9L618.8 552.6L618.5 552.5L610.4 548.4L609.9 548.2L602.4 545.5L596.9 543.8L595.5 539.3L602.4 537.3L610.4 536.6L618.5 536.0L626.5 535.7L634.6 535.4L642.7 535.4L650.7 535.3L658.8 535.3L666.9 535.4L674.9 535.4L683.0 535.4L691.0 535.4L699.1 535.4L707.2 535.4L715.2 535.4L723.3 535.4L731.4 535.4L739.4 535.3L747.5 535.2L755.5 535.1L759.3 534.9L763.6 533.6L767.9 530.5L763.6 526.6L763.1 526.1L755.5 524.2L747.5 523.1L739.4 522.6L731.4 522.4L723.3 522.3L715.2 522.3M691.0 522.1L683.0 522.1L674.9 522.1L666.9 522.1L658.8 521.8L654.4 521.6L650.7 521.2M892.6 571.2L884.5 574.7L884.5 574.7L876.5 578.5L875.5 579.2L873.6 583.6L872.2 588.0L868.4 592.5L868.4 592.5L867.2 596.9L868.2 601.3L868.4 601.4L876.5 604.4L881.8 605.7L884.5 605.9L892.6 606.2M118.6 573.1L126.7 572.8L134.7 572.4M158.9 571.2L167.0 570.9L175.0 570.7L183.1 570.5L188.2 570.3L191.2 570.2L199.2 569.1L207.3 567.1L211.2 565.9L214.0 561.5L207.3 558.6L202.6 557.0L199.2 556.7L191.2 556.2L183.1 556.0L175.0 555.8L167.0 555.5L158.9 554.9L150.8 554.0L142.8 552.7L142.5 552.6L134.7 548.7L133.6 548.2L126.7 545.8L118.6 544.4M892.6 531.7L884.5 531.8L876.5 532.0L868.4 532.2L860.4 532.4L852.3 532.7L844.2 533.0L836.2 533.3L828.1 533.6L820.0 534.0L812.0 534.8L811.5 534.9L803.9 535.6L795.9 536.6L787.8 538.8L787.0 539.3L784.9 543.8L781.5 548.2L784.7 552.6L787.8 553.1L795.9 553.7L803.9 553.9L812.0 554.0L820.0 554.1L828.1 554.2L836.2 554.3L844.2 554.5L852.3 554.8L860.4 555.1L868.4 555.6L876.5 556.1L884.5 556.6L892.6 556.9M118.6 537.7L126.7 537.2L134.7 536.6L142.8 536.0L150.8 535.6L158.9 535.4L167.0 535.3L175.0 535.3L183.1 535.3L191.2 535.4L199.2 535.4L207.3 535.4L215.3 535.4L223.4 535.4L231.5 535.4L239.5 535.4L247.6 535.4L255.7 535.4L263.7 535.3L271.8 535.2L279.9 535.0L283.0 534.9L287.9 533.3L291.4 530.5L287.9 527.3L286.8 526.1L279.9 524.3L271.8 523.2L263.7 522.6L255.7 522.4L247.6 522.3L239.5 522.3L231.5 522.2L223.4 522.2L215.3 522.1L207.3 522.1L199.2 522.1L191.2 522.1L183.1 521.9L178.3 521.6L175.0 521.3M150.8 522.3L142.8 523.2L134.7 524.5L126.7 525.9L125.4 526.1L118.6 527.6M118.6 507.6L126.7 507.8L134.7 508.0L142.8 508.1L150.8 507.8L158.9 507.2M183.1 506.0L191.2 505.5L199.2 504.9L207.3 504.5L215.3 504.3L223.4 504.2L231.5 504.1L239.5 504.0L247.6 504.0L255.7 504.0L263.7 504.1L271.8 504.2L279.9 504.3L287.9 504.4L296.0 504.4L304.0 504.5L312.1 504.6L320.2 504.7L328.2 504.8L336.3 505.0L344.4 505.3L352.4 505.6L360.5 505.9L368.5 505.6L376.6 504.6L380.4 503.9L384.7 503.2L392.7 500.8L395.4 499.5L400.8 498.0L408.9 495.8L414.3 495.1L416.9 493.8L425.0 492.4L433.0 491.9L441.1 491.5L449.2 491.1L457.2 490.7L458.8 490.7L457.2 490.4L449.2 489.2L441.1 488.3L433.0 487.4L425.0 486.4L424.3 486.2L416.9 485.5L408.9 483.2L405.6 481.8L400.8 481.2L392.7 480.1L384.7 478.9L376.6 477.5L376.1 477.4L368.5 475.5L360.5 473.6L358.2 472.9L352.4 472.3L344.4 471.6L336.3 471.2L328.2 470.9L320.2 470.6L312.1 470.5L304.0 470.5L296.0 470.6L287.9 470.7M258.1 464.1L255.7 463.3L248.6 459.7L249.6 455.2L255.7 451.2L256.1 450.8L258.2 446.4L263.2 442.0L263.7 441.2L266.7 437.5L271.8 434.0L276.0 433.1L279.9 431.1L286.6 428.7L279.9 425.9L274.5 424.3L271.8 423.8L263.7 421.7L259.2 419.8L255.7 418.5L250.1 415.4M231.5 401.3L223.4 401.8L221.9 402.1L215.3 404.0L208.1 406.6L207.3 407.2L204.4 411.0L206.5 415.4L207.3 415.9L215.3 419.1L218.9 419.8L220.0 424.3L215.3 425.5L207.3 427.9L204.5 428.7L199.2 430.9L195.2 433.1L193.8 437.5L199.2 441.2L200.0 442.0L207.2 446.4L207.3 446.6L210.2 450.8L215.3 455.2L215.3 455.2L217.5 459.7L215.3 462.1L213.9 464.1L208.4 468.5L207.3 468.8L199.2 470.6L191.2 471.6L183.1 472.4L175.0 472.9L173.4 472.9L167.0 473.3L158.9 473.7L150.8 474.0L142.8 474.2L134.7 474.6L126.7 475.0L118.6 475.4M892.6 485.1L884.5 482.9L882.0 481.8L876.5 481.1L868.4 480.0L860.4 478.8L852.4 477.4L852.3 477.3L844.2 475.4L836.2 473.4L834.5 472.9L828.1 472.3L820.0 471.6L812.0 471.1L803.9 470.9L795.9 470.6L787.8 470.5L779.7 470.5L771.7 470.6M739.4 466.3L734.2 464.1L731.4 463.1L724.6 459.7L725.6 455.2M739.4 442.1L739.6 442.0L743.0 437.5L747.5 434.2L752.4 433.1L755.5 431.4L762.9 428.7L755.5 425.7L750.8 424.3L747.5 423.7L739.4 421.5L735.4 419.8L731.4 418.3L726.2 415.4L724.9 411.0L723.5 406.6L723.3 406.3L716.2 402.1L715.2 401.9L707.2 401.4L699.1 402.0L698.3 402.1L691.0 404.3L684.8 406.6L683.0 408.2L680.8 411.0L682.8 415.4L683.0 415.5L691.0 418.8L695.6 419.8L696.5 424.3L691.0 425.8L683.0 428.1L680.9 428.7L674.9 431.3L671.7 433.1L670.2 437.5L674.9 440.5L676.3 442.0L683.0 445.8L683.7 446.4L686.7 450.8L691.0 454.7L692.3 455.2L694.3 459.7L691.0 463.1L690.3 464.1L684.9 468.5L683.0 469.0L674.9 470.7L666.9 471.7L658.8 472.4L650.7 472.9L649.8 472.9L642.7 473.4L634.6 473.7L626.5 474.0L618.5 474.3L610.4 474.6L602.4 475.0L594.3 475.5L586.2 475.8L578.2 476.4L572.6 477.4L570.1 477.7L562.0 479.6L554.0 481.3L550.8 481.8L545.9 484.5L540.9 486.2L540.6 490.7L545.9 492.8L549.2 495.1L554.0 496.0L562.0 498.1L566.9 499.5L570.1 501.8L574.7 503.9L578.2 505.3L586.2 506.8L594.3 507.5L602.4 507.8L610.4 508.0L618.5 508.1L626.5 507.8L634.6 507.3M650.7 506.4L658.8 506.0L666.9 505.5L674.9 505.0L683.0 504.6L691.0 504.4L699.1 504.2L707.2 504.1L715.2 504.1L723.3 504.0L731.4 504.0L739.4 504.1L747.5 504.2L755.5 504.3L763.6 504.4L771.7 504.4L779.7 504.5L787.8 504.6L795.9 504.7L803.9 504.8L812.0 505.0L820.0 505.2L828.1 505.6L836.2 505.9L844.2 505.7L852.3 504.7L856.5 503.9L860.4 503.3L868.4 501.0L871.5 499.5L876.5 498.2L884.5 496.0L891.1 495.1L892.6 494.3M554.0 600.5L550.3 601.3L554.0 601.9L560.4 601.3L554.0 600.5M562.0 538.9L554.0 538.7L545.9 539.0L537.9 539.3L535.3 539.3L529.8 540.1L521.7 540.8L513.7 541.5L505.6 542.5L497.5 543.3L489.5 543.8L489.3 543.8L489.5 543.8L497.5 543.8L505.6 543.9L513.7 544.1L521.7 544.5L529.8 545.1L537.9 546.1L545.9 547.5L550.2 548.2L554.0 548.9L562.0 549.1L565.4 548.2L570.1 545.6L571.2 543.8L570.1 542.6L565.2 539.3L562.0 538.9M207.3 481.7L199.2 481.0L191.2 480.7L183.1 480.5L175.0 480.4L167.0 480.4L158.9 480.7L150.8 481.0L142.8 481.6L140.3 481.8L134.7 483.9L130.8 486.2L131.2 490.7L134.7 493.8L136.2 495.1L142.8 496.6L150.8 497.7L158.9 498.3L167.0 498.5L175.0 498.5L183.1 498.3M215.3 495.4L219.2 495.1L223.4 493.3L231.5 491.4L239.5 491.2L247.6 491.9L255.7 492.7L263.7 493.3L271.8 493.6L279.9 493.6L287.9 493.5L296.0 492.9L304.0 491.8L310.0 490.7L311.8 486.2L304.0 484.5L296.0 483.9L287.9 483.8L279.9 484.0L271.8 484.5L263.7 485.3L255.7 486.1L254.9 486.2L247.6 488.0L239.5 489.5L231.5 489.3L223.4 486.6L222.9 486.2L215.3 484.0L208.6 481.8L207.3 481.7M683.0 481.6L674.9 481.0L666.9 480.6L658.8 480.5L650.7 480.4L642.7 480.4L634.6 480.7L626.5 481.1L618.5 481.6L616.7 481.8L610.4 484.3L607.1 486.2L607.5 490.7L610.4 493.3L612.5 495.1L618.5 496.4L626.5 497.6L634.6 498.3L642.7 498.5L650.7 498.5L658.8 498.3L666.9 497.8M691.0 495.5L695.6 495.1L699.1 493.6L707.2 491.5L715.2 491.2L723.3 491.8L731.4 492.6L739.4 493.2L747.5 493.5L755.5 493.6L763.6 493.5L771.7 493.0L779.7 491.9L786.3 490.7L787.8 486.9L788.0 486.2L787.8 486.1L779.7 484.4L771.7 483.9L763.6 483.8L755.5 484.0L747.5 484.6L739.4 485.3L731.4 486.2L731.2 486.2L723.3 488.1L715.2 489.5L707.2 489.0L699.3 486.2L699.1 486.2L691.0 483.7L684.9 481.8L683.0 481.6" fill="none" stroke="#111" stroke-width="1.5" stroke-linejoin="round"/></g>
<g clip-path="url(#clipD)"><path d="M299.7 1297.6L299.9 1293.2L299.6 1288.7L298.4 1284.3L296.0 1280.2L295.7 1279.9L291.3 1275.4L287.9 1272.3L286.2 1271.0L280.2 1266.6L279.9 1266.2L273.1 1262.1L271.8 1260.5L269.0 1257.7L270.4 1253.3L271.8 1250.6L272.5 1248.8L274.4 1244.4L276.9 1240.0L279.9 1235.9L280.1 1235.5L283.8 1231.1L287.2 1226.7L287.9 1225.3L289.4 1222.2L290.2 1217.8L290.3 1213.4L290.0 1208.9L288.8 1204.5L287.9 1202.9L286.1 1200.1L279.9 1196.2L278.6 1195.6M221.3 1177.9L217.6 1173.5L215.4 1169.8L214.9 1169.1L213.3 1164.6L215.4 1162.1L216.7 1160.2L223.4 1157.9L229.0 1155.8L231.5 1155.2L239.6 1153.1L245.5 1151.3L247.6 1150.7L255.7 1148.3L259.9 1146.9L263.7 1145.8L271.8 1143.7L278.1 1142.5L279.9 1142.1L287.9 1141.4L296.0 1141.1L304.1 1141.0L312.1 1140.9L320.2 1140.8L328.2 1140.7L336.3 1140.6L344.4 1140.5L352.4 1140.4L360.5 1140.3L368.6 1140.3L376.6 1140.2L384.7 1140.2L392.8 1140.1L400.8 1140.1L408.9 1140.0L416.9 1140.0L425.0 1139.9L433.1 1139.9L441.1 1139.8L449.2 1139.8L457.3 1139.8L465.3 1140.0M521.8 1148.8L528.3 1151.3L528.7 1155.8L521.8 1159.1L519.3 1160.2M473.4 1168.5L465.3 1168.2L457.3 1167.4L449.2 1166.7L441.1 1166.5L433.1 1166.6L425.0 1166.8L416.9 1166.9L408.9 1167.1L400.8 1167.4L392.8 1167.7L384.7 1168.9L384.3 1169.1L376.6 1172.1L375.2 1173.5L371.4 1177.9L370.7 1182.4L373.7 1186.8L376.6 1189.2L379.6 1191.2L384.7 1194.0L388.4 1195.6L392.8 1196.9L400.8 1199.0L405.8 1200.1L408.9 1200.7M468.9 1217.8L473.0 1222.2L473.4 1222.5L478.2 1226.7L481.5 1228.8L485.5 1231.1L489.5 1233.8L492.7 1235.5L497.3 1240.0L497.6 1241.0L498.7 1244.4L497.7 1248.8L497.6 1249.0L492.7 1253.3L489.5 1254.8L481.6 1257.7L481.5 1257.7L473.4 1259.4L465.3 1260.5L457.3 1261.4L451.7 1262.1L449.2 1262.5L441.1 1264.5L435.0 1266.6L433.1 1267.4L427.5 1271.0L425.0 1274.2L424.4 1275.4L423.8 1279.9L423.8 1284.3L423.8 1288.7L423.9 1293.2L423.9 1297.6M776.1 1297.6L776.2 1293.2M749.4 1262.1L747.5 1259.9L745.3 1257.7L746.7 1253.3L747.5 1251.8L748.8 1248.8L750.8 1244.4L753.2 1240.0L755.6 1236.8L756.4 1235.5L760.1 1231.1L763.6 1226.7L763.7 1226.6L765.8 1222.2L766.6 1217.8L766.7 1213.4L766.4 1208.9L765.2 1204.5L763.7 1201.8L762.5 1200.1L755.6 1195.9L754.9 1195.6L747.5 1193.9L739.5 1192.2L734.1 1191.2L731.4 1190.8L723.4 1189.3L715.3 1187.4L713.4 1186.8L707.2 1184.3L703.3 1182.4L699.2 1179.2L697.7 1177.9L694.0 1173.5L691.3 1169.1L691.1 1168.5L689.7 1164.6L691.1 1162.9L693.1 1160.2L699.2 1158.1L705.4 1155.8L707.2 1155.3L715.3 1153.3L721.9 1151.3L723.4 1150.9M771.7 1141.1L779.8 1141.0L787.9 1140.9L795.9 1140.8L804.0 1140.7L812.0 1140.6L820.1 1140.5L828.2 1140.4L836.2 1140.3L844.3 1140.3L852.4 1140.2L860.4 1140.2L868.5 1140.1L876.6 1140.1L884.6 1140.0L892.7 1140.0L900.7 1139.9L908.8 1139.9L916.9 1139.8L924.9 1139.8L933.0 1139.8L941.1 1140.0L949.1 1140.2L957.2 1140.7L965.3 1141.4L973.3 1142.4L973.4 1142.5L981.4 1144.1L989.4 1145.9L993.5 1146.9L997.5 1148.6L1004.7 1151.3L1005.0 1155.8L997.5 1159.4L995.6 1160.2L989.4 1162.1L981.4 1164.3L979.6 1164.6L973.3 1166.0L965.3 1167.3L957.2 1168.1L949.1 1168.4L941.1 1168.1L933.0 1167.4L924.9 1166.7L916.9 1166.5L908.8 1166.6L900.7 1166.8L892.7 1167.0M847.3 1182.4L850.2 1186.8L852.4 1188.6L856.1 1191.2L860.4 1193.6L864.8 1195.6L868.5 1196.8L876.6 1198.8L882.2 1200.1L884.6 1200.6L892.7 1202.0L900.7 1203.3L908.5 1204.5L908.8 1204.6L916.9 1205.7L924.9 1206.6L933.0 1208.3L934.7 1208.9L941.1 1213.1L941.4 1213.4L945.2 1217.8L949.1 1222.0L949.4 1222.2L954.6 1226.7L957.2 1228.4L961.8 1231.1L965.3 1233.4L969.1 1235.5L973.3 1239.7L973.6 1240.0L975.1 1244.4L974.1 1248.8L973.3 1249.6L969.0 1253.3L965.3 1255.1M908.8 1267.9L904.1 1271.0L900.8 1275.4L900.7 1275.5L900.2 1279.9L900.2 1284.3L900.2 1288.7L900.3 1293.2L900.3 1297.6M1086.2 1055.1L1078.1 1055.7L1070.1 1056.1L1062.0 1056.2L1053.9 1056.2L1045.9 1056.3L1037.8 1056.3L1029.8 1056.4L1021.7 1056.6L1013.6 1056.8M966.4 1058.3L965.3 1058.3L963.1 1058.3L957.2 1058.2L949.1 1058.2L941.1 1058.2L933.0 1058.2L924.9 1058.1L916.9 1058.1L908.8 1058.1L900.7 1058.1L892.7 1058.0L884.6 1058.0L876.6 1057.9L868.5 1057.7L860.4 1057.4L852.4 1057.0L844.3 1056.6L836.2 1056.0L828.2 1055.4L820.1 1054.7L812.0 1053.9L811.0 1053.8L804.0 1052.9L795.9 1051.7L787.9 1050.0L785.9 1049.4L780.1 1045.0L780.5 1040.5L783.4 1036.1L786.9 1031.7L787.9 1030.5L790.9 1027.2L794.1 1022.8L795.5 1018.4L795.1 1013.9L792.3 1009.5L787.9 1006.6L784.2 1005.1L779.8 1003.9L771.7 1002.7L763.7 1002.0L755.6 1001.6L747.5 1001.4L739.5 1001.3L731.4 1001.2L723.4 1001.1L715.3 1001.0L707.2 1001.0L699.2 1000.9M626.6 1004.7L625.8 1005.1L618.5 1008.6L617.0 1009.5L613.5 1013.9L612.9 1018.4L613.5 1022.8L614.7 1027.2L616.4 1031.7L618.5 1036.1L618.5 1036.3L620.0 1040.5L621.0 1045.0L620.3 1049.4L618.5 1051.2L613.6 1053.8L610.5 1054.6L602.4 1055.6L594.3 1056.1L586.3 1056.2L578.2 1056.2L570.1 1056.3L562.1 1056.3L554.0 1056.4L546.0 1056.6L537.9 1056.7L529.8 1057.0L521.8 1057.4L513.7 1057.8L505.6 1058.1L497.6 1058.2L490.8 1058.3L489.5 1058.3L486.6 1058.3L481.5 1058.2L473.4 1058.2L465.3 1058.2L457.3 1058.2L449.2 1058.1L441.1 1058.1L433.1 1058.1L425.0 1058.1L416.9 1058.0L408.9 1058.0L400.8 1057.9L392.8 1057.7L384.7 1057.4L376.6 1057.0L368.6 1056.6M304.1 1045.5L303.7 1045.0L304.0 1040.5L304.1 1040.5L307.0 1036.1L310.5 1031.7L312.1 1029.8L314.4 1027.2L317.6 1022.8L319.1 1018.4L318.7 1013.9L315.9 1009.5L312.1 1006.9L307.9 1005.1L304.1 1004.0L296.0 1002.7L287.9 1002.0L279.9 1001.6L271.8 1001.4L263.7 1001.3L255.7 1001.2L247.6 1001.1L239.6 1001.0L231.5 1001.0L223.4 1000.9L215.4 1000.9L207.3 1000.9L199.2 1001.0L191.2 1001.0L183.1 1001.1L175.0 1001.3L167.0 1001.6L158.9 1002.5L150.9 1004.5L149.4 1005.1L142.8 1008.2L140.7 1009.5L137.2 1013.9L136.7 1018.4L137.3 1022.8L138.5 1027.2L140.1 1031.7L142.1 1036.1L142.8 1037.7L143.7 1040.5L144.8 1045.0L144.1 1049.4L142.8 1050.7L137.3 1053.8L134.7 1054.5L126.7 1055.6L118.6 1056.1M416.9 919.7L408.9 919.7L400.8 919.7L392.8 919.7L384.7 919.7L376.6 919.7L368.6 919.9L360.5 920.3L354.6 920.9L352.4 921.1L344.4 922.2L336.3 923.8L330.8 925.3L328.2 926.5L322.4 929.7L322.1 934.2L328.2 936.3L336.3 938.2L338.3 938.6L344.4 939.3L352.4 940.0L360.5 940.5L368.6 940.7L376.6 940.7L384.7 940.7L392.8 940.7L400.8 940.6L408.9 940.6M473.4 940.0L481.5 939.7L489.5 939.3L497.6 938.9L504.3 938.6L505.6 938.5L513.7 938.0L521.8 937.3L529.8 936.7L537.9 936.1L546.0 935.6L554.0 935.2L562.1 934.7L568.5 934.2L570.1 933.3L575.3 929.7L570.1 928.7L562.1 927.0L554.0 925.8L550.1 925.3L546.0 925.0L537.9 924.5L529.8 923.9L521.8 923.3L513.7 922.7L505.6 922.3L497.6 922.0L489.5 921.7L481.5 921.4L473.4 921.1L466.5 920.9L465.3 920.8M892.7 919.7L884.6 919.7L876.6 919.7L868.5 919.7L860.4 919.7L852.4 919.7L844.3 919.9L836.2 920.3L831.1 920.9L828.2 921.2L820.1 922.4L812.0 924.0L807.3 925.3L804.0 926.9L798.8 929.7L798.6 934.2L804.0 936.1L812.0 938.1L814.7 938.6L820.1 939.2L828.2 940.0L836.2 940.5L844.3 940.7L852.4 940.7L860.4 940.7L868.5 940.7L876.6 940.6L884.6 940.6M949.1 940.0L957.2 939.7L965.3 939.3L973.3 938.9L980.7 938.6L981.4 938.6L989.4 938.0L997.5 937.4L1005.6 936.7L1013.6 936.1L1021.7 935.6L1029.8 935.2L1037.8 934.8L1044.8 934.2L1045.9 933.6L1051.6 929.7L1045.9 928.5L1037.8 926.9L1029.8 925.7L1026.5 925.3L1021.7 925.0L1013.6 924.4L1005.6 923.8L997.5 923.2L989.4 922.7L981.4 922.3L973.3 921.9L965.3 921.6L957.2 921.4L949.1 921.1L942.9 920.9L941.1 920.8M562.1 1267.9L554.0 1268.3L546.0 1269.9L542.4 1271.0L537.9 1273.3L534.5 1275.4L529.8 1279.5L529.5 1279.9L526.1 1284.3L524.3 1288.7L523.7 1293.2L523.5 1297.6M1037.8 1267.9L1029.8 1268.4L1021.7 1270.1L1018.8 1271.0L1013.6 1273.7L1010.9 1275.4L1005.9 1279.9L1005.6 1280.2L1002.5 1284.3L1000.7 1288.7L1000.1 1293.2L999.9 1297.6M118.6 1241.8L126.7 1241.5L134.7 1240.6L137.3 1240.0L142.8 1238.5L149.6 1235.5L150.9 1235.1M195.0 1204.5L191.2 1200.8L190.2 1200.1L183.1 1196.0L182.1 1195.6L175.0 1193.4L167.0 1191.5L165.9 1191.2L158.9 1188.8L154.8 1186.8L151.3 1182.4L153.1 1177.9L158.7 1173.5L158.9 1173.1L160.3 1169.1L158.9 1167.9L150.9 1165.0L148.0 1164.6L142.8 1163.8L134.7 1163.3L126.7 1162.9L118.6 1162.7M618.5 1163.7L610.5 1163.2L602.4 1163.0L594.3 1163.4L586.3 1164.5L585.2 1164.6L578.2 1165.4L570.1 1166.4L562.1 1167.6L554.0 1168.9L553.2 1169.1L546.0 1170.6L537.9 1172.7L535.5 1173.5L529.8 1175.1L521.8 1177.6L520.6 1177.9L513.7 1180.0L506.5 1182.4L505.6 1182.7L497.6 1186.1L496.3 1186.8L489.9 1191.2L489.5 1192.0L487.8 1195.6L489.5 1199.7L489.7 1200.1L493.3 1204.5L497.0 1208.9L497.6 1209.5L501.7 1213.4L505.6 1216.1L508.8 1217.8L513.7 1220.3L518.2 1222.2L521.8 1223.7L529.5 1226.7L529.8 1226.8L537.9 1229.3L546.0 1231.0L546.8 1231.1L554.0 1232.3L562.1 1233.6L570.1 1235.2L571.7 1235.5L578.2 1237.3L586.3 1239.5L588.9 1240.0L594.3 1241.1L602.4 1241.4L610.5 1240.6L613.5 1240.0L618.5 1238.7L625.9 1235.5L626.6 1235.3M673.4 1208.9L671.4 1204.5L666.9 1200.3L666.6 1200.1L658.8 1195.8L658.5 1195.6L650.8 1193.3L642.7 1191.3L642.3 1191.2L634.7 1188.5L631.2 1186.8L627.7 1182.4L629.4 1177.9L634.7 1173.8L635.0 1173.5L636.4 1169.1L634.7 1167.6L626.6 1164.9L624.3 1164.6L618.5 1163.7M1086.2 1163.1L1078.1 1163.0L1070.1 1163.5L1062.0 1164.5L1061.5 1164.6L1053.9 1165.5L1045.9 1166.5M982.9 1182.4L981.4 1182.9L973.3 1186.5L972.7 1186.8L966.3 1191.2L965.3 1193.3L964.2 1195.6L965.3 1198.1L966.0 1200.1L969.6 1204.5L973.3 1208.8L973.4 1208.9L978.1 1213.4L981.4 1215.7L985.2 1217.8L989.4 1220.0L994.6 1222.2L997.5 1223.5L1005.6 1226.5L1006.0 1226.7L1013.6 1229.1L1021.7 1230.8L1023.4 1231.1L1029.8 1232.2L1037.8 1233.5L1045.9 1235.1L1048.0 1235.5L1053.9 1237.2L1062.0 1239.3L1065.4 1240.0L1070.1 1240.9L1078.1 1241.4L1086.2 1241.1M118.6 1158.8L126.7 1158.8L134.7 1158.7L142.8 1158.6L150.9 1158.3L158.9 1157.6L167.0 1156.0L167.7 1155.8M183.1 1154.0L191.2 1153.3L199.2 1152.5M231.5 1146.0L239.6 1143.3L242.0 1142.5L247.6 1140.1L252.8 1138.0L255.7 1136.7L263.7 1133.7L264.1 1133.6L271.8 1131.2L279.9 1129.7L285.2 1129.2L287.9 1128.8L296.0 1128.2L304.1 1127.8L312.1 1127.3L320.2 1126.9L328.2 1126.5L336.3 1125.9L344.4 1125.1L347.3 1124.7L352.4 1123.1L358.6 1120.3L358.1 1115.9L352.4 1112.5L348.2 1111.4L344.4 1110.7L336.3 1110.0L328.2 1109.5L320.2 1109.1L312.1 1108.7L304.1 1108.3L296.0 1108.0L287.9 1107.9M247.6 1108.5L239.6 1108.2L231.5 1107.7L223.4 1107.1L222.4 1107.0L215.4 1106.0L207.3 1104.8L199.2 1103.0L197.5 1102.6L199.2 1101.7L205.7 1098.1L207.3 1097.8L215.4 1096.4L223.4 1095.3L231.5 1094.6M301.7 1093.7L304.1 1093.5L312.1 1092.4L320.2 1091.1L328.2 1089.8L331.2 1089.3L336.3 1088.5L344.4 1087.4L352.4 1086.1L357.6 1084.8L360.5 1084.2L368.6 1081.6L371.1 1080.4L374.8 1076.0L368.6 1073.2L361.2 1071.6L360.5 1071.5L352.4 1071.2L344.4 1071.2L336.3 1071.2L328.2 1071.2L320.2 1071.2L312.1 1070.9L304.1 1070.5L296.0 1069.8L287.9 1069.2L279.9 1068.5L271.8 1068.1L263.7 1067.7L255.7 1067.6L247.6 1067.4L239.6 1067.3L235.1 1067.1L231.5 1067.0L223.4 1066.5L215.4 1066.1L207.3 1065.8L199.2 1065.6L191.2 1065.6L183.1 1065.7L175.0 1065.9L167.0 1066.1L158.9 1066.1L150.9 1066.2L142.8 1066.3L134.7 1066.4L126.7 1066.5L118.6 1066.6M707.2 1066.9L699.2 1066.5L691.1 1066.0L683.0 1065.8L675.0 1065.6L666.9 1065.6L658.8 1065.7L650.8 1065.9L642.7 1066.1L634.7 1066.2L626.6 1066.2L618.5 1066.3L610.5 1066.4L602.4 1066.5M532.6 1071.6L529.8 1074.6L528.7 1076.0L529.8 1077.0L533.7 1080.4L537.9 1082.4L543.9 1084.8L546.0 1085.7L554.0 1088.4L556.3 1089.3L562.1 1092.4L564.0 1093.7L568.1 1098.1L562.4 1102.6L562.1 1102.6L554.0 1103.4L546.0 1104.1L537.9 1104.8L529.8 1105.8L521.8 1107.0L521.8 1107.0L513.7 1108.1L505.6 1109.4L497.6 1111.0L495.7 1111.4L489.5 1113.3L483.5 1115.9L481.5 1117.7L478.6 1120.3L481.0 1124.7L481.5 1124.9L489.5 1128.3L491.6 1129.2L497.6 1130.8L505.6 1133.3L506.5 1133.6L513.7 1135.6L521.8 1138.0L522.0 1138.0L529.8 1140.1L537.9 1141.8L541.8 1142.5L546.0 1143.1L554.0 1144.1L562.1 1145.2L569.0 1146.9L570.1 1147.3L578.2 1150.7L579.9 1151.3L586.3 1154.6L591.0 1155.8L594.3 1157.7L602.4 1158.7L610.5 1158.7L618.5 1158.6L626.6 1158.4L634.7 1157.6M666.9 1153.3L675.0 1152.6L683.0 1151.6L684.6 1151.3L691.1 1150.2L699.2 1148.4M729.2 1138.0L731.4 1137.0L739.5 1133.9L740.6 1133.6L747.5 1131.4L755.6 1129.8L761.7 1129.2L763.7 1128.9L771.7 1128.3L779.8 1127.8L787.9 1127.4L795.9 1127.0L804.0 1126.5L812.0 1126.0L820.1 1125.2L823.6 1124.7L828.2 1123.3L834.9 1120.3L834.5 1115.9L828.2 1112.3L824.4 1111.4L820.1 1110.6L812.0 1109.9L804.0 1109.5L795.9 1109.1L787.9 1108.7L779.8 1108.3L771.7 1108.0L763.7 1107.9L755.6 1108.0L747.5 1108.4L739.5 1108.7L731.4 1108.7L723.4 1108.5L715.3 1108.1L707.2 1107.6L699.2 1107.0L698.8 1107.0L691.1 1105.9L683.0 1104.6L675.0 1102.9L673.9 1102.6L675.0 1102.0L682.1 1098.1L683.0 1098.0L691.1 1096.5L699.2 1095.4L707.2 1094.7L715.3 1094.3L723.4 1094.0L731.4 1093.9M778.0 1093.7L779.8 1093.5L787.9 1092.5L795.9 1091.3L804.0 1089.9L807.6 1089.3L812.0 1088.6L820.1 1087.5L828.2 1086.2L834.0 1084.8L836.2 1084.3L844.3 1081.8L847.4 1080.4L851.1 1076.0L844.3 1073.0L837.3 1071.6L836.2 1071.5L828.2 1071.2L820.1 1071.2L812.0 1071.2L804.0 1071.2L795.9 1071.2L787.9 1070.9L779.8 1070.4L771.7 1069.8L763.7 1069.1L755.6 1068.5L747.5 1068.0L739.5 1067.7L731.4 1067.6L723.4 1067.4L715.3 1067.3L711.7 1067.1L707.2 1066.9M1086.2 1066.4L1078.1 1066.5L1070.1 1066.5L1062.0 1066.5L1053.9 1066.5L1045.9 1066.7L1037.8 1067.1L1037.1 1067.1L1029.8 1067.8M1010.1 1080.4L1013.6 1082.1L1020.3 1084.8L1021.7 1085.4L1029.8 1088.2L1032.6 1089.3L1037.8 1092.1L1040.2 1093.7L1044.4 1098.1L1038.6 1102.6L1037.8 1102.7L1029.8 1103.5L1021.7 1104.1L1013.6 1104.9L1005.6 1105.9L998.2 1107.0L997.5 1107.1L989.4 1108.2L981.4 1109.5L973.3 1111.1L972.1 1111.4L965.3 1113.6L959.8 1115.9L957.2 1118.2L955.0 1120.3L957.2 1124.4L957.4 1124.7L965.3 1128.0L967.9 1129.2L973.3 1130.7L981.4 1133.1L982.8 1133.6L989.4 1135.5L997.5 1137.8L998.4 1138.0L1005.6 1139.9L1013.6 1141.7L1018.3 1142.5L1021.7 1143.0L1029.8 1144.0L1037.8 1145.1L1045.4 1146.9L1045.9 1147.1L1053.9 1150.5L1056.3 1151.3L1062.0 1154.4L1067.4 1155.8L1070.1 1157.4L1078.1 1158.6L1086.2 1158.7M271.8 1013.9L263.7 1012.9L255.7 1012.1L247.6 1011.6L239.6 1011.1L231.5 1010.8L223.4 1010.6L215.4 1010.5L207.3 1010.5L199.2 1010.6L191.2 1010.9L183.1 1011.4L175.0 1012.3L168.0 1013.9L167.0 1014.3L161.4 1018.4L160.5 1022.8L161.7 1027.2L164.0 1031.7L167.0 1035.7L167.3 1036.1L171.9 1040.5L175.0 1043.2L178.4 1045.0L183.1 1047.2L191.2 1049.0L195.4 1049.4L199.2 1049.8L207.3 1049.8L212.2 1049.4L215.4 1049.2L223.4 1048.4M281.4 1027.2L284.3 1022.8L283.0 1018.4L279.9 1016.5L272.0 1013.9L271.8 1013.9M747.5 1013.8L739.5 1012.8L731.4 1012.1L723.4 1011.5L715.3 1011.1L707.2 1010.8L699.2 1010.6L691.1 1010.5L683.0 1010.5L675.0 1010.6L666.9 1010.9L658.8 1011.4L650.8 1012.4L644.5 1013.9L642.7 1014.7L637.8 1018.4L636.8 1022.8L638.0 1027.2L640.4 1031.7L642.7 1034.9L643.7 1036.1L648.3 1040.5L650.8 1042.7L654.8 1045.0L658.8 1046.9L666.9 1048.9L672.1 1049.4L675.0 1049.7L683.0 1049.8L688.4 1049.4L691.1 1049.3L699.2 1048.5M755.6 1028.8L757.7 1027.2L760.7 1022.8L759.3 1018.4L755.6 1016.2L748.3 1013.9L747.5 1013.8M562.1 1188.3L554.0 1188.1L546.0 1188.7L537.9 1190.0L533.0 1191.2L529.8 1192.4L523.7 1195.6L522.0 1200.1L524.2 1204.5L529.1 1208.9L529.8 1209.3L537.9 1212.6L540.4 1213.4L546.0 1214.7L554.0 1216.1L562.1 1217.1L570.1 1217.2M1000.1 1195.6L998.5 1200.1L1000.7 1204.5L1005.5 1208.9L1005.6 1209.0M1029.8 1216.0L1037.8 1217.0L1045.9 1217.2L1053.9 1216.5L1062.0 1215.0L1068.8 1213.4L1070.1 1212.7L1078.0 1208.9L1070.9 1204.5L1070.1 1204.3L1063.0 1200.1L1062.0 1199.5M118.6 1144.4L126.7 1144.4L134.7 1144.4L142.8 1144.4L150.9 1144.4L158.9 1144.4L167.0 1144.3L175.0 1144.2L183.1 1144.0M215.4 1139.9L221.3 1138.0L223.4 1137.0L230.0 1133.6L231.5 1132.1L234.5 1129.2L233.1 1124.7L231.5 1124.1L223.4 1121.8L217.5 1120.3L215.4 1120.0L207.3 1118.9L199.2 1117.9L191.2 1117.2L183.1 1116.6L175.0 1116.2L168.7 1115.9L167.0 1115.8L158.9 1115.0L150.9 1114.3L142.8 1113.8L134.7 1113.7L126.7 1113.7L118.6 1113.7M642.7 1115.7L634.7 1115.0L626.6 1114.2L618.5 1113.8L610.5 1113.7L602.4 1113.7L594.3 1113.6L586.3 1113.5L578.2 1113.5L570.1 1113.5L562.1 1113.6L554.0 1113.9L546.0 1114.4L537.9 1115.3L534.4 1115.9L529.8 1117.1L521.8 1119.9L520.8 1120.3L519.7 1124.7L521.8 1126.0L526.6 1129.2L529.8 1130.3L537.9 1132.9L540.7 1133.6L546.0 1134.6L554.0 1135.7L562.1 1136.9L567.3 1138.0L570.1 1138.6L578.2 1140.3L586.3 1142.2L587.9 1142.5L594.3 1143.7L602.4 1144.3L610.5 1144.4L618.5 1144.4L626.6 1144.4L634.7 1144.4L642.7 1144.3L650.8 1144.2L658.8 1144.0L666.9 1143.7L675.0 1143.2L680.5 1142.5L683.0 1142.0L691.1 1140.0L697.7 1138.0L699.2 1137.3L706.3 1133.6L707.2 1132.7L710.8 1129.2L709.5 1124.7L707.2 1123.9L699.2 1121.6L693.8 1120.3L691.1 1119.9L683.0 1118.8L675.0 1117.9L666.9 1117.1L658.8 1116.6L650.8 1116.2L645.2 1115.9L642.7 1115.7M1086.2 1113.7L1078.1 1113.7L1070.1 1113.6L1062.0 1113.5L1053.9 1113.5L1045.9 1113.5M1005.6 1117.3L997.5 1120.2L997.2 1120.3L996.1 1124.7L997.5 1125.6L1003.0 1129.2L1005.6 1130.1L1013.6 1132.7L1017.2 1133.6L1021.7 1134.4L1029.8 1135.6L1037.8 1136.8L1043.6 1138.0L1045.9 1138.4L1053.9 1140.1L1062.0 1142.0L1064.4 1142.5L1070.1 1143.6L1078.1 1144.3L1086.2 1144.4M118.6 1086.1L126.7 1085.9L134.7 1085.5L142.3 1084.8L142.8 1084.8L150.9 1081.8L153.4 1080.4L150.9 1078.7L144.3 1076.0L142.8 1075.9L134.7 1075.5L126.7 1075.3L118.6 1075.2M618.5 1075.8L610.5 1075.5L602.4 1075.4L594.3 1075.5L590.1 1076.0L586.3 1078.8L585.3 1080.4L586.3 1081.0L593.9 1084.8L594.3 1085.0L602.4 1085.8L610.5 1085.5L618.5 1084.9L618.6 1084.8L626.6 1082.1L629.6 1080.4L626.6 1078.4L620.4 1076.0L618.5 1075.8M1086.2 1075.4L1078.1 1075.4L1070.1 1075.6L1066.5 1076.0L1062.0 1079.7L1061.6 1080.4L1062.0 1080.7L1070.1 1084.8L1070.5 1084.8L1078.1 1085.7L1086.2 1085.7M223.4 1018.0L215.4 1017.7L207.3 1017.7L199.2 1018.0L194.7 1018.4L191.2 1018.9L183.1 1021.6L181.3 1022.8L181.1 1027.2L183.1 1029.4L186.5 1031.7L191.2 1033.5L199.2 1035.2L207.3 1035.9L215.4 1035.7L223.4 1034.8L231.5 1033.1L236.8 1031.7L239.6 1030.5L245.9 1027.2L246.4 1022.8L239.6 1020.5L231.5 1018.7L228.9 1018.4L223.4 1018.0M699.2 1018.0L691.1 1017.7L683.0 1017.7L675.0 1018.0L671.3 1018.4L666.9 1019.1L658.8 1022.0L657.7 1022.8L657.5 1027.2L658.8 1028.7L663.1 1031.7L666.9 1033.3L675.0 1035.1L683.0 1035.9L691.1 1035.7L699.2 1034.8L707.2 1033.3L713.1 1031.7L715.3 1030.7L722.3 1027.2L722.8 1022.8L715.3 1020.3L707.2 1018.6L705.3 1018.4L699.2 1018.0" fill="none" stroke="#111" stroke-width="1.35" stroke-linejoin="round"/></g>
<text transform="translate(255.6 362.7) rotate(-15)" y="10.4" font-size="29" text-anchor="middle" textLength="16.6" lengthAdjust="spacingAndGlyphs" fill="#0c0c0c">2</text>
<text transform="translate(238.0 379.2) rotate(0)" y="10.4" font-size="29" text-anchor="middle" textLength="16.6" lengthAdjust="spacingAndGlyphs" fill="#0c0c0c">2</text>
<text transform="translate(137.8 390.3) rotate(-55)" y="10.4" font-size="29" text-anchor="middle" textLength="16.6" lengthAdjust="spacingAndGlyphs" fill="#0c0c0c">1</text>
<text transform="translate(245.6 405.3) rotate(70)" y="10.4" font-size="29" text-anchor="middle" textLength="16.6" lengthAdjust="spacingAndGlyphs" fill="#0c0c0c">2</text>
<text transform="translate(235.5 434.4) rotate(0)" y="10.4" font-size="29" text-anchor="middle" textLength="16.6" lengthAdjust="spacingAndGlyphs" fill="#0c0c0c">2</text>
<text transform="translate(152.8 448.9) rotate(0)" y="10.4" font-size="29" text-anchor="middle" textLength="16.6" lengthAdjust="spacingAndGlyphs" fill="#0c0c0c">1</text>
<text transform="translate(273.1 469.0) rotate(0)" y="10.4" font-size="29" text-anchor="middle" textLength="16.6" lengthAdjust="spacingAndGlyphs" fill="#0c0c0c">2</text>
<text transform="translate(200.5 500.5) rotate(0)" y="10.4" font-size="29" text-anchor="middle" textLength="16.6" lengthAdjust="spacingAndGlyphs" fill="#0c0c0c">3</text>
<text transform="translate(170.4 512.0) rotate(-20)" y="10.4" font-size="29" text-anchor="middle" textLength="16.6" lengthAdjust="spacingAndGlyphs" fill="#0c0c0c">2</text>
<text transform="translate(162.9 525.6) rotate(0)" y="10.4" font-size="29" text-anchor="middle" textLength="16.6" lengthAdjust="spacingAndGlyphs" fill="#0c0c0c">2</text>
<text transform="translate(219.0 555.6) rotate(0)" y="10.4" font-size="29" text-anchor="middle" textLength="16.6" lengthAdjust="spacingAndGlyphs" fill="#0c0c0c">1</text>
<text transform="translate(142.8 559.7) rotate(0)" y="10.4" font-size="29" text-anchor="middle" textLength="16.6" lengthAdjust="spacingAndGlyphs" fill="#0c0c0c">3</text>
<text transform="translate(145.3 572.2) rotate(0)" y="10.4" font-size="29" text-anchor="middle" textLength="16.6" lengthAdjust="spacingAndGlyphs" fill="#0c0c0c">2</text>
<text transform="translate(166.4 579.7) rotate(0)" y="10.4" font-size="29" text-anchor="middle" textLength="16.6" lengthAdjust="spacingAndGlyphs" fill="#0c0c0c">1</text>
<text transform="translate(199.0 609.8) rotate(8)" y="10.4" font-size="29" text-anchor="middle" textLength="16.6" lengthAdjust="spacingAndGlyphs" fill="#0c0c0c">1</text>
<text transform="translate(152.8 618.3) rotate(0)" y="10.4" font-size="29" text-anchor="middle" textLength="16.6" lengthAdjust="spacingAndGlyphs" fill="#0c0c0c">2</text>
<text transform="translate(156.4 648.4) rotate(0)" y="10.4" font-size="29" text-anchor="middle" textLength="16.6" lengthAdjust="spacingAndGlyphs" fill="#0c0c0c">2</text>
<text transform="translate(150.3 654.9) rotate(0)" y="10.4" font-size="29" text-anchor="middle" textLength="16.6" lengthAdjust="spacingAndGlyphs" fill="#0c0c0c">1</text>
<text transform="translate(160.4 690.0) rotate(0)" y="10.4" font-size="29" text-anchor="middle" textLength="16.6" lengthAdjust="spacingAndGlyphs" fill="#0c0c0c">1</text>
<text transform="translate(325.7 545.6) rotate(68)" y="10.4" font-size="29" text-anchor="middle" textLength="16.6" lengthAdjust="spacingAndGlyphs" fill="#0c0c0c">2</text>
<text transform="translate(393.4 604.8) rotate(60)" y="10.4" font-size="29" text-anchor="middle" textLength="16.6" lengthAdjust="spacingAndGlyphs" fill="#0c0c0c">2</text>
<text transform="translate(415.7 384.8) rotate(-3)" y="10.4" font-size="29" text-anchor="middle" textLength="16.6" lengthAdjust="spacingAndGlyphs" fill="#0c0c0c">1</text>
<text transform="translate(486.1 437.9) rotate(0)" y="10.4" font-size="29" text-anchor="middle" textLength="16.6" lengthAdjust="spacingAndGlyphs" fill="#0c0c0c">1</text>
<text transform="translate(468.6 467.0) rotate(0)" y="10.4" font-size="29" text-anchor="middle" textLength="16.6" lengthAdjust="spacingAndGlyphs" fill="#0c0c0c">1</text>
<text transform="translate(606.4 399.3) rotate(18)" y="10.4" font-size="29" text-anchor="middle" textLength="16.6" lengthAdjust="spacingAndGlyphs" fill="#0c0c0c">1</text>
<text transform="translate(618.9 558.2) rotate(10)" y="10.4" font-size="29" text-anchor="middle" textLength="16.6" lengthAdjust="spacingAndGlyphs" fill="#0c0c0c">3</text>
<text transform="translate(581.3 574.2) rotate(0)" y="10.4" font-size="29" text-anchor="middle" textLength="16.6" lengthAdjust="spacingAndGlyphs" fill="#0c0c0c">2</text>
<text transform="translate(566.3 606.8) rotate(0)" y="10.4" font-size="29" text-anchor="middle" textLength="16.6" lengthAdjust="spacingAndGlyphs" fill="#0c0c0c">3</text>
<text transform="translate(573.8 617.3) rotate(0)" y="10.4" font-size="29" text-anchor="middle" textLength="16.6" lengthAdjust="spacingAndGlyphs" fill="#0c0c0c">2</text>
<text transform="translate(526.2 650.9) rotate(0)" y="10.4" font-size="29" text-anchor="middle" textLength="16.6" lengthAdjust="spacingAndGlyphs" fill="#0c0c0c">2</text>
<text transform="translate(541.2 683.4) rotate(0)" y="10.4" font-size="29" text-anchor="middle" textLength="16.6" lengthAdjust="spacingAndGlyphs" fill="#0c0c0c">2</text>
<text transform="translate(613.9 678.4) rotate(10)" y="10.4" font-size="29" text-anchor="middle" textLength="16.6" lengthAdjust="spacingAndGlyphs" fill="#0c0c0c">1</text>
<text transform="translate(409.9 712.0) rotate(20)" y="10.4" font-size="29" text-anchor="middle" textLength="16.6" lengthAdjust="spacingAndGlyphs" fill="#0c0c0c">1</text>
<text transform="translate(488.6 741.1) rotate(5)" y="10.4" font-size="29" text-anchor="middle" textLength="16.6" lengthAdjust="spacingAndGlyphs" fill="#0c0c0c">1</text>
<text transform="translate(646.5 513.0) rotate(0)" y="10.4" font-size="29" text-anchor="middle" textLength="16.6" lengthAdjust="spacingAndGlyphs" fill="#0c0c0c">2</text>
<text transform="translate(734.7 377.7) rotate(8)" y="10.4" font-size="29" text-anchor="middle" textLength="16.6" lengthAdjust="spacingAndGlyphs" fill="#0c0c0c">2</text>
<text transform="translate(702.1 410.3) rotate(15)" y="10.4" font-size="29" text-anchor="middle" textLength="16.6" lengthAdjust="spacingAndGlyphs" fill="#0c0c0c">2</text>
<text transform="translate(732.1 447.9) rotate(30)" y="10.4" font-size="29" text-anchor="middle" textLength="16.6" lengthAdjust="spacingAndGlyphs" fill="#0c0c0c">2</text>
<text transform="translate(753.2 469.0) rotate(0)" y="10.4" font-size="29" text-anchor="middle" textLength="16.6" lengthAdjust="spacingAndGlyphs" fill="#0c0c0c">2</text>
<text transform="translate(863.9 438.9) rotate(0)" y="10.4" font-size="29" text-anchor="middle" textLength="16.6" lengthAdjust="spacingAndGlyphs" fill="#0c0c0c">1</text>
<text transform="translate(679.5 500.5) rotate(10)" y="10.4" font-size="29" text-anchor="middle" textLength="16.6" lengthAdjust="spacingAndGlyphs" fill="#0c0c0c">3</text>
<text transform="translate(699.6 527.1) rotate(0)" y="10.4" font-size="29" text-anchor="middle" textLength="16.6" lengthAdjust="spacingAndGlyphs" fill="#0c0c0c">2</text>
<text transform="translate(698.1 556.6) rotate(0)" y="10.4" font-size="29" text-anchor="middle" textLength="16.6" lengthAdjust="spacingAndGlyphs" fill="#0c0c0c">1</text>
<text transform="translate(672.0 638.3) rotate(0)" y="10.4" font-size="29" text-anchor="middle" textLength="16.6" lengthAdjust="spacingAndGlyphs" fill="#0c0c0c">1</text>
<text transform="translate(439.0 935.7) rotate(2)" y="10.6" font-size="29.5" text-anchor="middle" textLength="57.4" lengthAdjust="spacingAndGlyphs" fill="#0c0c0c">0.03</text>
<text transform="translate(255.6 1038.0) rotate(-38)" y="10.6" font-size="29.5" text-anchor="middle" textLength="57.4" lengthAdjust="spacingAndGlyphs" fill="#0c0c0c">0.06</text>
<text transform="translate(330.7 1054.5) rotate(8)" y="10.6" font-size="29.5" text-anchor="middle" textLength="57.4" lengthAdjust="spacingAndGlyphs" fill="#0c0c0c">0.03</text>
<text transform="translate(200.5 1089.1) rotate(-3)" y="10.6" font-size="29.5" text-anchor="middle" textLength="57.4" lengthAdjust="spacingAndGlyphs" fill="#0c0c0c">0.09</text>
<text transform="translate(268.1 1093.1) rotate(-10)" y="10.6" font-size="29.5" text-anchor="middle" textLength="57.4" lengthAdjust="spacingAndGlyphs" fill="#0c0c0c">0.06</text>
<text transform="translate(446.0 1093.1) rotate(3)" y="10.6" font-size="29.5" text-anchor="middle" textLength="57.4" lengthAdjust="spacingAndGlyphs" fill="#0c0c0c">0.03</text>
<text transform="translate(565.3 1068.1) rotate(-5)" y="10.6" font-size="29.5" text-anchor="middle" textLength="57.4" lengthAdjust="spacingAndGlyphs" fill="#0c0c0c">0.06</text>
<text transform="translate(182.9 1128.2) rotate(-20)" y="10.6" font-size="29.5" text-anchor="middle" textLength="41.0" lengthAdjust="spacingAndGlyphs" fill="#0c0c0c">.12</text>
<text transform="translate(198.0 1140.7) rotate(0)" y="10.6" font-size="29.5" text-anchor="middle" textLength="57.4" lengthAdjust="spacingAndGlyphs" fill="#0c0c0c">0.09</text>
<text transform="translate(170.4 1146.7) rotate(0)" y="10.6" font-size="29.5" text-anchor="middle" textLength="57.4" lengthAdjust="spacingAndGlyphs" fill="#0c0c0c">0.06</text>
<text transform="translate(215.5 1145.7) rotate(0)" y="10.6" font-size="29.5" text-anchor="middle" textLength="57.4" lengthAdjust="spacingAndGlyphs" fill="#0c0c0c">0.06</text>
<text transform="translate(244.0 1190.8) rotate(18)" y="10.6" font-size="29.5" text-anchor="middle" textLength="57.4" lengthAdjust="spacingAndGlyphs" fill="#0c0c0c">0.03</text>
<text transform="translate(180.4 1220.9) rotate(-45)" y="10.6" font-size="29.5" text-anchor="middle" textLength="57.4" lengthAdjust="spacingAndGlyphs" fill="#0c0c0c">0.06</text>
<text transform="translate(491.1 1150.7) rotate(-38)" y="10.6" font-size="29.5" text-anchor="middle" textLength="57.4" lengthAdjust="spacingAndGlyphs" fill="#0c0c0c">0.03</text>
<text transform="translate(438.5 1210.9) rotate(18)" y="10.6" font-size="29.5" text-anchor="middle" textLength="57.4" lengthAdjust="spacingAndGlyphs" fill="#0c0c0c">0.03</text>
<text transform="translate(588.8 1200.9) rotate(55)" y="10.6" font-size="29.5" text-anchor="middle" textLength="57.4" lengthAdjust="spacingAndGlyphs" fill="#0c0c0c">0.09</text>
<text transform="translate(566.3 1286.0) rotate(55)" y="10.6" font-size="29.5" text-anchor="middle" textLength="57.4" lengthAdjust="spacingAndGlyphs" fill="#0c0c0c">0.06</text>
<text transform="translate(649.0 1220.9) rotate(-40)" y="10.6" font-size="29.5" text-anchor="middle" textLength="57.4" lengthAdjust="spacingAndGlyphs" fill="#0c0c0c">0.06</text>
<text transform="translate(662.0 1003.0) rotate(3)" y="10.6" font-size="29.5" text-anchor="middle" textLength="57.4" lengthAdjust="spacingAndGlyphs" fill="#0c0c0c">0.03</text>
<text transform="translate(657.0 1126.0) rotate(-60)" y="10.6" font-size="29.5" text-anchor="middle" textLength="57.4" lengthAdjust="spacingAndGlyphs" fill="#0c0c0c">0.12</text>
<text transform="translate(651.5 1150.7) rotate(-50)" y="10.6" font-size="29.5" text-anchor="middle" textLength="57.4" lengthAdjust="spacingAndGlyphs" fill="#0c0c0c">0.06</text>
<text transform="translate(732.1 1040.5) rotate(-38)" y="10.6" font-size="29.5" text-anchor="middle" textLength="57.4" lengthAdjust="spacingAndGlyphs" fill="#0c0c0c">0.06</text>
<text transform="translate(714.6 1082.1) rotate(-5)" y="10.6" font-size="29.5" text-anchor="middle" textLength="57.4" lengthAdjust="spacingAndGlyphs" fill="#0c0c0c">0.09</text>
<text transform="translate(754.7 1088.1) rotate(-8)" y="10.6" font-size="29.5" text-anchor="middle" textLength="57.4" lengthAdjust="spacingAndGlyphs" fill="#0c0c0c">0.06</text>
<text transform="translate(917.6 934.3) rotate(3)" y="10.6" font-size="29.5" text-anchor="middle" textLength="57.4" lengthAdjust="spacingAndGlyphs" fill="#0c0c0c">0.03</text>
<text transform="translate(990.2 1059.5) rotate(3)" y="10.6" font-size="29.5" text-anchor="middle" textLength="57.4" lengthAdjust="spacingAndGlyphs" fill="#0c0c0c">0.03</text>
<text transform="translate(1012.0 1073.0) rotate(-65)" y="10.6" font-size="29.5" text-anchor="middle" textLength="57.4" lengthAdjust="spacingAndGlyphs" fill="#0c0c0c">0.06</text>
<text transform="translate(922.6 1093.1) rotate(3)" y="10.6" font-size="29.5" text-anchor="middle" textLength="57.4" lengthAdjust="spacingAndGlyphs" fill="#0c0c0c">0.03</text>
<text transform="translate(1025.3 1115.7) rotate(-30)" y="10.6" font-size="29.5" text-anchor="middle" textLength="57.4" lengthAdjust="spacingAndGlyphs" fill="#0c0c0c">0.09</text>
<text transform="translate(1040.3 1125.7) rotate(80)" y="10.6" font-size="29.5" text-anchor="middle" textLength="57.4" lengthAdjust="spacingAndGlyphs" fill="#0c0c0c">0.12</text>
<text transform="translate(709.6 1140.7) rotate(0)" y="10.6" font-size="29.5" text-anchor="middle" textLength="57.4" lengthAdjust="spacingAndGlyphs" fill="#0c0c0c">0.06</text>
<text transform="translate(747.2 1145.7) rotate(-5)" y="10.6" font-size="29.5" text-anchor="middle" textLength="57.4" lengthAdjust="spacingAndGlyphs" fill="#0c0c0c">0.03</text>
<text transform="translate(857.4 1164.3) rotate(-8)" y="10.6" font-size="29.5" text-anchor="middle" textLength="57.4" lengthAdjust="spacingAndGlyphs" fill="#0c0c0c">0.03</text>
<text transform="translate(1011.8 1173.3) rotate(-20)" y="10.6" font-size="29.5" text-anchor="middle" textLength="57.4" lengthAdjust="spacingAndGlyphs" fill="#0c0c0c">0.06</text>
<text transform="translate(1030.3 1198.4) rotate(-12)" y="10.6" font-size="29.5" text-anchor="middle" textLength="57.4" lengthAdjust="spacingAndGlyphs" fill="#0c0c0c">0.09</text>
<text transform="translate(940.1 1268.5) rotate(-20)" y="10.6" font-size="29.5" text-anchor="middle" textLength="57.4" lengthAdjust="spacingAndGlyphs" fill="#0c0c0c">0.03</text>
<text transform="translate(757.2 1280.0) rotate(55)" y="10.6" font-size="29.5" text-anchor="middle" textLength="57.4" lengthAdjust="spacingAndGlyphs" fill="#0c0c0c">0.03</text>
<text transform="translate(1042.9 1286.0) rotate(55)" y="10.6" font-size="29.5" text-anchor="middle" textLength="57.4" lengthAdjust="spacingAndGlyphs" fill="#0c0c0c">0.06</text>
<path d="M215.3 754.0v-8M312.1 754.0v-8M408.9 754.0v-8M505.6 754.0v-8M602.4 754.0v-8M699.1 754.0v-8M795.9 754.0v-8M118.6 687.6h9M118.6 621.2h9M118.6 554.8h9M118.6 488.4h9M118.6 422.0h9M118.6 355.7h9" stroke="#262626" stroke-width="1.3" fill="none"/><path d="M118.0 311.4V754.3H892.6" stroke="#3a3a3a" stroke-width="1.5" fill="none"/><text x="105.1" y="806.6" font-size="39" text-anchor="middle" textLength="22.3" lengthAdjust="spacingAndGlyphs" fill="#1c1c1c">0</text><text x="201.8" y="806.6" font-size="39" text-anchor="middle" textLength="22.3" lengthAdjust="spacingAndGlyphs" fill="#1c1c1c">3</text><text x="298.6" y="806.6" font-size="39" text-anchor="middle" textLength="22.3" lengthAdjust="spacingAndGlyphs" fill="#1c1c1c">6</text><text x="395.4" y="806.6" font-size="39" text-anchor="middle" textLength="22.3" lengthAdjust="spacingAndGlyphs" fill="#1c1c1c">9</text><text x="498.6" y="806.6" font-size="39" text-anchor="middle" textLength="44.7" lengthAdjust="spacingAndGlyphs" fill="#1c1c1c">12</text><text x="595.4" y="806.6" font-size="39" text-anchor="middle" textLength="44.7" lengthAdjust="spacingAndGlyphs" fill="#1c1c1c">15</text><text x="692.1" y="806.6" font-size="39" text-anchor="middle" textLength="44.7" lengthAdjust="spacingAndGlyphs" fill="#1c1c1c">18</text><text x="788.9" y="806.6" font-size="39" text-anchor="middle" textLength="44.7" lengthAdjust="spacingAndGlyphs" fill="#1c1c1c">21</text><text x="885.6" y="806.6" font-size="39" text-anchor="middle" textLength="44.7" lengthAdjust="spacingAndGlyphs" fill="#1c1c1c">24</text><text x="90.5" y="767.2" font-size="37" text-anchor="end" textLength="22.4" lengthAdjust="spacingAndGlyphs" fill="#1c1c1c">0</text><text x="90.5" y="700.8" font-size="37" text-anchor="end" textLength="22.4" lengthAdjust="spacingAndGlyphs" fill="#1c1c1c">3</text><text x="90.5" y="634.4" font-size="37" text-anchor="end" textLength="22.4" lengthAdjust="spacingAndGlyphs" fill="#1c1c1c">6</text><text x="90.5" y="568.0" font-size="37" text-anchor="end" textLength="22.4" lengthAdjust="spacingAndGlyphs" fill="#1c1c1c">9</text><text x="99.5" y="501.6" font-size="37" text-anchor="end" textLength="44.8" lengthAdjust="spacingAndGlyphs" fill="#1c1c1c">12</text><text x="99.5" y="435.2" font-size="37" text-anchor="end" textLength="44.8" lengthAdjust="spacingAndGlyphs" fill="#1c1c1c">15</text><text x="99.5" y="368.9" font-size="37" text-anchor="end" textLength="44.8" lengthAdjust="spacingAndGlyphs" fill="#1c1c1c">18</text>
<path d="M215.4 1299.8v-8M312.1 1299.8v-8M408.9 1299.8v-8M505.6 1299.8v-8M602.4 1299.8v-8M699.2 1299.8v-8M795.9 1299.8v-8M892.7 1299.8v-8M989.4 1299.8v-8M118.6 1233.3h9M118.6 1166.8h9M118.6 1100.4h9M118.6 1033.9h9M118.6 967.4h9M118.6 900.9h9" stroke="#262626" stroke-width="1.3" fill="none"/><path d="M118.0 856.6V1300.1H1086.2" stroke="#3a3a3a" stroke-width="1.5" fill="none"/><text x="105.1" y="1352.4" font-size="39" text-anchor="middle" textLength="22.3" lengthAdjust="spacingAndGlyphs" fill="#1c1c1c">0</text><text x="201.9" y="1352.4" font-size="39" text-anchor="middle" textLength="22.3" lengthAdjust="spacingAndGlyphs" fill="#1c1c1c">3</text><text x="298.6" y="1352.4" font-size="39" text-anchor="middle" textLength="22.3" lengthAdjust="spacingAndGlyphs" fill="#1c1c1c">6</text><text x="395.4" y="1352.4" font-size="39" text-anchor="middle" textLength="22.3" lengthAdjust="spacingAndGlyphs" fill="#1c1c1c">9</text><text x="498.6" y="1352.4" font-size="39" text-anchor="middle" textLength="44.7" lengthAdjust="spacingAndGlyphs" fill="#1c1c1c">12</text><text x="595.4" y="1352.4" font-size="39" text-anchor="middle" textLength="44.7" lengthAdjust="spacingAndGlyphs" fill="#1c1c1c">15</text><text x="692.2" y="1352.4" font-size="39" text-anchor="middle" textLength="44.7" lengthAdjust="spacingAndGlyphs" fill="#1c1c1c">18</text><text x="788.9" y="1352.4" font-size="39" text-anchor="middle" textLength="44.7" lengthAdjust="spacingAndGlyphs" fill="#1c1c1c">21</text><text x="885.7" y="1352.4" font-size="39" text-anchor="middle" textLength="44.7" lengthAdjust="spacingAndGlyphs" fill="#1c1c1c">24</text><text x="982.4" y="1352.4" font-size="39" text-anchor="middle" textLength="44.7" lengthAdjust="spacingAndGlyphs" fill="#1c1c1c">27</text><text x="1079.2" y="1352.4" font-size="39" text-anchor="middle" textLength="44.7" lengthAdjust="spacingAndGlyphs" fill="#1c1c1c">30</text><text x="90.5" y="1313.0" font-size="37" text-anchor="end" textLength="22.4" lengthAdjust="spacingAndGlyphs" fill="#1c1c1c">0</text><text x="90.5" y="1246.5" font-size="37" text-anchor="end" textLength="22.4" lengthAdjust="spacingAndGlyphs" fill="#1c1c1c">3</text><text x="90.5" y="1180.0" font-size="37" text-anchor="end" textLength="22.4" lengthAdjust="spacingAndGlyphs" fill="#1c1c1c">6</text><text x="90.5" y="1113.6" font-size="37" text-anchor="end" textLength="22.4" lengthAdjust="spacingAndGlyphs" fill="#1c1c1c">9</text><text x="99.5" y="1047.1" font-size="37" text-anchor="end" textLength="44.8" lengthAdjust="spacingAndGlyphs" fill="#1c1c1c">12</text><text x="99.5" y="980.6" font-size="37" text-anchor="end" textLength="44.8" lengthAdjust="spacingAndGlyphs" fill="#1c1c1c">15</text><text x="99.5" y="914.1" font-size="37" text-anchor="end" textLength="44.8" lengthAdjust="spacingAndGlyphs" fill="#1c1c1c">18</text>
<g transform="translate(34.6,533) rotate(-90)"><text font-size="45" text-anchor="middle" textLength="280" lengthAdjust="spacingAndGlyphs" fill="#1c1c1c">Distance (km)</text></g>
<g transform="translate(34.6,1078.5) rotate(-90)"><text font-size="45" text-anchor="middle" textLength="280" lengthAdjust="spacingAndGlyphs" fill="#1c1c1c">Distance (km)</text></g>
<text x="600.3" y="1402.2" font-size="41.5" text-anchor="middle" textLength="214.7" lengthAdjust="spacingAndGlyphs" fill="#1c1c1c">Time (day)</text>
<path d="M943.7 310.2V759.0M997.4 310.2V759.0M1051.1 310.2V759.0M922.4 646.8H1104.8M922.4 534.6H1104.8M922.4 422.4H1104.8" stroke="#dcdcdc" stroke-width="1.1" fill="none"/>
<g clip-path="url(#clipC)"><polyline points="1059.2,309.9 1066.5,315.8 1079.4,324.0 1073.0,329.6 1084.6,336.9 1073.9,340.6 1063.4,344.6 1074.8,352.0 1058.2,357.2 1045.4,360.8 1042.6,364.5 1047.2,372.8 1054.6,380.2 1052.7,385.7 1055.1,391.2 1050.9,400.4 1041.7,407.8 1023.3,416.0 1014.1,423.4 997.5,430.2 1027.0,439.4 1056.4,449.2 1039.8,455.6 1027.0,460.2 1019.6,464.8 1015.0,469.4 1007.3,472.7 1017.8,478.6 1026.0,484.1 1025.1,487.8 1028.8,491.5 1035.6,495.2 1035.2,499.8 1029.7,507.1 1015.9,512.6 992.0,518.2 965.3,522.2 995.7,529.2 1010.4,532.8 1021.4,538.3 1030.3,544.7 1028.8,550.2 1024.2,553.6 1028.8,557.2 1025.1,561.3 1010.0,567.4 1017.8,571.4 1036.2,578.8 1047.2,585.2 1063.4,593.5 1047.2,600.8 1032.5,611.0 1024.2,618.3 1019.6,620.5 1011.3,623.5 1019.6,626.6 1032.5,631.2 1030.6,634.5 1023.3,637.6 1019.6,642.2 1020.0,649.6 1027.0,654.2 1044.1,661.0 1032.5,665.6 1003.0,671.3 992.0,675.4 983.7,682.7 988.3,688.6 999.4,692.8 1017.8,700.2 1036.2,706.6 1042.6,711.2 1043.5,716.8 1047.2,721.4 1052.7,726.0 1056.4,732.4 1057.7,739.8 1052.7,748.0 1045.4,759.1" fill="none" stroke="#1467b6" stroke-width="3.4" stroke-linejoin="round" stroke-linecap="round"/></g>
<rect x="922.4" y="310.2" width="182.4" height="448.8" fill="none" stroke="#303030" stroke-width="1.3"/>
<path d="M943.7 310.2v5M943.7 759.0v-5M997.4 310.2v5M997.4 759.0v-5M1051.1 310.2v5M1051.1 759.0v-5M922.4 646.8h5M1104.8 646.8h-5M922.4 534.6h5M1104.8 534.6h-5M922.4 422.4h5M1104.8 422.4h-5" stroke="#303030" stroke-width="1.3" fill="none"/>
<text transform="translate(946.3 795.6) rotate(-45)" y="8.8" font-size="25.5" text-anchor="middle" fill="#111">-15</text>
<text transform="translate(999.6 796.4) rotate(-45)" y="8.8" font-size="25.5" text-anchor="middle" fill="#111">-10</text>
<text transform="translate(1059.4 790) rotate(-45)" y="8.8" font-size="25.5" text-anchor="middle" fill="#111">-5</text>
<text transform="translate(1111.6 789.3) rotate(-45)" y="8.8" font-size="25.5" text-anchor="middle" fill="#111">0</text>
<text x="1013.5" y="836.4" font-size="25.5" text-anchor="middle" textLength="127" lengthAdjust="spacingAndGlyphs" fill="#1a1a1a">Depth [m]</text>
<defs><linearGradient id="cbB" x1="0" y1="1" x2="0" y2="0"><stop offset="0.0000" stop-color="#313695"/><stop offset="0.1000" stop-color="#4575b4"/><stop offset="0.2000" stop-color="#74add1"/><stop offset="0.3000" stop-color="#abd9e9"/><stop offset="0.4000" stop-color="#e0f3f8"/><stop offset="0.5000" stop-color="#ffffbf"/><stop offset="0.6000" stop-color="#fee090"/><stop offset="0.7000" stop-color="#fdae61"/><stop offset="0.8000" stop-color="#f46d43"/><stop offset="0.9000" stop-color="#d73027"/><stop offset="1.0000" stop-color="#a50026"/></linearGradient></defs><rect x="1139.2" y="311.4" width="44.6" height="442.8" fill="url(#cbB)" stroke="#555" stroke-width="1"/><text x="1197.5" y="766.4" font-size="34" textLength="21.2" lengthAdjust="spacingAndGlyphs" fill="#1c1c1c">0</text><text x="1197.5" y="655.7" font-size="34" textLength="21.2" lengthAdjust="spacingAndGlyphs" fill="#1c1c1c">1</text><text x="1197.5" y="545.0" font-size="34" textLength="21.2" lengthAdjust="spacingAndGlyphs" fill="#1c1c1c">2</text><text x="1197.5" y="434.3" font-size="34" textLength="21.2" lengthAdjust="spacingAndGlyphs" fill="#1c1c1c">3</text><text x="1197.5" y="323.6" font-size="34" textLength="21.2" lengthAdjust="spacingAndGlyphs" fill="#1c1c1c">4</text><path d="M1183.8 643.5h-6M1183.8 532.8h-6M1183.8 422.1h-6" stroke="#222" stroke-width="1.2" fill="none"/>
<defs><linearGradient id="cbD" x1="0" y1="1" x2="0" y2="0"><stop offset="0.0000" stop-color="#fffee0"/><stop offset="0.1250" stop-color="#f8f7c0"/><stop offset="0.2500" stop-color="#e6eeae"/><stop offset="0.3750" stop-color="#bedb97"/><stop offset="0.5000" stop-color="#86c37f"/><stop offset="0.6250" stop-color="#4dad69"/><stop offset="0.7500" stop-color="#278c4c"/><stop offset="0.8750" stop-color="#116f3c"/><stop offset="1.0000" stop-color="#18532f"/></linearGradient></defs><rect x="1139.4" y="857.2" width="44.2" height="441.6" fill="url(#cbD)" stroke="#222" stroke-width="1"/><text x="1197.5" y="1311.0" font-size="34" textLength="21.2" lengthAdjust="spacingAndGlyphs" fill="#1c1c1c">0</text><text x="1197.5" y="1222.7" font-size="34" textLength="74.1" lengthAdjust="spacingAndGlyphs" fill="#1c1c1c">0.02</text><text x="1197.5" y="1134.4" font-size="34" textLength="74.1" lengthAdjust="spacingAndGlyphs" fill="#1c1c1c">0.04</text><text x="1197.5" y="1046.0" font-size="34" textLength="74.1" lengthAdjust="spacingAndGlyphs" fill="#1c1c1c">0.06</text><text x="1197.5" y="957.7" font-size="34" textLength="74.1" lengthAdjust="spacingAndGlyphs" fill="#1c1c1c">0.08</text><text x="1197.5" y="869.4" font-size="34" textLength="52.9" lengthAdjust="spacingAndGlyphs" fill="#1c1c1c">0.1</text><path d="M1183.6 1210.5h-6M1183.6 1122.2h-6M1183.6 1033.8h-6M1183.6 945.5h-6" stroke="#222" stroke-width="1.2" fill="none"/>
<g transform="translate(1272,532.5) rotate(-90)"><text font-size="34" text-anchor="middle" textLength="380" lengthAdjust="spacingAndGlyphs" fill="#1c1c1c">Salinity gradient [km<tspan dy="-16" font-size="26">−1</tspan><tspan dy="16">]</tspan></text></g>
<g transform="translate(1329.5,1079) rotate(-90)"><text font-size="33" text-anchor="middle" textLength="530" lengthAdjust="spacingAndGlyphs" fill="#1c1c1c">Intensity of exchane flow [m s<tspan dy="-16" font-size="26">−1</tspan><tspan dy="16">]</tspan></text></g>
</svg>
</div>
</body></html>
